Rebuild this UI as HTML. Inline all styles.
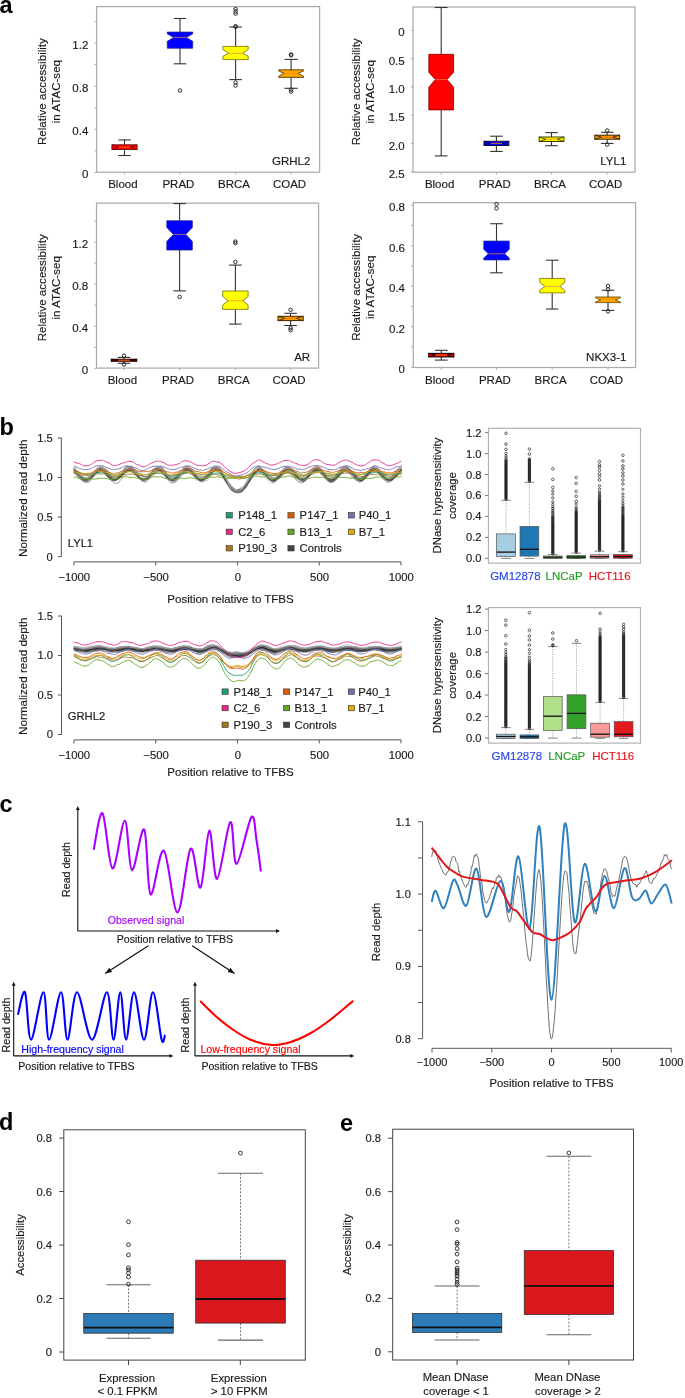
<!DOCTYPE html>
<html><head><meta charset="utf-8"><style>
html,body{margin:0;padding:0;background:#fff;}
svg{display:block;will-change:transform;}
text{font-family:"Liberation Sans", sans-serif;}
</style></head><body>
<svg width="685" height="1398" viewBox="0 0 685 1398">
<rect width="685" height="1398" fill="#fff"/>
<text x="-0.50" y="12.60" font-size="23.5" text-anchor="start" fill="#000" font-weight="bold">a</text>
<text x="-0.50" y="435.00" font-size="23.5" text-anchor="start" fill="#000" font-weight="bold">b</text>
<text x="-0.50" y="811.70" font-size="23.5" text-anchor="start" fill="#000" font-weight="bold">c</text>
<text x="-1.00" y="1130.00" font-size="23.5" text-anchor="start" fill="#000" font-weight="bold">d</text>
<text x="340.00" y="1130.60" font-size="23.5" text-anchor="start" fill="#000" font-weight="bold">e</text>
<rect x="96.60" y="6.60" width="223.00" height="165.60" fill="none" stroke="#ababab" stroke-width="1.25"/>
<line x1="94.40" y1="172.40" x2="96.60" y2="172.40" stroke="#ababab" stroke-width="1"/>
<line x1="94.40" y1="150.86" x2="96.60" y2="150.86" stroke="#ababab" stroke-width="1"/>
<line x1="94.40" y1="129.32" x2="96.60" y2="129.32" stroke="#ababab" stroke-width="1"/>
<line x1="94.40" y1="107.78" x2="96.60" y2="107.78" stroke="#ababab" stroke-width="1"/>
<line x1="94.40" y1="86.24" x2="96.60" y2="86.24" stroke="#ababab" stroke-width="1"/>
<line x1="94.40" y1="64.70" x2="96.60" y2="64.70" stroke="#ababab" stroke-width="1"/>
<line x1="94.40" y1="43.16" x2="96.60" y2="43.16" stroke="#ababab" stroke-width="1"/>
<line x1="94.40" y1="21.62" x2="96.60" y2="21.62" stroke="#ababab" stroke-width="1"/>
<text x="88.30" y="178.30" font-size="11.5" text-anchor="end" fill="#1a1a1a" font-weight="normal" stroke="#1a1a1a" stroke-width="0.15">0</text>
<text x="88.30" y="135.22" font-size="11.5" text-anchor="end" fill="#1a1a1a" font-weight="normal" stroke="#1a1a1a" stroke-width="0.15">0.4</text>
<text x="88.30" y="92.14" font-size="11.5" text-anchor="end" fill="#1a1a1a" font-weight="normal" stroke="#1a1a1a" stroke-width="0.15">0.8</text>
<text x="88.30" y="49.06" font-size="11.5" text-anchor="end" fill="#1a1a1a" font-weight="normal" stroke="#1a1a1a" stroke-width="0.15">1.2</text>
<line x1="124.50" y1="172.20" x2="124.50" y2="174.40" stroke="#ababab" stroke-width="1"/>
<line x1="180.00" y1="172.20" x2="180.00" y2="174.40" stroke="#ababab" stroke-width="1"/>
<line x1="235.60" y1="172.20" x2="235.60" y2="174.40" stroke="#ababab" stroke-width="1"/>
<line x1="291.10" y1="172.20" x2="291.10" y2="174.40" stroke="#ababab" stroke-width="1"/>
<text x="122.90" y="187.70" font-size="11.5" text-anchor="middle" fill="#1a1a1a" font-weight="normal" stroke="#1a1a1a" stroke-width="0.15">Blood</text>
<text x="178.40" y="187.70" font-size="11.5" text-anchor="middle" fill="#1a1a1a" font-weight="normal" stroke="#1a1a1a" stroke-width="0.15">PRAD</text>
<text x="234.00" y="187.70" font-size="11.5" text-anchor="middle" fill="#1a1a1a" font-weight="normal" stroke="#1a1a1a" stroke-width="0.15">BRCA</text>
<text x="289.50" y="187.70" font-size="11.5" text-anchor="middle" fill="#1a1a1a" font-weight="normal" stroke="#1a1a1a" stroke-width="0.15">COAD</text>
<text x="46.30" y="91.60" font-size="11.6" text-anchor="middle" fill="#1a1a1a" font-weight="normal" stroke="#1a1a1a" stroke-width="0.15" transform="rotate(-90 46.30 91.60)">Relative accessibility</text>
<text x="60.10" y="91.60" font-size="11.6" text-anchor="middle" fill="#1a1a1a" font-weight="normal" stroke="#1a1a1a" stroke-width="0.15" transform="rotate(-90 60.10 91.60)">in ATAC-seq</text>
<text x="310.40" y="164.70" font-size="11.5" text-anchor="end" fill="#1a1a1a" font-weight="normal" stroke="#1a1a1a" stroke-width="0.15">GRHL2</text>
<line x1="124.50" y1="139.90" x2="124.50" y2="144.80" stroke="#333" stroke-width="1.1"/>
<line x1="124.50" y1="149.60" x2="124.50" y2="155.50" stroke="#333" stroke-width="1.1"/>
<line x1="118.30" y1="139.90" x2="130.70" y2="139.90" stroke="#333" stroke-width="1.1"/>
<line x1="118.30" y1="155.50" x2="130.70" y2="155.50" stroke="#333" stroke-width="1.1"/>
<rect x="111.90" y="144.80" width="25.20" height="4.80" fill="#ff0000" stroke="#600000" stroke-width="0.8"/>
<path d="M111.9,144.8 L118.8,147.2 L111.9,149.6" stroke="#600000" stroke-width="0.7200000000000001" fill="none"/>
<path d="M137.1,144.8 L130.2,147.2 L137.1,149.6" stroke="#600000" stroke-width="0.7200000000000001" fill="none"/>
<line x1="118.83" y1="147.20" x2="130.17" y2="147.20" stroke="#ff7f00" stroke-width="0.8"/>
<line x1="180.00" y1="18.50" x2="180.00" y2="32.10" stroke="#333" stroke-width="1.1"/>
<line x1="180.00" y1="48.20" x2="180.00" y2="63.80" stroke="#333" stroke-width="1.1"/>
<line x1="173.70" y1="18.50" x2="186.30" y2="18.50" stroke="#333" stroke-width="1.1"/>
<line x1="173.70" y1="63.80" x2="186.30" y2="63.80" stroke="#333" stroke-width="1.1"/>
<path d="M167.3,32.1 L192.7,32.1 L192.7,33.9 L186.2,37.4 L192.7,41.3 L192.7,48.2 L167.3,48.2 L167.3,41.3 L173.8,37.4 L167.3,33.9Z" stroke="#2020a0" stroke-width="0.8" fill="#0000ff"/>
<line x1="173.80" y1="37.40" x2="186.20" y2="37.40" stroke="#ff8040" stroke-width="0.7"/>
<circle cx="180.00" cy="90.50" r="1.75" fill="none" stroke="#222" stroke-width="0.95"/>
<line x1="235.60" y1="27.00" x2="235.60" y2="46.40" stroke="#333" stroke-width="1.1"/>
<line x1="235.60" y1="59.60" x2="235.60" y2="79.60" stroke="#333" stroke-width="1.1"/>
<line x1="229.30" y1="27.00" x2="241.90" y2="27.00" stroke="#333" stroke-width="1.1"/>
<line x1="229.30" y1="79.60" x2="241.90" y2="79.60" stroke="#333" stroke-width="1.1"/>
<path d="M222.9,46.4 L248.2,46.4 L248.2,49.6 L242.6,53.4 L248.2,56.2 L248.2,59.6 L222.9,59.6 L222.9,56.2 L228.6,53.4 L222.9,49.6Z" stroke="#707000" stroke-width="0.8" fill="#ffff00"/>
<line x1="228.60" y1="53.40" x2="242.60" y2="53.40" stroke="#ff8040" stroke-width="0.7"/>
<circle cx="235.60" cy="26.30" r="1.75" fill="none" stroke="#222" stroke-width="0.95"/>
<circle cx="235.60" cy="26.60" r="1.75" fill="none" stroke="#222" stroke-width="0.95"/>
<circle cx="235.60" cy="9.00" r="1.75" fill="none" stroke="#222" stroke-width="0.95"/>
<circle cx="235.60" cy="11.50" r="1.75" fill="none" stroke="#222" stroke-width="0.95"/>
<circle cx="235.60" cy="13.60" r="1.75" fill="none" stroke="#222" stroke-width="0.95"/>
<circle cx="235.60" cy="82.50" r="1.75" fill="none" stroke="#222" stroke-width="0.95"/>
<circle cx="235.60" cy="85.50" r="1.75" fill="none" stroke="#222" stroke-width="0.95"/>
<line x1="291.10" y1="59.40" x2="291.10" y2="69.80" stroke="#333" stroke-width="1.1"/>
<line x1="291.10" y1="77.40" x2="291.10" y2="88.30" stroke="#333" stroke-width="1.1"/>
<line x1="284.50" y1="59.40" x2="297.70" y2="59.40" stroke="#333" stroke-width="1.1"/>
<line x1="284.50" y1="88.30" x2="297.70" y2="88.30" stroke="#333" stroke-width="1.1"/>
<path d="M278.7,69.8 L303.5,69.8 L303.5,70.9 L298.1,73.4 L303.5,76.2 L303.5,77.4 L278.7,77.4 L278.7,76.2 L284.1,73.4 L278.7,70.9Z" stroke="#3a2a00" stroke-width="0.8" fill="#ffa500"/>
<line x1="284.10" y1="73.40" x2="298.10" y2="73.40" stroke="#ff9000" stroke-width="0.7"/>
<circle cx="291.10" cy="54.50" r="1.75" fill="none" stroke="#222" stroke-width="0.95"/>
<circle cx="291.10" cy="55.30" r="1.75" fill="none" stroke="#222" stroke-width="0.95"/>
<circle cx="291.10" cy="89.60" r="1.75" fill="none" stroke="#222" stroke-width="0.95"/>
<circle cx="291.10" cy="91.60" r="1.75" fill="none" stroke="#222" stroke-width="0.95"/>
<rect x="413.00" y="7.00" width="222.00" height="165.20" fill="none" stroke="#ababab" stroke-width="1.25"/>
<line x1="410.80" y1="30.40" x2="413.00" y2="30.40" stroke="#ababab" stroke-width="1"/>
<line x1="410.80" y1="58.70" x2="413.00" y2="58.70" stroke="#ababab" stroke-width="1"/>
<line x1="410.80" y1="87.00" x2="413.00" y2="87.00" stroke="#ababab" stroke-width="1"/>
<line x1="410.80" y1="115.30" x2="413.00" y2="115.30" stroke="#ababab" stroke-width="1"/>
<line x1="410.80" y1="143.60" x2="413.00" y2="143.60" stroke="#ababab" stroke-width="1"/>
<line x1="410.80" y1="171.90" x2="413.00" y2="171.90" stroke="#ababab" stroke-width="1"/>
<text x="404.70" y="36.30" font-size="11.5" text-anchor="end" fill="#1a1a1a" font-weight="normal" stroke="#1a1a1a" stroke-width="0.15">0</text>
<text x="404.70" y="64.60" font-size="11.5" text-anchor="end" fill="#1a1a1a" font-weight="normal" stroke="#1a1a1a" stroke-width="0.15">0.5</text>
<text x="404.70" y="92.90" font-size="11.5" text-anchor="end" fill="#1a1a1a" font-weight="normal" stroke="#1a1a1a" stroke-width="0.15">1.0</text>
<text x="404.70" y="121.20" font-size="11.5" text-anchor="end" fill="#1a1a1a" font-weight="normal" stroke="#1a1a1a" stroke-width="0.15">1.5</text>
<text x="404.70" y="149.50" font-size="11.5" text-anchor="end" fill="#1a1a1a" font-weight="normal" stroke="#1a1a1a" stroke-width="0.15">2.0</text>
<text x="404.70" y="177.80" font-size="11.5" text-anchor="end" fill="#1a1a1a" font-weight="normal" stroke="#1a1a1a" stroke-width="0.15">2.5</text>
<line x1="441.20" y1="172.20" x2="441.20" y2="174.40" stroke="#ababab" stroke-width="1"/>
<line x1="496.40" y1="172.20" x2="496.40" y2="174.40" stroke="#ababab" stroke-width="1"/>
<line x1="551.50" y1="172.20" x2="551.50" y2="174.40" stroke="#ababab" stroke-width="1"/>
<line x1="607.20" y1="172.20" x2="607.20" y2="174.40" stroke="#ababab" stroke-width="1"/>
<text x="439.60" y="187.70" font-size="11.5" text-anchor="middle" fill="#1a1a1a" font-weight="normal" stroke="#1a1a1a" stroke-width="0.15">Blood</text>
<text x="494.80" y="187.70" font-size="11.5" text-anchor="middle" fill="#1a1a1a" font-weight="normal" stroke="#1a1a1a" stroke-width="0.15">PRAD</text>
<text x="549.90" y="187.70" font-size="11.5" text-anchor="middle" fill="#1a1a1a" font-weight="normal" stroke="#1a1a1a" stroke-width="0.15">BRCA</text>
<text x="605.60" y="187.70" font-size="11.5" text-anchor="middle" fill="#1a1a1a" font-weight="normal" stroke="#1a1a1a" stroke-width="0.15">COAD</text>
<text x="360.30" y="91.80" font-size="11.6" text-anchor="middle" fill="#1a1a1a" font-weight="normal" stroke="#1a1a1a" stroke-width="0.15" transform="rotate(-90 360.30 91.80)">Relative accessibility</text>
<text x="374.10" y="91.80" font-size="11.6" text-anchor="middle" fill="#1a1a1a" font-weight="normal" stroke="#1a1a1a" stroke-width="0.15" transform="rotate(-90 374.10 91.80)">in ATAC-seq</text>
<text x="626.30" y="164.70" font-size="11.5" text-anchor="end" fill="#1a1a1a" font-weight="normal" stroke="#1a1a1a" stroke-width="0.15">LYL1</text>
<line x1="441.20" y1="7.50" x2="441.20" y2="54.30" stroke="#333" stroke-width="1.1"/>
<line x1="441.20" y1="109.90" x2="441.20" y2="155.90" stroke="#333" stroke-width="1.1"/>
<line x1="434.85" y1="7.50" x2="447.55" y2="7.50" stroke="#333" stroke-width="1.1"/>
<line x1="434.85" y1="155.90" x2="447.55" y2="155.90" stroke="#333" stroke-width="1.1"/>
<path d="M428.8,54.3 L453.6,54.3 L453.6,72.3 L447.1,79.6 L453.6,87.3 L453.6,109.9 L428.8,109.9 L428.8,87.3 L435.3,79.6 L428.8,72.3Z" stroke="#800000" stroke-width="0.8" fill="#ff0000"/>
<line x1="435.35" y1="79.60" x2="447.05" y2="79.60" stroke="#ff8040" stroke-width="0.7"/>
<line x1="496.40" y1="136.20" x2="496.40" y2="141.30" stroke="#333" stroke-width="1.1"/>
<line x1="496.40" y1="145.50" x2="496.40" y2="151.40" stroke="#333" stroke-width="1.1"/>
<line x1="490.10" y1="136.20" x2="502.70" y2="136.20" stroke="#333" stroke-width="1.1"/>
<line x1="490.10" y1="151.40" x2="502.70" y2="151.40" stroke="#333" stroke-width="1.1"/>
<rect x="484.00" y="141.30" width="24.80" height="4.20" fill="#0000ff" stroke="#000040" stroke-width="1.0"/>
<path d="M484.0,141.3 L490.8,143.4 L484.0,145.5" stroke="#000040" stroke-width="0.9" fill="none"/>
<path d="M508.8,141.3 L502.0,143.4 L508.8,145.5" stroke="#000040" stroke-width="0.9" fill="none"/>
<line x1="490.82" y1="143.40" x2="501.98" y2="143.40" stroke="#ff7f00" stroke-width="0.8"/>
<line x1="551.50" y1="132.60" x2="551.50" y2="137.00" stroke="#333" stroke-width="1.1"/>
<line x1="551.50" y1="141.50" x2="551.50" y2="145.70" stroke="#333" stroke-width="1.1"/>
<line x1="545.20" y1="132.60" x2="557.80" y2="132.60" stroke="#333" stroke-width="1.1"/>
<line x1="545.20" y1="145.70" x2="557.80" y2="145.70" stroke="#333" stroke-width="1.1"/>
<rect x="539.10" y="137.00" width="24.80" height="4.50" fill="#ffff00" stroke="#404000" stroke-width="1.0"/>
<path d="M539.1,137.0 L545.9,139.2 L539.1,141.5" stroke="#404000" stroke-width="0.9" fill="none"/>
<path d="M563.9,137.0 L557.1,139.2 L563.9,141.5" stroke="#404000" stroke-width="0.9" fill="none"/>
<line x1="545.92" y1="139.20" x2="557.08" y2="139.20" stroke="#ff7f00" stroke-width="0.8"/>
<line x1="607.20" y1="132.30" x2="607.20" y2="135.20" stroke="#333" stroke-width="1.1"/>
<line x1="607.20" y1="139.20" x2="607.20" y2="143.40" stroke="#333" stroke-width="1.1"/>
<line x1="600.90" y1="132.30" x2="613.50" y2="132.30" stroke="#333" stroke-width="1.1"/>
<line x1="600.90" y1="143.40" x2="613.50" y2="143.40" stroke="#333" stroke-width="1.1"/>
<rect x="594.80" y="135.20" width="24.80" height="4.00" fill="#ffa500" stroke="#402000" stroke-width="1.0"/>
<path d="M594.8,135.2 L601.6,137.2 L594.8,139.2" stroke="#402000" stroke-width="0.9" fill="none"/>
<path d="M619.6,135.2 L612.8,137.2 L619.6,139.2" stroke="#402000" stroke-width="0.9" fill="none"/>
<line x1="601.62" y1="137.20" x2="612.78" y2="137.20" stroke="#ff6000" stroke-width="0.8"/>
<circle cx="607.20" cy="130.50" r="1.75" fill="none" stroke="#222" stroke-width="0.95"/>
<circle cx="607.20" cy="144.60" r="1.75" fill="none" stroke="#222" stroke-width="0.95"/>
<rect x="96.50" y="203.10" width="222.10" height="165.00" fill="none" stroke="#ababab" stroke-width="1.25"/>
<line x1="94.30" y1="368.40" x2="96.50" y2="368.40" stroke="#ababab" stroke-width="1"/>
<line x1="94.30" y1="347.34" x2="96.50" y2="347.34" stroke="#ababab" stroke-width="1"/>
<line x1="94.30" y1="326.28" x2="96.50" y2="326.28" stroke="#ababab" stroke-width="1"/>
<line x1="94.30" y1="305.22" x2="96.50" y2="305.22" stroke="#ababab" stroke-width="1"/>
<line x1="94.30" y1="284.16" x2="96.50" y2="284.16" stroke="#ababab" stroke-width="1"/>
<line x1="94.30" y1="263.10" x2="96.50" y2="263.10" stroke="#ababab" stroke-width="1"/>
<line x1="94.30" y1="242.04" x2="96.50" y2="242.04" stroke="#ababab" stroke-width="1"/>
<line x1="94.30" y1="220.98" x2="96.50" y2="220.98" stroke="#ababab" stroke-width="1"/>
<text x="88.20" y="374.30" font-size="11.5" text-anchor="end" fill="#1a1a1a" font-weight="normal" stroke="#1a1a1a" stroke-width="0.15">0</text>
<text x="88.20" y="332.18" font-size="11.5" text-anchor="end" fill="#1a1a1a" font-weight="normal" stroke="#1a1a1a" stroke-width="0.15">0.4</text>
<text x="88.20" y="290.06" font-size="11.5" text-anchor="end" fill="#1a1a1a" font-weight="normal" stroke="#1a1a1a" stroke-width="0.15">0.8</text>
<text x="88.20" y="247.94" font-size="11.5" text-anchor="end" fill="#1a1a1a" font-weight="normal" stroke="#1a1a1a" stroke-width="0.15">1.2</text>
<line x1="124.00" y1="368.10" x2="124.00" y2="370.30" stroke="#ababab" stroke-width="1"/>
<line x1="179.60" y1="368.10" x2="179.60" y2="370.30" stroke="#ababab" stroke-width="1"/>
<line x1="235.40" y1="368.10" x2="235.40" y2="370.30" stroke="#ababab" stroke-width="1"/>
<line x1="290.60" y1="368.10" x2="290.60" y2="370.30" stroke="#ababab" stroke-width="1"/>
<text x="122.40" y="383.60" font-size="11.5" text-anchor="middle" fill="#1a1a1a" font-weight="normal" stroke="#1a1a1a" stroke-width="0.15">Blood</text>
<text x="178.00" y="383.60" font-size="11.5" text-anchor="middle" fill="#1a1a1a" font-weight="normal" stroke="#1a1a1a" stroke-width="0.15">PRAD</text>
<text x="233.80" y="383.60" font-size="11.5" text-anchor="middle" fill="#1a1a1a" font-weight="normal" stroke="#1a1a1a" stroke-width="0.15">BRCA</text>
<text x="289.00" y="383.60" font-size="11.5" text-anchor="middle" fill="#1a1a1a" font-weight="normal" stroke="#1a1a1a" stroke-width="0.15">COAD</text>
<text x="46.30" y="287.80" font-size="11.6" text-anchor="middle" fill="#1a1a1a" font-weight="normal" stroke="#1a1a1a" stroke-width="0.15" transform="rotate(-90 46.30 287.80)">Relative accessibility</text>
<text x="60.10" y="287.80" font-size="11.6" text-anchor="middle" fill="#1a1a1a" font-weight="normal" stroke="#1a1a1a" stroke-width="0.15" transform="rotate(-90 60.10 287.80)">in ATAC-seq</text>
<text x="310.20" y="360.90" font-size="11.5" text-anchor="end" fill="#1a1a1a" font-weight="normal" stroke="#1a1a1a" stroke-width="0.15">AR</text>
<line x1="124.00" y1="357.40" x2="124.00" y2="359.30" stroke="#333" stroke-width="1.1"/>
<line x1="124.00" y1="361.20" x2="124.00" y2="363.30" stroke="#333" stroke-width="1.1"/>
<line x1="117.70" y1="357.40" x2="130.30" y2="357.40" stroke="#333" stroke-width="1.1"/>
<line x1="117.70" y1="363.30" x2="130.30" y2="363.30" stroke="#333" stroke-width="1.1"/>
<rect x="111.30" y="359.30" width="25.40" height="1.90" fill="#ff0000" stroke="#200000" stroke-width="1.1"/>
<path d="M111.3,359.3 L118.3,360.2 L111.3,361.2" stroke="#200000" stroke-width="0.9900000000000001" fill="none"/>
<path d="M136.7,359.3 L129.7,360.2 L136.7,361.2" stroke="#200000" stroke-width="0.9900000000000001" fill="none"/>
<line x1="118.28" y1="360.20" x2="129.72" y2="360.20" stroke="#ff7f00" stroke-width="0.8"/>
<circle cx="124.00" cy="355.70" r="1.75" fill="none" stroke="#222" stroke-width="0.95"/>
<circle cx="124.00" cy="364.40" r="1.75" fill="none" stroke="#222" stroke-width="0.95"/>
<line x1="179.60" y1="203.60" x2="179.60" y2="220.80" stroke="#333" stroke-width="1.1"/>
<line x1="179.60" y1="250.00" x2="179.60" y2="290.90" stroke="#333" stroke-width="1.1"/>
<line x1="173.40" y1="203.60" x2="185.80" y2="203.60" stroke="#333" stroke-width="1.1"/>
<line x1="173.40" y1="290.90" x2="185.80" y2="290.90" stroke="#333" stroke-width="1.1"/>
<path d="M166.8,220.8 L192.3,220.8 L192.3,227.4 L185.8,234.4 L192.3,241.4 L192.3,250.0 L166.8,250.0 L166.8,241.4 L173.4,234.4 L166.8,227.4Z" stroke="#2020a0" stroke-width="0.8" fill="#0000ff"/>
<line x1="173.40" y1="234.40" x2="185.80" y2="234.40" stroke="#ff8040" stroke-width="0.7"/>
<circle cx="179.60" cy="296.90" r="1.75" fill="none" stroke="#222" stroke-width="0.95"/>
<line x1="235.40" y1="265.10" x2="235.40" y2="291.00" stroke="#333" stroke-width="1.1"/>
<line x1="235.40" y1="309.40" x2="235.40" y2="324.10" stroke="#333" stroke-width="1.1"/>
<line x1="229.10" y1="265.10" x2="241.70" y2="265.10" stroke="#333" stroke-width="1.1"/>
<line x1="229.10" y1="324.10" x2="241.70" y2="324.10" stroke="#333" stroke-width="1.1"/>
<path d="M222.7,291.0 L248.1,291.0 L248.1,296.6 L242.8,300.7 L248.1,304.9 L248.1,309.4 L222.7,309.4 L222.7,304.9 L228.0,300.7 L222.7,296.6Z" stroke="#707000" stroke-width="0.8" fill="#ffff00"/>
<line x1="227.95" y1="300.70" x2="242.85" y2="300.70" stroke="#ff8040" stroke-width="0.7"/>
<circle cx="235.40" cy="261.90" r="1.75" fill="none" stroke="#222" stroke-width="0.95"/>
<circle cx="235.40" cy="241.60" r="1.75" fill="none" stroke="#222" stroke-width="0.95"/>
<circle cx="235.40" cy="243.20" r="1.75" fill="none" stroke="#222" stroke-width="0.95"/>
<line x1="290.60" y1="313.30" x2="290.60" y2="316.30" stroke="#333" stroke-width="1.1"/>
<line x1="290.60" y1="320.60" x2="290.60" y2="325.50" stroke="#333" stroke-width="1.1"/>
<line x1="284.30" y1="313.30" x2="296.90" y2="313.30" stroke="#333" stroke-width="1.1"/>
<line x1="284.30" y1="325.50" x2="296.90" y2="325.50" stroke="#333" stroke-width="1.1"/>
<rect x="278.00" y="316.30" width="25.20" height="4.30" fill="#ffa500" stroke="#402000" stroke-width="1.0"/>
<path d="M278.0,316.3 L284.9,318.4 L278.0,320.6" stroke="#402000" stroke-width="0.9" fill="none"/>
<path d="M303.2,316.3 L296.3,318.4 L303.2,320.6" stroke="#402000" stroke-width="0.9" fill="none"/>
<line x1="284.93" y1="318.40" x2="296.27" y2="318.40" stroke="#ff6000" stroke-width="0.8"/>
<circle cx="290.60" cy="309.80" r="1.75" fill="none" stroke="#222" stroke-width="0.95"/>
<circle cx="290.60" cy="328.20" r="1.75" fill="none" stroke="#222" stroke-width="0.95"/>
<circle cx="290.60" cy="330.20" r="1.75" fill="none" stroke="#222" stroke-width="0.95"/>
<rect x="413.30" y="202.70" width="222.30" height="164.80" fill="none" stroke="#ababab" stroke-width="1.25"/>
<line x1="411.10" y1="367.20" x2="413.30" y2="367.20" stroke="#ababab" stroke-width="1"/>
<line x1="411.10" y1="346.95" x2="413.30" y2="346.95" stroke="#ababab" stroke-width="1"/>
<line x1="411.10" y1="326.70" x2="413.30" y2="326.70" stroke="#ababab" stroke-width="1"/>
<line x1="411.10" y1="306.45" x2="413.30" y2="306.45" stroke="#ababab" stroke-width="1"/>
<line x1="411.10" y1="286.20" x2="413.30" y2="286.20" stroke="#ababab" stroke-width="1"/>
<line x1="411.10" y1="265.95" x2="413.30" y2="265.95" stroke="#ababab" stroke-width="1"/>
<line x1="411.10" y1="245.70" x2="413.30" y2="245.70" stroke="#ababab" stroke-width="1"/>
<line x1="411.10" y1="225.45" x2="413.30" y2="225.45" stroke="#ababab" stroke-width="1"/>
<line x1="411.10" y1="205.20" x2="413.30" y2="205.20" stroke="#ababab" stroke-width="1"/>
<text x="405.00" y="373.10" font-size="11.5" text-anchor="end" fill="#1a1a1a" font-weight="normal" stroke="#1a1a1a" stroke-width="0.15">0</text>
<text x="405.00" y="332.60" font-size="11.5" text-anchor="end" fill="#1a1a1a" font-weight="normal" stroke="#1a1a1a" stroke-width="0.15">0.2</text>
<text x="405.00" y="292.10" font-size="11.5" text-anchor="end" fill="#1a1a1a" font-weight="normal" stroke="#1a1a1a" stroke-width="0.15">0.4</text>
<text x="405.00" y="251.60" font-size="11.5" text-anchor="end" fill="#1a1a1a" font-weight="normal" stroke="#1a1a1a" stroke-width="0.15">0.6</text>
<text x="405.00" y="211.10" font-size="11.5" text-anchor="end" fill="#1a1a1a" font-weight="normal" stroke="#1a1a1a" stroke-width="0.15">0.8</text>
<line x1="441.30" y1="367.50" x2="441.30" y2="369.70" stroke="#ababab" stroke-width="1"/>
<line x1="496.50" y1="367.50" x2="496.50" y2="369.70" stroke="#ababab" stroke-width="1"/>
<line x1="552.20" y1="367.50" x2="552.20" y2="369.70" stroke="#ababab" stroke-width="1"/>
<line x1="608.00" y1="367.50" x2="608.00" y2="369.70" stroke="#ababab" stroke-width="1"/>
<text x="439.70" y="383.70" font-size="11.5" text-anchor="middle" fill="#1a1a1a" font-weight="normal" stroke="#1a1a1a" stroke-width="0.15">Blood</text>
<text x="494.90" y="383.70" font-size="11.5" text-anchor="middle" fill="#1a1a1a" font-weight="normal" stroke="#1a1a1a" stroke-width="0.15">PRAD</text>
<text x="550.60" y="383.70" font-size="11.5" text-anchor="middle" fill="#1a1a1a" font-weight="normal" stroke="#1a1a1a" stroke-width="0.15">BRCA</text>
<text x="606.40" y="383.70" font-size="11.5" text-anchor="middle" fill="#1a1a1a" font-weight="normal" stroke="#1a1a1a" stroke-width="0.15">COAD</text>
<text x="360.30" y="287.30" font-size="11.6" text-anchor="middle" fill="#1a1a1a" font-weight="normal" stroke="#1a1a1a" stroke-width="0.15" transform="rotate(-90 360.30 287.30)">Relative accessibility</text>
<text x="374.10" y="287.30" font-size="11.6" text-anchor="middle" fill="#1a1a1a" font-weight="normal" stroke="#1a1a1a" stroke-width="0.15" transform="rotate(-90 374.10 287.30)">in ATAC-seq</text>
<text x="626.40" y="360.90" font-size="11.5" text-anchor="end" fill="#1a1a1a" font-weight="normal" stroke="#1a1a1a" stroke-width="0.15">NKX3-1</text>
<line x1="441.30" y1="350.30" x2="441.30" y2="353.40" stroke="#333" stroke-width="1.1"/>
<line x1="441.30" y1="356.90" x2="441.30" y2="360.10" stroke="#333" stroke-width="1.1"/>
<line x1="435.00" y1="350.30" x2="447.60" y2="350.30" stroke="#333" stroke-width="1.1"/>
<line x1="435.00" y1="360.10" x2="447.60" y2="360.10" stroke="#333" stroke-width="1.1"/>
<rect x="428.75" y="353.40" width="25.10" height="3.50" fill="#ff0000" stroke="#200000" stroke-width="1.1"/>
<path d="M428.8,353.4 L435.7,355.1 L428.8,356.9" stroke="#200000" stroke-width="0.9900000000000001" fill="none"/>
<path d="M453.9,353.4 L446.9,355.1 L453.9,356.9" stroke="#200000" stroke-width="0.9900000000000001" fill="none"/>
<line x1="435.65" y1="355.10" x2="446.95" y2="355.10" stroke="#ff7f00" stroke-width="0.8"/>
<line x1="496.50" y1="223.70" x2="496.50" y2="241.10" stroke="#333" stroke-width="1.1"/>
<line x1="496.50" y1="259.90" x2="496.50" y2="272.80" stroke="#333" stroke-width="1.1"/>
<line x1="490.20" y1="223.70" x2="502.80" y2="223.70" stroke="#333" stroke-width="1.1"/>
<line x1="490.20" y1="272.80" x2="502.80" y2="272.80" stroke="#333" stroke-width="1.1"/>
<path d="M483.8,241.1 L509.2,241.1 L509.2,249.3 L504.7,253.8 L509.2,258.0 L509.2,259.9 L483.8,259.9 L483.8,258.0 L488.3,253.8 L483.8,249.3Z" stroke="#2020a0" stroke-width="0.8" fill="#0000ff"/>
<line x1="488.30" y1="253.80" x2="504.70" y2="253.80" stroke="#ff8040" stroke-width="0.7"/>
<circle cx="496.50" cy="208.40" r="1.75" fill="none" stroke="#222" stroke-width="0.95"/>
<circle cx="496.50" cy="204.20" r="1.75" fill="none" stroke="#222" stroke-width="0.95"/>
<line x1="552.20" y1="260.20" x2="552.20" y2="278.40" stroke="#333" stroke-width="1.1"/>
<line x1="552.20" y1="292.90" x2="552.20" y2="309.00" stroke="#333" stroke-width="1.1"/>
<line x1="545.95" y1="260.20" x2="558.45" y2="260.20" stroke="#333" stroke-width="1.1"/>
<line x1="545.95" y1="309.00" x2="558.45" y2="309.00" stroke="#333" stroke-width="1.1"/>
<path d="M539.7,278.4 L564.8,278.4 L564.8,282.4 L559.7,286.4 L564.8,290.3 L564.8,292.9 L539.7,292.9 L539.7,290.3 L544.8,286.4 L539.7,282.4Z" stroke="#707000" stroke-width="0.8" fill="#ffff00"/>
<line x1="544.75" y1="286.40" x2="559.65" y2="286.40" stroke="#ff8040" stroke-width="0.7"/>
<line x1="608.00" y1="290.30" x2="608.00" y2="297.00" stroke="#333" stroke-width="1.1"/>
<line x1="608.00" y1="302.60" x2="608.00" y2="310.40" stroke="#333" stroke-width="1.1"/>
<line x1="601.70" y1="290.30" x2="614.30" y2="290.30" stroke="#333" stroke-width="1.1"/>
<line x1="601.70" y1="310.40" x2="614.30" y2="310.40" stroke="#333" stroke-width="1.1"/>
<path d="M595.3,297.0 L620.7,297.0 L620.7,297.6 L615.3,299.9 L620.7,302.0 L620.7,302.6 L595.3,302.6 L595.3,302.0 L600.7,299.9 L595.3,297.6Z" stroke="#604000" stroke-width="0.8" fill="#ffa500"/>
<line x1="600.70" y1="299.90" x2="615.30" y2="299.90" stroke="#ff9000" stroke-width="0.7"/>
<circle cx="608.00" cy="285.90" r="1.75" fill="none" stroke="#222" stroke-width="0.95"/>
<circle cx="608.00" cy="289.40" r="1.75" fill="none" stroke="#222" stroke-width="0.95"/>
<circle cx="608.00" cy="311.30" r="1.75" fill="none" stroke="#222" stroke-width="0.95"/>
<path d="M73.8,471.4 L74.9,472.0 L76.0,472.5 L77.1,473.7 L78.2,475.1 L79.3,476.4 L80.4,477.6 L81.5,479.2 L82.6,480.3 L83.7,480.6 L84.8,481.8 L85.9,482.3 L87.0,481.9 L88.1,481.6 L89.2,481.5 L90.3,480.4 L91.4,479.4 L92.5,477.9 L93.6,476.6 L94.7,475.5 L95.8,474.2 L96.9,472.8 L98.0,472.0 L99.1,471.9 L100.2,471.3 L101.3,471.7 L102.4,472.3 L103.5,473.2 L104.6,473.6 L105.7,474.8 L106.8,475.5 L107.9,477.2 L109.0,478.7 L110.1,479.9 L111.2,480.4 L112.3,481.7 L113.4,482.2 L114.5,482.9 L115.6,483.3 L116.7,483.7 L117.8,483.4 L118.9,482.0 L120.0,480.4 L121.1,479.4 L122.2,477.9 L123.3,476.0 L124.4,474.7 L125.5,473.6 L126.6,472.6 L127.7,471.8 L128.8,471.9 L129.9,471.5 L131.0,471.1 L132.1,471.5 L133.2,472.8 L134.3,473.7 L135.4,474.6 L136.5,476.2 L137.6,477.3 L138.7,477.9 L139.8,479.0 L140.9,479.6 L142.0,479.2 L143.1,479.5 L144.2,479.9 L145.3,479.3 L146.4,479.1 L147.5,478.4 L148.6,477.5 L149.7,476.5 L150.8,475.5 L151.9,474.6 L153.0,474.0 L154.1,472.2 L155.2,470.6 L156.3,470.3 L157.4,470.1 L158.5,469.8 L159.6,470.2 L160.7,471.1 L161.8,471.3 L162.9,472.5 L164.0,473.3 L165.1,474.9 L166.2,476.3 L167.3,478.1 L168.4,478.9 L169.5,480.1 L170.6,480.9 L171.7,481.3 L172.8,481.4 L173.9,481.4 L175.0,481.4 L176.1,481.0 L177.2,480.3 L178.3,479.0 L179.4,477.9 L180.5,476.3 L181.6,474.8 L182.7,473.8 L183.8,473.1 L184.9,472.6 L186.0,471.9 L187.1,472.1 L188.2,472.3 L189.3,472.1 L190.4,472.3 L191.5,473.8 L192.6,475.4 L193.7,476.6 L194.8,478.1 L195.9,479.7 L197.0,480.3 L198.1,480.5 L199.2,481.5 L200.3,482.2 L201.4,482.0 L202.5,481.9 L203.6,482.0 L204.7,481.4 L205.8,480.8 L206.9,480.6 L208.0,480.0 L209.1,478.7 L210.2,477.5 L211.3,476.6 L212.4,475.2 L213.5,473.3 L214.6,472.3 L215.7,471.6 L216.8,471.8 L217.9,472.1 L219.0,473.0 L220.1,474.0 L221.2,475.6 L222.3,477.4 L223.4,478.8 L224.5,480.8 L225.6,482.4 L226.7,484.9 L227.8,485.8 L228.9,487.4 L230.0,488.8 L231.1,490.1 L232.2,490.4 L233.3,491.2 L234.4,492.0 L235.5,491.9 L236.6,492.0 L237.7,492.2 L238.8,491.6 L239.9,491.5 L241.0,491.2 L242.1,490.8 L243.2,490.0 L244.3,489.0 L245.4,487.3 L246.5,486.0 L247.6,484.4 L248.7,483.2 L249.8,481.4 L250.9,479.7 L252.0,478.5 L253.1,476.6 L254.2,474.8 L255.3,473.6 L256.4,472.3 L257.5,471.5 L258.6,471.3 L259.7,472.2 L260.8,472.7 L261.9,473.4 L263.0,473.8 L264.1,474.3 L265.2,474.7 L266.3,475.9 L267.4,477.7 L268.5,478.1 L269.6,479.4 L270.7,480.4 L271.8,480.9 L272.9,480.3 L274.0,480.6 L275.1,480.3 L276.2,479.0 L277.3,477.9 L278.4,476.7 L279.5,475.4 L280.6,474.0 L281.7,473.0 L282.8,472.3 L283.9,471.9 L285.0,470.7 L286.1,470.4 L287.2,470.9 L288.3,471.0 L289.4,471.9 L290.5,472.7 L291.6,473.5 L292.7,473.8 L293.8,475.1 L294.9,475.5 L296.0,477.0 L297.1,478.3 L298.2,479.0 L299.3,479.3 L300.4,479.8 L301.5,479.8 L302.6,480.1 L303.7,479.5 L304.8,479.7 L305.9,479.4 L307.0,479.0 L308.1,477.7 L309.2,476.9 L310.3,475.2 L311.4,473.8 L312.5,472.3 L313.6,472.1 L314.7,471.3 L315.8,470.4 L316.9,470.1 L318.0,470.3 L319.1,470.8 L320.2,472.1 L321.3,473.8 L322.4,475.0 L323.5,476.3 L324.6,478.2 L325.7,479.5 L326.8,480.4 L327.9,481.0 L329.0,482.0 L330.1,482.1 L331.2,481.9 L332.3,482.2 L333.4,482.2 L334.5,481.7 L335.6,480.4 L336.7,479.8 L337.8,478.5 L338.9,476.7 L340.0,475.6 L341.1,474.6 L342.2,474.2 L343.3,473.3 L344.4,473.4 L345.5,472.8 L346.6,473.0 L347.7,473.5 L348.8,473.9 L349.9,474.2 L351.0,476.0 L352.1,476.9 L353.2,477.9 L354.3,479.4 L355.4,480.1 L356.5,480.2 L357.6,480.4 L358.7,481.0 L359.8,480.7 L360.9,480.5 L362.0,479.9 L363.1,480.1 L364.2,479.0 L365.3,477.8 L366.4,477.0 L367.5,476.2 L368.6,474.0 L369.7,474.0 L370.8,473.1 L371.9,471.6 L373.0,471.7 L374.1,471.5 L375.2,470.7 L376.3,471.5 L377.4,472.7 L378.5,473.2 L379.6,474.8 L380.7,476.5 L381.8,477.6 L382.9,479.0 L384.0,479.9 L385.1,480.3 L386.2,481.3 L387.3,481.7 L388.4,481.8 L389.5,481.5 L390.6,481.1 L391.7,480.3 L392.8,478.8 L393.9,477.7 L395.0,476.4 L396.1,475.9 L397.2,473.9 L398.3,473.2 L399.4,472.4 L400.5,471.5 L401.6,470.4" stroke="rgb(185,185,185)" stroke-width="0.85" fill="none" stroke-linejoin="round" opacity="0.85"/>
<path d="M73.8,471.4 L74.9,472.4 L76.0,473.7 L77.1,474.6 L78.2,476.1 L79.3,477.5 L80.4,478.5 L81.5,479.5 L82.6,480.5 L83.7,480.7 L84.8,481.6 L85.9,482.6 L87.0,482.5 L88.1,482.0 L89.2,482.0 L90.3,481.1 L91.4,479.5 L92.5,478.4 L93.6,477.3 L94.7,475.9 L95.8,474.3 L96.9,473.1 L98.0,472.7 L99.1,471.7 L100.2,471.2 L101.3,470.9 L102.4,470.9 L103.5,471.2 L104.6,471.7 L105.7,472.6 L106.8,474.4 L107.9,476.0 L109.0,477.3 L110.1,478.9 L111.2,479.7 L112.3,481.1 L113.4,482.4 L114.5,483.1 L115.6,483.4 L116.7,482.9 L117.8,483.0 L118.9,482.0 L120.0,480.8 L121.1,479.3 L122.2,478.2 L123.3,476.2 L124.4,474.5 L125.5,473.4 L126.6,472.7 L127.7,472.1 L128.8,472.0 L129.9,471.4 L131.0,471.3 L132.1,472.4 L133.2,472.4 L134.3,473.3 L135.4,474.5 L136.5,475.4 L137.6,476.7 L138.7,477.4 L139.8,479.0 L140.9,480.1 L142.0,481.1 L143.1,481.0 L144.2,482.0 L145.3,482.3 L146.4,481.9 L147.5,480.7 L148.6,479.6 L149.7,477.7 L150.8,476.0 L151.9,474.4 L153.0,472.6 L154.1,471.5 L155.2,470.9 L156.3,470.4 L157.4,470.3 L158.5,471.2 L159.6,471.1 L160.7,471.9 L161.8,472.0 L162.9,472.6 L164.0,473.0 L165.1,474.7 L166.2,476.1 L167.3,477.8 L168.4,480.0 L169.5,481.1 L170.6,481.9 L171.7,482.4 L172.8,483.0 L173.9,482.9 L175.0,482.5 L176.1,481.6 L177.2,480.6 L178.3,479.4 L179.4,478.9 L180.5,477.6 L181.6,475.9 L182.7,475.2 L183.8,473.5 L184.9,472.3 L186.0,472.4 L187.1,471.6 L188.2,471.3 L189.3,471.5 L190.4,471.8 L191.5,472.0 L192.6,473.5 L193.7,474.6 L194.8,476.3 L195.9,477.9 L197.0,479.3 L198.1,479.8 L199.2,480.5 L200.3,481.2 L201.4,481.1 L202.5,481.6 L203.6,481.5 L204.7,480.8 L205.8,479.7 L206.9,478.8 L208.0,477.1 L209.1,475.1 L210.2,474.0 L211.3,473.1 L212.4,471.5 L213.5,470.7 L214.6,470.1 L215.7,469.5 L216.8,469.5 L217.9,470.1 L219.0,470.5 L220.1,471.6 L221.2,471.9 L222.3,473.8 L223.4,475.7 L224.5,477.3 L225.6,479.8 L226.7,481.9 L227.8,483.3 L228.9,485.0 L230.0,486.9 L231.1,488.3 L232.2,489.1 L233.3,490.6 L234.4,491.3 L235.5,491.8 L236.6,492.0 L237.7,492.0 L238.8,491.4 L239.9,491.0 L241.0,490.4 L242.1,489.2 L243.2,488.5 L244.3,487.0 L245.4,485.4 L246.5,483.9 L247.6,483.1 L248.7,480.6 L249.8,478.4 L250.9,477.3 L252.0,475.6 L253.1,473.8 L254.2,472.5 L255.3,471.9 L256.4,470.6 L257.5,470.4 L258.6,470.6 L259.7,470.9 L260.8,472.3 L261.9,473.6 L263.0,474.5 L264.1,476.0 L265.2,478.1 L266.3,479.3 L267.4,480.0 L268.5,481.1 L269.6,481.9 L270.7,482.5 L271.8,482.8 L272.9,483.3 L274.0,482.9 L275.1,482.0 L276.2,481.0 L277.3,479.7 L278.4,478.6 L279.5,477.0 L280.6,476.5 L281.7,474.8 L282.8,473.7 L283.9,472.6 L285.0,471.8 L286.1,471.0 L287.2,471.5 L288.3,471.9 L289.4,472.9 L290.5,473.8 L291.6,474.4 L292.7,476.4 L293.8,477.4 L294.9,478.5 L296.0,479.9 L297.1,480.9 L298.2,481.0 L299.3,481.7 L300.4,482.0 L301.5,482.4 L302.6,482.3 L303.7,482.4 L304.8,481.3 L305.9,480.0 L307.0,478.4 L308.1,476.9 L309.2,475.3 L310.3,474.2 L311.4,473.4 L312.5,472.0 L313.6,471.0 L314.7,469.8 L315.8,469.2 L316.9,469.0 L318.0,469.6 L319.1,470.6 L320.2,472.0 L321.3,473.0 L322.4,474.6 L323.5,475.8 L324.6,477.5 L325.7,479.0 L326.8,480.0 L327.9,481.2 L329.0,481.6 L330.1,481.7 L331.2,482.2 L332.3,481.8 L333.4,481.0 L334.5,480.2 L335.6,479.1 L336.7,477.3 L337.8,476.0 L338.9,474.7 L340.0,473.7 L341.1,472.0 L342.2,471.6 L343.3,470.5 L344.4,470.7 L345.5,470.1 L346.6,470.2 L347.7,471.5 L348.8,472.7 L349.9,473.4 L351.0,475.1 L352.1,476.9 L353.2,477.1 L354.3,477.9 L355.4,479.5 L356.5,480.4 L357.6,481.3 L358.7,482.2 L359.8,482.2 L360.9,481.5 L362.0,480.8 L363.1,479.6 L364.2,479.3 L365.3,478.3 L366.4,476.7 L367.5,475.5 L368.6,474.3 L369.7,472.6 L370.8,471.7 L371.9,470.8 L373.0,471.3 L374.1,471.1 L375.2,471.5 L376.3,471.9 L377.4,472.3 L378.5,473.7 L379.6,474.5 L380.7,476.2 L381.8,476.6 L382.9,478.5 L384.0,479.1 L385.1,480.1 L386.2,481.0 L387.3,482.0 L388.4,481.6 L389.5,481.3 L390.6,480.6 L391.7,479.8 L392.8,479.0 L393.9,478.4 L395.0,477.0 L396.1,475.6 L397.2,474.0 L398.3,473.1 L399.4,471.7 L400.5,470.4 L401.6,470.4" stroke="rgb(165,165,165)" stroke-width="0.85" fill="none" stroke-linejoin="round" opacity="0.85"/>
<path d="M73.8,471.4 L74.9,471.6 L76.0,472.7 L77.1,474.0 L78.2,475.5 L79.3,476.7 L80.4,478.3 L81.5,479.6 L82.6,481.2 L83.7,481.3 L84.8,481.6 L85.9,481.2 L87.0,480.7 L88.1,480.2 L89.2,479.5 L90.3,478.5 L91.4,477.9 L92.5,476.7 L93.6,474.7 L94.7,473.1 L95.8,472.2 L96.9,471.0 L98.0,469.6 L99.1,469.2 L100.2,469.4 L101.3,470.0 L102.4,470.2 L103.5,471.0 L104.6,472.5 L105.7,473.6 L106.8,474.7 L107.9,476.4 L109.0,477.8 L110.1,479.1 L111.2,480.1 L112.3,480.7 L113.4,480.7 L114.5,480.4 L115.6,480.4 L116.7,480.3 L117.8,479.2 L118.9,478.8 L120.0,477.8 L121.1,476.8 L122.2,475.5 L123.3,474.4 L124.4,472.6 L125.5,471.4 L126.6,469.9 L127.7,469.2 L128.8,469.4 L129.9,469.7 L131.0,470.1 L132.1,471.0 L133.2,472.4 L134.3,473.5 L135.4,474.7 L136.5,475.3 L137.6,476.7 L138.7,477.9 L139.8,478.8 L140.9,480.0 L142.0,481.1 L143.1,481.4 L144.2,482.0 L145.3,482.1 L146.4,481.1 L147.5,480.2 L148.6,479.1 L149.7,478.4 L150.8,476.9 L151.9,476.2 L153.0,474.4 L154.1,473.5 L155.2,472.0 L156.3,471.6 L157.4,471.1 L158.5,470.5 L159.6,470.4 L160.7,471.1 L161.8,472.7 L162.9,474.4 L164.0,475.8 L165.1,476.7 L166.2,478.0 L167.3,479.3 L168.4,480.8 L169.5,481.9 L170.6,482.8 L171.7,482.7 L172.8,482.4 L173.9,482.2 L175.0,481.9 L176.1,481.6 L177.2,480.6 L178.3,479.3 L179.4,477.5 L180.5,475.2 L181.6,473.9 L182.7,473.0 L183.8,471.4 L184.9,470.7 L186.0,471.1 L187.1,471.2 L188.2,472.0 L189.3,472.9 L190.4,473.7 L191.5,474.3 L192.6,475.5 L193.7,476.0 L194.8,477.6 L195.9,478.2 L197.0,479.2 L198.1,479.2 L199.2,479.9 L200.3,480.3 L201.4,480.9 L202.5,480.2 L203.6,480.3 L204.7,480.4 L205.8,479.8 L206.9,478.5 L208.0,477.4 L209.1,475.7 L210.2,474.4 L211.3,473.5 L212.4,472.2 L213.5,471.0 L214.6,470.2 L215.7,469.7 L216.8,470.0 L217.9,470.0 L219.0,471.3 L220.1,472.2 L221.2,472.6 L222.3,473.7 L223.4,475.9 L224.5,477.9 L225.6,480.1 L226.7,482.2 L227.8,484.3 L228.9,485.1 L230.0,486.5 L231.1,487.2 L232.2,488.2 L233.3,489.7 L234.4,491.0 L235.5,491.2 L236.6,492.0 L237.7,492.1 L238.8,491.6 L239.9,491.2 L241.0,491.3 L242.1,490.8 L243.2,490.0 L244.3,488.7 L245.4,487.1 L246.5,485.4 L247.6,483.1 L248.7,481.4 L249.8,480.2 L250.9,478.5 L252.0,476.9 L253.1,475.3 L254.2,474.1 L255.3,472.8 L256.4,472.4 L257.5,471.5 L258.6,471.1 L259.7,471.0 L260.8,471.0 L261.9,471.3 L263.0,472.0 L264.1,473.9 L265.2,474.8 L266.3,476.4 L267.4,477.9 L268.5,479.1 L269.6,479.1 L270.7,480.0 L271.8,480.7 L272.9,481.2 L274.0,480.9 L275.1,480.8 L276.2,480.2 L277.3,478.6 L278.4,477.7 L279.5,476.7 L280.6,475.3 L281.7,474.7 L282.8,473.7 L283.9,471.7 L285.0,471.2 L286.1,471.1 L287.2,471.1 L288.3,471.9 L289.4,473.1 L290.5,473.9 L291.6,474.5 L292.7,474.9 L293.8,476.0 L294.9,477.6 L296.0,479.2 L297.1,480.3 L298.2,482.0 L299.3,482.5 L300.4,483.0 L301.5,482.6 L302.6,482.7 L303.7,481.9 L304.8,481.6 L305.9,480.5 L307.0,479.8 L308.1,478.0 L309.2,476.8 L310.3,475.2 L311.4,473.5 L312.5,471.7 L313.6,471.1 L314.7,469.7 L315.8,469.2 L316.9,469.9 L318.0,470.4 L319.1,470.6 L320.2,471.3 L321.3,472.2 L322.4,473.3 L323.5,474.8 L324.6,476.0 L325.7,477.2 L326.8,478.9 L327.9,480.3 L329.0,481.3 L330.1,481.6 L331.2,482.1 L332.3,481.5 L333.4,480.3 L334.5,479.3 L335.6,479.2 L336.7,478.2 L337.8,477.3 L338.9,475.4 L340.0,474.0 L341.1,472.7 L342.2,471.5 L343.3,470.1 L344.4,469.7 L345.5,468.7 L346.6,469.2 L347.7,469.2 L348.8,469.8 L349.9,471.0 L351.0,472.5 L352.1,474.0 L353.2,475.5 L354.3,477.4 L355.4,478.8 L356.5,479.8 L357.6,480.7 L358.7,481.1 L359.8,481.5 L360.9,480.6 L362.0,480.1 L363.1,479.1 L364.2,478.5 L365.3,477.8 L366.4,476.6 L367.5,475.2 L368.6,474.0 L369.7,472.6 L370.8,470.9 L371.9,470.3 L373.0,469.9 L374.1,469.9 L375.2,469.0 L376.3,470.0 L377.4,471.4 L378.5,473.0 L379.6,474.0 L380.7,475.7 L381.8,476.9 L382.9,478.2 L384.0,479.3 L385.1,480.8 L386.2,481.5 L387.3,482.1 L388.4,482.5 L389.5,482.4 L390.6,481.6 L391.7,481.2 L392.8,480.3 L393.9,478.8 L395.0,477.4 L396.1,476.8 L397.2,475.5 L398.3,474.5 L399.4,473.3 L400.5,472.9 L401.6,472.1" stroke="rgb(145,145,145)" stroke-width="0.85" fill="none" stroke-linejoin="round" opacity="0.85"/>
<path d="M73.8,472.6 L74.9,473.0 L76.0,473.2 L77.1,474.8 L78.2,475.4 L79.3,476.7 L80.4,477.7 L81.5,478.2 L82.6,478.7 L83.7,479.6 L84.8,480.1 L85.9,480.2 L87.0,480.2 L88.1,479.7 L89.2,479.5 L90.3,477.9 L91.4,477.0 L92.5,475.9 L93.6,474.4 L94.7,473.5 L95.8,473.1 L96.9,472.7 L98.0,472.7 L99.1,472.5 L100.2,471.2 L101.3,470.9 L102.4,471.5 L103.5,472.0 L104.6,473.2 L105.7,474.6 L106.8,475.4 L107.9,477.2 L109.0,478.0 L110.1,478.8 L111.2,479.8 L112.3,480.3 L113.4,480.5 L114.5,480.6 L115.6,480.5 L116.7,480.1 L117.8,479.4 L118.9,478.7 L120.0,477.6 L121.1,476.6 L122.2,475.8 L123.3,474.7 L124.4,473.4 L125.5,472.9 L126.6,471.7 L127.7,471.5 L128.8,470.6 L129.9,470.6 L131.0,471.0 L132.1,472.0 L133.2,472.6 L134.3,473.4 L135.4,474.6 L136.5,475.2 L137.6,476.6 L138.7,477.8 L139.8,478.6 L140.9,479.2 L142.0,479.7 L143.1,479.7 L144.2,479.4 L145.3,480.2 L146.4,479.9 L147.5,479.3 L148.6,477.9 L149.7,477.4 L150.8,475.9 L151.9,474.3 L153.0,473.3 L154.1,472.7 L155.2,471.8 L156.3,470.8 L157.4,471.7 L158.5,471.3 L159.6,471.3 L160.7,472.4 L161.8,472.8 L162.9,473.6 L164.0,474.8 L165.1,475.8 L166.2,475.7 L167.3,477.5 L168.4,477.8 L169.5,478.9 L170.6,479.6 L171.7,481.1 L172.8,480.9 L173.9,480.8 L175.0,480.9 L176.1,480.0 L177.2,478.7 L178.3,477.4 L179.4,475.7 L180.5,474.4 L181.6,472.8 L182.7,472.1 L183.8,470.9 L184.9,471.3 L186.0,470.7 L187.1,470.9 L188.2,470.8 L189.3,471.6 L190.4,471.7 L191.5,472.9 L192.6,474.1 L193.7,475.4 L194.8,476.2 L195.9,477.1 L197.0,478.2 L198.1,478.4 L199.2,479.0 L200.3,479.5 L201.4,479.5 L202.5,478.7 L203.6,478.2 L204.7,477.7 L205.8,476.6 L206.9,475.9 L208.0,475.1 L209.1,474.1 L210.2,473.4 L211.3,472.8 L212.4,472.0 L213.5,471.4 L214.6,471.4 L215.7,470.7 L216.8,470.8 L217.9,471.0 L219.0,471.9 L220.1,472.3 L221.2,473.6 L222.3,475.2 L223.4,477.4 L224.5,479.5 L225.6,481.0 L226.7,482.2 L227.8,483.7 L228.9,485.0 L230.0,486.5 L231.1,487.8 L232.2,489.5 L233.3,489.7 L234.4,490.3 L235.5,490.3 L236.6,490.7 L237.7,490.7 L238.8,490.5 L239.9,489.9 L241.0,489.9 L242.1,489.2 L243.2,488.8 L244.3,488.0 L245.4,487.0 L246.5,485.0 L247.6,483.5 L248.7,481.0 L249.8,479.0 L250.9,476.9 L252.0,475.7 L253.1,474.2 L254.2,473.1 L255.3,471.9 L256.4,471.5 L257.5,471.1 L258.6,470.7 L259.7,470.9 L260.8,470.9 L261.9,470.8 L263.0,471.6 L264.1,472.3 L265.2,473.9 L266.3,475.0 L267.4,476.7 L268.5,478.3 L269.6,479.6 L270.7,480.4 L271.8,481.2 L272.9,482.0 L274.0,481.6 L275.1,481.6 L276.2,480.8 L277.3,480.2 L278.4,478.9 L279.5,477.7 L280.6,476.6 L281.7,475.6 L282.8,474.1 L283.9,473.3 L285.0,473.4 L286.1,472.8 L287.2,472.7 L288.3,472.4 L289.4,472.0 L290.5,472.3 L291.6,473.3 L292.7,474.2 L293.8,475.2 L294.9,476.4 L296.0,477.4 L297.1,478.4 L298.2,479.4 L299.3,479.8 L300.4,480.6 L301.5,480.4 L302.6,480.3 L303.7,480.6 L304.8,480.6 L305.9,479.6 L307.0,478.6 L308.1,477.6 L309.2,475.7 L310.3,474.3 L311.4,473.3 L312.5,472.4 L313.6,471.4 L314.7,471.2 L315.8,470.9 L316.9,470.8 L318.0,471.0 L319.1,471.6 L320.2,472.4 L321.3,473.3 L322.4,473.9 L323.5,475.0 L324.6,476.2 L325.7,477.1 L326.8,477.9 L327.9,479.2 L329.0,480.6 L330.1,481.3 L331.2,481.3 L332.3,481.6 L333.4,481.2 L334.5,480.1 L335.6,479.1 L336.7,477.2 L337.8,476.5 L338.9,474.3 L340.0,473.1 L341.1,472.1 L342.2,471.2 L343.3,470.0 L344.4,470.3 L345.5,469.9 L346.6,470.2 L347.7,471.2 L348.8,471.5 L349.9,472.0 L351.0,473.5 L352.1,474.3 L353.2,475.2 L354.3,476.7 L355.4,478.2 L356.5,478.9 L357.6,479.8 L358.7,480.0 L359.8,480.0 L360.9,479.6 L362.0,479.6 L363.1,479.0 L364.2,478.1 L365.3,477.8 L366.4,476.5 L367.5,475.9 L368.6,474.3 L369.7,473.6 L370.8,472.8 L371.9,472.1 L373.0,470.9 L374.1,470.6 L375.2,470.4 L376.3,470.7 L377.4,471.5 L378.5,472.5 L379.6,473.9 L380.7,474.4 L381.8,475.7 L382.9,476.8 L384.0,478.1 L385.1,478.4 L386.2,480.3 L387.3,479.9 L388.4,480.2 L389.5,480.2 L390.6,480.2 L391.7,479.5 L392.8,479.1 L393.9,478.7 L395.0,478.0 L396.1,477.0 L397.2,475.6 L398.3,474.6 L399.4,474.1 L400.5,473.3 L401.6,473.0" stroke="rgb(125,125,125)" stroke-width="0.85" fill="none" stroke-linejoin="round" opacity="0.85"/>
<path d="M73.8,472.7 L74.9,473.8 L76.0,474.6 L77.1,476.1 L78.2,477.3 L79.3,478.2 L80.4,478.9 L81.5,480.2 L82.6,480.7 L83.7,481.0 L84.8,482.0 L85.9,482.2 L87.0,481.9 L88.1,481.4 L89.2,481.2 L90.3,479.5 L91.4,478.4 L92.5,477.3 L93.6,476.0 L94.7,474.4 L95.8,473.7 L96.9,472.3 L98.0,470.7 L99.1,470.2 L100.2,469.6 L101.3,470.1 L102.4,470.4 L103.5,471.6 L104.6,472.3 L105.7,473.6 L106.8,474.5 L107.9,476.1 L109.0,477.2 L110.1,478.0 L111.2,478.7 L112.3,479.3 L113.4,479.9 L114.5,480.5 L115.6,480.7 L116.7,480.0 L117.8,479.2 L118.9,478.0 L120.0,477.0 L121.1,476.2 L122.2,475.1 L123.3,473.4 L124.4,472.6 L125.5,471.6 L126.6,470.8 L127.7,470.1 L128.8,470.5 L129.9,470.4 L131.0,470.5 L132.1,470.6 L133.2,471.1 L134.3,471.8 L135.4,472.2 L136.5,473.3 L137.6,474.9 L138.7,476.4 L139.8,477.1 L140.9,478.3 L142.0,479.1 L143.1,479.3 L144.2,479.4 L145.3,478.6 L146.4,477.6 L147.5,476.6 L148.6,476.3 L149.7,475.3 L150.8,474.5 L151.9,474.0 L153.0,473.5 L154.1,472.4 L155.2,471.7 L156.3,471.4 L157.4,471.3 L158.5,470.9 L159.6,470.9 L160.7,471.4 L161.8,471.3 L162.9,472.3 L164.0,473.2 L165.1,474.8 L166.2,475.7 L167.3,476.9 L168.4,478.5 L169.5,479.0 L170.6,479.6 L171.7,480.2 L172.8,479.6 L173.9,479.0 L175.0,478.2 L176.1,477.5 L177.2,476.2 L178.3,474.9 L179.4,473.8 L180.5,473.2 L181.6,472.0 L182.7,471.7 L183.8,470.5 L184.9,470.3 L186.0,469.5 L187.1,469.8 L188.2,469.8 L189.3,469.7 L190.4,470.0 L191.5,471.0 L192.6,472.2 L193.7,474.3 L194.8,475.9 L195.9,476.7 L197.0,478.2 L198.1,479.2 L199.2,479.5 L200.3,480.3 L201.4,480.5 L202.5,480.2 L203.6,479.4 L204.7,479.2 L205.8,477.7 L206.9,475.9 L208.0,474.7 L209.1,473.2 L210.2,471.8 L211.3,471.3 L212.4,470.6 L213.5,470.2 L214.6,469.2 L215.7,469.0 L216.8,468.9 L217.9,469.1 L219.0,469.4 L220.1,469.9 L221.2,471.2 L222.3,472.8 L223.4,474.7 L224.5,476.5 L225.6,478.3 L226.7,480.0 L227.8,482.3 L228.9,484.5 L230.0,486.1 L231.1,487.8 L232.2,488.6 L233.3,489.2 L234.4,490.0 L235.5,490.7 L236.6,491.1 L237.7,491.2 L238.8,491.5 L239.9,490.5 L241.0,490.5 L242.1,490.0 L243.2,489.1 L244.3,488.5 L245.4,487.3 L246.5,486.1 L247.6,484.1 L248.7,482.6 L249.8,480.5 L250.9,479.0 L252.0,477.1 L253.1,475.7 L254.2,474.4 L255.3,473.4 L256.4,472.2 L257.5,471.6 L258.6,472.0 L259.7,471.4 L260.8,472.0 L261.9,472.2 L263.0,472.9 L264.1,473.6 L265.2,474.4 L266.3,475.5 L267.4,477.4 L268.5,478.8 L269.6,479.6 L270.7,480.5 L271.8,480.8 L272.9,480.2 L274.0,480.2 L275.1,479.4 L276.2,479.1 L277.3,478.5 L278.4,478.2 L279.5,477.3 L280.6,476.3 L281.7,475.2 L282.8,475.2 L283.9,473.7 L285.0,472.7 L286.1,472.7 L287.2,472.6 L288.3,472.4 L289.4,472.6 L290.5,473.2 L291.6,473.4 L292.7,474.9 L293.8,475.3 L294.9,476.4 L296.0,477.6 L297.1,478.5 L298.2,478.6 L299.3,479.9 L300.4,480.5 L301.5,481.1 L302.6,481.7 L303.7,481.3 L304.8,480.4 L305.9,479.5 L307.0,478.6 L308.1,476.6 L309.2,475.8 L310.3,474.6 L311.4,473.2 L312.5,471.8 L313.6,471.7 L314.7,470.8 L315.8,470.2 L316.9,470.4 L318.0,470.8 L319.1,471.3 L320.2,471.9 L321.3,473.3 L322.4,474.3 L323.5,475.1 L324.6,476.4 L325.7,476.9 L326.8,477.6 L327.9,478.7 L329.0,479.4 L330.1,479.8 L331.2,479.9 L332.3,480.6 L333.4,479.2 L334.5,478.8 L335.6,478.9 L336.7,478.5 L337.8,477.6 L338.9,476.2 L340.0,475.6 L341.1,473.9 L342.2,472.6 L343.3,471.6 L344.4,471.4 L345.5,471.1 L346.6,471.4 L347.7,472.1 L348.8,472.7 L349.9,473.3 L351.0,474.0 L352.1,475.1 L353.2,476.0 L354.3,477.4 L355.4,479.1 L356.5,480.1 L357.6,480.4 L358.7,480.8 L359.8,481.2 L360.9,481.5 L362.0,481.1 L363.1,480.3 L364.2,479.0 L365.3,478.4 L366.4,476.9 L367.5,475.7 L368.6,474.3 L369.7,473.4 L370.8,471.8 L371.9,471.4 L373.0,471.1 L374.1,471.3 L375.2,471.7 L376.3,471.7 L377.4,472.2 L378.5,473.6 L379.6,474.5 L380.7,475.4 L381.8,476.5 L382.9,476.9 L384.0,477.5 L385.1,478.5 L386.2,479.0 L387.3,479.4 L388.4,479.8 L389.5,480.3 L390.6,480.1 L391.7,479.7 L392.8,478.9 L393.9,477.6 L395.0,476.4 L396.1,475.1 L397.2,474.4 L398.3,473.9 L399.4,472.7 L400.5,472.0 L401.6,471.6" stroke="rgb(105,105,105)" stroke-width="0.85" fill="none" stroke-linejoin="round" opacity="0.85"/>
<path d="M73.8,472.1 L74.9,472.3 L76.0,473.5 L77.1,474.9 L78.2,475.9 L79.3,476.5 L80.4,477.9 L81.5,478.9 L82.6,479.1 L83.7,480.2 L84.8,480.6 L85.9,480.4 L87.0,479.6 L88.1,479.5 L89.2,478.7 L90.3,477.9 L91.4,477.3 L92.5,477.1 L93.6,475.5 L94.7,474.5 L95.8,473.5 L96.9,472.5 L98.0,470.8 L99.1,470.7 L100.2,471.0 L101.3,470.6 L102.4,470.5 L103.5,471.1 L104.6,471.8 L105.7,472.2 L106.8,473.5 L107.9,474.7 L109.0,474.8 L110.1,475.7 L111.2,476.6 L112.3,477.1 L113.4,477.6 L114.5,479.0 L115.6,479.0 L116.7,479.2 L117.8,479.2 L118.9,478.4 L120.0,477.5 L121.1,476.4 L122.2,474.6 L123.3,473.2 L124.4,472.2 L125.5,471.8 L126.6,471.2 L127.7,470.7 L128.8,470.0 L129.9,470.4 L131.0,470.7 L132.1,471.0 L133.2,471.9 L134.3,472.7 L135.4,473.3 L136.5,473.9 L137.6,474.9 L138.7,476.2 L139.8,476.9 L140.9,477.5 L142.0,478.5 L143.1,479.0 L144.2,479.2 L145.3,479.6 L146.4,479.3 L147.5,478.1 L148.6,477.3 L149.7,476.2 L150.8,474.7 L151.9,474.2 L153.0,474.1 L154.1,472.8 L155.2,473.0 L156.3,472.7 L157.4,471.4 L158.5,470.2 L159.6,470.2 L160.7,470.4 L161.8,471.4 L162.9,472.6 L164.0,473.9 L165.1,474.9 L166.2,475.5 L167.3,477.0 L168.4,477.7 L169.5,479.0 L170.6,479.6 L171.7,480.3 L172.8,480.3 L173.9,480.1 L175.0,479.4 L176.1,478.7 L177.2,477.2 L178.3,476.8 L179.4,475.9 L180.5,475.0 L181.6,473.7 L182.7,473.2 L183.8,472.4 L184.9,471.8 L186.0,471.6 L187.1,470.5 L188.2,470.0 L189.3,470.0 L190.4,470.5 L191.5,471.4 L192.6,472.4 L193.7,473.3 L194.8,474.6 L195.9,476.1 L197.0,477.4 L198.1,479.1 L199.2,480.1 L200.3,480.7 L201.4,481.1 L202.5,480.9 L203.6,480.4 L204.7,479.7 L205.8,478.7 L206.9,478.6 L208.0,477.8 L209.1,476.8 L210.2,475.9 L211.3,474.6 L212.4,472.5 L213.5,471.3 L214.6,470.5 L215.7,469.5 L216.8,469.6 L217.9,470.1 L219.0,470.8 L220.1,471.9 L221.2,472.9 L222.3,474.1 L223.4,474.6 L224.5,476.8 L225.6,478.1 L226.7,479.9 L227.8,481.6 L228.9,483.6 L230.0,484.4 L231.1,486.7 L232.2,487.5 L233.3,488.8 L234.4,490.7 L235.5,491.1 L236.6,491.3 L237.7,491.7 L238.8,491.7 L239.9,491.0 L241.0,490.6 L242.1,489.1 L243.2,488.0 L244.3,487.3 L245.4,485.5 L246.5,484.1 L247.6,483.6 L248.7,482.4 L249.8,481.0 L250.9,479.1 L252.0,477.3 L253.1,475.4 L254.2,474.0 L255.3,472.5 L256.4,472.0 L257.5,471.2 L258.6,470.7 L259.7,470.0 L260.8,470.4 L261.9,470.9 L263.0,472.5 L264.1,473.8 L265.2,475.4 L266.3,476.8 L267.4,477.9 L268.5,479.2 L269.6,479.9 L270.7,480.1 L271.8,480.2 L272.9,479.8 L274.0,479.5 L275.1,478.7 L276.2,478.2 L277.3,477.8 L278.4,476.9 L279.5,476.3 L280.6,475.4 L281.7,473.6 L282.8,472.8 L283.9,471.4 L285.0,470.2 L286.1,470.5 L287.2,471.2 L288.3,471.0 L289.4,471.3 L290.5,471.8 L291.6,472.5 L292.7,473.6 L293.8,474.6 L294.9,475.6 L296.0,476.8 L297.1,477.3 L298.2,478.3 L299.3,479.4 L300.4,479.7 L301.5,479.7 L302.6,480.2 L303.7,479.7 L304.8,478.7 L305.9,477.4 L307.0,477.3 L308.1,475.7 L309.2,474.4 L310.3,473.4 L311.4,473.7 L312.5,472.5 L313.6,472.1 L314.7,472.2 L315.8,471.7 L316.9,470.7 L318.0,471.0 L319.1,471.1 L320.2,471.4 L321.3,472.8 L322.4,474.7 L323.5,475.7 L324.6,476.9 L325.7,478.5 L326.8,479.5 L327.9,480.2 L329.0,481.7 L330.1,482.0 L331.2,482.1 L332.3,481.5 L333.4,480.8 L334.5,479.0 L335.6,478.1 L336.7,477.0 L337.8,476.0 L338.9,474.9 L340.0,474.0 L341.1,473.2 L342.2,472.0 L343.3,471.5 L344.4,471.0 L345.5,470.9 L346.6,470.6 L347.7,471.3 L348.8,471.6 L349.9,472.2 L351.0,473.4 L352.1,474.3 L353.2,475.2 L354.3,476.2 L355.4,477.1 L356.5,477.6 L357.6,478.5 L358.7,478.5 L359.8,479.1 L360.9,478.0 L362.0,477.3 L363.1,476.6 L364.2,475.9 L365.3,474.4 L366.4,474.1 L367.5,474.2 L368.6,473.3 L369.7,472.6 L370.8,471.7 L371.9,471.0 L373.0,469.7 L374.1,470.1 L375.2,469.4 L376.3,469.7 L377.4,470.8 L378.5,472.0 L379.6,472.4 L380.7,473.7 L381.8,475.3 L382.9,476.5 L384.0,477.5 L385.1,479.5 L386.2,479.6 L387.3,480.3 L388.4,480.0 L389.5,480.4 L390.6,479.5 L391.7,479.4 L392.8,477.8 L393.9,477.3 L395.0,475.5 L396.1,474.8 L397.2,473.5 L398.3,472.7 L399.4,471.2 L400.5,470.7 L401.6,469.7" stroke="rgb(85,85,85)" stroke-width="0.85" fill="none" stroke-linejoin="round" opacity="0.85"/>
<path d="M73.8,468.7 L74.9,469.3 L76.0,470.4 L77.1,472.4 L78.2,473.4 L79.3,475.1 L80.4,475.4 L81.5,476.2 L82.6,476.9 L83.7,478.0 L84.8,478.6 L85.9,479.1 L87.0,478.8 L88.1,478.3 L89.2,476.8 L90.3,475.9 L91.4,475.0 L92.5,474.2 L93.6,473.8 L94.7,472.5 L95.8,471.2 L96.9,470.8 L98.0,470.1 L99.1,469.8 L100.2,469.8 L101.3,469.8 L102.4,470.9 L103.5,471.6 L104.6,472.3 L105.7,474.1 L106.8,475.9 L107.9,476.4 L109.0,477.6 L110.1,478.9 L111.2,479.8 L112.3,479.9 L113.4,480.3 L114.5,479.9 L115.6,479.2 L116.7,478.4 L117.8,477.8 L118.9,477.2 L120.0,476.0 L121.1,475.4 L122.2,474.3 L123.3,473.0 L124.4,471.1 L125.5,470.9 L126.6,470.0 L127.7,469.6 L128.8,469.3 L129.9,469.3 L131.0,469.1 L132.1,469.9 L133.2,470.9 L134.3,472.5 L135.4,474.3 L136.5,475.7 L137.6,476.7 L138.7,478.0 L139.8,478.4 L140.9,478.7 L142.0,479.6 L143.1,480.1 L144.2,480.3 L145.3,480.0 L146.4,479.3 L147.5,478.0 L148.6,476.5 L149.7,474.8 L150.8,473.3 L151.9,472.0 L153.0,471.2 L154.1,470.2 L155.2,469.5 L156.3,469.3 L157.4,469.5 L158.5,469.9 L159.6,470.4 L160.7,470.7 L161.8,471.8 L162.9,472.7 L164.0,474.1 L165.1,475.2 L166.2,476.8 L167.3,478.3 L168.4,478.9 L169.5,478.9 L170.6,479.7 L171.7,480.1 L172.8,479.2 L173.9,478.4 L175.0,478.1 L176.1,477.3 L177.2,475.5 L178.3,474.0 L179.4,473.5 L180.5,472.3 L181.6,471.0 L182.7,470.1 L183.8,470.3 L184.9,470.0 L186.0,469.7 L187.1,470.1 L188.2,469.6 L189.3,470.7 L190.4,471.2 L191.5,472.3 L192.6,473.6 L193.7,474.7 L194.8,475.9 L195.9,476.7 L197.0,477.5 L198.1,478.7 L199.2,479.1 L200.3,479.5 L201.4,479.5 L202.5,479.8 L203.6,479.3 L204.7,478.7 L205.8,477.2 L206.9,476.1 L208.0,474.1 L209.1,472.2 L210.2,470.3 L211.3,469.4 L212.4,467.8 L213.5,467.2 L214.6,467.0 L215.7,467.2 L216.8,467.3 L217.9,468.0 L219.0,469.3 L220.1,471.4 L221.2,472.6 L222.3,475.0 L223.4,477.0 L224.5,478.7 L225.6,480.5 L226.7,481.9 L227.8,483.8 L228.9,485.5 L230.0,486.9 L231.1,488.4 L232.2,489.3 L233.3,490.2 L234.4,490.5 L235.5,491.0 L236.6,491.4 L237.7,491.3 L238.8,491.6 L239.9,491.7 L241.0,491.0 L242.1,490.2 L243.2,488.9 L244.3,487.8 L245.4,486.4 L246.5,484.4 L247.6,482.9 L248.7,482.2 L249.8,480.1 L250.9,478.1 L252.0,476.5 L253.1,474.9 L254.2,472.9 L255.3,471.5 L256.4,471.0 L257.5,470.6 L258.6,470.6 L259.7,470.3 L260.8,470.9 L261.9,470.8 L263.0,471.3 L264.1,472.3 L265.2,473.5 L266.3,475.1 L267.4,477.0 L268.5,477.9 L269.6,479.0 L270.7,480.2 L271.8,480.9 L272.9,481.5 L274.0,481.4 L275.1,480.8 L276.2,479.9 L277.3,479.4 L278.4,478.2 L279.5,477.9 L280.6,477.2 L281.7,475.3 L282.8,473.8 L283.9,471.9 L285.0,471.4 L286.1,470.2 L287.2,469.9 L288.3,469.4 L289.4,470.2 L290.5,469.9 L291.6,470.4 L292.7,471.2 L293.8,471.9 L294.9,473.3 L296.0,474.4 L297.1,476.1 L298.2,477.0 L299.3,479.0 L300.4,479.7 L301.5,480.8 L302.6,481.2 L303.7,481.3 L304.8,479.9 L305.9,479.0 L307.0,477.3 L308.1,476.5 L309.2,476.0 L310.3,474.5 L311.4,473.1 L312.5,472.9 L313.6,471.4 L314.7,470.4 L315.8,469.6 L316.9,469.4 L318.0,469.0 L319.1,469.0 L320.2,469.5 L321.3,470.4 L322.4,471.5 L323.5,472.4 L324.6,474.5 L325.7,476.0 L326.8,477.7 L327.9,479.2 L329.0,480.8 L330.1,480.9 L331.2,481.5 L332.3,481.7 L333.4,481.7 L334.5,480.6 L335.6,480.2 L336.7,478.3 L337.8,476.1 L338.9,475.0 L340.0,474.1 L341.1,473.3 L342.2,472.9 L343.3,472.0 L344.4,471.5 L345.5,471.1 L346.6,470.0 L347.7,471.1 L348.8,472.0 L349.9,472.2 L351.0,472.3 L352.1,473.2 L353.2,473.7 L354.3,474.3 L355.4,475.4 L356.5,477.3 L357.6,478.3 L358.7,479.3 L359.8,480.3 L360.9,480.6 L362.0,480.2 L363.1,479.0 L364.2,477.9 L365.3,476.6 L366.4,475.4 L367.5,474.1 L368.6,472.5 L369.7,471.1 L370.8,469.6 L371.9,468.6 L373.0,468.1 L374.1,467.6 L375.2,467.7 L376.3,468.3 L377.4,469.0 L378.5,469.6 L379.6,470.9 L380.7,472.4 L381.8,474.2 L382.9,475.8 L384.0,477.1 L385.1,478.1 L386.2,478.8 L387.3,479.6 L388.4,479.8 L389.5,480.5 L390.6,480.0 L391.7,480.0 L392.8,479.5 L393.9,478.7 L395.0,477.5 L396.1,476.5 L397.2,474.4 L398.3,472.9 L399.4,471.5 L400.5,471.2 L401.6,470.7" stroke="rgb(65,65,65)" stroke-width="0.85" fill="none" stroke-linejoin="round" opacity="0.85"/>
<path d="M73.8,470.9 L74.9,471.1 L76.0,471.9 L77.1,472.5 L78.2,473.2 L79.3,475.0 L80.4,476.4 L81.5,477.0 L82.6,478.4 L83.7,479.0 L84.8,479.0 L85.9,479.2 L87.0,479.4 L88.1,478.2 L89.2,477.8 L90.3,478.2 L91.4,477.3 L92.5,476.6 L93.6,475.4 L94.7,474.1 L95.8,472.8 L96.9,471.8 L98.0,470.7 L99.1,470.1 L100.2,469.8 L101.3,470.2 L102.4,470.8 L103.5,472.3 L104.6,473.1 L105.7,474.5 L106.8,475.1 L107.9,475.9 L109.0,476.4 L110.1,477.4 L111.2,477.5 L112.3,478.2 L113.4,479.0 L114.5,479.5 L115.6,479.3 L116.7,479.5 L117.8,479.0 L118.9,477.9 L120.0,476.9 L121.1,476.3 L122.2,475.0 L123.3,473.6 L124.4,472.5 L125.5,472.2 L126.6,471.8 L127.7,471.0 L128.8,470.2 L129.9,469.7 L131.0,470.1 L132.1,471.0 L133.2,471.8 L134.3,473.3 L135.4,474.4 L136.5,475.0 L137.6,476.2 L138.7,477.8 L139.8,478.9 L140.9,479.1 L142.0,479.5 L143.1,480.0 L144.2,479.5 L145.3,479.4 L146.4,479.4 L147.5,479.0 L148.6,477.8 L149.7,476.8 L150.8,475.0 L151.9,473.2 L153.0,471.9 L154.1,470.7 L155.2,469.8 L156.3,470.3 L157.4,469.2 L158.5,469.0 L159.6,469.4 L160.7,470.1 L161.8,470.5 L162.9,471.7 L164.0,472.2 L165.1,473.1 L166.2,473.6 L167.3,475.1 L168.4,475.8 L169.5,477.5 L170.6,478.1 L171.7,478.8 L172.8,479.0 L173.9,478.3 L175.0,477.5 L176.1,477.1 L177.2,475.9 L178.3,474.7 L179.4,474.1 L180.5,472.8 L181.6,471.5 L182.7,470.4 L183.8,469.7 L184.9,469.4 L186.0,469.0 L187.1,468.2 L188.2,467.6 L189.3,468.7 L190.4,470.0 L191.5,470.9 L192.6,472.8 L193.7,474.5 L194.8,475.9 L195.9,476.2 L197.0,477.6 L198.1,478.9 L199.2,479.7 L200.3,479.2 L201.4,479.2 L202.5,478.6 L203.6,478.6 L204.7,478.0 L205.8,477.8 L206.9,476.8 L208.0,476.1 L209.1,475.0 L210.2,473.6 L211.3,472.9 L212.4,472.4 L213.5,471.4 L214.6,470.5 L215.7,470.4 L216.8,470.8 L217.9,470.8 L219.0,471.1 L220.1,471.5 L221.2,472.4 L222.3,473.4 L223.4,475.7 L224.5,477.9 L225.6,479.1 L226.7,481.3 L227.8,482.7 L228.9,484.3 L230.0,485.5 L231.1,487.1 L232.2,488.2 L233.3,489.2 L234.4,489.2 L235.5,490.0 L236.6,490.4 L237.7,489.6 L238.8,490.1 L239.9,489.7 L241.0,489.2 L242.1,488.5 L243.2,488.1 L244.3,485.7 L245.4,484.3 L246.5,483.7 L247.6,481.6 L248.7,480.6 L249.8,479.3 L250.9,477.8 L252.0,475.5 L253.1,474.1 L254.2,472.3 L255.3,471.3 L256.4,470.4 L257.5,470.0 L258.6,469.5 L259.7,470.0 L260.8,470.0 L261.9,471.3 L263.0,472.0 L264.1,472.8 L265.2,473.5 L266.3,475.1 L267.4,476.1 L268.5,477.7 L269.6,477.7 L270.7,478.6 L271.8,479.5 L272.9,479.5 L274.0,479.6 L275.1,479.0 L276.2,478.7 L277.3,478.2 L278.4,476.7 L279.5,475.3 L280.6,474.1 L281.7,472.7 L282.8,470.6 L283.9,470.0 L285.0,469.8 L286.1,469.3 L287.2,469.1 L288.3,468.8 L289.4,469.2 L290.5,469.9 L291.6,470.8 L292.7,471.9 L293.8,473.0 L294.9,474.6 L296.0,476.0 L297.1,476.4 L298.2,477.1 L299.3,478.5 L300.4,478.1 L301.5,478.7 L302.6,479.3 L303.7,478.9 L304.8,478.3 L305.9,478.0 L307.0,477.3 L308.1,476.3 L309.2,476.4 L310.3,474.9 L311.4,474.3 L312.5,472.9 L313.6,471.7 L314.7,471.0 L315.8,470.8 L316.9,470.2 L318.0,470.2 L319.1,470.2 L320.2,470.6 L321.3,471.1 L322.4,471.9 L323.5,473.3 L324.6,475.1 L325.7,476.5 L326.8,477.9 L327.9,479.2 L329.0,480.1 L330.1,480.0 L331.2,480.3 L332.3,480.3 L333.4,479.9 L334.5,478.2 L335.6,477.1 L336.7,476.0 L337.8,473.9 L338.9,473.6 L340.0,473.7 L341.1,472.5 L342.2,471.6 L343.3,472.2 L344.4,471.1 L345.5,470.2 L346.6,470.4 L347.7,470.1 L348.8,469.7 L349.9,470.5 L351.0,472.1 L352.1,473.2 L353.2,474.3 L354.3,475.0 L355.4,476.2 L356.5,476.8 L357.6,477.3 L358.7,478.2 L359.8,478.4 L360.9,478.7 L362.0,478.2 L363.1,477.9 L364.2,477.1 L365.3,476.2 L366.4,475.0 L367.5,473.7 L368.6,472.9 L369.7,471.7 L370.8,470.9 L371.9,470.5 L373.0,470.6 L374.1,469.8 L375.2,470.1 L376.3,470.6 L377.4,471.1 L378.5,472.1 L379.6,473.5 L380.7,474.3 L381.8,475.6 L382.9,475.9 L384.0,476.7 L385.1,477.2 L386.2,478.3 L387.3,478.8 L388.4,479.2 L389.5,479.0 L390.6,478.9 L391.7,478.1 L392.8,477.5 L393.9,476.3 L395.0,475.4 L396.1,474.2 L397.2,473.4 L398.3,472.6 L399.4,471.6 L400.5,470.4 L401.6,470.1" stroke="rgb(45,45,45)" stroke-width="0.85" fill="none" stroke-linejoin="round" opacity="0.85"/>
<path d="M73.8,469.5 L74.9,470.4 L76.0,471.5 L77.1,472.7 L78.2,473.1 L79.3,474.8 L80.4,475.8 L81.5,476.9 L82.6,477.3 L83.7,479.2 L84.8,479.4 L85.9,479.7 L87.0,479.4 L88.1,478.8 L89.2,477.7 L90.3,476.0 L91.4,474.8 L92.5,473.8 L93.6,472.4 L94.7,471.5 L95.8,470.5 L96.9,468.9 L98.0,468.2 L99.1,468.5 L100.2,468.4 L101.3,468.6 L102.4,469.9 L103.5,470.4 L104.6,471.2 L105.7,472.4 L106.8,473.4 L107.9,474.0 L109.0,475.4 L110.1,476.3 L111.2,478.2 L112.3,479.2 L113.4,480.0 L114.5,479.7 L115.6,479.0 L116.7,478.9 L117.8,478.0 L118.9,477.2 L120.0,475.2 L121.1,474.0 L122.2,472.2 L123.3,470.6 L124.4,468.8 L125.5,468.4 L126.6,467.1 L127.7,467.0 L128.8,467.0 L129.9,467.4 L131.0,468.4 L132.1,469.3 L133.2,470.4 L134.3,472.0 L135.4,473.8 L136.5,475.1 L137.6,476.6 L138.7,477.2 L139.8,477.5 L140.9,478.3 L142.0,478.5 L143.1,478.8 L144.2,479.2 L145.3,478.7 L146.4,477.9 L147.5,477.1 L148.6,476.0 L149.7,474.5 L150.8,472.8 L151.9,472.5 L153.0,470.8 L154.1,469.9 L155.2,469.1 L156.3,468.6 L157.4,468.1 L158.5,468.1 L159.6,468.2 L160.7,469.3 L161.8,470.1 L162.9,471.5 L164.0,472.6 L165.1,475.0 L166.2,476.0 L167.3,478.0 L168.4,479.3 L169.5,479.8 L170.6,480.3 L171.7,480.4 L172.8,479.7 L173.9,478.8 L175.0,478.7 L176.1,477.8 L177.2,476.4 L178.3,474.9 L179.4,474.0 L180.5,472.5 L181.6,470.9 L182.7,469.9 L183.8,468.9 L184.9,468.1 L186.0,468.0 L187.1,468.1 L188.2,468.5 L189.3,469.7 L190.4,470.6 L191.5,471.8 L192.6,472.9 L193.7,474.1 L194.8,475.4 L195.9,476.8 L197.0,477.8 L198.1,479.4 L199.2,480.1 L200.3,480.5 L201.4,480.8 L202.5,480.4 L203.6,479.3 L204.7,478.5 L205.8,477.2 L206.9,475.6 L208.0,474.1 L209.1,472.9 L210.2,470.8 L211.3,469.4 L212.4,468.7 L213.5,468.3 L214.6,468.7 L215.7,469.4 L216.8,469.7 L217.9,470.2 L219.0,471.1 L220.1,471.8 L221.2,473.0 L222.3,475.1 L223.4,477.4 L224.5,479.0 L225.6,480.8 L226.7,482.9 L227.8,484.3 L228.9,486.3 L230.0,487.9 L231.1,489.2 L232.2,490.0 L233.3,490.9 L234.4,491.1 L235.5,491.6 L236.6,492.1 L237.7,492.9 L238.8,492.8 L239.9,492.3 L241.0,492.1 L242.1,491.8 L243.2,490.5 L244.3,489.4 L245.4,488.2 L246.5,486.3 L247.6,484.4 L248.7,482.2 L249.8,480.1 L250.9,477.9 L252.0,476.3 L253.1,475.2 L254.2,473.8 L255.3,472.1 L256.4,470.9 L257.5,470.0 L258.6,468.9 L259.7,468.5 L260.8,469.4 L261.9,469.6 L263.0,470.0 L264.1,470.4 L265.2,471.3 L266.3,472.3 L267.4,473.9 L268.5,475.1 L269.6,476.6 L270.7,478.1 L271.8,479.1 L272.9,480.0 L274.0,480.3 L275.1,480.2 L276.2,479.3 L277.3,478.4 L278.4,477.3 L279.5,476.1 L280.6,474.6 L281.7,473.5 L282.8,472.3 L283.9,470.9 L285.0,470.7 L286.1,469.9 L287.2,469.2 L288.3,468.4 L289.4,467.9 L290.5,468.0 L291.6,468.4 L292.7,469.5 L293.8,471.2 L294.9,472.9 L296.0,474.5 L297.1,475.8 L298.2,477.8 L299.3,478.0 L300.4,478.7 L301.5,478.4 L302.6,478.9 L303.7,478.5 L304.8,478.5 L305.9,477.4 L307.0,477.1 L308.1,476.1 L309.2,474.7 L310.3,473.3 L311.4,472.1 L312.5,471.2 L313.6,470.1 L314.7,468.9 L315.8,468.5 L316.9,467.9 L318.0,468.4 L319.1,467.9 L320.2,468.6 L321.3,470.0 L322.4,470.5 L323.5,472.0 L324.6,473.7 L325.7,475.5 L326.8,476.5 L327.9,477.8 L329.0,478.3 L330.1,479.7 L331.2,479.9 L332.3,480.0 L333.4,479.5 L334.5,479.4 L335.6,478.7 L336.7,477.5 L337.8,476.6 L338.9,474.9 L340.0,473.7 L341.1,472.0 L342.2,471.0 L343.3,470.1 L344.4,469.1 L345.5,468.3 L346.6,468.6 L347.7,468.6 L348.8,468.9 L349.9,470.1 L351.0,470.8 L352.1,472.2 L353.2,473.6 L354.3,474.6 L355.4,475.8 L356.5,477.1 L357.6,478.2 L358.7,478.9 L359.8,480.2 L360.9,480.7 L362.0,480.7 L363.1,480.1 L364.2,479.6 L365.3,478.2 L366.4,476.9 L367.5,475.0 L368.6,474.0 L369.7,472.6 L370.8,471.1 L371.9,470.1 L373.0,469.3 L374.1,468.0 L375.2,468.2 L376.3,468.4 L377.4,469.0 L378.5,470.0 L379.6,471.4 L380.7,472.3 L381.8,473.2 L382.9,474.0 L384.0,474.8 L385.1,476.1 L386.2,477.7 L387.3,479.1 L388.4,479.8 L389.5,480.6 L390.6,480.5 L391.7,479.9 L392.8,478.6 L393.9,478.1 L395.0,477.2 L396.1,476.1 L397.2,475.1 L398.3,473.8 L399.4,472.0 L400.5,470.9 L401.6,469.4" stroke="rgb(45,45,45)" stroke-width="0.85" fill="none" stroke-linejoin="round" opacity="0.85"/>
<path d="M73.8,469.9 L74.9,470.2 L76.0,471.0 L77.1,472.1 L78.2,473.2 L79.3,474.0 L80.4,475.7 L81.5,476.9 L82.6,478.2 L83.7,479.0 L84.8,479.7 L85.9,479.6 L87.0,480.0 L88.1,478.8 L89.2,478.2 L90.3,477.2 L91.4,476.4 L92.5,474.9 L93.6,473.7 L94.7,472.1 L95.8,470.8 L96.9,470.2 L98.0,469.2 L99.1,468.6 L100.2,468.4 L101.3,468.2 L102.4,468.4 L103.5,469.1 L104.6,470.3 L105.7,471.7 L106.8,472.5 L107.9,472.9 L109.0,475.0 L110.1,476.2 L111.2,478.0 L112.3,479.2 L113.4,479.6 L114.5,480.4 L115.6,479.8 L116.7,479.1 L117.8,478.8 L118.9,478.0 L120.0,476.9 L121.1,476.2 L122.2,475.3 L123.3,474.1 L124.4,472.5 L125.5,470.8 L126.6,469.5 L127.7,468.9 L128.8,469.1 L129.9,468.9 L131.0,469.5 L132.1,470.0 L133.2,470.9 L134.3,471.9 L135.4,473.3 L136.5,474.9 L137.6,475.9 L138.7,476.1 L139.8,477.5 L140.9,478.8 L142.0,479.2 L143.1,479.2 L144.2,479.7 L145.3,479.7 L146.4,478.1 L147.5,477.1 L148.6,476.7 L149.7,474.9 L150.8,473.0 L151.9,471.9 L153.0,470.8 L154.1,469.8 L155.2,469.4 L156.3,468.7 L157.4,468.9 L158.5,468.8 L159.6,468.9 L160.7,468.7 L161.8,468.9 L162.9,469.2 L164.0,470.1 L165.1,471.7 L166.2,473.3 L167.3,475.4 L168.4,477.6 L169.5,478.6 L170.6,479.7 L171.7,480.3 L172.8,480.8 L173.9,480.5 L175.0,480.3 L176.1,479.2 L177.2,478.3 L178.3,476.9 L179.4,475.5 L180.5,474.4 L181.6,473.5 L182.7,472.6 L183.8,472.2 L184.9,471.4 L186.0,470.5 L187.1,470.0 L188.2,469.2 L189.3,469.0 L190.4,469.8 L191.5,470.9 L192.6,472.3 L193.7,473.3 L194.8,474.8 L195.9,475.6 L197.0,477.1 L198.1,478.0 L199.2,478.5 L200.3,479.3 L201.4,479.5 L202.5,478.7 L203.6,478.0 L204.7,477.5 L205.8,477.3 L206.9,476.0 L208.0,475.2 L209.1,474.1 L210.2,472.6 L211.3,470.7 L212.4,469.4 L213.5,468.8 L214.6,468.8 L215.7,468.0 L216.8,467.9 L217.9,468.4 L219.0,468.6 L220.1,469.3 L221.2,470.6 L222.3,472.7 L223.4,474.7 L224.5,476.7 L225.6,478.6 L226.7,480.3 L227.8,482.5 L228.9,484.3 L230.0,485.8 L231.1,487.6 L232.2,488.7 L233.3,489.5 L234.4,490.0 L235.5,490.5 L236.6,490.5 L237.7,490.6 L238.8,490.5 L239.9,490.3 L241.0,490.5 L242.1,490.3 L243.2,489.3 L244.3,487.9 L245.4,486.6 L246.5,484.8 L247.6,482.9 L248.7,481.3 L249.8,479.4 L250.9,477.2 L252.0,475.5 L253.1,474.2 L254.2,472.8 L255.3,471.4 L256.4,470.6 L257.5,469.3 L258.6,468.5 L259.7,468.0 L260.8,468.6 L261.9,469.0 L263.0,470.1 L264.1,471.0 L265.2,472.9 L266.3,474.0 L267.4,475.8 L268.5,476.7 L269.6,477.7 L270.7,478.4 L271.8,478.5 L272.9,478.4 L274.0,477.9 L275.1,477.6 L276.2,476.7 L277.3,476.0 L278.4,475.2 L279.5,474.6 L280.6,472.9 L281.7,471.3 L282.8,470.2 L283.9,468.9 L285.0,467.6 L286.1,467.4 L287.2,467.2 L288.3,467.1 L289.4,467.3 L290.5,468.4 L291.6,469.9 L292.7,470.8 L293.8,471.7 L294.9,472.7 L296.0,474.0 L297.1,475.0 L298.2,476.6 L299.3,478.0 L300.4,478.9 L301.5,479.6 L302.6,479.7 L303.7,479.4 L304.8,478.9 L305.9,478.3 L307.0,477.1 L308.1,476.1 L309.2,474.9 L310.3,473.8 L311.4,473.0 L312.5,471.5 L313.6,470.1 L314.7,469.1 L315.8,467.9 L316.9,467.3 L318.0,466.9 L319.1,467.6 L320.2,469.0 L321.3,470.9 L322.4,472.0 L323.5,474.1 L324.6,474.8 L325.7,476.2 L326.8,477.0 L327.9,478.4 L329.0,478.7 L330.1,479.6 L331.2,479.6 L332.3,479.3 L333.4,478.6 L334.5,478.3 L335.6,476.9 L336.7,476.0 L337.8,475.1 L338.9,473.8 L340.0,472.1 L341.1,471.4 L342.2,469.8 L343.3,468.8 L344.4,468.4 L345.5,467.7 L346.6,467.9 L347.7,467.7 L348.8,468.6 L349.9,469.4 L351.0,471.2 L352.1,472.2 L353.2,474.3 L354.3,475.5 L355.4,477.4 L356.5,477.8 L357.6,478.5 L358.7,479.0 L359.8,479.0 L360.9,478.6 L362.0,477.7 L363.1,477.7 L364.2,477.0 L365.3,475.5 L366.4,473.8 L367.5,472.3 L368.6,471.4 L369.7,470.1 L370.8,469.3 L371.9,468.6 L373.0,468.0 L374.1,467.7 L375.2,467.3 L376.3,467.5 L377.4,468.3 L378.5,468.9 L379.6,469.4 L380.7,471.2 L381.8,472.4 L382.9,474.8 L384.0,476.8 L385.1,478.3 L386.2,479.1 L387.3,479.9 L388.4,479.8 L389.5,478.8 L390.6,478.0 L391.7,477.3 L392.8,477.0 L393.9,476.2 L395.0,475.1 L396.1,474.1 L397.2,472.7 L398.3,471.6 L399.4,470.3 L400.5,469.4 L401.6,468.5" stroke="rgb(65,65,65)" stroke-width="0.85" fill="none" stroke-linejoin="round" opacity="0.85"/>
<path d="M73.8,468.4 L74.9,469.5 L76.0,470.3 L77.1,471.5 L78.2,473.4 L79.3,474.8 L80.4,476.0 L81.5,477.2 L82.6,478.6 L83.7,479.8 L84.8,480.7 L85.9,480.8 L87.0,480.7 L88.1,480.4 L89.2,479.0 L90.3,477.3 L91.4,476.7 L92.5,475.6 L93.6,473.3 L94.7,472.1 L95.8,470.2 L96.9,468.5 L98.0,467.5 L99.1,467.1 L100.2,466.9 L101.3,467.1 L102.4,467.9 L103.5,468.4 L104.6,468.9 L105.7,470.2 L106.8,471.3 L107.9,472.8 L109.0,474.6 L110.1,476.4 L111.2,477.8 L112.3,478.6 L113.4,479.4 L114.5,480.3 L115.6,479.7 L116.7,479.3 L117.8,479.0 L118.9,477.6 L120.0,476.1 L121.1,475.2 L122.2,473.6 L123.3,470.7 L124.4,469.0 L125.5,467.8 L126.6,466.6 L127.7,466.5 L128.8,466.7 L129.9,466.8 L131.0,466.7 L132.1,467.3 L133.2,468.2 L134.3,468.9 L135.4,470.1 L136.5,471.4 L137.6,474.0 L138.7,475.9 L139.8,477.6 L140.9,478.6 L142.0,479.5 L143.1,479.7 L144.2,479.7 L145.3,479.5 L146.4,479.2 L147.5,478.5 L148.6,477.3 L149.7,476.3 L150.8,474.6 L151.9,472.8 L153.0,471.7 L154.1,470.3 L155.2,469.0 L156.3,468.4 L157.4,468.0 L158.5,467.5 L159.6,467.1 L160.7,467.4 L161.8,468.4 L162.9,469.3 L164.0,470.0 L165.1,472.2 L166.2,474.0 L167.3,475.2 L168.4,477.0 L169.5,478.6 L170.6,479.3 L171.7,479.7 L172.8,480.1 L173.9,480.0 L175.0,479.5 L176.1,478.3 L177.2,476.8 L178.3,475.3 L179.4,473.8 L180.5,472.9 L181.6,471.5 L182.7,469.8 L183.8,468.6 L184.9,467.8 L186.0,466.4 L187.1,466.4 L188.2,466.4 L189.3,467.1 L190.4,467.8 L191.5,468.6 L192.6,469.7 L193.7,471.0 L194.8,472.7 L195.9,474.8 L197.0,476.7 L198.1,478.5 L199.2,478.9 L200.3,479.7 L201.4,479.3 L202.5,479.3 L203.6,478.9 L204.7,478.5 L205.8,477.6 L206.9,476.6 L208.0,474.9 L209.1,473.6 L210.2,472.0 L211.3,469.9 L212.4,468.3 L213.5,468.0 L214.6,467.5 L215.7,467.1 L216.8,466.8 L217.9,467.3 L219.0,467.4 L220.1,468.3 L221.2,470.3 L222.3,472.2 L223.4,474.4 L224.5,476.5 L225.6,478.8 L226.7,481.1 L227.8,483.4 L228.9,484.8 L230.0,486.8 L231.1,488.7 L232.2,490.2 L233.3,491.2 L234.4,491.9 L235.5,491.8 L236.6,491.9 L237.7,492.0 L238.8,491.3 L239.9,491.6 L241.0,491.1 L242.1,489.8 L243.2,488.5 L244.3,487.0 L245.4,484.9 L246.5,483.4 L247.6,481.9 L248.7,479.7 L249.8,477.6 L250.9,475.3 L252.0,474.2 L253.1,471.7 L254.2,470.0 L255.3,468.6 L256.4,468.0 L257.5,466.4 L258.6,466.3 L259.7,466.5 L260.8,467.7 L261.9,468.9 L263.0,470.0 L264.1,471.9 L265.2,473.6 L266.3,475.2 L267.4,476.5 L268.5,477.8 L269.6,478.9 L270.7,479.8 L271.8,479.9 L272.9,479.8 L274.0,480.1 L275.1,479.0 L276.2,478.0 L277.3,476.8 L278.4,475.6 L279.5,474.2 L280.6,473.9 L281.7,472.1 L282.8,471.0 L283.9,469.4 L285.0,468.0 L286.1,467.3 L287.2,467.0 L288.3,467.5 L289.4,468.0 L290.5,468.7 L291.6,469.3 L292.7,471.1 L293.8,472.4 L294.9,473.7 L296.0,475.6 L297.1,477.1 L298.2,477.4 L299.3,478.0 L300.4,479.1 L301.5,478.7 L302.6,479.5 L303.7,479.3 L304.8,479.0 L305.9,477.4 L307.0,476.2 L308.1,474.4 L309.2,472.5 L310.3,470.9 L311.4,470.0 L312.5,469.2 L313.6,467.7 L314.7,468.0 L315.8,467.5 L316.9,467.2 L318.0,467.6 L319.1,469.1 L320.2,470.2 L321.3,471.6 L322.4,472.9 L323.5,474.3 L324.6,475.8 L325.7,477.3 L326.8,478.3 L327.9,479.6 L329.0,479.7 L330.1,479.9 L331.2,479.4 L332.3,479.0 L333.4,478.2 L334.5,477.2 L335.6,475.9 L336.7,474.8 L337.8,473.2 L338.9,472.0 L340.0,470.9 L341.1,469.7 L342.2,469.2 L343.3,468.1 L344.4,467.1 L345.5,467.3 L346.6,466.9 L347.7,467.0 L348.8,467.7 L349.9,469.2 L351.0,470.3 L352.1,472.9 L353.2,474.4 L354.3,476.0 L355.4,478.2 L356.5,479.1 L357.6,479.5 L358.7,480.2 L359.8,480.4 L360.9,479.8 L362.0,478.6 L363.1,478.0 L364.2,477.3 L365.3,475.9 L366.4,474.3 L367.5,472.9 L368.6,471.7 L369.7,470.6 L370.8,469.9 L371.9,468.9 L373.0,468.6 L374.1,468.0 L375.2,467.7 L376.3,467.6 L377.4,468.5 L378.5,469.5 L379.6,470.8 L380.7,472.5 L381.8,474.0 L382.9,475.8 L384.0,477.2 L385.1,478.4 L386.2,479.4 L387.3,480.5 L388.4,480.7 L389.5,480.3 L390.6,479.5 L391.7,478.4 L392.8,477.0 L393.9,475.6 L395.0,474.0 L396.1,472.3 L397.2,471.3 L398.3,470.3 L399.4,468.8 L400.5,468.1 L401.6,467.3" stroke="rgb(85,85,85)" stroke-width="0.85" fill="none" stroke-linejoin="round" opacity="0.85"/>
<path d="M73.8,469.1 L74.9,469.9 L76.0,471.2 L77.1,471.7 L78.2,473.4 L79.3,474.6 L80.4,476.6 L81.5,477.8 L82.6,480.0 L83.7,480.8 L84.8,480.8 L85.9,480.7 L87.0,480.8 L88.1,479.8 L89.2,478.6 L90.3,478.3 L91.4,477.2 L92.5,475.1 L93.6,473.6 L94.7,472.5 L95.8,470.4 L96.9,468.9 L98.0,468.3 L99.1,467.9 L100.2,467.0 L101.3,467.2 L102.4,467.5 L103.5,468.2 L104.6,469.4 L105.7,470.7 L106.8,471.7 L107.9,473.2 L109.0,475.3 L110.1,476.5 L111.2,477.5 L112.3,478.6 L113.4,479.5 L114.5,478.8 L115.6,478.0 L116.7,478.1 L117.8,477.6 L118.9,476.0 L120.0,474.8 L121.1,474.0 L122.2,472.5 L123.3,470.9 L124.4,468.8 L125.5,467.8 L126.6,467.0 L127.7,466.6 L128.8,466.2 L129.9,466.7 L131.0,466.9 L132.1,468.1 L133.2,469.3 L134.3,470.6 L135.4,472.3 L136.5,474.2 L137.6,475.9 L138.7,477.0 L139.8,478.5 L140.9,480.0 L142.0,480.3 L143.1,480.5 L144.2,480.6 L145.3,480.3 L146.4,479.0 L147.5,478.0 L148.6,476.6 L149.7,475.4 L150.8,473.2 L151.9,472.4 L153.0,470.6 L154.1,469.4 L155.2,468.1 L156.3,467.5 L157.4,466.5 L158.5,466.3 L159.6,466.2 L160.7,466.3 L161.8,466.9 L162.9,468.1 L164.0,470.2 L165.1,471.6 L166.2,472.7 L167.3,474.0 L168.4,475.7 L169.5,476.0 L170.6,477.0 L171.7,477.8 L172.8,478.1 L173.9,477.2 L175.0,477.6 L176.1,476.9 L177.2,475.6 L178.3,474.8 L179.4,474.1 L180.5,473.2 L181.6,471.8 L182.7,470.8 L183.8,470.4 L184.9,468.3 L186.0,467.7 L187.1,467.5 L188.2,467.9 L189.3,467.4 L190.4,468.6 L191.5,469.3 L192.6,470.5 L193.7,471.9 L194.8,473.5 L195.9,475.3 L197.0,476.4 L198.1,477.9 L199.2,478.4 L200.3,477.9 L201.4,477.4 L202.5,477.7 L203.6,477.0 L204.7,476.5 L205.8,476.4 L206.9,475.2 L208.0,474.1 L209.1,472.2 L210.2,470.8 L211.3,469.6 L212.4,468.8 L213.5,468.3 L214.6,468.2 L215.7,468.3 L216.8,468.3 L217.9,468.6 L219.0,468.6 L220.1,469.8 L221.2,471.3 L222.3,473.0 L223.4,474.3 L224.5,476.7 L225.6,479.1 L226.7,480.8 L227.8,483.6 L228.9,486.3 L230.0,488.2 L231.1,490.0 L232.2,490.9 L233.3,491.4 L234.4,492.3 L235.5,492.7 L236.6,492.2 L237.7,491.8 L238.8,490.9 L239.9,490.2 L241.0,489.6 L242.1,489.0 L243.2,488.3 L244.3,487.6 L245.4,486.0 L246.5,483.4 L247.6,482.0 L248.7,480.3 L249.8,477.9 L250.9,475.9 L252.0,474.4 L253.1,472.1 L254.2,470.4 L255.3,468.6 L256.4,467.6 L257.5,467.7 L258.6,467.4 L259.7,467.6 L260.8,468.2 L261.9,469.6 L263.0,470.2 L264.1,471.5 L265.2,473.0 L266.3,474.5 L267.4,476.6 L268.5,477.4 L269.6,478.6 L270.7,479.0 L271.8,479.8 L272.9,479.4 L274.0,479.4 L275.1,478.5 L276.2,477.7 L277.3,476.5 L278.4,475.1 L279.5,473.6 L280.6,472.3 L281.7,471.1 L282.8,469.7 L283.9,468.9 L285.0,468.0 L286.1,467.6 L287.2,467.0 L288.3,466.6 L289.4,467.7 L290.5,468.4 L291.6,469.0 L292.7,470.1 L293.8,471.7 L294.9,473.1 L296.0,474.8 L297.1,476.2 L298.2,477.5 L299.3,478.8 L300.4,479.3 L301.5,480.1 L302.6,480.6 L303.7,480.4 L304.8,479.3 L305.9,477.7 L307.0,477.0 L308.1,475.9 L309.2,473.7 L310.3,472.3 L311.4,471.2 L312.5,469.6 L313.6,468.8 L314.7,468.9 L315.8,468.2 L316.9,467.5 L318.0,467.7 L319.1,467.9 L320.2,468.0 L321.3,469.7 L322.4,471.5 L323.5,473.5 L324.6,474.9 L325.7,476.5 L326.8,477.4 L327.9,478.4 L329.0,478.4 L330.1,478.9 L331.2,479.3 L332.3,479.4 L333.4,478.2 L334.5,477.2 L335.6,475.9 L336.7,474.4 L337.8,472.4 L338.9,471.0 L340.0,469.2 L341.1,467.9 L342.2,466.6 L343.3,466.1 L344.4,466.0 L345.5,466.4 L346.6,466.3 L347.7,466.9 L348.8,467.9 L349.9,469.6 L351.0,470.8 L352.1,472.0 L353.2,473.5 L354.3,474.6 L355.4,475.8 L356.5,476.6 L357.6,478.1 L358.7,478.6 L359.8,478.8 L360.9,478.5 L362.0,478.7 L363.1,477.9 L364.2,476.7 L365.3,475.4 L366.4,474.5 L367.5,473.1 L368.6,472.0 L369.7,470.4 L370.8,468.7 L371.9,467.9 L373.0,467.7 L374.1,466.8 L375.2,467.3 L376.3,468.0 L377.4,468.2 L378.5,469.5 L379.6,470.6 L380.7,472.4 L381.8,473.6 L382.9,474.7 L384.0,475.9 L385.1,477.1 L386.2,477.9 L387.3,478.3 L388.4,478.7 L389.5,478.7 L390.6,477.5 L391.7,476.4 L392.8,475.2 L393.9,474.3 L395.0,473.1 L396.1,471.8 L397.2,470.1 L398.3,469.5 L399.4,468.1 L400.5,467.6 L401.6,467.3" stroke="rgb(105,105,105)" stroke-width="0.85" fill="none" stroke-linejoin="round" opacity="0.85"/>
<path d="M73.8,468.7 L74.9,468.8 L76.0,469.9 L77.1,470.8 L78.2,471.7 L79.3,472.4 L80.4,473.7 L81.5,474.3 L82.6,475.7 L83.7,476.4 L84.8,477.4 L85.9,477.8 L87.0,478.2 L88.1,478.2 L89.2,477.6 L90.3,477.1 L91.4,475.7 L92.5,474.9 L93.6,473.2 L94.7,472.0 L95.8,470.4 L96.9,469.4 L98.0,468.8 L99.1,468.5 L100.2,468.9 L101.3,468.7 L102.4,468.5 L103.5,468.5 L104.6,469.2 L105.7,469.5 L106.8,470.6 L107.9,472.2 L109.0,473.4 L110.1,474.4 L111.2,475.3 L112.3,476.4 L113.4,476.8 L114.5,478.1 L115.6,477.8 L116.7,477.7 L117.8,476.9 L118.9,475.4 L120.0,474.3 L121.1,473.7 L122.2,472.3 L123.3,471.5 L124.4,470.2 L125.5,469.0 L126.6,467.7 L127.7,466.9 L128.8,466.7 L129.9,467.1 L131.0,466.9 L132.1,467.8 L133.2,468.4 L134.3,469.3 L135.4,469.8 L136.5,470.6 L137.6,471.1 L138.7,472.3 L139.8,473.0 L140.9,474.0 L142.0,475.6 L143.1,476.5 L144.2,477.4 L145.3,478.1 L146.4,477.8 L147.5,477.4 L148.6,476.5 L149.7,475.3 L150.8,473.7 L151.9,472.9 L153.0,471.2 L154.1,470.3 L155.2,469.4 L156.3,469.1 L157.4,469.0 L158.5,469.0 L159.6,469.4 L160.7,470.0 L161.8,470.9 L162.9,471.5 L164.0,473.2 L165.1,473.8 L166.2,475.4 L167.3,476.3 L168.4,477.3 L169.5,478.2 L170.6,479.3 L171.7,479.2 L172.8,479.4 L173.9,479.1 L175.0,478.2 L176.1,477.1 L177.2,476.2 L178.3,474.5 L179.4,473.2 L180.5,472.6 L181.6,471.7 L182.7,470.7 L183.8,469.9 L184.9,469.1 L186.0,468.7 L187.1,468.2 L188.2,468.0 L189.3,468.6 L190.4,469.5 L191.5,469.9 L192.6,470.6 L193.7,472.1 L194.8,473.1 L195.9,474.3 L197.0,475.3 L198.1,476.7 L199.2,476.4 L200.3,477.0 L201.4,477.4 L202.5,477.8 L203.6,478.1 L204.7,477.7 L205.8,476.9 L206.9,475.3 L208.0,474.4 L209.1,473.3 L210.2,472.6 L211.3,471.4 L212.4,470.2 L213.5,469.1 L214.6,468.0 L215.7,467.3 L216.8,467.7 L217.9,468.5 L219.0,469.6 L220.1,471.1 L221.2,472.7 L222.3,473.3 L223.4,474.4 L224.5,475.5 L225.6,477.4 L226.7,479.1 L227.8,480.8 L228.9,482.4 L230.0,484.0 L231.1,485.4 L232.2,487.0 L233.3,488.7 L234.4,489.3 L235.5,489.9 L236.6,490.2 L237.7,490.1 L238.8,490.0 L239.9,490.4 L241.0,489.5 L242.1,489.0 L243.2,487.6 L244.3,486.2 L245.4,483.6 L246.5,481.8 L247.6,479.5 L248.7,478.0 L249.8,476.1 L250.9,474.7 L252.0,472.5 L253.1,470.8 L254.2,469.0 L255.3,468.6 L256.4,468.2 L257.5,468.4 L258.6,468.1 L259.7,468.4 L260.8,468.6 L261.9,469.4 L263.0,469.4 L264.1,470.4 L265.2,471.3 L266.3,472.7 L267.4,473.5 L268.5,474.8 L269.6,475.8 L270.7,476.4 L271.8,476.7 L272.9,477.3 L274.0,477.7 L275.1,477.7 L276.2,476.9 L277.3,475.8 L278.4,474.7 L279.5,473.6 L280.6,472.9 L281.7,471.6 L282.8,470.3 L283.9,469.7 L285.0,468.7 L286.1,468.0 L287.2,468.2 L288.3,468.6 L289.4,468.7 L290.5,469.6 L291.6,470.9 L292.7,471.4 L293.8,471.9 L294.9,472.7 L296.0,473.5 L297.1,474.7 L298.2,475.5 L299.3,476.1 L300.4,476.3 L301.5,477.1 L302.6,477.2 L303.7,476.4 L304.8,476.2 L305.9,475.5 L307.0,474.4 L308.1,472.8 L309.2,472.1 L310.3,471.0 L311.4,470.1 L312.5,468.5 L313.6,467.8 L314.7,466.6 L315.8,466.5 L316.9,466.5 L318.0,467.8 L319.1,468.6 L320.2,470.2 L321.3,471.3 L322.4,472.6 L323.5,473.6 L324.6,475.1 L325.7,476.3 L326.8,477.4 L327.9,477.9 L329.0,478.4 L330.1,478.2 L331.2,478.4 L332.3,477.1 L333.4,476.7 L334.5,476.1 L335.6,475.3 L336.7,474.2 L337.8,473.5 L338.9,472.1 L340.0,470.7 L341.1,469.6 L342.2,467.6 L343.3,466.8 L344.4,466.3 L345.5,467.0 L346.6,466.9 L347.7,467.8 L348.8,468.8 L349.9,469.6 L351.0,470.9 L352.1,472.7 L353.2,474.8 L354.3,476.2 L355.4,477.9 L356.5,479.0 L357.6,479.3 L358.7,480.0 L359.8,479.8 L360.9,479.1 L362.0,478.4 L363.1,477.7 L364.2,475.5 L365.3,474.5 L366.4,473.9 L367.5,472.6 L368.6,471.4 L369.7,470.9 L370.8,469.8 L371.9,468.5 L373.0,468.5 L374.1,468.3 L375.2,468.2 L376.3,468.1 L377.4,469.1 L378.5,469.9 L379.6,470.4 L380.7,471.8 L381.8,473.3 L382.9,474.3 L384.0,475.4 L385.1,476.7 L386.2,477.2 L387.3,477.6 L388.4,478.2 L389.5,477.8 L390.6,477.3 L391.7,476.9 L392.8,476.1 L393.9,473.6 L395.0,471.6 L396.1,470.7 L397.2,469.1 L398.3,468.2 L399.4,467.4 L400.5,467.4 L401.6,467.2" stroke="rgb(125,125,125)" stroke-width="0.85" fill="none" stroke-linejoin="round" opacity="0.85"/>
<path d="M73.8,467.7 L74.9,468.7 L76.0,469.7 L77.1,471.1 L78.2,472.8 L79.3,474.2 L80.4,475.8 L81.5,476.7 L82.6,477.0 L83.7,477.8 L84.8,477.9 L85.9,478.1 L87.0,477.5 L88.1,477.4 L89.2,476.6 L90.3,475.6 L91.4,474.6 L92.5,473.2 L93.6,471.3 L94.7,470.5 L95.8,469.2 L96.9,468.4 L98.0,467.7 L99.1,467.3 L100.2,467.1 L101.3,467.1 L102.4,467.6 L103.5,468.7 L104.6,469.8 L105.7,470.1 L106.8,471.1 L107.9,471.8 L109.0,473.1 L110.1,474.8 L111.2,476.4 L112.3,476.7 L113.4,476.7 L114.5,476.9 L115.6,476.1 L116.7,475.3 L117.8,475.1 L118.9,475.1 L120.0,474.2 L121.1,473.1 L122.2,471.7 L123.3,470.4 L124.4,468.9 L125.5,467.5 L126.6,467.3 L127.7,466.7 L128.8,467.6 L129.9,467.7 L131.0,468.1 L132.1,468.6 L133.2,469.3 L134.3,469.9 L135.4,471.6 L136.5,472.8 L137.6,473.4 L138.7,474.8 L139.8,475.5 L140.9,475.8 L142.0,476.4 L143.1,476.7 L144.2,476.6 L145.3,476.5 L146.4,476.2 L147.5,475.1 L148.6,474.0 L149.7,472.8 L150.8,471.5 L151.9,470.6 L153.0,469.6 L154.1,469.1 L155.2,468.5 L156.3,468.2 L157.4,468.0 L158.5,468.2 L159.6,468.2 L160.7,468.6 L161.8,469.7 L162.9,470.9 L164.0,472.2 L165.1,473.6 L166.2,475.1 L167.3,475.9 L168.4,476.4 L169.5,477.1 L170.6,477.9 L171.7,477.7 L172.8,477.9 L173.9,477.8 L175.0,477.1 L176.1,475.5 L177.2,474.2 L178.3,472.8 L179.4,471.2 L180.5,470.7 L181.6,469.9 L182.7,468.4 L183.8,467.1 L184.9,467.3 L186.0,467.0 L187.1,467.1 L188.2,468.0 L189.3,469.6 L190.4,470.6 L191.5,471.5 L192.6,472.2 L193.7,473.3 L194.8,473.8 L195.9,474.5 L197.0,475.8 L198.1,477.3 L199.2,477.9 L200.3,478.9 L201.4,478.8 L202.5,478.7 L203.6,478.4 L204.7,477.6 L205.8,475.8 L206.9,474.9 L208.0,474.1 L209.1,473.0 L210.2,471.4 L211.3,471.0 L212.4,469.3 L213.5,468.6 L214.6,468.2 L215.7,469.1 L216.8,469.0 L217.9,469.6 L219.0,470.4 L220.1,471.2 L221.2,472.0 L222.3,473.1 L223.4,474.9 L224.5,476.6 L225.6,478.4 L226.7,480.6 L227.8,483.7 L228.9,485.8 L230.0,486.8 L231.1,488.1 L232.2,488.9 L233.3,489.8 L234.4,490.4 L235.5,491.0 L236.6,491.0 L237.7,490.4 L238.8,489.5 L239.9,489.0 L241.0,488.7 L242.1,489.0 L243.2,488.3 L244.3,486.8 L245.4,485.7 L246.5,484.4 L247.6,481.8 L248.7,479.6 L249.8,478.1 L250.9,475.9 L252.0,473.9 L253.1,472.5 L254.2,470.3 L255.3,468.4 L256.4,467.3 L257.5,466.4 L258.6,466.5 L259.7,467.3 L260.8,467.9 L261.9,468.7 L263.0,469.9 L264.1,470.7 L265.2,471.5 L266.3,472.9 L267.4,474.0 L268.5,475.2 L269.6,476.6 L270.7,477.9 L271.8,478.3 L272.9,478.0 L274.0,478.1 L275.1,477.9 L276.2,477.4 L277.3,476.5 L278.4,475.7 L279.5,474.3 L280.6,472.9 L281.7,471.4 L282.8,470.2 L283.9,469.4 L285.0,468.5 L286.1,468.4 L287.2,468.3 L288.3,467.9 L289.4,467.7 L290.5,468.1 L291.6,468.8 L292.7,469.1 L293.8,470.5 L294.9,471.4 L296.0,473.0 L297.1,473.7 L298.2,475.3 L299.3,476.1 L300.4,477.0 L301.5,477.6 L302.6,477.7 L303.7,476.6 L304.8,476.7 L305.9,477.0 L307.0,475.5 L308.1,474.7 L309.2,474.8 L310.3,473.9 L311.4,472.0 L312.5,471.2 L313.6,469.9 L314.7,468.5 L315.8,467.6 L316.9,466.9 L318.0,466.5 L319.1,466.9 L320.2,467.8 L321.3,468.8 L322.4,470.1 L323.5,471.0 L324.6,472.6 L325.7,473.6 L326.8,474.2 L327.9,474.9 L329.0,475.7 L330.1,476.0 L331.2,476.7 L332.3,476.8 L333.4,476.7 L334.5,477.0 L335.6,476.1 L336.7,474.6 L337.8,473.7 L338.9,473.1 L340.0,471.5 L341.1,470.5 L342.2,469.3 L343.3,468.2 L344.4,468.1 L345.5,467.5 L346.6,467.4 L347.7,467.4 L348.8,468.4 L349.9,469.1 L351.0,469.5 L352.1,470.5 L353.2,471.8 L354.3,473.0 L355.4,474.0 L356.5,475.7 L357.6,477.2 L358.7,478.0 L359.8,478.3 L360.9,478.3 L362.0,477.3 L363.1,476.7 L364.2,475.9 L365.3,474.4 L366.4,473.2 L367.5,472.4 L368.6,470.7 L369.7,469.1 L370.8,468.1 L371.9,467.1 L373.0,466.3 L374.1,466.8 L375.2,467.2 L376.3,467.5 L377.4,468.1 L378.5,468.6 L379.6,469.7 L380.7,471.1 L381.8,472.1 L382.9,473.1 L384.0,473.7 L385.1,475.1 L386.2,475.9 L387.3,477.2 L388.4,477.9 L389.5,478.7 L390.6,478.7 L391.7,477.6 L392.8,476.6 L393.9,475.7 L395.0,474.4 L396.1,472.9 L397.2,472.2 L398.3,471.0 L399.4,470.5 L400.5,468.8 L401.6,468.0" stroke="rgb(145,145,145)" stroke-width="0.85" fill="none" stroke-linejoin="round" opacity="0.85"/>
<path d="M73.8,468.5 L74.9,468.8 L76.0,470.6 L77.1,471.5 L78.2,472.1 L79.3,473.5 L80.4,475.2 L81.5,475.9 L82.6,477.1 L83.7,477.0 L84.8,478.1 L85.9,477.7 L87.0,477.5 L88.1,477.2 L89.2,477.2 L90.3,476.4 L91.4,475.4 L92.5,474.1 L93.6,472.6 L94.7,471.2 L95.8,470.4 L96.9,469.6 L98.0,468.0 L99.1,467.5 L100.2,467.7 L101.3,467.2 L102.4,467.1 L103.5,467.9 L104.6,468.9 L105.7,469.2 L106.8,470.3 L107.9,472.2 L109.0,473.6 L110.1,474.4 L111.2,474.9 L112.3,475.7 L113.4,476.6 L114.5,476.4 L115.6,476.9 L116.7,476.4 L117.8,475.4 L118.9,474.7 L120.0,474.4 L121.1,472.9 L122.2,471.9 L123.3,470.9 L124.4,469.8 L125.5,468.9 L126.6,468.9 L127.7,468.8 L128.8,469.1 L129.9,469.5 L131.0,469.3 L132.1,469.9 L133.2,471.0 L134.3,471.9 L135.4,473.0 L136.5,474.1 L137.6,474.8 L138.7,475.9 L139.8,476.8 L140.9,478.1 L142.0,477.7 L143.1,478.6 L144.2,478.6 L145.3,478.0 L146.4,477.3 L147.5,476.7 L148.6,475.9 L149.7,474.7 L150.8,473.6 L151.9,472.8 L153.0,472.4 L154.1,470.8 L155.2,469.6 L156.3,469.1 L157.4,468.6 L158.5,468.5 L159.6,468.7 L160.7,468.8 L161.8,469.2 L162.9,470.3 L164.0,471.4 L165.1,472.6 L166.2,474.0 L167.3,475.4 L168.4,476.4 L169.5,477.8 L170.6,477.9 L171.7,477.3 L172.8,476.2 L173.9,475.4 L175.0,474.4 L176.1,474.6 L177.2,473.5 L178.3,473.2 L179.4,472.0 L180.5,471.8 L181.6,470.8 L182.7,470.1 L183.8,469.0 L184.9,468.6 L186.0,467.5 L187.1,467.1 L188.2,467.6 L189.3,467.5 L190.4,467.8 L191.5,469.4 L192.6,470.6 L193.7,472.2 L194.8,474.1 L195.9,475.4 L197.0,476.3 L198.1,477.5 L199.2,477.7 L200.3,478.0 L201.4,478.2 L202.5,477.7 L203.6,477.6 L204.7,476.9 L205.8,475.8 L206.9,475.2 L208.0,474.8 L209.1,472.9 L210.2,472.0 L211.3,471.0 L212.4,469.8 L213.5,469.0 L214.6,468.8 L215.7,468.1 L216.8,467.9 L217.9,468.1 L219.0,468.3 L220.1,469.4 L221.2,471.5 L222.3,472.8 L223.4,474.1 L224.5,475.5 L225.6,477.8 L226.7,479.7 L227.8,482.0 L228.9,483.9 L230.0,485.5 L231.1,486.5 L232.2,486.7 L233.3,487.2 L234.4,488.6 L235.5,489.3 L236.6,489.4 L237.7,489.6 L238.8,488.8 L239.9,488.2 L241.0,487.6 L242.1,487.1 L243.2,486.2 L244.3,485.7 L245.4,484.7 L246.5,483.1 L247.6,481.7 L248.7,480.0 L249.8,478.3 L250.9,476.6 L252.0,474.6 L253.1,472.5 L254.2,471.0 L255.3,469.2 L256.4,467.6 L257.5,468.1 L258.6,468.2 L259.7,468.5 L260.8,470.0 L261.9,470.8 L263.0,470.4 L264.1,471.4 L265.2,472.6 L266.3,473.7 L267.4,475.0 L268.5,475.8 L269.6,476.8 L270.7,477.3 L271.8,477.6 L272.9,478.1 L274.0,478.6 L275.1,478.1 L276.2,477.6 L277.3,476.9 L278.4,475.6 L279.5,474.3 L280.6,473.4 L281.7,471.2 L282.8,469.5 L283.9,467.8 L285.0,467.7 L286.1,466.8 L287.2,466.7 L288.3,467.2 L289.4,468.3 L290.5,468.6 L291.6,468.6 L292.7,469.1 L293.8,470.4 L294.9,471.2 L296.0,472.1 L297.1,473.8 L298.2,475.2 L299.3,475.1 L300.4,475.4 L301.5,476.1 L302.6,476.3 L303.7,475.8 L304.8,476.3 L305.9,475.9 L307.0,475.2 L308.1,474.4 L309.2,473.2 L310.3,471.5 L311.4,470.3 L312.5,469.4 L313.6,468.0 L314.7,467.7 L315.8,467.3 L316.9,467.1 L318.0,467.3 L319.1,467.9 L320.2,468.4 L321.3,469.9 L322.4,470.8 L323.5,472.1 L324.6,473.1 L325.7,474.0 L326.8,475.0 L327.9,476.3 L329.0,476.9 L330.1,477.4 L331.2,477.7 L332.3,477.6 L333.4,477.1 L334.5,476.4 L335.6,476.0 L336.7,475.0 L337.8,473.8 L338.9,472.2 L340.0,471.5 L341.1,470.0 L342.2,469.4 L343.3,468.7 L344.4,468.2 L345.5,468.7 L346.6,469.1 L347.7,469.4 L348.8,469.9 L349.9,470.2 L351.0,470.2 L352.1,471.1 L353.2,472.3 L354.3,473.1 L355.4,473.6 L356.5,475.0 L357.6,476.1 L358.7,476.2 L359.8,476.9 L360.9,477.4 L362.0,476.4 L363.1,476.1 L364.2,475.5 L365.3,474.4 L366.4,473.2 L367.5,472.4 L368.6,470.5 L369.7,469.3 L370.8,468.4 L371.9,467.9 L373.0,467.1 L374.1,467.3 L375.2,467.3 L376.3,467.2 L377.4,467.7 L378.5,469.2 L379.6,469.6 L380.7,470.8 L381.8,472.4 L382.9,473.0 L384.0,472.9 L385.1,473.8 L386.2,474.7 L387.3,474.0 L388.4,475.2 L389.5,475.7 L390.6,475.5 L391.7,474.9 L392.8,474.9 L393.9,474.0 L395.0,472.9 L396.1,471.7 L397.2,471.6 L398.3,470.5 L399.4,469.3 L400.5,469.1 L401.6,468.1" stroke="rgb(165,165,165)" stroke-width="0.85" fill="none" stroke-linejoin="round" opacity="0.85"/>
<path d="M73.8,467.5 L74.9,467.4 L76.0,468.5 L77.1,469.5 L78.2,471.2 L79.3,472.6 L80.4,474.1 L81.5,474.7 L82.6,476.2 L83.7,477.5 L84.8,478.3 L85.9,477.9 L87.0,478.2 L88.1,477.6 L89.2,477.0 L90.3,476.6 L91.4,475.5 L92.5,473.8 L93.6,473.0 L94.7,471.5 L95.8,470.0 L96.9,469.5 L98.0,468.5 L99.1,467.6 L100.2,466.7 L101.3,466.6 L102.4,466.5 L103.5,466.8 L104.6,466.8 L105.7,467.6 L106.8,469.7 L107.9,470.8 L109.0,472.2 L110.1,474.4 L111.2,475.5 L112.3,475.5 L113.4,477.0 L114.5,477.4 L115.6,476.9 L116.7,476.9 L117.8,475.8 L118.9,474.5 L120.0,473.5 L121.1,473.0 L122.2,471.6 L123.3,471.2 L124.4,470.1 L125.5,469.5 L126.6,467.6 L127.7,466.7 L128.8,466.2 L129.9,466.0 L131.0,465.7 L132.1,466.3 L133.2,468.1 L134.3,468.7 L135.4,469.8 L136.5,471.0 L137.6,473.2 L138.7,474.4 L139.8,476.5 L140.9,477.1 L142.0,477.8 L143.1,477.8 L144.2,477.2 L145.3,477.2 L146.4,476.6 L147.5,476.3 L148.6,474.6 L149.7,473.4 L150.8,472.2 L151.9,470.8 L153.0,469.4 L154.1,468.6 L155.2,467.8 L156.3,466.7 L157.4,466.3 L158.5,466.5 L159.6,466.9 L160.7,467.0 L161.8,467.3 L162.9,468.7 L164.0,469.7 L165.1,470.9 L166.2,472.2 L167.3,474.4 L168.4,475.1 L169.5,475.6 L170.6,476.5 L171.7,476.4 L172.8,476.9 L173.9,477.2 L175.0,476.1 L176.1,475.8 L177.2,475.9 L178.3,475.2 L179.4,473.6 L180.5,473.2 L181.6,471.2 L182.7,470.2 L183.8,468.3 L184.9,467.6 L186.0,467.5 L187.1,467.1 L188.2,466.9 L189.3,467.6 L190.4,468.4 L191.5,468.8 L192.6,470.6 L193.7,471.8 L194.8,473.2 L195.9,474.2 L197.0,475.4 L198.1,476.2 L199.2,477.4 L200.3,478.3 L201.4,478.3 L202.5,477.6 L203.6,477.3 L204.7,476.9 L205.8,475.4 L206.9,474.0 L208.0,472.9 L209.1,471.2 L210.2,469.5 L211.3,468.4 L212.4,467.6 L213.5,466.8 L214.6,466.2 L215.7,466.0 L216.8,466.5 L217.9,467.1 L219.0,467.5 L220.1,467.8 L221.2,469.2 L222.3,470.9 L223.4,472.8 L224.5,475.2 L225.6,477.3 L226.7,479.3 L227.8,481.4 L228.9,483.6 L230.0,485.6 L231.1,487.4 L232.2,489.0 L233.3,489.8 L234.4,490.4 L235.5,490.8 L236.6,490.5 L237.7,491.2 L238.8,491.2 L239.9,490.8 L241.0,490.0 L242.1,489.1 L243.2,486.8 L244.3,484.9 L245.4,483.2 L246.5,481.6 L247.6,479.6 L248.7,477.7 L249.8,476.5 L250.9,474.7 L252.0,472.5 L253.1,471.0 L254.2,469.6 L255.3,468.0 L256.4,467.3 L257.5,467.3 L258.6,467.0 L259.7,467.0 L260.8,467.5 L261.9,468.1 L263.0,468.9 L264.1,470.0 L265.2,471.8 L266.3,473.1 L267.4,474.3 L268.5,475.6 L269.6,477.6 L270.7,478.6 L271.8,478.9 L272.9,479.0 L274.0,478.8 L275.1,477.4 L276.2,476.6 L277.3,475.9 L278.4,474.7 L279.5,472.9 L280.6,472.0 L281.7,471.1 L282.8,469.9 L283.9,470.0 L285.0,469.2 L286.1,468.0 L287.2,467.2 L288.3,467.4 L289.4,467.0 L290.5,467.6 L291.6,468.5 L292.7,469.6 L293.8,470.2 L294.9,471.6 L296.0,472.9 L297.1,474.8 L298.2,476.1 L299.3,477.3 L300.4,477.6 L301.5,478.1 L302.6,478.0 L303.7,477.3 L304.8,476.6 L305.9,476.1 L307.0,474.5 L308.1,473.3 L309.2,471.7 L310.3,469.7 L311.4,468.8 L312.5,467.9 L313.6,467.3 L314.7,467.3 L315.8,467.1 L316.9,466.9 L318.0,466.9 L319.1,467.7 L320.2,468.2 L321.3,469.2 L322.4,470.1 L323.5,470.9 L324.6,472.7 L325.7,473.8 L326.8,474.8 L327.9,476.3 L329.0,477.0 L330.1,477.0 L331.2,478.2 L332.3,477.7 L333.4,476.6 L334.5,476.5 L335.6,475.4 L336.7,473.2 L337.8,472.6 L338.9,471.3 L340.0,469.4 L341.1,468.1 L342.2,467.1 L343.3,466.5 L344.4,466.0 L345.5,465.9 L346.6,465.9 L347.7,466.8 L348.8,467.6 L349.9,468.4 L351.0,470.3 L352.1,471.4 L353.2,472.5 L354.3,473.8 L355.4,474.3 L356.5,475.6 L357.6,476.7 L358.7,476.8 L359.8,477.5 L360.9,477.4 L362.0,476.7 L363.1,476.3 L364.2,475.4 L365.3,473.8 L366.4,472.5 L367.5,471.5 L368.6,470.2 L369.7,469.0 L370.8,468.7 L371.9,467.7 L373.0,467.3 L374.1,466.7 L375.2,467.0 L376.3,467.0 L377.4,467.7 L378.5,468.9 L379.6,470.4 L380.7,471.6 L381.8,473.2 L382.9,474.4 L384.0,475.6 L385.1,476.9 L386.2,477.9 L387.3,478.4 L388.4,478.4 L389.5,478.5 L390.6,477.8 L391.7,477.2 L392.8,476.7 L393.9,475.9 L395.0,474.8 L396.1,473.4 L397.2,471.8 L398.3,470.3 L399.4,468.6 L400.5,467.1 L401.6,466.4" stroke="rgb(185,185,185)" stroke-width="0.85" fill="none" stroke-linejoin="round" opacity="0.85"/>
<path d="M73.8,473.4 L74.9,473.1 L76.0,472.7 L77.1,472.7 L78.2,473.4 L79.3,473.7 L80.4,474.1 L81.5,474.8 L82.6,475.2 L83.7,475.1 L84.8,475.0 L85.9,475.4 L87.0,475.4 L88.1,475.8 L89.2,475.9 L90.3,475.9 L91.4,475.6 L92.5,475.4 L93.6,474.6 L94.7,474.4 L95.8,473.5 L96.9,473.8 L98.0,473.9 L99.1,473.6 L100.2,473.6 L101.3,474.1 L102.4,473.9 L103.5,473.8 L104.6,473.8 L105.7,474.5 L106.8,474.8 L107.9,475.4 L109.0,475.9 L110.1,476.4 L111.2,476.4 L112.3,476.4 L113.4,476.7 L114.5,476.6 L115.6,476.4 L116.7,476.5 L117.8,476.3 L118.9,476.1 L120.0,475.7 L121.1,475.3 L122.2,475.1 L123.3,474.7 L124.4,474.5 L125.5,474.8 L126.6,474.8 L127.7,474.6 L128.8,474.3 L129.9,474.2 L131.0,474.0 L132.1,474.0 L133.2,474.3 L134.3,474.7 L135.4,474.9 L136.5,475.1 L137.6,475.0 L138.7,475.4 L139.8,475.4 L140.9,475.5 L142.0,475.5 L143.1,476.1 L144.2,476.2 L145.3,476.6 L146.4,476.6 L147.5,476.4 L148.6,475.6 L149.7,475.3 L150.8,475.1 L151.9,474.6 L153.0,474.1 L154.1,474.3 L155.2,474.0 L156.3,473.4 L157.4,473.6 L158.5,473.7 L159.6,473.4 L160.7,473.3 L161.8,473.4 L162.9,473.7 L164.0,474.0 L165.1,474.1 L166.2,474.8 L167.3,475.2 L168.4,475.4 L169.5,475.3 L170.6,475.3 L171.7,475.5 L172.8,475.7 L173.9,475.1 L175.0,475.3 L176.1,475.1 L177.2,474.5 L178.3,474.1 L179.4,474.0 L180.5,474.1 L181.6,473.9 L182.7,474.1 L183.8,473.8 L184.9,473.8 L186.0,473.3 L187.1,473.0 L188.2,472.8 L189.3,473.0 L190.4,473.2 L191.5,473.8 L192.6,474.4 L193.7,474.8 L194.8,475.0 L195.9,475.0 L197.0,474.9 L198.1,475.1 L199.2,475.0 L200.3,475.5 L201.4,476.0 L202.5,476.1 L203.6,476.3 L204.7,476.2 L205.8,476.1 L206.9,475.9 L208.0,476.0 L209.1,475.9 L210.2,475.6 L211.3,474.8 L212.4,474.8 L213.5,474.5 L214.6,474.4 L215.7,474.5 L216.8,474.6 L217.9,474.7 L219.0,474.9 L220.1,475.4 L221.2,475.0 L222.3,475.3 L223.4,475.8 L224.5,476.2 L225.6,476.7 L226.7,477.4 L227.8,477.3 L228.9,477.2 L230.0,477.0 L231.1,477.3 L232.2,477.6 L233.3,478.2 L234.4,478.2 L235.5,478.4 L236.6,478.6 L237.7,479.1 L238.8,478.8 L239.9,478.9 L241.0,478.6 L242.1,478.3 L243.2,478.3 L244.3,478.2 L245.4,478.1 L246.5,477.6 L247.6,477.2 L248.7,476.5 L249.8,475.9 L250.9,475.6 L252.0,475.4 L253.1,474.8 L254.2,474.7 L255.3,474.4 L256.4,474.1 L257.5,474.2 L258.6,474.2 L259.7,473.9 L260.8,474.0 L261.9,474.5 L263.0,474.5 L264.1,474.3 L265.2,474.5 L266.3,474.5 L267.4,474.4 L268.5,474.5 L269.6,475.0 L270.7,475.4 L271.8,475.7 L272.9,475.4 L274.0,475.6 L275.1,475.3 L276.2,475.4 L277.3,475.4 L278.4,475.5 L279.5,475.4 L280.6,475.4 L281.7,475.0 L282.8,474.2 L283.9,473.6 L285.0,473.3 L286.1,473.2 L287.2,472.7 L288.3,473.1 L289.4,473.5 L290.5,473.8 L291.6,474.0 L292.7,474.2 L293.8,474.5 L294.9,474.9 L296.0,475.6 L297.1,475.6 L298.2,475.7 L299.3,475.9 L300.4,475.9 L301.5,475.2 L302.6,475.4 L303.7,475.7 L304.8,475.3 L305.9,474.7 L307.0,474.4 L308.1,473.7 L309.2,473.6 L310.3,473.8 L311.4,473.8 L312.5,474.0 L313.6,474.1 L314.7,473.2 L315.8,472.9 L316.9,472.4 L318.0,472.4 L319.1,472.6 L320.2,473.8 L321.3,474.4 L322.4,474.9 L323.5,474.9 L324.6,475.1 L325.7,475.2 L326.8,475.4 L327.9,475.5 L329.0,475.6 L330.1,475.7 L331.2,475.6 L332.3,475.8 L333.4,475.8 L334.5,475.2 L335.6,475.0 L336.7,474.5 L337.8,474.1 L338.9,473.6 L340.0,473.9 L341.1,473.7 L342.2,473.5 L343.3,473.2 L344.4,473.3 L345.5,472.9 L346.6,472.8 L347.7,473.0 L348.8,472.8 L349.9,473.0 L351.0,473.3 L352.1,473.9 L353.2,474.1 L354.3,474.6 L355.4,475.0 L356.5,475.3 L357.6,475.6 L358.7,475.9 L359.8,476.0 L360.9,476.2 L362.0,476.6 L363.1,476.6 L364.2,476.7 L365.3,476.8 L366.4,476.7 L367.5,475.8 L368.6,475.1 L369.7,475.1 L370.8,474.4 L371.9,474.3 L373.0,474.4 L374.1,474.3 L375.2,474.2 L376.3,474.7 L377.4,474.2 L378.5,474.3 L379.6,474.7 L380.7,475.1 L381.8,475.1 L382.9,474.9 L384.0,475.1 L385.1,474.7 L386.2,475.2 L387.3,475.7 L388.4,476.2 L389.5,476.2 L390.6,476.4 L391.7,476.2 L392.8,475.4 L393.9,475.3 L395.0,475.1 L396.1,474.5 L397.2,474.7 L398.3,474.8 L399.4,474.2 L400.5,474.1 L401.6,474.4" stroke="#a6761d" stroke-width="0.9" fill="none" stroke-linejoin="round" opacity="1"/>
<path d="M73.8,471.9 L74.9,472.1 L76.0,471.8 L77.1,472.2 L78.2,472.5 L79.3,472.6 L80.4,473.0 L81.5,473.4 L82.6,473.3 L83.7,473.4 L84.8,473.8 L85.9,474.3 L87.0,474.7 L88.1,474.8 L89.2,474.7 L90.3,474.5 L91.4,474.2 L92.5,474.3 L93.6,474.0 L94.7,473.7 L95.8,473.5 L96.9,472.9 L98.0,472.7 L99.1,472.3 L100.2,472.3 L101.3,472.3 L102.4,472.1 L103.5,472.1 L104.6,472.4 L105.7,472.8 L106.8,473.6 L107.9,474.0 L109.0,474.2 L110.1,475.0 L111.2,475.0 L112.3,474.9 L113.4,475.0 L114.5,475.1 L115.6,475.0 L116.7,474.8 L117.8,474.4 L118.9,473.9 L120.0,474.2 L121.1,473.6 L122.2,473.2 L123.3,472.9 L124.4,472.5 L125.5,472.0 L126.6,472.0 L127.7,471.4 L128.8,471.3 L129.9,471.5 L131.0,471.5 L132.1,471.8 L133.2,472.0 L134.3,472.2 L135.4,472.6 L136.5,472.6 L137.6,473.1 L138.7,473.5 L139.8,474.0 L140.9,474.7 L142.0,475.1 L143.1,475.0 L144.2,475.2 L145.3,474.9 L146.4,474.5 L147.5,474.5 L148.6,474.2 L149.7,474.1 L150.8,474.1 L151.9,473.7 L153.0,473.0 L154.1,473.3 L155.2,473.2 L156.3,472.7 L157.4,472.9 L158.5,472.9 L159.6,472.9 L160.7,473.0 L161.8,473.5 L162.9,473.6 L164.0,473.9 L165.1,473.9 L166.2,474.3 L167.3,474.5 L168.4,475.1 L169.5,475.4 L170.6,476.2 L171.7,476.2 L172.8,476.1 L173.9,475.7 L175.0,475.9 L176.1,475.3 L177.2,475.4 L178.3,475.0 L179.4,474.5 L180.5,474.0 L181.6,473.4 L182.7,473.3 L183.8,473.3 L184.9,472.7 L186.0,472.8 L187.1,472.7 L188.2,472.5 L189.3,472.7 L190.4,472.6 L191.5,472.7 L192.6,472.9 L193.7,473.1 L194.8,473.2 L195.9,473.5 L197.0,473.7 L198.1,473.7 L199.2,473.8 L200.3,474.2 L201.4,474.3 L202.5,474.4 L203.6,474.5 L204.7,474.5 L205.8,475.0 L206.9,474.8 L208.0,474.8 L209.1,474.8 L210.2,474.3 L211.3,474.0 L212.4,473.9 L213.5,473.6 L214.6,473.4 L215.7,473.1 L216.8,473.1 L217.9,472.8 L219.0,473.2 L220.1,473.5 L221.2,474.2 L222.3,474.6 L223.4,475.1 L224.5,475.5 L225.6,475.4 L226.7,475.6 L227.8,475.8 L228.9,476.2 L230.0,476.2 L231.1,477.2 L232.2,476.6 L233.3,476.9 L234.4,477.0 L235.5,477.2 L236.6,476.9 L237.7,477.2 L238.8,477.0 L239.9,477.4 L241.0,477.4 L242.1,477.2 L243.2,476.8 L244.3,476.8 L245.4,476.0 L246.5,475.3 L247.6,475.4 L248.7,475.4 L249.8,475.1 L250.9,475.0 L252.0,474.6 L253.1,474.4 L254.2,474.2 L255.3,473.8 L256.4,473.1 L257.5,472.8 L258.6,473.0 L259.7,473.0 L260.8,472.7 L261.9,472.6 L263.0,472.7 L264.1,473.2 L265.2,473.9 L266.3,474.1 L267.4,474.8 L268.5,475.2 L269.6,475.1 L270.7,474.8 L271.8,475.1 L272.9,475.2 L274.0,474.9 L275.1,474.6 L276.2,474.4 L277.3,474.3 L278.4,473.6 L279.5,473.1 L280.6,472.8 L281.7,472.7 L282.8,472.6 L283.9,472.2 L285.0,472.1 L286.1,471.3 L287.2,470.9 L288.3,470.6 L289.4,470.6 L290.5,470.6 L291.6,471.2 L292.7,471.5 L293.8,472.0 L294.9,472.4 L296.0,472.8 L297.1,473.0 L298.2,473.6 L299.3,474.3 L300.4,474.4 L301.5,474.7 L302.6,475.1 L303.7,475.1 L304.8,474.7 L305.9,474.4 L307.0,474.1 L308.1,473.6 L309.2,473.2 L310.3,472.9 L311.4,472.9 L312.5,472.7 L313.6,472.3 L314.7,472.3 L315.8,471.9 L316.9,471.6 L318.0,471.4 L319.1,471.4 L320.2,471.7 L321.3,472.0 L322.4,472.7 L323.5,472.9 L324.6,473.1 L325.7,473.4 L326.8,473.5 L327.9,473.1 L329.0,473.6 L330.1,473.9 L331.2,474.1 L332.3,474.3 L333.4,474.9 L334.5,474.5 L335.6,474.2 L336.7,474.4 L337.8,474.1 L338.9,473.6 L340.0,473.3 L341.1,472.8 L342.2,472.0 L343.3,471.6 L344.4,471.1 L345.5,470.5 L346.6,470.6 L347.7,470.7 L348.8,470.8 L349.9,471.3 L351.0,471.6 L352.1,472.3 L353.2,473.1 L354.3,473.9 L355.4,474.1 L356.5,474.4 L357.6,474.3 L358.7,473.8 L359.8,474.2 L360.9,474.2 L362.0,474.3 L363.1,473.8 L364.2,473.7 L365.3,473.5 L366.4,473.8 L367.5,473.3 L368.6,473.3 L369.7,473.4 L370.8,472.9 L371.9,473.0 L373.0,472.6 L374.1,472.5 L375.2,472.1 L376.3,472.4 L377.4,472.1 L378.5,472.4 L379.6,472.2 L380.7,473.1 L381.8,473.5 L382.9,473.5 L384.0,474.0 L385.1,474.4 L386.2,474.4 L387.3,474.5 L388.4,474.9 L389.5,474.5 L390.6,474.3 L391.7,474.4 L392.8,474.1 L393.9,474.2 L395.0,474.1 L396.1,473.8 L397.2,473.5 L398.3,473.2 L399.4,472.8 L400.5,472.5 L401.6,473.0" stroke="#1b9e77" stroke-width="0.9" fill="none" stroke-linejoin="round" opacity="1"/>
<path d="M73.8,471.4 L74.9,471.7 L76.0,472.1 L77.1,472.7 L78.2,473.3 L79.3,473.7 L80.4,473.7 L81.5,474.2 L82.6,474.1 L83.7,474.0 L84.8,474.1 L85.9,474.1 L87.0,473.5 L88.1,473.4 L89.2,473.2 L90.3,472.9 L91.4,472.4 L92.5,472.2 L93.6,471.5 L94.7,471.6 L95.8,471.6 L96.9,470.9 L98.0,470.7 L99.1,470.8 L100.2,470.5 L101.3,470.7 L102.4,471.1 L103.5,471.4 L104.6,471.9 L105.7,472.3 L106.8,472.6 L107.9,473.2 L109.0,473.3 L110.1,473.7 L111.2,473.9 L112.3,474.5 L113.4,474.7 L114.5,475.3 L115.6,475.3 L116.7,475.2 L117.8,475.0 L118.9,474.1 L120.0,473.7 L121.1,473.5 L122.2,472.9 L123.3,472.7 L124.4,472.5 L125.5,472.0 L126.6,471.8 L127.7,471.8 L128.8,471.7 L129.9,471.5 L131.0,471.8 L132.1,471.7 L133.2,472.1 L134.3,472.8 L135.4,473.4 L136.5,473.8 L137.6,473.6 L138.7,473.8 L139.8,474.1 L140.9,474.1 L142.0,474.2 L143.1,474.7 L144.2,474.2 L145.3,474.4 L146.4,474.5 L147.5,474.3 L148.6,474.1 L149.7,474.1 L150.8,473.4 L151.9,472.9 L153.0,472.7 L154.1,472.5 L155.2,471.8 L156.3,471.7 L157.4,471.5 L158.5,471.7 L159.6,471.8 L160.7,472.1 L161.8,472.3 L162.9,472.8 L164.0,473.2 L165.1,473.3 L166.2,473.2 L167.3,474.1 L168.4,474.3 L169.5,474.2 L170.6,474.5 L171.7,475.3 L172.8,474.5 L173.9,473.9 L175.0,474.0 L176.1,473.8 L177.2,473.3 L178.3,473.2 L179.4,473.2 L180.5,473.2 L181.6,472.9 L182.7,472.3 L183.8,471.8 L184.9,471.6 L186.0,471.3 L187.1,471.6 L188.2,472.1 L189.3,472.5 L190.4,472.4 L191.5,472.8 L192.6,473.0 L193.7,473.1 L194.8,473.1 L195.9,473.4 L197.0,473.2 L198.1,473.3 L199.2,473.8 L200.3,473.9 L201.4,474.1 L202.5,474.3 L203.6,474.1 L204.7,473.7 L205.8,473.9 L206.9,473.3 L208.0,472.7 L209.1,472.5 L210.2,471.8 L211.3,471.5 L212.4,471.2 L213.5,470.9 L214.6,470.9 L215.7,471.2 L216.8,470.9 L217.9,471.1 L219.0,471.5 L220.1,471.6 L221.2,472.2 L222.3,472.6 L223.4,473.1 L224.5,473.8 L225.6,474.3 L226.7,474.6 L227.8,475.3 L228.9,475.6 L230.0,476.1 L231.1,476.5 L232.2,476.7 L233.3,476.6 L234.4,477.0 L235.5,477.0 L236.6,477.0 L237.7,477.4 L238.8,477.7 L239.9,477.5 L241.0,477.1 L242.1,476.8 L243.2,476.5 L244.3,476.3 L245.4,476.4 L246.5,475.8 L247.6,475.3 L248.7,474.5 L249.8,473.9 L250.9,472.7 L252.0,472.2 L253.1,471.4 L254.2,471.5 L255.3,471.0 L256.4,471.0 L257.5,470.9 L258.6,470.8 L259.7,470.7 L260.8,470.9 L261.9,471.2 L263.0,471.4 L264.1,472.0 L265.2,472.1 L266.3,471.9 L267.4,472.4 L268.5,473.1 L269.6,473.5 L270.7,473.8 L271.8,474.1 L272.9,474.3 L274.0,474.0 L275.1,473.7 L276.2,473.8 L277.3,473.7 L278.4,473.5 L279.5,473.6 L280.6,473.3 L281.7,472.9 L282.8,472.6 L283.9,472.7 L285.0,472.2 L286.1,471.7 L287.2,471.7 L288.3,471.7 L289.4,471.8 L290.5,472.2 L291.6,472.2 L292.7,472.5 L293.8,472.9 L294.9,473.0 L296.0,473.7 L297.1,474.3 L298.2,474.9 L299.3,475.3 L300.4,475.5 L301.5,475.6 L302.6,475.8 L303.7,475.4 L304.8,475.2 L305.9,475.0 L307.0,474.4 L308.1,474.3 L309.2,474.1 L310.3,473.5 L311.4,472.7 L312.5,472.3 L313.6,472.4 L314.7,472.2 L315.8,471.9 L316.9,472.4 L318.0,471.8 L319.1,471.3 L320.2,471.5 L321.3,471.6 L322.4,471.7 L323.5,471.9 L324.6,472.5 L325.7,472.6 L326.8,473.3 L327.9,473.6 L329.0,474.0 L330.1,474.0 L331.2,474.4 L332.3,474.3 L333.4,474.2 L334.5,474.0 L335.6,473.3 L336.7,473.2 L337.8,472.7 L338.9,472.7 L340.0,472.2 L341.1,472.1 L342.2,471.6 L343.3,471.7 L344.4,471.2 L345.5,471.2 L346.6,471.3 L347.7,471.6 L348.8,471.6 L349.9,471.6 L351.0,472.0 L352.1,472.2 L353.2,472.1 L354.3,472.7 L355.4,473.2 L356.5,473.8 L357.6,474.0 L358.7,474.8 L359.8,474.7 L360.9,474.6 L362.0,474.5 L363.1,474.2 L364.2,473.3 L365.3,472.9 L366.4,472.6 L367.5,472.0 L368.6,471.6 L369.7,471.2 L370.8,471.2 L371.9,471.1 L373.0,471.1 L374.1,470.9 L375.2,470.8 L376.3,470.7 L377.4,470.9 L378.5,471.1 L379.6,471.0 L380.7,471.7 L381.8,472.2 L382.9,472.6 L384.0,473.1 L385.1,473.5 L386.2,473.6 L387.3,473.9 L388.4,474.2 L389.5,474.0 L390.6,473.9 L391.7,473.8 L392.8,473.5 L393.9,473.3 L395.0,473.5 L396.1,473.1 L397.2,473.2 L398.3,472.5 L399.4,472.2 L400.5,472.0 L401.6,471.9" stroke="#e6ab02" stroke-width="0.9" fill="none" stroke-linejoin="round" opacity="1"/>
<path d="M73.8,470.9 L74.9,471.3 L76.0,471.8 L77.1,471.6 L78.2,471.8 L79.3,472.1 L80.4,472.6 L81.5,473.2 L82.6,473.6 L83.7,474.1 L84.8,474.4 L85.9,474.1 L87.0,473.6 L88.1,473.7 L89.2,473.6 L90.3,473.8 L91.4,473.2 L92.5,472.7 L93.6,472.0 L94.7,471.4 L95.8,470.8 L96.9,470.5 L98.0,470.2 L99.1,470.5 L100.2,470.0 L101.3,470.0 L102.4,470.4 L103.5,470.2 L104.6,470.1 L105.7,470.5 L106.8,470.9 L107.9,471.5 L109.0,472.2 L110.1,472.8 L111.2,473.1 L112.3,473.3 L113.4,473.8 L114.5,473.9 L115.6,473.1 L116.7,472.8 L117.8,473.0 L118.9,472.6 L120.0,472.0 L121.1,471.7 L122.2,471.6 L123.3,470.7 L124.4,470.3 L125.5,469.7 L126.6,469.6 L127.7,469.0 L128.8,468.6 L129.9,468.3 L131.0,468.8 L132.1,469.1 L133.2,469.7 L134.3,470.0 L135.4,470.4 L136.5,470.7 L137.6,471.2 L138.7,471.3 L139.8,471.4 L140.9,471.7 L142.0,471.8 L143.1,471.9 L144.2,471.7 L145.3,471.5 L146.4,471.6 L147.5,471.5 L148.6,471.3 L149.7,471.2 L150.8,470.9 L151.9,470.4 L153.0,469.4 L154.1,469.1 L155.2,469.0 L156.3,468.6 L157.4,468.9 L158.5,469.2 L159.6,469.1 L160.7,469.4 L161.8,469.6 L162.9,470.3 L164.0,470.9 L165.1,471.1 L166.2,471.5 L167.3,471.9 L168.4,472.1 L169.5,472.1 L170.6,472.8 L171.7,473.0 L172.8,473.0 L173.9,473.0 L175.0,472.7 L176.1,472.0 L177.2,472.3 L178.3,471.7 L179.4,471.0 L180.5,470.5 L181.6,470.4 L182.7,469.4 L183.8,468.9 L184.9,468.4 L186.0,468.7 L187.1,468.4 L188.2,468.8 L189.3,468.8 L190.4,469.0 L191.5,469.4 L192.6,469.5 L193.7,470.1 L194.8,470.8 L195.9,471.6 L197.0,471.6 L198.1,471.5 L199.2,472.0 L200.3,472.3 L201.4,472.5 L202.5,472.9 L203.6,472.8 L204.7,472.4 L205.8,472.6 L206.9,472.1 L208.0,471.5 L209.1,471.1 L210.2,470.9 L211.3,470.1 L212.4,470.0 L213.5,469.4 L214.6,469.4 L215.7,468.9 L216.8,469.0 L217.9,469.3 L219.0,470.0 L220.1,470.6 L221.2,470.7 L222.3,471.1 L223.4,471.7 L224.5,472.5 L225.6,473.0 L226.7,473.6 L227.8,474.5 L228.9,474.7 L230.0,474.9 L231.1,475.2 L232.2,475.9 L233.3,476.3 L234.4,476.6 L235.5,476.7 L236.6,477.0 L237.7,477.1 L238.8,476.3 L239.9,476.4 L241.0,476.9 L242.1,476.8 L243.2,477.0 L244.3,477.2 L245.4,476.6 L246.5,475.9 L247.6,475.3 L248.7,474.7 L249.8,474.2 L250.9,473.5 L252.0,473.5 L253.1,472.6 L254.2,472.0 L255.3,471.8 L256.4,471.1 L257.5,470.3 L258.6,470.3 L259.7,470.3 L260.8,470.3 L261.9,470.3 L263.0,470.6 L264.1,470.9 L265.2,471.1 L266.3,471.4 L267.4,472.2 L268.5,472.2 L269.6,472.5 L270.7,472.8 L271.8,473.5 L272.9,473.2 L274.0,473.9 L275.1,473.9 L276.2,473.8 L277.3,473.2 L278.4,473.2 L279.5,472.2 L280.6,471.7 L281.7,471.4 L282.8,471.3 L283.9,470.5 L285.0,470.1 L286.1,469.9 L287.2,469.2 L288.3,469.0 L289.4,469.0 L290.5,469.8 L291.6,469.8 L292.7,469.9 L293.8,469.8 L294.9,470.8 L296.0,470.7 L297.1,471.4 L298.2,471.8 L299.3,472.5 L300.4,472.8 L301.5,473.0 L302.6,472.5 L303.7,472.7 L304.8,472.5 L305.9,472.4 L307.0,471.9 L308.1,471.6 L309.2,471.1 L310.3,470.1 L311.4,469.5 L312.5,469.2 L313.6,469.3 L314.7,469.3 L315.8,468.8 L316.9,468.5 L318.0,468.1 L319.1,468.4 L320.2,468.8 L321.3,469.4 L322.4,469.7 L323.5,470.7 L324.6,470.6 L325.7,471.1 L326.8,471.3 L327.9,471.6 L329.0,471.7 L330.1,472.3 L331.2,472.2 L332.3,472.2 L333.4,472.5 L334.5,472.0 L335.6,471.3 L336.7,471.4 L337.8,471.0 L338.9,470.7 L340.0,470.3 L341.1,470.1 L342.2,469.5 L343.3,469.4 L344.4,469.4 L345.5,469.7 L346.6,470.0 L347.7,470.2 L348.8,470.8 L349.9,471.0 L351.0,471.4 L352.1,471.3 L353.2,471.8 L354.3,471.9 L355.4,472.3 L356.5,472.5 L357.6,472.5 L358.7,472.7 L359.8,472.3 L360.9,472.4 L362.0,472.6 L363.1,473.0 L364.2,472.6 L365.3,472.6 L366.4,471.7 L367.5,471.6 L368.6,471.3 L369.7,470.7 L370.8,469.9 L371.9,469.5 L373.0,469.4 L374.1,469.5 L375.2,469.3 L376.3,469.7 L377.4,470.3 L378.5,470.2 L379.6,470.6 L380.7,471.4 L381.8,471.6 L382.9,471.8 L384.0,472.1 L385.1,472.1 L386.2,472.3 L387.3,473.0 L388.4,472.9 L389.5,472.8 L390.6,472.6 L391.7,472.8 L392.8,472.5 L393.9,471.8 L395.0,471.3 L396.1,471.6 L397.2,470.6 L398.3,470.1 L399.4,469.8 L400.5,469.6 L401.6,469.4" stroke="#d95f02" stroke-width="0.9" fill="none" stroke-linejoin="round" opacity="1"/>
<path d="M73.8,477.2 L74.9,477.2 L76.0,477.3 L77.1,477.8 L78.2,478.6 L79.3,478.6 L80.4,478.7 L81.5,478.9 L82.6,478.8 L83.7,479.3 L84.8,479.1 L85.9,479.0 L87.0,479.3 L88.1,479.3 L89.2,479.2 L90.3,479.1 L91.4,479.0 L92.5,479.0 L93.6,479.1 L94.7,479.2 L95.8,479.0 L96.9,478.9 L98.0,478.5 L99.1,478.4 L100.2,478.0 L101.3,478.4 L102.4,478.2 L103.5,478.3 L104.6,478.2 L105.7,478.6 L106.8,478.5 L107.9,478.9 L109.0,479.2 L110.1,479.2 L111.2,479.2 L112.3,479.3 L113.4,479.3 L114.5,479.0 L115.6,478.7 L116.7,479.1 L117.8,478.9 L118.9,478.5 L120.0,478.1 L121.1,477.6 L122.2,477.0 L123.3,477.2 L124.4,476.7 L125.5,476.9 L126.6,476.6 L127.7,477.0 L128.8,477.1 L129.9,477.6 L131.0,477.2 L132.1,477.4 L133.2,477.3 L134.3,477.5 L135.4,477.8 L136.5,478.4 L137.6,478.3 L138.7,478.5 L139.8,478.7 L140.9,478.9 L142.0,479.1 L143.1,479.3 L144.2,479.3 L145.3,479.5 L146.4,479.4 L147.5,479.4 L148.6,479.1 L149.7,478.1 L150.8,477.6 L151.9,477.3 L153.0,476.7 L154.1,476.7 L155.2,476.8 L156.3,476.8 L157.4,476.8 L158.5,476.8 L159.6,477.1 L160.7,476.9 L161.8,477.4 L162.9,477.4 L164.0,477.9 L165.1,478.5 L166.2,478.6 L167.3,478.3 L168.4,478.6 L169.5,479.1 L170.6,479.2 L171.7,479.5 L172.8,480.1 L173.9,479.6 L175.0,479.6 L176.1,479.4 L177.2,478.9 L178.3,478.3 L179.4,478.2 L180.5,478.1 L181.6,478.0 L182.7,478.3 L183.8,478.6 L184.9,478.6 L186.0,478.3 L187.1,478.2 L188.2,477.9 L189.3,477.7 L190.4,477.6 L191.5,477.8 L192.6,478.3 L193.7,478.3 L194.8,478.5 L195.9,478.9 L197.0,478.9 L198.1,478.9 L199.2,478.9 L200.3,478.9 L201.4,478.5 L202.5,478.7 L203.6,478.2 L204.7,478.3 L205.8,477.8 L206.9,477.6 L208.0,477.3 L209.1,477.4 L210.2,477.0 L211.3,477.2 L212.4,477.3 L213.5,477.1 L214.6,477.3 L215.7,477.4 L216.8,476.8 L217.9,476.6 L219.0,477.0 L220.1,477.0 L221.2,477.3 L222.3,477.7 L223.4,478.0 L224.5,478.3 L225.6,478.4 L226.7,478.5 L227.8,478.9 L228.9,478.1 L230.0,478.3 L231.1,478.2 L232.2,478.1 L233.3,478.0 L234.4,478.2 L235.5,477.9 L236.6,477.7 L237.7,477.6 L238.8,477.7 L239.9,478.3 L241.0,478.1 L242.1,478.1 L243.2,478.4 L244.3,478.0 L245.4,477.4 L246.5,477.7 L247.6,477.8 L248.7,477.7 L249.8,477.7 L250.9,477.5 L252.0,477.3 L253.1,477.0 L254.2,476.4 L255.3,476.1 L256.4,476.0 L257.5,476.2 L258.6,476.5 L259.7,476.6 L260.8,476.8 L261.9,477.1 L263.0,477.0 L264.1,476.4 L265.2,476.6 L266.3,476.6 L267.4,477.0 L268.5,477.9 L269.6,478.7 L270.7,478.8 L271.8,479.1 L272.9,479.1 L274.0,478.7 L275.1,478.8 L276.2,479.0 L277.3,478.5 L278.4,478.4 L279.5,478.0 L280.6,477.5 L281.7,477.3 L282.8,477.1 L283.9,476.7 L285.0,476.7 L286.1,476.9 L287.2,476.1 L288.3,475.9 L289.4,476.2 L290.5,476.2 L291.6,476.2 L292.7,477.0 L293.8,477.2 L294.9,477.3 L296.0,477.9 L297.1,478.1 L298.2,478.3 L299.3,478.8 L300.4,479.1 L301.5,478.3 L302.6,478.3 L303.7,478.4 L304.8,478.1 L305.9,477.7 L307.0,478.2 L308.1,478.4 L309.2,478.2 L310.3,477.9 L311.4,477.9 L312.5,477.5 L313.6,477.1 L314.7,477.0 L315.8,477.1 L316.9,477.2 L318.0,477.3 L319.1,477.4 L320.2,477.6 L321.3,477.2 L322.4,477.4 L323.5,477.4 L324.6,478.0 L325.7,478.3 L326.8,478.8 L327.9,478.8 L329.0,478.6 L330.1,478.2 L331.2,478.4 L332.3,478.1 L333.4,478.3 L334.5,478.3 L335.6,478.1 L336.7,477.8 L337.8,477.5 L338.9,477.5 L340.0,477.2 L341.1,477.2 L342.2,477.4 L343.3,477.5 L344.4,477.5 L345.5,477.6 L346.6,477.7 L347.7,478.0 L348.8,477.9 L349.9,478.2 L351.0,478.2 L352.1,478.1 L353.2,478.3 L354.3,478.4 L355.4,478.3 L356.5,478.2 L357.6,478.4 L358.7,478.8 L359.8,478.8 L360.9,479.1 L362.0,479.2 L363.1,479.2 L364.2,479.3 L365.3,478.6 L366.4,478.6 L367.5,478.3 L368.6,478.6 L369.7,478.3 L370.8,478.6 L371.9,478.3 L373.0,478.0 L374.1,477.7 L375.2,477.2 L376.3,476.8 L377.4,477.0 L378.5,477.2 L379.6,476.8 L380.7,477.2 L381.8,477.7 L382.9,478.1 L384.0,478.1 L385.1,478.2 L386.2,478.3 L387.3,478.6 L388.4,478.3 L389.5,478.5 L390.6,478.4 L391.7,478.3 L392.8,478.0 L393.9,478.0 L395.0,477.6 L396.1,477.3 L397.2,476.9 L398.3,476.8 L399.4,476.8 L400.5,476.7 L401.6,476.4" stroke="#66a61e" stroke-width="0.9" fill="none" stroke-linejoin="round" opacity="1"/>
<path d="M73.8,465.9 L74.9,466.3 L76.0,466.9 L77.1,467.1 L78.2,467.9 L79.3,468.6 L80.4,468.8 L81.5,469.0 L82.6,469.5 L83.7,469.6 L84.8,469.5 L85.9,469.5 L87.0,469.6 L88.1,469.6 L89.2,469.0 L90.3,469.0 L91.4,468.3 L92.5,467.7 L93.6,467.1 L94.7,466.5 L95.8,466.0 L96.9,465.8 L98.0,465.8 L99.1,465.8 L100.2,465.5 L101.3,465.7 L102.4,465.9 L103.5,466.1 L104.6,466.7 L105.7,467.3 L106.8,467.7 L107.9,468.0 L109.0,468.4 L110.1,469.0 L111.2,469.2 L112.3,469.5 L113.4,469.3 L114.5,469.3 L115.6,469.2 L116.7,469.2 L117.8,469.0 L118.9,469.0 L120.0,468.4 L121.1,467.9 L122.2,467.5 L123.3,466.9 L124.4,466.1 L125.5,466.2 L126.6,465.7 L127.7,465.9 L128.8,466.3 L129.9,466.6 L131.0,466.6 L132.1,467.1 L133.2,467.3 L134.3,467.6 L135.4,467.9 L136.5,468.6 L137.6,468.7 L138.7,469.3 L139.8,469.8 L140.9,470.5 L142.0,470.4 L143.1,470.7 L144.2,470.4 L145.3,470.0 L146.4,469.8 L147.5,469.2 L148.6,468.1 L149.7,467.6 L150.8,467.4 L151.9,466.6 L153.0,466.6 L154.1,466.2 L155.2,466.0 L156.3,466.3 L157.4,466.4 L158.5,466.4 L159.6,466.5 L160.7,466.7 L161.8,466.2 L162.9,466.8 L164.0,467.2 L165.1,467.7 L166.2,467.9 L167.3,468.4 L168.4,468.8 L169.5,469.1 L170.6,469.5 L171.7,469.6 L172.8,469.5 L173.9,469.2 L175.0,469.6 L176.1,469.1 L177.2,468.4 L178.3,468.3 L179.4,468.1 L180.5,467.2 L181.6,467.1 L182.7,467.1 L183.8,466.7 L184.9,466.2 L186.0,466.0 L187.1,465.9 L188.2,465.9 L189.3,465.7 L190.4,466.3 L191.5,466.7 L192.6,467.3 L193.7,467.8 L194.8,468.5 L195.9,468.8 L197.0,469.3 L198.1,469.4 L199.2,470.0 L200.3,470.0 L201.4,470.1 L202.5,470.3 L203.6,470.5 L204.7,469.8 L205.8,469.5 L206.9,469.0 L208.0,468.6 L209.1,468.1 L210.2,467.8 L211.3,467.6 L212.4,467.1 L213.5,466.5 L214.6,466.1 L215.7,466.0 L216.8,466.0 L217.9,466.3 L219.0,466.7 L220.1,466.9 L221.2,467.6 L222.3,468.6 L223.4,469.4 L224.5,470.4 L225.6,471.3 L226.7,471.9 L227.8,472.1 L228.9,472.8 L230.0,473.5 L231.1,474.4 L232.2,475.0 L233.3,475.4 L234.4,475.8 L235.5,475.8 L236.6,475.7 L237.7,475.4 L238.8,475.5 L239.9,475.3 L241.0,475.0 L242.1,474.9 L243.2,474.5 L244.3,473.9 L245.4,473.4 L246.5,473.1 L247.6,472.4 L248.7,471.5 L249.8,470.3 L250.9,469.4 L252.0,468.5 L253.1,467.5 L254.2,466.9 L255.3,466.7 L256.4,466.3 L257.5,465.9 L258.6,466.0 L259.7,465.9 L260.8,466.3 L261.9,466.7 L263.0,467.0 L264.1,467.1 L265.2,467.9 L266.3,467.8 L267.4,467.9 L268.5,468.2 L269.6,468.8 L270.7,469.0 L271.8,469.3 L272.9,469.3 L274.0,469.5 L275.1,469.5 L276.2,469.2 L277.3,468.8 L278.4,468.3 L279.5,468.0 L280.6,467.3 L281.7,467.0 L282.8,466.7 L283.9,466.7 L285.0,466.4 L286.1,466.4 L287.2,466.1 L288.3,466.4 L289.4,466.6 L290.5,466.6 L291.6,466.3 L292.7,467.1 L293.8,467.4 L294.9,467.8 L296.0,468.6 L297.1,469.1 L298.2,469.1 L299.3,469.2 L300.4,469.3 L301.5,469.1 L302.6,469.5 L303.7,469.7 L304.8,469.4 L305.9,468.6 L307.0,468.3 L308.1,467.5 L309.2,467.0 L310.3,466.7 L311.4,466.5 L312.5,466.0 L313.6,465.7 L314.7,465.5 L315.8,465.3 L316.9,465.6 L318.0,465.7 L319.1,466.1 L320.2,466.2 L321.3,466.6 L322.4,466.7 L323.5,467.2 L324.6,467.6 L325.7,468.2 L326.8,468.8 L327.9,469.1 L329.0,469.6 L330.1,469.7 L331.2,469.7 L332.3,469.5 L333.4,469.8 L334.5,469.6 L335.6,469.4 L336.7,468.9 L337.8,468.4 L338.9,467.7 L340.0,467.4 L341.1,467.1 L342.2,467.2 L343.3,467.0 L344.4,466.4 L345.5,466.1 L346.6,465.7 L347.7,465.9 L348.8,466.0 L349.9,466.7 L351.0,467.2 L352.1,468.0 L353.2,468.9 L354.3,469.2 L355.4,469.5 L356.5,469.7 L357.6,470.0 L358.7,469.9 L359.8,470.4 L360.9,470.7 L362.0,470.2 L363.1,469.6 L364.2,469.6 L365.3,469.3 L366.4,468.8 L367.5,468.7 L368.6,468.6 L369.7,467.9 L370.8,467.5 L371.9,467.1 L373.0,466.1 L374.1,465.7 L375.2,465.7 L376.3,466.1 L377.4,466.4 L378.5,467.0 L379.6,467.4 L380.7,468.0 L381.8,468.0 L382.9,468.5 L384.0,468.9 L385.1,469.4 L386.2,469.2 L387.3,469.6 L388.4,469.8 L389.5,469.9 L390.6,469.4 L391.7,469.0 L392.8,468.6 L393.9,468.1 L395.0,467.4 L396.1,466.9 L397.2,466.7 L398.3,466.4 L399.4,466.3 L400.5,465.7 L401.6,466.0" stroke="#7570b3" stroke-width="0.9" fill="none" stroke-linejoin="round" opacity="1"/>
<path d="M73.8,461.8 L74.9,462.4 L76.0,462.8 L77.1,463.3 L78.2,463.2 L79.3,463.6 L80.4,464.1 L81.5,464.5 L82.6,465.5 L83.7,465.8 L84.8,465.9 L85.9,465.9 L87.0,465.9 L88.1,465.7 L89.2,465.5 L90.3,464.7 L91.4,464.3 L92.5,463.4 L93.6,462.4 L94.7,461.7 L95.8,461.3 L96.9,460.8 L98.0,460.8 L99.1,460.5 L100.2,460.4 L101.3,460.3 L102.4,460.1 L103.5,460.4 L104.6,461.0 L105.7,461.5 L106.8,462.0 L107.9,462.6 L109.0,462.9 L110.1,463.7 L111.2,464.3 L112.3,465.1 L113.4,465.4 L114.5,465.5 L115.6,465.5 L116.7,465.4 L117.8,465.0 L118.9,464.6 L120.0,464.2 L121.1,463.6 L122.2,463.2 L123.3,463.1 L124.4,462.5 L125.5,462.1 L126.6,461.8 L127.7,461.4 L128.8,461.2 L129.9,461.4 L131.0,461.5 L132.1,461.7 L133.2,462.1 L134.3,462.9 L135.4,463.6 L136.5,464.3 L137.6,464.6 L138.7,464.8 L139.8,465.3 L140.9,466.3 L142.0,466.6 L143.1,466.8 L144.2,466.7 L145.3,466.4 L146.4,465.8 L147.5,465.4 L148.6,464.6 L149.7,464.1 L150.8,463.3 L151.9,462.9 L153.0,462.4 L154.1,462.1 L155.2,461.4 L156.3,461.4 L157.4,461.0 L158.5,461.2 L159.6,461.5 L160.7,461.5 L161.8,461.9 L162.9,462.1 L164.0,462.9 L165.1,463.5 L166.2,464.2 L167.3,464.8 L168.4,465.0 L169.5,465.3 L170.6,465.2 L171.7,465.4 L172.8,465.2 L173.9,464.9 L175.0,464.7 L176.1,465.0 L177.2,464.3 L178.3,463.9 L179.4,463.5 L180.5,462.6 L181.6,461.7 L182.7,461.3 L183.8,461.0 L184.9,460.8 L186.0,460.9 L187.1,460.9 L188.2,461.1 L189.3,461.6 L190.4,462.0 L191.5,462.3 L192.6,463.1 L193.7,463.8 L194.8,464.1 L195.9,464.6 L197.0,465.4 L198.1,465.4 L199.2,465.3 L200.3,465.7 L201.4,465.6 L202.5,465.9 L203.6,465.7 L204.7,465.6 L205.8,465.4 L206.9,464.9 L208.0,463.9 L209.1,463.3 L210.2,462.8 L211.3,461.9 L212.4,461.5 L213.5,461.3 L214.6,461.4 L215.7,461.4 L216.8,461.9 L217.9,462.1 L219.0,462.2 L220.1,462.5 L221.2,463.5 L222.3,464.3 L223.4,465.3 L224.5,466.8 L225.6,468.0 L226.7,468.7 L227.8,469.7 L228.9,470.5 L230.0,471.1 L231.1,471.8 L232.2,472.5 L233.3,473.1 L234.4,473.1 L235.5,473.4 L236.6,473.1 L237.7,473.0 L238.8,472.5 L239.9,472.6 L241.0,472.2 L242.1,471.7 L243.2,471.3 L244.3,470.8 L245.4,470.0 L246.5,469.2 L247.6,468.3 L248.7,467.3 L249.8,466.3 L250.9,465.0 L252.0,464.0 L253.1,463.2 L254.2,462.4 L255.3,461.9 L256.4,461.1 L257.5,460.6 L258.6,460.2 L259.7,460.0 L260.8,460.2 L261.9,461.0 L263.0,461.7 L264.1,462.5 L265.2,462.9 L266.3,463.4 L267.4,463.9 L268.5,464.2 L269.6,464.9 L270.7,464.9 L271.8,465.1 L272.9,465.0 L274.0,464.7 L275.1,464.3 L276.2,464.1 L277.3,463.8 L278.4,463.2 L279.5,462.8 L280.6,462.0 L281.7,461.8 L282.8,461.3 L283.9,460.7 L285.0,460.5 L286.1,460.5 L287.2,460.5 L288.3,460.5 L289.4,460.9 L290.5,461.1 L291.6,461.7 L292.7,461.9 L293.8,462.4 L294.9,463.1 L296.0,463.4 L297.1,463.8 L298.2,464.6 L299.3,464.7 L300.4,465.2 L301.5,465.3 L302.6,465.4 L303.7,465.6 L304.8,465.5 L305.9,465.1 L307.0,465.1 L308.1,464.2 L309.2,463.4 L310.3,462.7 L311.4,461.7 L312.5,460.8 L313.6,460.2 L314.7,460.0 L315.8,459.6 L316.9,459.9 L318.0,459.8 L319.1,460.1 L320.2,460.7 L321.3,461.3 L322.4,462.2 L323.5,463.0 L324.6,463.5 L325.7,463.9 L326.8,464.6 L327.9,464.5 L329.0,464.7 L330.1,464.9 L331.2,465.0 L332.3,465.4 L333.4,465.1 L334.5,465.1 L335.6,464.7 L336.7,464.1 L337.8,463.0 L338.9,462.8 L340.0,462.0 L341.1,461.2 L342.2,460.7 L343.3,460.8 L344.4,460.3 L345.5,460.0 L346.6,460.2 L347.7,460.2 L348.8,460.5 L349.9,461.3 L351.0,462.0 L352.1,462.3 L353.2,463.0 L354.3,463.8 L355.4,464.2 L356.5,464.7 L357.6,465.4 L358.7,465.7 L359.8,465.7 L360.9,465.8 L362.0,465.9 L363.1,465.7 L364.2,465.3 L365.3,464.8 L366.4,464.0 L367.5,463.3 L368.6,462.5 L369.7,461.8 L370.8,460.7 L371.9,460.5 L373.0,460.1 L374.1,459.9 L375.2,459.8 L376.3,459.9 L377.4,460.1 L378.5,460.2 L379.6,460.8 L380.7,461.5 L381.8,462.5 L382.9,462.9 L384.0,463.5 L385.1,464.2 L386.2,465.0 L387.3,465.3 L388.4,465.7 L389.5,465.8 L390.6,465.5 L391.7,465.5 L392.8,465.0 L393.9,464.6 L395.0,464.0 L396.1,463.9 L397.2,463.5 L398.3,462.8 L399.4,461.9 L400.5,461.5 L401.6,460.9" stroke="#e7298a" stroke-width="0.9" fill="none" stroke-linejoin="round" opacity="1"/>
<line x1="61.30" y1="437.95" x2="61.30" y2="556.60" stroke="#555" stroke-width="1"/>
<line x1="57.80" y1="556.60" x2="61.30" y2="556.60" stroke="#555" stroke-width="1"/>
<text x="52.80" y="560.50" font-size="11.2" text-anchor="end" fill="#1a1a1a" font-weight="normal" stroke="#1a1a1a" stroke-width="0.15">0</text>
<line x1="57.80" y1="517.05" x2="61.30" y2="517.05" stroke="#555" stroke-width="1"/>
<text x="52.80" y="520.95" font-size="11.2" text-anchor="end" fill="#1a1a1a" font-weight="normal" stroke="#1a1a1a" stroke-width="0.15">0.5</text>
<line x1="57.80" y1="477.50" x2="61.30" y2="477.50" stroke="#555" stroke-width="1"/>
<text x="52.80" y="481.40" font-size="11.2" text-anchor="end" fill="#1a1a1a" font-weight="normal" stroke="#1a1a1a" stroke-width="0.15">1.0</text>
<line x1="57.80" y1="437.95" x2="61.30" y2="437.95" stroke="#555" stroke-width="1"/>
<text x="52.80" y="441.85" font-size="11.2" text-anchor="end" fill="#1a1a1a" font-weight="normal" stroke="#1a1a1a" stroke-width="0.15">1.5</text>
<line x1="74.00" y1="561.90" x2="401.00" y2="561.90" stroke="#555" stroke-width="1"/>
<line x1="74.00" y1="561.90" x2="74.00" y2="565.40" stroke="#555" stroke-width="1"/>
<text x="74.30" y="580.70" font-size="11.3" text-anchor="middle" fill="#1a1a1a" font-weight="normal" stroke="#1a1a1a" stroke-width="0.15">−1000</text>
<line x1="155.75" y1="561.90" x2="155.75" y2="565.40" stroke="#555" stroke-width="1"/>
<text x="156.05" y="580.70" font-size="11.3" text-anchor="middle" fill="#1a1a1a" font-weight="normal" stroke="#1a1a1a" stroke-width="0.15">−500</text>
<line x1="237.50" y1="561.90" x2="237.50" y2="565.40" stroke="#555" stroke-width="1"/>
<text x="237.80" y="580.70" font-size="11.3" text-anchor="middle" fill="#1a1a1a" font-weight="normal" stroke="#1a1a1a" stroke-width="0.15">0</text>
<line x1="319.25" y1="561.90" x2="319.25" y2="565.40" stroke="#555" stroke-width="1"/>
<text x="319.55" y="580.70" font-size="11.3" text-anchor="middle" fill="#1a1a1a" font-weight="normal" stroke="#1a1a1a" stroke-width="0.15">500</text>
<line x1="401.00" y1="561.90" x2="401.00" y2="565.40" stroke="#555" stroke-width="1"/>
<text x="401.30" y="580.70" font-size="11.3" text-anchor="middle" fill="#1a1a1a" font-weight="normal" stroke="#1a1a1a" stroke-width="0.15">1000</text>
<text x="230.50" y="602.80" font-size="11.5" text-anchor="middle" fill="#1a1a1a" font-weight="normal" stroke="#1a1a1a" stroke-width="0.15">Position relative to TFBS</text>
<text x="26.60" y="498.28" font-size="11.6" text-anchor="middle" fill="#1a1a1a" font-weight="normal" stroke="#1a1a1a" stroke-width="0.15" transform="rotate(-90 26.60 498.28)">Normalized read depth</text>
<text x="67.80" y="547.00" font-size="11.2" text-anchor="start" fill="#1a1a1a" font-weight="normal" stroke="#1a1a1a" stroke-width="0.15">LYL1</text>
<rect x="226.10" y="512.60" width="6.20" height="5.40" fill="#1b9e77" stroke="#333" stroke-width="0.6"/>
<text x="238.20" y="519.20" font-size="11.3" text-anchor="start" fill="#1a1a1a" font-weight="normal" stroke="#1a1a1a" stroke-width="0.15">P148_1</text>
<rect x="287.90" y="512.60" width="6.20" height="5.40" fill="#d95f02" stroke="#333" stroke-width="0.6"/>
<text x="299.60" y="519.20" font-size="11.3" text-anchor="start" fill="#1a1a1a" font-weight="normal" stroke="#1a1a1a" stroke-width="0.15">P147_1</text>
<rect x="348.30" y="512.60" width="6.20" height="5.40" fill="#7570b3" stroke="#333" stroke-width="0.6"/>
<text x="358.70" y="519.20" font-size="11.3" text-anchor="start" fill="#1a1a1a" font-weight="normal" stroke="#1a1a1a" stroke-width="0.15">P40_1</text>
<rect x="226.10" y="529.10" width="6.20" height="5.40" fill="#e7298a" stroke="#333" stroke-width="0.6"/>
<text x="238.20" y="535.70" font-size="11.3" text-anchor="start" fill="#1a1a1a" font-weight="normal" stroke="#1a1a1a" stroke-width="0.15">C2_6</text>
<rect x="287.90" y="529.10" width="6.20" height="5.40" fill="#66a61e" stroke="#333" stroke-width="0.6"/>
<text x="299.60" y="535.70" font-size="11.3" text-anchor="start" fill="#1a1a1a" font-weight="normal" stroke="#1a1a1a" stroke-width="0.15">B13_1</text>
<rect x="348.30" y="529.10" width="6.20" height="5.40" fill="#e6ab02" stroke="#333" stroke-width="0.6"/>
<text x="358.70" y="535.70" font-size="11.3" text-anchor="start" fill="#1a1a1a" font-weight="normal" stroke="#1a1a1a" stroke-width="0.15">B7_1</text>
<rect x="226.10" y="545.60" width="6.20" height="5.40" fill="#a6761d" stroke="#333" stroke-width="0.6"/>
<text x="238.20" y="552.20" font-size="11.3" text-anchor="start" fill="#1a1a1a" font-weight="normal" stroke="#1a1a1a" stroke-width="0.15">P190_3</text>
<rect x="287.90" y="545.60" width="6.20" height="5.40" fill="#444444" stroke="#333" stroke-width="0.6"/>
<text x="299.60" y="552.20" font-size="11.3" text-anchor="start" fill="#1a1a1a" font-weight="normal" stroke="#1a1a1a" stroke-width="0.15">Controls</text>
<path d="M73.8,661.3 L74.9,662.4 L76.0,662.6 L77.1,663.1 L78.2,663.7 L79.3,664.1 L80.4,664.7 L81.5,665.4 L82.6,665.7 L83.7,666.2 L84.8,666.2 L85.9,666.0 L87.0,665.7 L88.1,665.6 L89.2,664.6 L90.3,663.5 L91.4,662.9 L92.5,661.8 L93.6,661.0 L94.7,660.2 L95.8,659.6 L96.9,659.7 L98.0,659.9 L99.1,660.0 L100.2,660.2 L101.3,660.7 L102.4,660.9 L103.5,661.0 L104.6,661.7 L105.7,662.7 L106.8,663.5 L107.9,664.1 L109.0,664.9 L110.1,665.8 L111.2,666.4 L112.3,666.6 L113.4,666.3 L114.5,666.2 L115.6,665.9 L116.7,665.0 L117.8,664.5 L118.9,664.3 L120.0,664.0 L121.1,663.1 L122.2,662.5 L123.3,662.0 L124.4,661.4 L125.5,660.7 L126.6,660.5 L127.7,660.3 L128.8,660.3 L129.9,660.8 L131.0,661.2 L132.1,661.9 L133.2,662.8 L134.3,663.8 L135.4,664.3 L136.5,664.9 L137.6,665.7 L138.7,666.4 L139.8,666.9 L140.9,667.2 L142.0,667.7 L143.1,667.2 L144.2,666.7 L145.3,666.0 L146.4,665.3 L147.5,664.5 L148.6,663.8 L149.7,662.9 L150.8,662.2 L151.9,661.2 L153.0,659.7 L154.1,659.0 L155.2,658.6 L156.3,658.9 L157.4,659.1 L158.5,659.8 L159.6,660.0 L160.7,660.9 L161.8,661.1 L162.9,662.0 L164.0,663.5 L165.1,664.5 L166.2,665.5 L167.3,666.3 L168.4,666.8 L169.5,666.9 L170.6,667.1 L171.7,666.9 L172.8,666.5 L173.9,666.1 L175.0,665.4 L176.1,664.5 L177.2,663.5 L178.3,662.5 L179.4,661.0 L180.5,660.3 L181.6,659.4 L182.7,658.7 L183.8,658.4 L184.9,658.6 L186.0,658.8 L187.1,659.4 L188.2,660.2 L189.3,661.0 L190.4,662.0 L191.5,663.0 L192.6,664.0 L193.7,665.2 L194.8,666.4 L195.9,667.1 L197.0,667.9 L198.1,668.2 L199.2,668.1 L200.3,668.0 L201.4,667.4 L202.5,666.5 L203.6,665.7 L204.7,664.5 L205.8,663.4 L206.9,662.0 L208.0,660.9 L209.1,659.5 L210.2,658.3 L211.3,657.7 L212.4,657.1 L213.5,657.1 L214.6,657.8 L215.7,658.6 L216.8,659.2 L217.9,660.7 L219.0,662.1 L220.1,663.7 L221.2,665.8 L222.3,668.0 L223.4,670.4 L224.5,672.8 L225.6,674.6 L226.7,676.2 L227.8,677.8 L228.9,679.0 L230.0,679.7 L231.1,680.7 L232.2,681.2 L233.3,681.4 L234.4,681.5 L235.5,681.6 L236.6,680.8 L237.7,680.5 L238.8,680.6 L239.9,680.2 L241.0,680.7 L242.1,680.8 L243.2,681.0 L244.3,680.5 L245.4,680.0 L246.5,678.6 L247.6,677.5 L248.7,676.0 L249.8,674.3 L250.9,672.2 L252.0,670.0 L253.1,667.7 L254.2,665.5 L255.3,663.5 L256.4,661.9 L257.5,660.3 L258.6,659.2 L259.7,658.5 L260.8,658.2 L261.9,658.0 L263.0,658.4 L264.1,658.8 L265.2,659.3 L266.3,660.3 L267.4,661.3 L268.5,662.7 L269.6,664.2 L270.7,665.3 L271.8,666.5 L272.9,667.6 L274.0,668.0 L275.1,668.6 L276.2,669.2 L277.3,668.8 L278.4,668.5 L279.5,668.0 L280.6,666.6 L281.7,665.3 L282.8,663.9 L283.9,662.5 L285.0,661.4 L286.1,660.0 L287.2,659.1 L288.3,658.8 L289.4,658.3 L290.5,657.9 L291.6,658.5 L292.7,659.1 L293.8,659.4 L294.9,660.4 L296.0,662.0 L297.1,662.8 L298.2,663.8 L299.3,665.3 L300.4,665.8 L301.5,666.3 L302.6,666.8 L303.7,667.2 L304.8,667.1 L305.9,666.7 L307.0,666.6 L308.1,666.0 L309.2,665.3 L310.3,664.4 L311.4,663.5 L312.5,662.4 L313.6,661.5 L314.7,660.6 L315.8,659.8 L316.9,659.2 L318.0,658.8 L319.1,659.3 L320.2,659.5 L321.3,660.0 L322.4,660.5 L323.5,661.1 L324.6,662.1 L325.7,662.7 L326.8,663.6 L327.9,664.4 L329.0,665.2 L330.1,665.7 L331.2,666.3 L332.3,666.7 L333.4,666.3 L334.5,665.9 L335.6,665.5 L336.7,665.2 L337.8,665.0 L338.9,664.2 L340.0,663.3 L341.1,662.6 L342.2,661.7 L343.3,660.7 L344.4,660.5 L345.5,659.9 L346.6,659.4 L347.7,659.5 L348.8,659.9 L349.9,660.0 L351.0,660.8 L352.1,661.6 L353.2,662.0 L354.3,662.7 L355.4,663.3 L356.5,664.2 L357.6,664.8 L358.7,665.3 L359.8,666.1 L360.9,666.1 L362.0,666.0 L363.1,666.2 L364.2,666.0 L365.3,665.5 L366.4,664.9 L367.5,664.1 L368.6,663.1 L369.7,662.4 L370.8,661.9 L371.9,661.5 L373.0,661.2 L374.1,660.8 L375.2,660.5 L376.3,660.5 L377.4,660.1 L378.5,660.2 L379.6,660.7 L380.7,661.1 L381.8,661.5 L382.9,662.1 L384.0,662.7 L385.1,663.5 L386.2,664.2 L387.3,664.7 L388.4,665.3 L389.5,665.8 L390.6,665.5 L391.7,665.6 L392.8,665.6 L393.9,665.1 L395.0,664.1 L396.1,663.7 L397.2,663.0 L398.3,662.0 L399.4,661.2 L400.5,661.0 L401.6,660.4" stroke="#66a61e" stroke-width="0.9" fill="none" stroke-linejoin="round" opacity="1"/>
<path d="M73.8,655.4 L74.9,655.8 L76.0,656.3 L77.1,657.0 L78.2,658.0 L79.3,659.0 L80.4,659.8 L81.5,660.0 L82.6,660.5 L83.7,660.7 L84.8,660.8 L85.9,660.6 L87.0,660.3 L88.1,659.8 L89.2,659.1 L90.3,658.8 L91.4,658.2 L92.5,657.7 L93.6,657.1 L94.7,656.9 L95.8,656.3 L96.9,655.8 L98.0,655.7 L99.1,655.5 L100.2,655.3 L101.3,655.5 L102.4,656.2 L103.5,656.7 L104.6,657.0 L105.7,657.8 L106.8,658.8 L107.9,659.1 L109.0,660.0 L110.1,661.0 L111.2,661.3 L112.3,661.4 L113.4,661.5 L114.5,661.0 L115.6,660.4 L116.7,659.8 L117.8,659.4 L118.9,658.7 L120.0,657.9 L121.1,657.0 L122.2,656.7 L123.3,655.9 L124.4,655.5 L125.5,655.1 L126.6,655.0 L127.7,654.7 L128.8,654.7 L129.9,654.8 L131.0,655.4 L132.1,656.0 L133.2,656.7 L134.3,658.0 L135.4,659.0 L136.5,659.6 L137.6,660.4 L138.7,661.3 L139.8,661.3 L140.9,661.2 L142.0,661.4 L143.1,661.0 L144.2,660.9 L145.3,660.2 L146.4,659.9 L147.5,659.2 L148.6,658.3 L149.7,657.0 L150.8,656.1 L151.9,655.3 L153.0,654.2 L154.1,653.7 L155.2,653.4 L156.3,653.7 L157.4,654.0 L158.5,654.4 L159.6,654.9 L160.7,655.2 L161.8,656.5 L162.9,657.3 L164.0,658.8 L165.1,659.4 L166.2,660.8 L167.3,661.4 L168.4,662.1 L169.5,662.4 L170.6,662.6 L171.7,662.5 L172.8,662.0 L173.9,661.4 L175.0,660.3 L176.1,659.9 L177.2,658.6 L178.3,657.7 L179.4,656.8 L180.5,655.8 L181.6,654.9 L182.7,654.0 L183.8,653.3 L184.9,653.1 L186.0,653.4 L187.1,653.8 L188.2,654.5 L189.3,655.5 L190.4,656.2 L191.5,657.5 L192.6,658.7 L193.7,659.7 L194.8,660.5 L195.9,661.7 L197.0,662.2 L198.1,662.5 L199.2,662.9 L200.3,662.6 L201.4,662.0 L202.5,661.7 L203.6,660.9 L204.7,659.5 L205.8,658.4 L206.9,657.1 L208.0,656.0 L209.1,654.8 L210.2,654.3 L211.3,653.6 L212.4,653.3 L213.5,652.8 L214.6,653.4 L215.7,654.3 L216.8,655.2 L217.9,656.5 L219.0,658.1 L220.1,659.3 L221.2,661.1 L222.3,663.0 L223.4,665.2 L224.5,667.1 L225.6,669.0 L226.7,670.6 L227.8,672.0 L228.9,672.8 L230.0,673.5 L231.1,674.1 L232.2,674.6 L233.3,675.1 L234.4,675.5 L235.5,675.3 L236.6,675.3 L237.7,675.4 L238.8,675.0 L239.9,675.3 L241.0,675.4 L242.1,675.1 L243.2,674.8 L244.3,674.3 L245.4,673.6 L246.5,672.7 L247.6,671.6 L248.7,670.1 L249.8,668.4 L250.9,666.6 L252.0,664.4 L253.1,662.2 L254.2,660.4 L255.3,657.7 L256.4,655.9 L257.5,654.4 L258.6,653.3 L259.7,652.6 L260.8,652.4 L261.9,652.7 L263.0,652.8 L264.1,653.2 L265.2,654.0 L266.3,655.1 L267.4,656.0 L268.5,657.8 L269.6,659.2 L270.7,660.7 L271.8,661.7 L272.9,662.4 L274.0,662.8 L275.1,663.4 L276.2,663.7 L277.3,663.3 L278.4,662.9 L279.5,662.6 L280.6,661.4 L281.7,659.9 L282.8,658.8 L283.9,657.5 L285.0,656.5 L286.1,655.2 L287.2,654.5 L288.3,653.5 L289.4,653.2 L290.5,652.8 L291.6,653.1 L292.7,653.7 L293.8,654.9 L294.9,655.7 L296.0,656.5 L297.1,657.7 L298.2,658.6 L299.3,659.5 L300.4,660.0 L301.5,661.0 L302.6,661.4 L303.7,661.5 L304.8,661.7 L305.9,661.9 L307.0,661.3 L308.1,660.9 L309.2,660.0 L310.3,659.1 L311.4,657.8 L312.5,656.7 L313.6,655.3 L314.7,654.9 L315.8,654.0 L316.9,654.1 L318.0,654.3 L319.1,654.6 L320.2,655.2 L321.3,655.5 L322.4,655.9 L323.5,656.6 L324.6,657.6 L325.7,657.8 L326.8,658.7 L327.9,659.4 L329.0,660.0 L330.1,660.5 L331.2,661.3 L332.3,661.4 L333.4,661.6 L334.5,661.2 L335.6,661.2 L336.7,660.5 L337.8,660.0 L338.9,659.2 L340.0,658.5 L341.1,657.5 L342.2,656.7 L343.3,656.2 L344.4,655.5 L345.5,654.8 L346.6,654.3 L347.7,654.5 L348.8,654.6 L349.9,655.2 L351.0,655.8 L352.1,656.6 L353.2,656.7 L354.3,657.0 L355.4,657.7 L356.5,658.6 L357.6,658.8 L358.7,659.3 L359.8,659.9 L360.9,660.3 L362.0,660.1 L363.1,660.2 L364.2,659.9 L365.3,659.8 L366.4,659.1 L367.5,658.4 L368.6,657.7 L369.7,657.2 L370.8,656.8 L371.9,656.2 L373.0,655.7 L374.1,655.7 L375.2,655.1 L376.3,654.4 L377.4,654.8 L378.5,655.5 L379.6,655.8 L380.7,656.4 L381.8,657.2 L382.9,657.6 L384.0,658.2 L385.1,659.0 L386.2,659.6 L387.3,660.0 L388.4,660.4 L389.5,660.8 L390.6,660.9 L391.7,660.8 L392.8,660.6 L393.9,660.1 L395.0,659.2 L396.1,658.7 L397.2,658.4 L398.3,657.7 L399.4,657.0 L400.5,656.6 L401.6,656.1" stroke="#1b9e77" stroke-width="0.9" fill="none" stroke-linejoin="round" opacity="1"/>
<path d="M73.8,656.9 L74.9,656.7 L76.0,657.7 L77.1,658.1 L78.2,658.4 L79.3,659.0 L80.4,659.8 L81.5,659.8 L82.6,660.0 L83.7,660.5 L84.8,660.1 L85.9,660.2 L87.0,660.3 L88.1,659.8 L89.2,659.5 L90.3,659.6 L91.4,658.8 L92.5,658.1 L93.6,657.9 L94.7,657.8 L95.8,657.1 L96.9,656.8 L98.0,657.1 L99.1,657.0 L100.2,657.3 L101.3,657.2 L102.4,657.9 L103.5,657.8 L104.6,658.0 L105.7,658.3 L106.8,658.9 L107.9,658.6 L109.0,659.1 L110.1,659.6 L111.2,659.8 L112.3,660.0 L113.4,660.4 L114.5,660.1 L115.6,660.0 L116.7,660.1 L117.8,659.8 L118.9,659.2 L120.0,658.8 L121.1,658.0 L122.2,657.3 L123.3,657.1 L124.4,657.1 L125.5,657.1 L126.6,657.1 L127.7,657.5 L128.8,657.7 L129.9,657.5 L131.0,657.6 L132.1,657.7 L133.2,658.0 L134.3,658.5 L135.4,659.2 L136.5,659.5 L137.6,660.1 L138.7,660.3 L139.8,660.9 L140.9,661.1 L142.0,661.4 L143.1,661.7 L144.2,661.2 L145.3,660.5 L146.4,659.6 L147.5,659.5 L148.6,658.7 L149.7,658.3 L150.8,657.8 L151.9,657.3 L153.0,656.6 L154.1,656.4 L155.2,655.8 L156.3,655.4 L157.4,655.6 L158.5,655.7 L159.6,656.1 L160.7,657.0 L161.8,657.9 L162.9,658.4 L164.0,658.8 L165.1,659.5 L166.2,660.2 L167.3,660.5 L168.4,660.8 L169.5,661.1 L170.6,661.1 L171.7,660.9 L172.8,661.2 L173.9,660.5 L175.0,659.9 L176.1,659.4 L177.2,658.7 L178.3,657.6 L179.4,657.3 L180.5,656.9 L181.6,655.8 L182.7,655.6 L183.8,655.7 L184.9,655.5 L186.0,655.5 L187.1,656.1 L188.2,656.8 L189.3,657.2 L190.4,658.2 L191.5,659.1 L192.6,660.0 L193.7,660.7 L194.8,661.2 L195.9,662.1 L197.0,662.7 L198.1,663.1 L199.2,663.3 L200.3,662.9 L201.4,662.8 L202.5,662.0 L203.6,661.4 L204.7,660.0 L205.8,658.9 L206.9,657.6 L208.0,657.2 L209.1,656.0 L210.2,655.6 L211.3,655.0 L212.4,654.7 L213.5,654.5 L214.6,654.9 L215.7,655.2 L216.8,656.3 L217.9,656.9 L219.0,657.8 L220.1,658.9 L221.2,660.4 L222.3,661.3 L223.4,662.1 L224.5,663.1 L225.6,664.3 L226.7,665.0 L227.8,665.7 L228.9,666.7 L230.0,667.3 L231.1,667.6 L232.2,667.6 L233.3,667.4 L234.4,667.1 L235.5,666.7 L236.6,666.6 L237.7,666.5 L238.8,666.9 L239.9,666.9 L241.0,667.0 L242.1,667.1 L243.2,667.0 L244.3,667.1 L245.4,666.9 L246.5,666.5 L247.6,666.1 L248.7,665.8 L249.8,664.7 L250.9,663.5 L252.0,661.9 L253.1,660.6 L254.2,659.3 L255.3,658.3 L256.4,656.9 L257.5,655.9 L258.6,655.6 L259.7,654.9 L260.8,654.7 L261.9,654.8 L263.0,655.1 L264.1,655.4 L265.2,656.1 L266.3,656.9 L267.4,657.7 L268.5,658.7 L269.6,659.6 L270.7,660.8 L271.8,661.9 L272.9,662.7 L274.0,663.0 L275.1,663.3 L276.2,662.9 L277.3,662.8 L278.4,662.3 L279.5,661.5 L280.6,660.5 L281.7,659.7 L282.8,658.8 L283.9,658.2 L285.0,657.6 L286.1,657.2 L287.2,656.4 L288.3,655.8 L289.4,655.2 L290.5,654.9 L291.6,654.7 L292.7,655.1 L293.8,655.8 L294.9,656.7 L296.0,657.4 L297.1,658.5 L298.2,659.2 L299.3,659.5 L300.4,660.2 L301.5,660.4 L302.6,660.6 L303.7,660.8 L304.8,660.9 L305.9,660.5 L307.0,660.7 L308.1,660.3 L309.2,659.6 L310.3,658.9 L311.4,658.3 L312.5,657.5 L313.6,656.6 L314.7,656.3 L315.8,655.8 L316.9,656.0 L318.0,656.0 L319.1,656.1 L320.2,656.5 L321.3,656.8 L322.4,657.4 L323.5,657.2 L324.6,657.7 L325.7,658.1 L326.8,658.9 L327.9,659.6 L329.0,660.7 L330.1,661.0 L331.2,661.8 L332.3,661.8 L333.4,661.7 L334.5,661.4 L335.6,661.1 L336.7,660.6 L337.8,659.9 L338.9,659.3 L340.0,659.2 L341.1,658.3 L342.2,657.8 L343.3,656.9 L344.4,657.0 L345.5,656.2 L346.6,656.2 L347.7,656.4 L348.8,656.4 L349.9,656.4 L351.0,656.7 L352.1,657.1 L353.2,657.8 L354.3,658.4 L355.4,659.3 L356.5,659.9 L357.6,660.5 L358.7,660.8 L359.8,661.2 L360.9,660.9 L362.0,660.9 L363.1,660.7 L364.2,660.1 L365.3,659.6 L366.4,659.8 L367.5,659.3 L368.6,658.6 L369.7,658.6 L370.8,658.0 L371.9,656.9 L373.0,656.5 L374.1,656.2 L375.2,655.8 L376.3,656.0 L377.4,656.3 L378.5,656.6 L379.6,656.7 L380.7,657.3 L381.8,657.8 L382.9,658.1 L384.0,658.3 L385.1,658.7 L386.2,659.0 L387.3,659.5 L388.4,659.9 L389.5,660.2 L390.6,660.1 L391.7,660.2 L392.8,659.8 L393.9,659.5 L395.0,659.2 L396.1,658.9 L397.2,658.1 L398.3,658.0 L399.4,657.6 L400.5,657.6 L401.6,657.5" stroke="#a6761d" stroke-width="0.9" fill="none" stroke-linejoin="round" opacity="1"/>
<path d="M73.8,654.6 L74.9,655.1 L76.0,655.9 L77.1,656.3 L78.2,656.8 L79.3,657.3 L80.4,657.6 L81.5,658.1 L82.6,658.6 L83.7,658.8 L84.8,659.1 L85.9,659.3 L87.0,658.7 L88.1,658.4 L89.2,658.2 L90.3,657.5 L91.4,656.9 L92.5,656.2 L93.6,656.0 L94.7,655.6 L95.8,655.5 L96.9,655.2 L98.0,655.5 L99.1,655.1 L100.2,655.1 L101.3,655.2 L102.4,655.5 L103.5,655.5 L104.6,655.9 L105.7,656.5 L106.8,656.9 L107.9,657.4 L109.0,657.6 L110.1,658.0 L111.2,658.6 L112.3,658.5 L113.4,658.5 L114.5,658.7 L115.6,658.3 L116.7,657.7 L117.8,657.4 L118.9,657.0 L120.0,656.4 L121.1,655.9 L122.2,655.5 L123.3,655.2 L124.4,654.5 L125.5,654.5 L126.6,654.4 L127.7,654.4 L128.8,654.4 L129.9,654.9 L131.0,655.2 L132.1,655.0 L133.2,655.5 L134.3,656.3 L135.4,656.6 L136.5,657.1 L137.6,658.1 L138.7,658.4 L139.8,658.8 L140.9,658.7 L142.0,658.9 L143.1,658.8 L144.2,658.6 L145.3,658.0 L146.4,657.5 L147.5,657.2 L148.6,656.5 L149.7,656.1 L150.8,655.7 L151.9,655.1 L153.0,654.6 L154.1,654.2 L155.2,653.6 L156.3,653.6 L157.4,654.0 L158.5,653.8 L159.6,654.4 L160.7,655.1 L161.8,655.6 L162.9,656.1 L164.0,656.5 L165.1,657.2 L166.2,658.1 L167.3,658.8 L168.4,659.3 L169.5,659.5 L170.6,659.1 L171.7,658.8 L172.8,658.4 L173.9,657.7 L175.0,657.3 L176.1,656.8 L177.2,656.5 L178.3,655.8 L179.4,655.1 L180.5,654.3 L181.6,654.0 L182.7,653.4 L183.8,653.1 L184.9,653.3 L186.0,653.3 L187.1,653.7 L188.2,654.0 L189.3,654.3 L190.4,655.3 L191.5,656.3 L192.6,657.2 L193.7,657.8 L194.8,659.0 L195.9,659.4 L197.0,659.9 L198.1,660.2 L199.2,660.6 L200.3,660.1 L201.4,659.7 L202.5,659.0 L203.6,658.0 L204.7,657.2 L205.8,656.2 L206.9,655.4 L208.0,654.6 L209.1,653.8 L210.2,653.3 L211.3,653.2 L212.4,652.8 L213.5,652.5 L214.6,652.8 L215.7,653.0 L216.8,653.8 L217.9,654.7 L219.0,655.8 L220.1,657.0 L221.2,658.7 L222.3,660.1 L223.4,661.3 L224.5,662.7 L225.6,663.3 L226.7,664.3 L227.8,665.2 L228.9,666.0 L230.0,666.0 L231.1,666.4 L232.2,666.1 L233.3,666.3 L234.4,665.9 L235.5,665.7 L236.6,665.5 L237.7,665.4 L238.8,665.3 L239.9,665.7 L241.0,666.2 L242.1,666.0 L243.2,666.0 L244.3,665.8 L245.4,665.2 L246.5,665.2 L247.6,664.8 L248.7,664.0 L249.8,663.3 L250.9,662.5 L252.0,660.6 L253.1,659.0 L254.2,657.4 L255.3,656.2 L256.4,655.1 L257.5,654.6 L258.6,654.2 L259.7,654.0 L260.8,653.8 L261.9,653.7 L263.0,653.6 L264.1,653.9 L265.2,654.4 L266.3,655.2 L267.4,655.8 L268.5,656.7 L269.6,657.5 L270.7,658.4 L271.8,658.7 L272.9,659.6 L274.0,660.1 L275.1,660.5 L276.2,660.5 L277.3,660.4 L278.4,659.8 L279.5,659.2 L280.6,658.6 L281.7,657.8 L282.8,657.2 L283.9,656.5 L285.0,655.2 L286.1,654.2 L287.2,653.7 L288.3,653.3 L289.4,653.1 L290.5,653.4 L291.6,653.5 L292.7,653.7 L293.8,653.9 L294.9,654.4 L296.0,655.3 L297.1,656.1 L298.2,657.1 L299.3,658.2 L300.4,659.4 L301.5,659.9 L302.6,660.5 L303.7,660.5 L304.8,660.6 L305.9,660.5 L307.0,660.1 L308.1,660.1 L309.2,659.6 L310.3,658.7 L311.4,657.5 L312.5,657.0 L313.6,655.8 L314.7,655.1 L315.8,654.8 L316.9,654.4 L318.0,654.2 L319.1,654.4 L320.2,654.4 L321.3,654.6 L322.4,654.8 L323.5,655.1 L324.6,655.2 L325.7,656.1 L326.8,656.4 L327.9,656.6 L329.0,656.8 L330.1,657.6 L331.2,657.9 L332.3,658.3 L333.4,658.7 L334.5,658.9 L335.6,659.1 L336.7,658.8 L337.8,658.8 L338.9,658.1 L340.0,657.4 L341.1,656.6 L342.2,655.9 L343.3,655.1 L344.4,654.8 L345.5,654.5 L346.6,654.3 L347.7,654.2 L348.8,654.4 L349.9,654.6 L351.0,654.4 L352.1,655.1 L353.2,655.9 L354.3,656.3 L355.4,656.5 L356.5,657.3 L357.6,657.6 L358.7,657.8 L359.8,658.3 L360.9,658.4 L362.0,658.5 L363.1,658.3 L364.2,658.0 L365.3,657.2 L366.4,656.8 L367.5,656.3 L368.6,655.9 L369.7,655.1 L370.8,655.0 L371.9,654.8 L373.0,654.2 L374.1,654.0 L375.2,654.0 L376.3,654.3 L377.4,654.1 L378.5,654.5 L379.6,654.6 L380.7,655.4 L381.8,656.1 L382.9,656.4 L384.0,657.1 L385.1,657.6 L386.2,657.9 L387.3,658.5 L388.4,658.7 L389.5,659.1 L390.6,659.1 L391.7,659.1 L392.8,658.6 L393.9,658.1 L395.0,657.7 L396.1,657.3 L397.2,657.0 L398.3,656.7 L399.4,656.3 L400.5,655.6 L401.6,655.5" stroke="#e6ab02" stroke-width="0.9" fill="none" stroke-linejoin="round" opacity="1"/>
<path d="M73.8,654.1 L74.9,654.2 L76.0,654.6 L77.1,655.1 L78.2,655.6 L79.3,656.1 L80.4,656.6 L81.5,656.9 L82.6,657.1 L83.7,657.5 L84.8,657.8 L85.9,657.4 L87.0,657.3 L88.1,657.4 L89.2,657.0 L90.3,656.3 L91.4,655.4 L92.5,654.9 L93.6,654.2 L94.7,653.8 L95.8,653.6 L96.9,653.3 L98.0,653.1 L99.1,653.0 L100.2,653.0 L101.3,653.5 L102.4,654.0 L103.5,654.3 L104.6,654.5 L105.7,655.3 L106.8,656.3 L107.9,656.7 L109.0,657.1 L110.1,657.5 L111.2,658.4 L112.3,658.3 L113.4,658.4 L114.5,657.9 L115.6,657.7 L116.7,656.6 L117.8,655.8 L118.9,655.6 L120.0,655.0 L121.1,654.4 L122.2,654.0 L123.3,653.8 L124.4,653.4 L125.5,652.9 L126.6,652.6 L127.7,651.9 L128.8,652.2 L129.9,652.2 L131.0,652.9 L132.1,653.0 L133.2,653.6 L134.3,654.1 L135.4,655.2 L136.5,655.5 L137.6,656.2 L138.7,656.8 L139.8,657.0 L140.9,657.1 L142.0,657.7 L143.1,657.8 L144.2,657.8 L145.3,657.4 L146.4,656.6 L147.5,656.1 L148.6,655.7 L149.7,655.2 L150.8,655.0 L151.9,654.6 L153.0,653.8 L154.1,653.2 L155.2,653.2 L156.3,652.8 L157.4,652.7 L158.5,652.7 L159.6,652.9 L160.7,653.4 L161.8,654.3 L162.9,654.9 L164.0,655.9 L165.1,656.5 L166.2,656.9 L167.3,657.7 L168.4,658.5 L169.5,658.9 L170.6,659.0 L171.7,659.1 L172.8,658.9 L173.9,658.0 L175.0,656.9 L176.1,655.9 L177.2,654.7 L178.3,653.7 L179.4,653.2 L180.5,652.9 L181.6,652.4 L182.7,652.1 L183.8,652.0 L184.9,651.8 L186.0,651.8 L187.1,652.1 L188.2,652.5 L189.3,653.4 L190.4,654.4 L191.5,655.3 L192.6,656.0 L193.7,657.3 L194.8,658.2 L195.9,659.0 L197.0,659.4 L198.1,660.2 L199.2,660.3 L200.3,660.0 L201.4,659.3 L202.5,659.3 L203.6,658.2 L204.7,656.7 L205.8,655.9 L206.9,654.8 L208.0,653.6 L209.1,653.0 L210.2,652.4 L211.3,651.8 L212.4,651.8 L213.5,652.0 L214.6,652.0 L215.7,652.4 L216.8,653.0 L217.9,654.0 L219.0,655.3 L220.1,656.3 L221.2,658.0 L222.3,660.0 L223.4,661.6 L224.5,662.7 L225.6,664.2 L226.7,665.1 L227.8,666.2 L228.9,667.2 L230.0,667.9 L231.1,668.2 L232.2,668.4 L233.3,668.8 L234.4,668.6 L235.5,668.5 L236.6,668.4 L237.7,668.3 L238.8,668.5 L239.9,668.7 L241.0,668.9 L242.1,669.1 L243.2,669.4 L244.3,668.6 L245.4,668.1 L246.5,667.4 L247.6,666.4 L248.7,664.5 L249.8,663.2 L250.9,661.7 L252.0,660.4 L253.1,658.8 L254.2,657.0 L255.3,655.3 L256.4,653.8 L257.5,652.7 L258.6,652.0 L259.7,651.3 L260.8,650.9 L261.9,650.4 L263.0,650.3 L264.1,650.4 L265.2,651.5 L266.3,652.6 L267.4,653.7 L268.5,654.9 L269.6,656.1 L270.7,656.9 L271.8,657.6 L272.9,658.3 L274.0,658.8 L275.1,659.4 L276.2,659.5 L277.3,659.1 L278.4,658.6 L279.5,657.9 L280.6,656.9 L281.7,655.8 L282.8,655.1 L283.9,654.0 L285.0,653.2 L286.1,652.7 L287.2,652.3 L288.3,651.6 L289.4,651.5 L290.5,651.1 L291.6,650.8 L292.7,651.2 L293.8,652.2 L294.9,652.9 L296.0,653.9 L297.1,654.7 L298.2,655.3 L299.3,656.3 L300.4,657.1 L301.5,657.9 L302.6,658.4 L303.7,658.9 L304.8,658.8 L305.9,658.8 L307.0,658.3 L308.1,658.1 L309.2,657.7 L310.3,656.8 L311.4,656.0 L312.5,655.3 L313.6,654.1 L314.7,653.3 L315.8,653.1 L316.9,652.9 L318.0,652.9 L319.1,653.0 L320.2,652.9 L321.3,652.8 L322.4,653.1 L323.5,653.4 L324.6,654.3 L325.7,655.2 L326.8,656.0 L327.9,656.7 L329.0,657.2 L330.1,657.2 L331.2,658.0 L332.3,658.3 L333.4,658.3 L334.5,658.4 L335.6,658.6 L336.7,658.3 L337.8,657.5 L338.9,657.2 L340.0,656.5 L341.1,656.0 L342.2,655.5 L343.3,655.0 L344.4,654.6 L345.5,654.0 L346.6,653.5 L347.7,653.4 L348.8,653.4 L349.9,653.8 L351.0,654.3 L352.1,654.8 L353.2,655.3 L354.3,656.1 L355.4,656.3 L356.5,657.0 L357.6,657.1 L358.7,657.6 L359.8,657.8 L360.9,657.8 L362.0,657.6 L363.1,657.3 L364.2,656.9 L365.3,656.3 L366.4,656.5 L367.5,656.4 L368.6,656.1 L369.7,655.8 L370.8,655.2 L371.9,655.1 L373.0,654.8 L374.1,654.9 L375.2,654.1 L376.3,654.4 L377.4,654.1 L378.5,654.2 L379.6,654.5 L380.7,655.1 L381.8,655.2 L382.9,655.7 L384.0,656.4 L385.1,656.8 L386.2,657.5 L387.3,657.8 L388.4,658.2 L389.5,658.2 L390.6,658.2 L391.7,657.9 L392.8,657.7 L393.9,657.3 L395.0,657.1 L396.1,656.2 L397.2,655.7 L398.3,655.3 L399.4,655.1 L400.5,654.2 L401.6,654.4" stroke="#d95f02" stroke-width="0.9" fill="none" stroke-linejoin="round" opacity="1"/>
<path d="M73.8,649.7 L74.9,649.9 L76.0,650.2 L77.1,650.5 L78.2,650.5 L79.3,650.5 L80.4,650.7 L81.5,651.1 L82.6,651.5 L83.7,651.8 L84.8,652.1 L85.9,652.4 L87.0,652.2 L88.1,652.0 L89.2,651.9 L90.3,651.8 L91.4,651.3 L92.5,651.4 L93.6,651.4 L94.7,651.2 L95.8,650.7 L96.9,650.6 L98.0,650.3 L99.1,650.1 L100.2,650.3 L101.3,650.5 L102.4,650.4 L103.5,650.5 L104.6,650.9 L105.7,651.1 L106.8,651.4 L107.9,651.9 L109.0,651.9 L110.1,652.2 L111.2,652.3 L112.3,652.6 L113.4,652.4 L114.5,652.5 L115.6,652.6 L116.7,652.3 L117.8,651.9 L118.9,651.7 L120.0,651.4 L121.1,651.2 L122.2,651.1 L123.3,650.9 L124.4,650.9 L125.5,650.9 L126.6,650.6 L127.7,650.5 L128.8,650.8 L129.9,651.1 L131.0,651.1 L132.1,651.3 L133.2,651.3 L134.3,651.3 L135.4,651.2 L136.5,651.2 L137.6,651.7 L138.7,652.0 L139.8,651.9 L140.9,652.4 L142.0,652.3 L143.1,652.6 L144.2,652.4 L145.3,652.3 L146.4,652.2 L147.5,651.9 L148.6,651.7 L149.7,651.4 L150.8,651.2 L151.9,650.9 L153.0,650.7 L154.1,650.4 L155.2,650.5 L156.3,650.8 L157.4,650.7 L158.5,650.7 L159.6,650.7 L160.7,651.0 L161.8,650.9 L162.9,651.2 L164.0,651.4 L165.1,652.1 L166.2,652.4 L167.3,652.8 L168.4,652.9 L169.5,653.1 L170.6,652.9 L171.7,652.7 L172.8,652.5 L173.9,652.4 L175.0,652.2 L176.1,651.9 L177.2,651.5 L178.3,651.2 L179.4,651.1 L180.5,650.5 L181.6,650.6 L182.7,650.4 L183.8,650.3 L184.9,650.3 L186.0,650.6 L187.1,650.4 L188.2,650.5 L189.3,651.1 L190.4,651.1 L191.5,651.7 L192.6,652.4 L193.7,652.8 L194.8,652.8 L195.9,653.3 L197.0,653.5 L198.1,653.6 L199.2,653.4 L200.3,653.3 L201.4,653.2 L202.5,652.8 L203.6,652.5 L204.7,652.4 L205.8,651.9 L206.9,651.2 L208.0,650.9 L209.1,650.4 L210.2,650.3 L211.3,650.1 L212.4,650.0 L213.5,650.1 L214.6,650.2 L215.7,650.4 L216.8,650.5 L217.9,651.0 L219.0,651.4 L220.1,651.8 L221.2,652.5 L222.3,653.0 L223.4,653.6 L224.5,654.1 L225.6,654.8 L226.7,655.2 L227.8,655.9 L228.9,656.4 L230.0,656.8 L231.1,657.0 L232.2,657.4 L233.3,657.6 L234.4,657.6 L235.5,657.8 L236.6,657.4 L237.7,657.3 L238.8,657.0 L239.9,657.1 L241.0,657.1 L242.1,657.4 L243.2,657.0 L244.3,656.9 L245.4,656.9 L246.5,656.5 L247.6,656.0 L248.7,655.4 L249.8,654.7 L250.9,653.4 L252.0,652.5 L253.1,651.8 L254.2,651.1 L255.3,650.4 L256.4,650.0 L257.5,649.5 L258.6,649.4 L259.7,649.3 L260.8,649.5 L261.9,649.6 L263.0,649.9 L264.1,650.0 L265.2,650.5 L266.3,651.0 L267.4,651.5 L268.5,652.1 L269.6,652.5 L270.7,652.8 L271.8,653.1 L272.9,653.2 L274.0,653.5 L275.1,653.5 L276.2,653.4 L277.3,653.5 L278.4,653.0 L279.5,652.3 L280.6,651.7 L281.7,651.2 L282.8,650.5 L283.9,650.2 L285.0,649.9 L286.1,649.7 L287.2,649.6 L288.3,649.2 L289.4,649.2 L290.5,649.4 L291.6,649.5 L292.7,649.6 L293.8,650.2 L294.9,651.0 L296.0,651.1 L297.1,651.2 L298.2,651.4 L299.3,651.5 L300.4,651.7 L301.5,652.0 L302.6,652.5 L303.7,652.5 L304.8,652.6 L305.9,652.7 L307.0,652.3 L308.1,652.2 L309.2,652.0 L310.3,651.7 L311.4,650.9 L312.5,650.6 L313.6,650.5 L314.7,650.5 L315.8,650.3 L316.9,650.6 L318.0,650.8 L319.1,650.8 L320.2,650.9 L321.3,650.8 L322.4,651.0 L323.5,651.3 L324.6,651.4 L325.7,651.4 L326.8,652.0 L327.9,652.3 L329.0,652.3 L330.1,652.4 L331.2,652.6 L332.3,652.4 L333.4,652.4 L334.5,652.3 L335.6,652.2 L336.7,651.7 L337.8,651.8 L338.9,651.8 L340.0,651.8 L341.1,651.4 L342.2,651.4 L343.3,650.7 L344.4,650.4 L345.5,650.1 L346.6,650.3 L347.7,650.2 L348.8,650.5 L349.9,650.5 L351.0,650.5 L352.1,650.9 L353.2,651.2 L354.3,651.2 L355.4,651.4 L356.5,651.5 L357.6,651.8 L358.7,651.8 L359.8,652.3 L360.9,652.1 L362.0,652.1 L363.1,651.4 L364.2,651.1 L365.3,650.8 L366.4,650.9 L367.5,650.6 L368.6,650.8 L369.7,650.8 L370.8,650.8 L371.9,650.4 L373.0,650.4 L374.1,650.1 L375.2,650.2 L376.3,650.5 L377.4,650.6 L378.5,650.7 L379.6,651.1 L380.7,651.2 L381.8,651.5 L382.9,651.7 L384.0,651.6 L385.1,652.0 L386.2,652.1 L387.3,652.4 L388.4,653.1 L389.5,653.0 L390.6,652.9 L391.7,652.5 L392.8,652.5 L393.9,651.9 L395.0,651.9 L396.1,651.1 L397.2,651.0 L398.3,650.9 L399.4,650.8 L400.5,650.8 L401.6,651.1" stroke="rgb(160,160,160)" stroke-width="0.85" fill="none" stroke-linejoin="round" opacity="0.85"/>
<path d="M73.8,649.7 L74.9,649.6 L76.0,649.7 L77.1,649.9 L78.2,650.2 L79.3,650.6 L80.4,650.8 L81.5,651.2 L82.6,651.7 L83.7,652.0 L84.8,652.2 L85.9,652.2 L87.0,652.5 L88.1,652.1 L89.2,652.1 L90.3,651.8 L91.4,651.6 L92.5,651.4 L93.6,651.4 L94.7,651.5 L95.8,651.3 L96.9,651.2 L98.0,650.9 L99.1,650.8 L100.2,650.7 L101.3,651.1 L102.4,650.9 L103.5,651.1 L104.6,650.9 L105.7,650.8 L106.8,650.9 L107.9,651.3 L109.0,651.8 L110.1,652.0 L111.2,652.1 L112.3,652.3 L113.4,652.1 L114.5,652.1 L115.6,651.9 L116.7,652.2 L117.8,652.3 L118.9,652.2 L120.0,652.0 L121.1,651.9 L122.2,651.5 L123.3,650.9 L124.4,650.6 L125.5,650.6 L126.6,650.5 L127.7,650.4 L128.8,650.3 L129.9,650.0 L131.0,650.0 L132.1,650.1 L133.2,649.9 L134.3,650.1 L135.4,650.4 L136.5,650.7 L137.6,650.8 L138.7,651.5 L139.8,651.7 L140.9,651.6 L142.0,651.4 L143.1,651.4 L144.2,651.2 L145.3,651.1 L146.4,651.3 L147.5,651.4 L148.6,651.3 L149.7,650.8 L150.8,650.8 L151.9,650.8 L153.0,650.5 L154.1,650.3 L155.2,650.4 L156.3,650.1 L157.4,650.0 L158.5,650.3 L159.6,650.1 L160.7,650.2 L161.8,650.5 L162.9,650.6 L164.0,650.7 L165.1,651.0 L166.2,651.4 L167.3,652.2 L168.4,652.3 L169.5,652.5 L170.6,652.6 L171.7,652.6 L172.8,652.2 L173.9,652.0 L175.0,651.9 L176.1,651.5 L177.2,651.2 L178.3,650.6 L179.4,650.3 L180.5,650.0 L181.6,649.8 L182.7,649.4 L183.8,649.3 L184.9,649.4 L186.0,649.2 L187.1,649.6 L188.2,649.6 L189.3,649.8 L190.4,649.9 L191.5,649.9 L192.6,650.0 L193.7,650.4 L194.8,650.8 L195.9,651.2 L197.0,651.8 L198.1,652.2 L199.2,652.3 L200.3,652.7 L201.4,653.0 L202.5,652.7 L203.6,652.8 L204.7,652.5 L205.8,652.1 L206.9,651.7 L208.0,651.2 L209.1,650.6 L210.2,650.4 L211.3,650.0 L212.4,649.6 L213.5,649.5 L214.6,649.5 L215.7,649.2 L216.8,649.5 L217.9,649.9 L219.0,650.2 L220.1,650.8 L221.2,651.6 L222.3,652.1 L223.4,653.1 L224.5,653.7 L225.6,654.6 L226.7,655.2 L227.8,655.8 L228.9,656.5 L230.0,657.0 L231.1,657.5 L232.2,657.4 L233.3,657.5 L234.4,657.1 L235.5,657.0 L236.6,656.8 L237.7,656.9 L238.8,657.0 L239.9,657.1 L241.0,657.1 L242.1,656.9 L243.2,657.1 L244.3,656.8 L245.4,656.5 L246.5,655.7 L247.6,655.0 L248.7,654.0 L249.8,653.0 L250.9,652.2 L252.0,651.7 L253.1,651.5 L254.2,650.3 L255.3,649.8 L256.4,649.3 L257.5,648.6 L258.6,648.2 L259.7,648.7 L260.8,648.5 L261.9,648.4 L263.0,648.8 L264.1,649.3 L265.2,649.6 L266.3,650.4 L267.4,651.3 L268.5,651.4 L269.6,651.8 L270.7,652.2 L271.8,652.6 L272.9,652.7 L274.0,653.4 L275.1,653.5 L276.2,653.1 L277.3,652.8 L278.4,652.3 L279.5,651.7 L280.6,651.5 L281.7,651.1 L282.8,650.6 L283.9,650.4 L285.0,650.3 L286.1,650.0 L287.2,649.9 L288.3,650.5 L289.4,650.6 L290.5,650.7 L291.6,650.7 L292.7,650.5 L293.8,650.7 L294.9,651.0 L296.0,651.1 L297.1,651.4 L298.2,651.6 L299.3,651.7 L300.4,651.7 L301.5,651.6 L302.6,652.0 L303.7,652.1 L304.8,652.0 L305.9,651.8 L307.0,651.5 L308.1,651.3 L309.2,651.0 L310.3,650.7 L311.4,650.4 L312.5,650.5 L313.6,650.4 L314.7,650.5 L315.8,650.4 L316.9,650.3 L318.0,650.3 L319.1,650.5 L320.2,650.4 L321.3,650.6 L322.4,650.9 L323.5,651.1 L324.6,651.1 L325.7,651.2 L326.8,651.2 L327.9,651.6 L329.0,651.4 L330.1,651.7 L331.2,652.1 L332.3,652.1 L333.4,651.9 L334.5,652.1 L335.6,652.0 L336.7,651.6 L337.8,651.1 L338.9,650.8 L340.0,650.2 L341.1,650.0 L342.2,650.2 L343.3,650.1 L344.4,649.9 L345.5,649.8 L346.6,649.8 L347.7,649.7 L348.8,649.6 L349.9,650.1 L351.0,650.1 L352.1,650.4 L353.2,650.9 L354.3,650.9 L355.4,651.0 L356.5,651.4 L357.6,651.5 L358.7,651.4 L359.8,651.7 L360.9,651.4 L362.0,651.5 L363.1,651.4 L364.2,651.6 L365.3,651.2 L366.4,651.3 L367.5,651.0 L368.6,650.9 L369.7,650.5 L370.8,650.4 L371.9,649.9 L373.0,649.5 L374.1,649.4 L375.2,649.4 L376.3,649.5 L377.4,649.7 L378.5,649.9 L379.6,650.3 L380.7,650.7 L381.8,651.1 L382.9,651.4 L384.0,651.8 L385.1,652.0 L386.2,652.1 L387.3,652.0 L388.4,651.6 L389.5,651.7 L390.6,651.5 L391.7,651.2 L392.8,651.3 L393.9,651.3 L395.0,650.8 L396.1,650.4 L397.2,650.2 L398.3,650.3 L399.4,650.1 L400.5,649.9 L401.6,650.0" stroke="rgb(144,144,144)" stroke-width="0.85" fill="none" stroke-linejoin="round" opacity="0.85"/>
<path d="M73.8,650.5 L74.9,650.8 L76.0,651.2 L77.1,651.2 L78.2,651.5 L79.3,651.8 L80.4,651.7 L81.5,652.0 L82.6,652.0 L83.7,651.8 L84.8,651.8 L85.9,651.8 L87.0,651.8 L88.1,651.9 L89.2,651.8 L90.3,651.7 L91.4,651.2 L92.5,650.8 L93.6,650.6 L94.7,650.5 L95.8,650.6 L96.9,650.7 L98.0,650.8 L99.1,650.5 L100.2,650.4 L101.3,650.1 L102.4,649.7 L103.5,649.6 L104.6,649.8 L105.7,650.0 L106.8,650.1 L107.9,650.6 L109.0,651.1 L110.1,651.5 L111.2,651.3 L112.3,651.4 L113.4,651.1 L114.5,650.7 L115.6,650.5 L116.7,650.5 L117.8,650.3 L118.9,650.3 L120.0,650.3 L121.1,650.4 L122.2,650.2 L123.3,650.3 L124.4,650.0 L125.5,649.6 L126.6,649.4 L127.7,649.6 L128.8,649.7 L129.9,649.6 L131.0,649.8 L132.1,650.0 L133.2,650.1 L134.3,650.7 L135.4,650.7 L136.5,650.7 L137.6,651.0 L138.7,650.9 L139.8,651.0 L140.9,651.1 L142.0,651.5 L143.1,651.6 L144.2,651.5 L145.3,651.1 L146.4,651.1 L147.5,650.7 L148.6,650.6 L149.7,650.6 L150.8,650.8 L151.9,650.8 L153.0,650.5 L154.1,650.3 L155.2,650.0 L156.3,649.7 L157.4,649.7 L158.5,649.6 L159.6,649.6 L160.7,649.7 L161.8,650.2 L162.9,650.5 L164.0,651.1 L165.1,651.7 L166.2,652.3 L167.3,652.3 L168.4,652.6 L169.5,651.9 L170.6,651.7 L171.7,651.4 L172.8,651.0 L173.9,650.9 L175.0,651.1 L176.1,650.9 L177.2,650.4 L178.3,650.0 L179.4,649.9 L180.5,649.6 L181.6,649.3 L182.7,649.4 L183.8,648.9 L184.9,648.8 L186.0,649.1 L187.1,649.2 L188.2,649.7 L189.3,650.2 L190.4,650.4 L191.5,650.2 L192.6,650.4 L193.7,650.5 L194.8,651.1 L195.9,651.5 L197.0,652.0 L198.1,652.3 L199.2,652.4 L200.3,652.3 L201.4,652.5 L202.5,652.5 L203.6,652.1 L204.7,651.9 L205.8,651.8 L206.9,651.1 L208.0,650.5 L209.1,649.8 L210.2,649.3 L211.3,648.9 L212.4,649.0 L213.5,649.1 L214.6,649.4 L215.7,649.5 L216.8,649.8 L217.9,650.0 L219.0,650.2 L220.1,650.8 L221.2,651.2 L222.3,651.9 L223.4,652.7 L224.5,653.7 L225.6,654.6 L226.7,655.4 L227.8,656.0 L228.9,656.0 L230.0,656.4 L231.1,656.6 L232.2,656.6 L233.3,656.3 L234.4,656.1 L235.5,655.8 L236.6,655.6 L237.7,655.2 L238.8,655.4 L239.9,655.5 L241.0,655.5 L242.1,655.4 L243.2,655.5 L244.3,655.6 L245.4,655.6 L246.5,655.3 L247.6,654.9 L248.7,654.4 L249.8,653.8 L250.9,653.4 L252.0,652.8 L253.1,652.0 L254.2,651.7 L255.3,651.0 L256.4,650.2 L257.5,649.8 L258.6,649.6 L259.7,649.2 L260.8,649.1 L261.9,648.9 L263.0,648.7 L264.1,649.0 L265.2,649.0 L266.3,649.6 L267.4,649.8 L268.5,650.6 L269.6,651.1 L270.7,651.6 L271.8,651.6 L272.9,652.4 L274.0,652.4 L275.1,652.5 L276.2,652.7 L277.3,652.8 L278.4,652.4 L279.5,652.6 L280.6,652.1 L281.7,651.8 L282.8,651.5 L283.9,651.1 L285.0,650.6 L286.1,650.3 L287.2,649.8 L288.3,649.4 L289.4,649.7 L290.5,649.4 L291.6,649.6 L292.7,649.8 L293.8,649.7 L294.9,649.5 L296.0,649.5 L297.1,649.8 L298.2,650.2 L299.3,650.7 L300.4,651.1 L301.5,651.4 L302.6,651.7 L303.7,651.7 L304.8,651.5 L305.9,651.6 L307.0,651.6 L308.1,651.4 L309.2,651.6 L310.3,651.2 L311.4,651.0 L312.5,650.6 L313.6,650.3 L314.7,649.8 L315.8,649.6 L316.9,649.5 L318.0,649.2 L319.1,649.2 L320.2,649.3 L321.3,649.8 L322.4,650.0 L323.5,650.1 L324.6,650.3 L325.7,650.8 L326.8,651.1 L327.9,651.3 L329.0,651.8 L330.1,651.9 L331.2,651.9 L332.3,651.9 L333.4,652.1 L334.5,652.1 L335.6,652.2 L336.7,652.3 L337.8,652.0 L338.9,651.8 L340.0,651.7 L341.1,651.3 L342.2,651.0 L343.3,650.6 L344.4,650.6 L345.5,650.3 L346.6,650.2 L347.7,649.9 L348.8,650.0 L349.9,650.0 L351.0,650.2 L352.1,650.3 L353.2,650.4 L354.3,650.8 L355.4,650.8 L356.5,650.9 L357.6,651.0 L358.7,651.5 L359.8,651.5 L360.9,651.4 L362.0,651.4 L363.1,651.5 L364.2,651.4 L365.3,651.1 L366.4,651.0 L367.5,650.6 L368.6,650.3 L369.7,649.8 L370.8,649.8 L371.9,649.5 L373.0,649.7 L374.1,649.8 L375.2,649.6 L376.3,649.8 L377.4,649.8 L378.5,649.9 L379.6,649.8 L380.7,650.0 L381.8,649.8 L382.9,650.4 L384.0,650.6 L385.1,651.0 L386.2,651.4 L387.3,651.9 L388.4,652.0 L389.5,652.0 L390.6,651.9 L391.7,652.1 L392.8,651.8 L393.9,651.8 L395.0,651.4 L396.1,651.5 L397.2,651.0 L398.3,650.8 L399.4,650.5 L400.5,650.2 L401.6,649.7" stroke="rgb(129,129,129)" stroke-width="0.85" fill="none" stroke-linejoin="round" opacity="0.85"/>
<path d="M73.8,650.5 L74.9,650.4 L76.0,650.6 L77.1,650.8 L78.2,650.8 L79.3,651.0 L80.4,651.3 L81.5,651.4 L82.6,651.5 L83.7,651.9 L84.8,651.7 L85.9,651.8 L87.0,651.6 L88.1,651.3 L89.2,651.1 L90.3,651.1 L91.4,650.9 L92.5,650.9 L93.6,650.9 L94.7,650.4 L95.8,650.2 L96.9,649.9 L98.0,649.4 L99.1,648.9 L100.2,649.1 L101.3,649.1 L102.4,649.3 L103.5,649.7 L104.6,649.9 L105.7,650.1 L106.8,650.6 L107.9,650.8 L109.0,651.2 L110.1,651.2 L111.2,651.6 L112.3,651.7 L113.4,651.8 L114.5,651.5 L115.6,651.7 L116.7,651.6 L117.8,651.4 L118.9,651.4 L120.0,651.1 L121.1,650.5 L122.2,650.2 L123.3,650.3 L124.4,649.4 L125.5,649.4 L126.6,649.4 L127.7,649.3 L128.8,649.2 L129.9,649.7 L131.0,649.8 L132.1,649.9 L133.2,650.0 L134.3,650.3 L135.4,650.8 L136.5,651.0 L137.6,651.4 L138.7,651.9 L139.8,651.8 L140.9,651.6 L142.0,651.9 L143.1,651.9 L144.2,651.2 L145.3,651.2 L146.4,651.3 L147.5,650.9 L148.6,650.2 L149.7,650.4 L150.8,650.0 L151.9,649.8 L153.0,649.7 L154.1,649.8 L155.2,649.9 L156.3,649.7 L157.4,650.0 L158.5,650.0 L159.6,650.5 L160.7,650.6 L161.8,650.9 L162.9,651.0 L164.0,651.2 L165.1,651.1 L166.2,651.2 L167.3,651.7 L168.4,651.6 L169.5,652.0 L170.6,651.9 L171.7,651.7 L172.8,651.5 L173.9,651.4 L175.0,651.4 L176.1,651.1 L177.2,651.1 L178.3,650.7 L179.4,650.1 L180.5,649.7 L181.6,649.6 L182.7,649.4 L183.8,649.2 L184.9,649.1 L186.0,649.2 L187.1,649.3 L188.2,649.5 L189.3,649.8 L190.4,649.8 L191.5,650.0 L192.6,650.5 L193.7,650.9 L194.8,651.2 L195.9,651.8 L197.0,652.4 L198.1,652.7 L199.2,653.1 L200.3,653.3 L201.4,653.0 L202.5,652.4 L203.6,652.0 L204.7,651.4 L205.8,651.0 L206.9,650.7 L208.0,650.3 L209.1,649.8 L210.2,649.4 L211.3,649.0 L212.4,648.8 L213.5,648.5 L214.6,648.4 L215.7,648.4 L216.8,648.7 L217.9,649.0 L219.0,649.5 L220.1,650.4 L221.2,651.0 L222.3,651.7 L223.4,652.3 L224.5,652.9 L225.6,653.6 L226.7,654.0 L227.8,654.6 L228.9,655.2 L230.0,655.9 L231.1,656.1 L232.2,656.4 L233.3,656.5 L234.4,656.3 L235.5,656.0 L236.6,656.2 L237.7,656.3 L238.8,656.3 L239.9,656.2 L241.0,656.1 L242.1,656.0 L243.2,656.0 L244.3,655.8 L245.4,655.8 L246.5,655.4 L247.6,655.0 L248.7,654.3 L249.8,653.6 L250.9,653.1 L252.0,652.2 L253.1,651.6 L254.2,650.8 L255.3,649.9 L256.4,649.0 L257.5,648.3 L258.6,647.9 L259.7,647.7 L260.8,648.2 L261.9,648.4 L263.0,648.7 L264.1,649.0 L265.2,649.3 L266.3,649.2 L267.4,649.6 L268.5,650.2 L269.6,650.4 L270.7,650.7 L271.8,651.2 L272.9,651.5 L274.0,651.4 L275.1,651.6 L276.2,651.6 L277.3,651.8 L278.4,651.9 L279.5,651.7 L280.6,651.2 L281.7,651.1 L282.8,650.2 L283.9,649.5 L285.0,648.8 L286.1,648.5 L287.2,648.3 L288.3,648.3 L289.4,648.5 L290.5,648.9 L291.6,649.3 L292.7,649.3 L293.8,649.7 L294.9,649.9 L296.0,650.3 L297.1,650.5 L298.2,650.8 L299.3,651.0 L300.4,651.3 L301.5,651.6 L302.6,651.5 L303.7,651.8 L304.8,651.5 L305.9,651.8 L307.0,651.2 L308.1,651.0 L309.2,650.7 L310.3,650.4 L311.4,649.8 L312.5,649.7 L313.6,649.6 L314.7,649.3 L315.8,649.3 L316.9,649.2 L318.0,649.3 L319.1,649.3 L320.2,649.2 L321.3,648.9 L322.4,649.3 L323.5,649.5 L324.6,650.0 L325.7,650.4 L326.8,650.7 L327.9,651.0 L329.0,651.1 L330.1,651.4 L331.2,651.4 L332.3,651.4 L333.4,651.0 L334.5,651.3 L335.6,651.1 L336.7,650.6 L337.8,650.3 L338.9,650.3 L340.0,650.4 L341.1,650.1 L342.2,650.6 L343.3,650.1 L344.4,650.0 L345.5,649.4 L346.6,649.3 L347.7,649.4 L348.8,649.9 L349.9,650.0 L351.0,649.9 L352.1,650.3 L353.2,650.4 L354.3,650.4 L355.4,650.7 L356.5,651.1 L357.6,651.1 L358.7,651.4 L359.8,651.5 L360.9,651.6 L362.0,651.3 L363.1,651.2 L364.2,651.2 L365.3,650.8 L366.4,650.5 L367.5,650.5 L368.6,650.3 L369.7,650.1 L370.8,649.5 L371.9,649.5 L373.0,649.4 L374.1,649.6 L375.2,649.6 L376.3,649.9 L377.4,650.3 L378.5,650.5 L379.6,650.7 L380.7,650.7 L381.8,650.8 L382.9,651.1 L384.0,651.3 L385.1,651.2 L386.2,651.8 L387.3,651.9 L388.4,652.0 L389.5,651.7 L390.6,651.9 L391.7,651.9 L392.8,651.3 L393.9,651.2 L395.0,651.1 L396.1,650.5 L397.2,650.3 L398.3,650.1 L399.4,649.5 L400.5,649.1 L401.6,649.1" stroke="rgb(114,114,114)" stroke-width="0.85" fill="none" stroke-linejoin="round" opacity="0.85"/>
<path d="M73.8,650.0 L74.9,650.1 L76.0,650.3 L77.1,650.5 L78.2,650.6 L79.3,650.3 L80.4,650.2 L81.5,650.3 L82.6,650.4 L83.7,650.8 L84.8,650.5 L85.9,650.9 L87.0,651.0 L88.1,650.8 L89.2,650.7 L90.3,650.9 L91.4,650.7 L92.5,650.6 L93.6,650.5 L94.7,650.3 L95.8,649.9 L96.9,650.0 L98.0,649.6 L99.1,649.2 L100.2,649.3 L101.3,649.3 L102.4,649.4 L103.5,649.4 L104.6,649.8 L105.7,649.7 L106.8,649.8 L107.9,650.0 L109.0,650.5 L110.1,650.5 L111.2,650.9 L112.3,650.7 L113.4,650.7 L114.5,650.5 L115.6,650.5 L116.7,650.2 L117.8,650.3 L118.9,650.2 L120.0,650.1 L121.1,650.0 L122.2,649.7 L123.3,649.7 L124.4,649.9 L125.5,649.5 L126.6,649.5 L127.7,649.8 L128.8,649.7 L129.9,649.6 L131.0,649.7 L132.1,649.6 L133.2,649.7 L134.3,650.0 L135.4,650.0 L136.5,650.7 L137.6,651.2 L138.7,651.2 L139.8,651.3 L140.9,651.4 L142.0,651.4 L143.1,651.4 L144.2,651.2 L145.3,650.8 L146.4,650.7 L147.5,650.5 L148.6,650.1 L149.7,649.9 L150.8,650.0 L151.9,649.7 L153.0,649.3 L154.1,649.4 L155.2,649.1 L156.3,649.0 L157.4,649.0 L158.5,649.2 L159.6,649.3 L160.7,649.5 L161.8,649.5 L162.9,649.7 L164.0,650.1 L165.1,650.5 L166.2,650.8 L167.3,651.3 L168.4,651.4 L169.5,651.5 L170.6,651.8 L171.7,652.0 L172.8,651.9 L173.9,651.9 L175.0,651.7 L176.1,651.2 L177.2,650.7 L178.3,650.2 L179.4,649.9 L180.5,649.3 L181.6,649.0 L182.7,649.1 L183.8,649.1 L184.9,649.1 L186.0,649.1 L187.1,649.1 L188.2,649.0 L189.3,649.2 L190.4,649.0 L191.5,649.2 L192.6,649.3 L193.7,649.8 L194.8,650.0 L195.9,650.6 L197.0,651.2 L198.1,651.5 L199.2,651.7 L200.3,651.7 L201.4,651.8 L202.5,651.5 L203.6,651.4 L204.7,651.0 L205.8,650.9 L206.9,650.4 L208.0,649.6 L209.1,648.9 L210.2,648.7 L211.3,648.1 L212.4,648.1 L213.5,648.0 L214.6,648.2 L215.7,648.6 L216.8,648.9 L217.9,649.1 L219.0,649.8 L220.1,650.1 L221.2,650.5 L222.3,651.3 L223.4,652.1 L224.5,652.7 L225.6,653.5 L226.7,654.0 L227.8,654.5 L228.9,655.4 L230.0,655.8 L231.1,655.9 L232.2,656.1 L233.3,656.3 L234.4,656.2 L235.5,656.3 L236.6,656.5 L237.7,656.8 L238.8,656.9 L239.9,656.8 L241.0,656.9 L242.1,656.3 L243.2,656.0 L244.3,655.7 L245.4,655.6 L246.5,654.9 L247.6,654.6 L248.7,654.2 L249.8,653.6 L250.9,652.9 L252.0,652.3 L253.1,651.5 L254.2,650.7 L255.3,649.9 L256.4,649.3 L257.5,648.9 L258.6,648.2 L259.7,648.1 L260.8,648.1 L261.9,648.3 L263.0,648.8 L264.1,649.5 L265.2,650.0 L266.3,650.5 L267.4,650.6 L268.5,651.1 L269.6,651.6 L270.7,652.1 L271.8,652.2 L272.9,652.7 L274.0,653.0 L275.1,652.8 L276.2,652.5 L277.3,652.0 L278.4,651.4 L279.5,651.1 L280.6,650.6 L281.7,650.0 L282.8,649.8 L283.9,649.6 L285.0,649.2 L286.1,649.0 L287.2,648.9 L288.3,649.2 L289.4,649.2 L290.5,649.4 L291.6,649.4 L292.7,649.7 L293.8,649.6 L294.9,650.0 L296.0,650.4 L297.1,650.6 L298.2,651.0 L299.3,651.6 L300.4,651.4 L301.5,651.1 L302.6,651.6 L303.7,651.6 L304.8,651.1 L305.9,651.6 L307.0,651.4 L308.1,651.2 L309.2,651.1 L310.3,650.8 L311.4,650.4 L312.5,650.2 L313.6,649.8 L314.7,649.7 L315.8,649.4 L316.9,649.1 L318.0,649.2 L319.1,649.3 L320.2,649.5 L321.3,649.7 L322.4,649.8 L323.5,649.6 L324.6,649.7 L325.7,649.8 L326.8,650.1 L327.9,650.6 L329.0,650.8 L330.1,650.9 L331.2,651.0 L332.3,651.0 L333.4,651.0 L334.5,650.7 L335.6,650.4 L336.7,650.5 L337.8,650.4 L338.9,650.2 L340.0,650.0 L341.1,649.8 L342.2,649.3 L343.3,649.0 L344.4,648.7 L345.5,648.9 L346.6,649.2 L347.7,649.5 L348.8,649.8 L349.9,650.0 L351.0,650.1 L352.1,650.3 L353.2,650.6 L354.3,650.6 L355.4,650.9 L356.5,651.2 L357.6,651.0 L358.7,651.0 L359.8,651.1 L360.9,651.2 L362.0,651.0 L363.1,651.0 L364.2,650.8 L365.3,650.6 L366.4,650.3 L367.5,650.5 L368.6,650.2 L369.7,650.2 L370.8,649.9 L371.9,649.8 L373.0,649.5 L374.1,649.3 L375.2,649.2 L376.3,649.3 L377.4,649.5 L378.5,649.5 L379.6,649.9 L380.7,649.8 L381.8,650.2 L382.9,650.5 L384.0,650.7 L385.1,651.2 L386.2,651.5 L387.3,651.8 L388.4,651.7 L389.5,651.6 L390.6,651.0 L391.7,651.0 L392.8,650.8 L393.9,650.4 L395.0,650.1 L396.1,650.2 L397.2,649.8 L398.3,649.5 L399.4,649.6 L400.5,649.4 L401.6,649.3" stroke="rgb(98,98,98)" stroke-width="0.85" fill="none" stroke-linejoin="round" opacity="0.85"/>
<path d="M73.8,648.9 L74.9,649.4 L76.0,649.5 L77.1,649.9 L78.2,650.5 L79.3,650.7 L80.4,650.7 L81.5,651.0 L82.6,651.3 L83.7,650.9 L84.8,650.8 L85.9,650.4 L87.0,650.4 L88.1,650.0 L89.2,650.0 L90.3,649.8 L91.4,649.9 L92.5,649.6 L93.6,649.4 L94.7,649.3 L95.8,649.3 L96.9,649.0 L98.0,648.9 L99.1,648.7 L100.2,648.5 L101.3,648.4 L102.4,648.5 L103.5,648.8 L104.6,649.1 L105.7,649.3 L106.8,649.8 L107.9,650.0 L109.0,650.0 L110.1,650.4 L111.2,650.6 L112.3,650.9 L113.4,651.0 L114.5,651.0 L115.6,650.7 L116.7,650.7 L117.8,650.7 L118.9,650.3 L120.0,650.5 L121.1,650.5 L122.2,650.2 L123.3,649.6 L124.4,649.5 L125.5,649.3 L126.6,649.1 L127.7,649.1 L128.8,649.5 L129.9,649.6 L131.0,649.7 L132.1,650.0 L133.2,650.3 L134.3,650.8 L135.4,650.7 L136.5,650.8 L137.6,650.9 L138.7,651.0 L139.8,651.0 L140.9,650.9 L142.0,650.9 L143.1,650.9 L144.2,650.8 L145.3,650.7 L146.4,650.8 L147.5,650.8 L148.6,650.2 L149.7,649.9 L150.8,649.5 L151.9,648.9 L153.0,648.8 L154.1,648.6 L155.2,648.5 L156.3,648.8 L157.4,649.2 L158.5,649.3 L159.6,649.6 L160.7,649.8 L161.8,650.2 L162.9,650.3 L164.0,650.4 L165.1,650.4 L166.2,650.6 L167.3,650.6 L168.4,650.5 L169.5,650.8 L170.6,651.0 L171.7,650.7 L172.8,650.9 L173.9,650.9 L175.0,650.6 L176.1,650.7 L177.2,650.3 L178.3,650.0 L179.4,649.3 L180.5,648.9 L181.6,648.6 L182.7,648.8 L183.8,648.9 L184.9,648.6 L186.0,648.8 L187.1,648.8 L188.2,648.7 L189.3,648.9 L190.4,649.7 L191.5,649.9 L192.6,650.4 L193.7,651.0 L194.8,651.2 L195.9,651.5 L197.0,651.9 L198.1,652.0 L199.2,651.8 L200.3,652.1 L201.4,652.1 L202.5,651.8 L203.6,651.5 L204.7,651.0 L205.8,650.4 L206.9,650.0 L208.0,649.5 L209.1,649.1 L210.2,648.7 L211.3,648.3 L212.4,648.1 L213.5,647.5 L214.6,647.3 L215.7,647.7 L216.8,648.1 L217.9,648.4 L219.0,648.9 L220.1,649.5 L221.2,650.2 L222.3,650.8 L223.4,651.5 L224.5,652.8 L225.6,653.7 L226.7,654.4 L227.8,655.0 L228.9,655.3 L230.0,655.6 L231.1,655.8 L232.2,655.8 L233.3,655.7 L234.4,655.8 L235.5,656.0 L236.6,656.2 L237.7,656.2 L238.8,656.3 L239.9,656.2 L241.0,655.9 L242.1,655.6 L243.2,655.4 L244.3,655.6 L245.4,655.2 L246.5,654.9 L247.6,654.7 L248.7,653.9 L249.8,652.9 L250.9,651.8 L252.0,651.1 L253.1,650.2 L254.2,649.7 L255.3,649.3 L256.4,648.8 L257.5,648.2 L258.6,648.2 L259.7,648.1 L260.8,647.9 L261.9,647.8 L263.0,648.3 L264.1,648.5 L265.2,648.9 L266.3,649.3 L267.4,649.3 L268.5,649.6 L269.6,650.1 L270.7,650.4 L271.8,651.0 L272.9,651.6 L274.0,651.6 L275.1,651.2 L276.2,651.0 L277.3,651.0 L278.4,650.5 L279.5,650.3 L280.6,649.8 L281.7,649.7 L282.8,649.4 L283.9,648.9 L285.0,648.4 L286.1,648.3 L287.2,648.0 L288.3,647.8 L289.4,647.9 L290.5,648.0 L291.6,648.0 L292.7,648.0 L293.8,648.5 L294.9,648.9 L296.0,649.2 L297.1,649.8 L298.2,650.1 L299.3,650.3 L300.4,650.5 L301.5,650.8 L302.6,650.8 L303.7,650.8 L304.8,650.8 L305.9,650.7 L307.0,650.2 L308.1,650.2 L309.2,649.9 L310.3,649.7 L311.4,649.4 L312.5,649.6 L313.6,649.1 L314.7,648.9 L315.8,648.9 L316.9,648.9 L318.0,648.6 L319.1,648.8 L320.2,649.0 L321.3,649.2 L322.4,649.1 L323.5,649.3 L324.6,649.6 L325.7,649.2 L326.8,649.4 L327.9,650.1 L329.0,650.3 L330.1,650.4 L331.2,650.6 L332.3,650.6 L333.4,650.4 L334.5,650.2 L335.6,650.3 L336.7,650.2 L337.8,650.1 L338.9,649.6 L340.0,649.4 L341.1,649.0 L342.2,648.7 L343.3,648.4 L344.4,648.1 L345.5,648.6 L346.6,648.9 L347.7,649.2 L348.8,649.5 L349.9,649.8 L351.0,649.7 L352.1,649.7 L353.2,650.3 L354.3,650.4 L355.4,650.9 L356.5,650.7 L357.6,650.9 L358.7,650.8 L359.8,650.9 L360.9,651.0 L362.0,651.1 L363.1,651.1 L364.2,650.9 L365.3,650.7 L366.4,650.5 L367.5,650.4 L368.6,649.8 L369.7,649.4 L370.8,649.4 L371.9,648.8 L373.0,648.7 L374.1,648.5 L375.2,648.7 L376.3,648.9 L377.4,649.2 L378.5,649.1 L379.6,649.3 L380.7,649.5 L381.8,649.4 L382.9,649.5 L384.0,649.9 L385.1,650.5 L386.2,650.4 L387.3,650.6 L388.4,650.6 L389.5,651.0 L390.6,651.0 L391.7,651.3 L392.8,651.3 L393.9,651.3 L395.0,650.8 L396.1,650.3 L397.2,650.0 L398.3,649.9 L399.4,649.4 L400.5,649.3 L401.6,649.6" stroke="rgb(83,83,83)" stroke-width="0.85" fill="none" stroke-linejoin="round" opacity="0.85"/>
<path d="M73.8,648.4 L74.9,648.8 L76.0,649.0 L77.1,649.6 L78.2,649.8 L79.3,650.0 L80.4,650.2 L81.5,650.6 L82.6,650.9 L83.7,651.2 L84.8,651.6 L85.9,651.6 L87.0,651.4 L88.1,651.1 L89.2,650.8 L90.3,650.2 L91.4,649.8 L92.5,649.7 L93.6,649.4 L94.7,649.2 L95.8,649.3 L96.9,649.0 L98.0,648.8 L99.1,648.7 L100.2,648.6 L101.3,648.4 L102.4,648.2 L103.5,648.6 L104.6,649.0 L105.7,649.4 L106.8,650.1 L107.9,650.9 L109.0,651.1 L110.1,651.1 L111.2,651.2 L112.3,651.2 L113.4,650.8 L114.5,650.6 L115.6,650.9 L116.7,650.9 L117.8,650.8 L118.9,650.6 L120.0,650.7 L121.1,650.2 L122.2,650.4 L123.3,650.4 L124.4,650.3 L125.5,650.1 L126.6,649.9 L127.7,649.2 L128.8,649.3 L129.9,649.3 L131.0,649.3 L132.1,649.2 L133.2,649.7 L134.3,649.7 L135.4,649.8 L136.5,650.1 L137.6,650.1 L138.7,650.2 L139.8,650.5 L140.9,650.7 L142.0,650.9 L143.1,650.6 L144.2,650.4 L145.3,650.2 L146.4,650.2 L147.5,650.3 L148.6,650.1 L149.7,649.5 L150.8,649.3 L151.9,648.4 L153.0,648.1 L154.1,648.5 L155.2,648.5 L156.3,648.6 L157.4,649.0 L158.5,649.2 L159.6,648.9 L160.7,649.2 L161.8,649.3 L162.9,649.2 L164.0,649.0 L165.1,649.5 L166.2,649.4 L167.3,649.8 L168.4,650.0 L169.5,650.2 L170.6,650.3 L171.7,650.7 L172.8,650.6 L173.9,650.9 L175.0,650.7 L176.1,650.6 L177.2,650.2 L178.3,649.8 L179.4,649.2 L180.5,649.2 L181.6,649.1 L182.7,648.7 L183.8,648.7 L184.9,648.9 L186.0,649.0 L187.1,648.9 L188.2,649.3 L189.3,649.2 L190.4,649.4 L191.5,649.8 L192.6,650.3 L193.7,650.8 L194.8,651.2 L195.9,651.4 L197.0,651.6 L198.1,651.7 L199.2,651.7 L200.3,651.7 L201.4,651.4 L202.5,651.1 L203.6,650.6 L204.7,650.3 L205.8,650.0 L206.9,649.4 L208.0,649.0 L209.1,648.6 L210.2,648.6 L211.3,648.6 L212.4,648.4 L213.5,648.2 L214.6,647.9 L215.7,647.7 L216.8,648.0 L217.9,648.5 L219.0,649.3 L220.1,649.8 L221.2,650.2 L222.3,651.0 L223.4,651.5 L224.5,652.2 L225.6,653.1 L226.7,653.9 L227.8,654.4 L228.9,654.7 L230.0,655.0 L231.1,655.0 L232.2,655.3 L233.3,655.4 L234.4,655.6 L235.5,655.8 L236.6,656.2 L237.7,656.2 L238.8,656.2 L239.9,656.2 L241.0,656.5 L242.1,656.4 L243.2,656.1 L244.3,655.9 L245.4,655.5 L246.5,654.8 L247.6,653.9 L248.7,653.6 L249.8,653.0 L250.9,651.8 L252.0,650.9 L253.1,650.4 L254.2,649.8 L255.3,649.3 L256.4,648.9 L257.5,648.8 L258.6,648.4 L259.7,648.0 L260.8,647.8 L261.9,647.9 L263.0,647.9 L264.1,648.4 L265.2,648.9 L266.3,649.4 L267.4,650.1 L268.5,650.3 L269.6,650.8 L270.7,650.9 L271.8,651.5 L272.9,651.9 L274.0,652.3 L275.1,651.8 L276.2,651.9 L277.3,651.7 L278.4,651.0 L279.5,650.7 L280.6,650.7 L281.7,650.4 L282.8,650.2 L283.9,650.0 L285.0,649.4 L286.1,649.0 L287.2,648.8 L288.3,648.3 L289.4,648.2 L290.5,648.5 L291.6,648.8 L292.7,648.9 L293.8,649.4 L294.9,649.9 L296.0,650.1 L297.1,650.3 L298.2,650.4 L299.3,650.5 L300.4,650.6 L301.5,650.7 L302.6,650.9 L303.7,650.8 L304.8,651.1 L305.9,651.3 L307.0,651.2 L308.1,650.8 L309.2,650.6 L310.3,650.2 L311.4,649.5 L312.5,649.6 L313.6,649.1 L314.7,648.8 L315.8,648.8 L316.9,648.7 L318.0,648.5 L319.1,648.7 L320.2,648.7 L321.3,648.9 L322.4,649.3 L323.5,649.6 L324.6,650.2 L325.7,650.6 L326.8,650.9 L327.9,651.3 L329.0,651.4 L330.1,651.7 L331.2,652.0 L332.3,652.0 L333.4,651.8 L334.5,651.8 L335.6,651.4 L336.7,651.1 L337.8,651.0 L338.9,650.7 L340.0,650.5 L341.1,650.2 L342.2,650.1 L343.3,650.2 L344.4,650.5 L345.5,650.2 L346.6,650.3 L347.7,650.3 L348.8,650.4 L349.9,650.1 L351.0,650.2 L352.1,650.4 L353.2,650.3 L354.3,650.3 L355.4,650.4 L356.5,650.4 L357.6,650.8 L358.7,650.9 L359.8,650.8 L360.9,651.0 L362.0,651.0 L363.1,650.8 L364.2,650.5 L365.3,650.3 L366.4,650.2 L367.5,649.8 L368.6,649.6 L369.7,649.3 L370.8,649.1 L371.9,648.9 L373.0,648.6 L374.1,648.7 L375.2,648.9 L376.3,649.1 L377.4,649.0 L378.5,648.9 L379.6,648.9 L380.7,648.7 L381.8,648.9 L382.9,649.1 L384.0,649.2 L385.1,649.7 L386.2,650.1 L387.3,650.1 L388.4,650.0 L389.5,650.4 L390.6,650.1 L391.7,650.1 L392.8,650.4 L393.9,650.6 L395.0,650.1 L396.1,649.9 L397.2,649.4 L398.3,649.3 L399.4,649.2 L400.5,649.3 L401.6,649.4" stroke="rgb(68,68,68)" stroke-width="0.85" fill="none" stroke-linejoin="round" opacity="0.85"/>
<path d="M73.8,648.6 L74.9,648.6 L76.0,648.7 L77.1,649.0 L78.2,648.8 L79.3,648.9 L80.4,649.2 L81.5,649.5 L82.6,649.6 L83.7,650.1 L84.8,650.6 L85.9,650.8 L87.0,650.8 L88.1,650.6 L89.2,650.4 L90.3,650.2 L91.4,649.8 L92.5,649.8 L93.6,649.6 L94.7,649.1 L95.8,649.1 L96.9,648.9 L98.0,648.5 L99.1,648.6 L100.2,648.8 L101.3,648.6 L102.4,648.4 L103.5,648.5 L104.6,648.6 L105.7,648.3 L106.8,648.8 L107.9,649.3 L109.0,649.6 L110.1,650.0 L111.2,650.3 L112.3,650.5 L113.4,650.0 L114.5,649.7 L115.6,649.3 L116.7,649.3 L117.8,649.4 L118.9,649.6 L120.0,649.9 L121.1,649.9 L122.2,649.6 L123.3,649.3 L124.4,649.0 L125.5,648.7 L126.6,648.7 L127.7,648.5 L128.8,648.5 L129.9,648.6 L131.0,648.6 L132.1,648.8 L133.2,648.8 L134.3,649.1 L135.4,649.3 L136.5,649.6 L137.6,649.7 L138.7,650.1 L139.8,650.4 L140.9,650.6 L142.0,650.6 L143.1,650.8 L144.2,650.6 L145.3,650.2 L146.4,649.8 L147.5,649.5 L148.6,649.0 L149.7,649.4 L150.8,649.1 L151.9,648.6 L153.0,648.5 L154.1,648.5 L155.2,647.8 L156.3,648.0 L157.4,647.9 L158.5,647.6 L159.6,647.8 L160.7,648.2 L161.8,648.2 L162.9,648.8 L164.0,649.1 L165.1,649.4 L166.2,649.8 L167.3,650.4 L168.4,650.9 L169.5,651.2 L170.6,651.4 L171.7,651.6 L172.8,651.8 L173.9,651.4 L175.0,651.4 L176.1,650.7 L177.2,650.4 L178.3,650.1 L179.4,650.2 L180.5,649.7 L181.6,649.8 L182.7,649.4 L183.8,649.2 L184.9,649.2 L186.0,648.9 L187.1,648.7 L188.2,648.8 L189.3,648.9 L190.4,648.7 L191.5,648.9 L192.6,649.1 L193.7,649.3 L194.8,649.7 L195.9,649.9 L197.0,650.5 L198.1,651.3 L199.2,651.4 L200.3,651.4 L201.4,651.5 L202.5,651.1 L203.6,650.7 L204.7,650.4 L205.8,649.9 L206.9,649.4 L208.0,649.0 L209.1,648.7 L210.2,648.5 L211.3,648.2 L212.4,648.3 L213.5,648.0 L214.6,647.8 L215.7,647.8 L216.8,648.2 L217.9,647.9 L219.0,648.4 L220.1,648.8 L221.2,649.4 L222.3,650.1 L223.4,651.3 L224.5,652.0 L225.6,652.8 L226.7,653.4 L227.8,654.3 L228.9,654.8 L230.0,655.2 L231.1,655.6 L232.2,655.9 L233.3,655.8 L234.4,655.8 L235.5,656.0 L236.6,655.9 L237.7,655.8 L238.8,656.1 L239.9,656.2 L241.0,656.4 L242.1,656.3 L243.2,656.0 L244.3,655.7 L245.4,655.2 L246.5,654.4 L247.6,653.8 L248.7,653.0 L249.8,652.3 L250.9,651.8 L252.0,651.4 L253.1,650.5 L254.2,649.8 L255.3,649.5 L256.4,649.0 L257.5,648.5 L258.6,648.3 L259.7,648.2 L260.8,647.7 L261.9,647.8 L263.0,648.0 L264.1,648.3 L265.2,648.6 L266.3,649.3 L267.4,649.5 L268.5,650.0 L269.6,650.6 L270.7,650.8 L271.8,650.8 L272.9,650.9 L274.0,651.0 L275.1,650.5 L276.2,650.5 L277.3,650.7 L278.4,650.5 L279.5,650.0 L280.6,650.0 L281.7,649.6 L282.8,649.1 L283.9,648.8 L285.0,648.7 L286.1,648.4 L287.2,648.4 L288.3,648.4 L289.4,648.4 L290.5,648.3 L291.6,648.5 L292.7,648.8 L293.8,649.0 L294.9,649.2 L296.0,649.6 L297.1,650.1 L298.2,649.9 L299.3,650.1 L300.4,650.5 L301.5,650.6 L302.6,650.8 L303.7,650.9 L304.8,650.9 L305.9,650.8 L307.0,650.7 L308.1,650.4 L309.2,650.1 L310.3,649.9 L311.4,649.6 L312.5,649.4 L313.6,648.9 L314.7,648.5 L315.8,648.5 L316.9,648.5 L318.0,648.4 L319.1,648.6 L320.2,648.7 L321.3,648.3 L322.4,648.6 L323.5,648.9 L324.6,649.2 L325.7,649.7 L326.8,650.1 L327.9,650.5 L329.0,650.4 L330.1,650.4 L331.2,650.4 L332.3,650.1 L333.4,649.8 L334.5,649.5 L335.6,649.7 L336.7,649.8 L337.8,649.6 L338.9,649.5 L340.0,649.5 L341.1,649.3 L342.2,648.8 L343.3,648.8 L344.4,649.0 L345.5,648.8 L346.6,648.7 L347.7,649.0 L348.8,649.0 L349.9,648.8 L351.0,649.1 L352.1,649.1 L353.2,649.0 L354.3,649.4 L355.4,649.7 L356.5,650.0 L357.6,650.2 L358.7,650.8 L359.8,650.7 L360.9,650.8 L362.0,650.5 L363.1,651.1 L364.2,650.8 L365.3,650.7 L366.4,650.7 L367.5,650.7 L368.6,649.7 L369.7,649.4 L370.8,649.1 L371.9,648.9 L373.0,648.6 L374.1,648.7 L375.2,648.6 L376.3,648.4 L377.4,648.5 L378.5,649.1 L379.6,649.6 L380.7,650.2 L381.8,650.4 L382.9,650.6 L384.0,650.1 L385.1,649.8 L386.2,649.8 L387.3,649.9 L388.4,649.9 L389.5,649.8 L390.6,649.7 L391.7,649.6 L392.8,649.9 L393.9,650.0 L395.0,649.9 L396.1,649.8 L397.2,649.6 L398.3,649.4 L399.4,648.8 L400.5,648.1 L401.6,648.4" stroke="rgb(52,52,52)" stroke-width="0.85" fill="none" stroke-linejoin="round" opacity="0.85"/>
<path d="M73.8,648.1 L74.9,648.5 L76.0,648.9 L77.1,649.3 L78.2,649.5 L79.3,649.4 L80.4,649.8 L81.5,650.0 L82.6,650.2 L83.7,650.0 L84.8,650.3 L85.9,650.1 L87.0,649.9 L88.1,649.8 L89.2,649.8 L90.3,649.5 L91.4,649.2 L92.5,649.2 L93.6,649.1 L94.7,649.1 L95.8,649.1 L96.9,649.1 L98.0,648.9 L99.1,649.1 L100.2,648.9 L101.3,648.9 L102.4,649.1 L103.5,649.3 L104.6,649.3 L105.7,649.3 L106.8,649.3 L107.9,649.5 L109.0,649.6 L110.1,649.7 L111.2,650.0 L112.3,649.9 L113.4,650.1 L114.5,650.0 L115.6,650.1 L116.7,650.2 L117.8,650.3 L118.9,649.8 L120.0,649.4 L121.1,649.1 L122.2,648.9 L123.3,648.6 L124.4,648.5 L125.5,648.5 L126.6,648.8 L127.7,648.6 L128.8,648.7 L129.9,648.7 L131.0,648.9 L132.1,649.1 L133.2,649.7 L134.3,650.0 L135.4,650.7 L136.5,650.9 L137.6,651.0 L138.7,650.9 L139.8,651.2 L140.9,650.8 L142.0,651.1 L143.1,650.8 L144.2,650.7 L145.3,650.4 L146.4,650.5 L147.5,649.9 L148.6,650.0 L149.7,649.7 L150.8,649.6 L151.9,649.3 L153.0,649.1 L154.1,648.8 L155.2,648.5 L156.3,648.6 L157.4,648.9 L158.5,648.9 L159.6,649.0 L160.7,649.0 L161.8,649.5 L162.9,649.5 L164.0,649.9 L165.1,650.0 L166.2,650.3 L167.3,650.3 L168.4,650.2 L169.5,650.3 L170.6,650.3 L171.7,650.5 L172.8,650.3 L173.9,650.2 L175.0,649.7 L176.1,649.5 L177.2,649.3 L178.3,648.7 L179.4,648.7 L180.5,648.4 L181.6,648.3 L182.7,648.1 L183.8,648.0 L184.9,648.1 L186.0,648.3 L187.1,648.5 L188.2,648.5 L189.3,648.8 L190.4,648.9 L191.5,649.2 L192.6,649.3 L193.7,649.9 L194.8,650.2 L195.9,650.8 L197.0,651.0 L198.1,651.2 L199.2,651.4 L200.3,651.2 L201.4,650.9 L202.5,650.8 L203.6,650.3 L204.7,650.1 L205.8,649.6 L206.9,649.0 L208.0,648.0 L209.1,647.7 L210.2,647.6 L211.3,647.4 L212.4,647.2 L213.5,647.0 L214.6,647.0 L215.7,647.4 L216.8,647.7 L217.9,648.0 L219.0,649.0 L220.1,649.8 L221.2,650.2 L222.3,651.0 L223.4,651.8 L224.5,651.9 L225.6,652.1 L226.7,653.2 L227.8,653.5 L228.9,653.9 L230.0,654.4 L231.1,654.7 L232.2,654.5 L233.3,654.7 L234.4,654.8 L235.5,654.6 L236.6,654.2 L237.7,654.3 L238.8,654.2 L239.9,654.2 L241.0,654.1 L242.1,654.2 L243.2,653.7 L244.3,653.7 L245.4,653.7 L246.5,653.7 L247.6,653.7 L248.7,653.0 L249.8,652.6 L250.9,651.9 L252.0,651.2 L253.1,650.5 L254.2,650.0 L255.3,649.5 L256.4,649.1 L257.5,648.6 L258.6,648.2 L259.7,647.7 L260.8,647.7 L261.9,647.5 L263.0,647.6 L264.1,647.8 L265.2,648.0 L266.3,648.5 L267.4,648.8 L268.5,649.2 L269.6,649.8 L270.7,650.2 L271.8,650.4 L272.9,650.7 L274.0,650.9 L275.1,650.9 L276.2,650.9 L277.3,650.9 L278.4,650.5 L279.5,650.4 L280.6,650.0 L281.7,649.6 L282.8,649.2 L283.9,649.0 L285.0,648.7 L286.1,648.6 L287.2,648.3 L288.3,648.1 L289.4,647.7 L290.5,647.8 L291.6,647.7 L292.7,647.9 L293.8,647.8 L294.9,648.2 L296.0,648.5 L297.1,648.8 L298.2,649.0 L299.3,649.4 L300.4,649.8 L301.5,649.9 L302.6,650.0 L303.7,649.8 L304.8,649.8 L305.9,649.8 L307.0,649.8 L308.1,649.8 L309.2,649.9 L310.3,649.8 L311.4,649.5 L312.5,649.3 L313.6,649.2 L314.7,648.8 L315.8,648.3 L316.9,648.1 L318.0,647.8 L319.1,647.6 L320.2,647.7 L321.3,648.0 L322.4,648.1 L323.5,648.0 L324.6,648.2 L325.7,648.3 L326.8,648.5 L327.9,649.1 L329.0,649.4 L330.1,649.8 L331.2,649.8 L332.3,650.0 L333.4,650.2 L334.5,650.1 L335.6,650.4 L336.7,650.5 L337.8,650.2 L338.9,650.0 L340.0,650.0 L341.1,649.6 L342.2,649.7 L343.3,649.2 L344.4,649.0 L345.5,648.7 L346.6,648.7 L347.7,648.2 L348.8,648.6 L349.9,648.6 L351.0,648.7 L352.1,648.7 L353.2,649.2 L354.3,649.0 L355.4,649.0 L356.5,649.1 L357.6,649.5 L358.7,649.7 L359.8,650.2 L360.9,650.3 L362.0,650.4 L363.1,649.9 L364.2,649.8 L365.3,649.4 L366.4,649.2 L367.5,649.2 L368.6,649.0 L369.7,648.9 L370.8,648.9 L371.9,648.8 L373.0,648.6 L374.1,648.6 L375.2,648.4 L376.3,648.0 L377.4,647.9 L378.5,647.9 L379.6,648.0 L380.7,648.5 L381.8,649.0 L382.9,649.3 L384.0,649.8 L385.1,650.3 L386.2,650.3 L387.3,650.6 L388.4,650.6 L389.5,650.6 L390.6,650.3 L391.7,650.2 L392.8,649.7 L393.9,649.6 L395.0,649.0 L396.1,649.1 L397.2,649.1 L398.3,649.1 L399.4,648.7 L400.5,648.6 L401.6,648.3" stroke="rgb(37,37,37)" stroke-width="0.85" fill="none" stroke-linejoin="round" opacity="0.85"/>
<path d="M73.8,648.6 L74.9,648.9 L76.0,649.2 L77.1,649.0 L78.2,649.2 L79.3,649.5 L80.4,649.4 L81.5,649.5 L82.6,649.8 L83.7,649.7 L84.8,650.1 L85.9,650.0 L87.0,650.1 L88.1,650.1 L89.2,650.2 L90.3,649.7 L91.4,649.7 L92.5,649.4 L93.6,649.0 L94.7,648.6 L95.8,648.3 L96.9,648.2 L98.0,648.2 L99.1,648.1 L100.2,648.3 L101.3,648.4 L102.4,648.4 L103.5,648.3 L104.6,648.4 L105.7,648.4 L106.8,648.8 L107.9,649.3 L109.0,649.5 L110.1,649.5 L111.2,649.6 L112.3,649.6 L113.4,649.5 L114.5,649.6 L115.6,649.7 L116.7,649.7 L117.8,649.7 L118.9,649.7 L120.0,649.4 L121.1,649.4 L122.2,649.3 L123.3,648.9 L124.4,648.4 L125.5,648.3 L126.6,648.0 L127.7,647.6 L128.8,647.5 L129.9,647.7 L131.0,647.7 L132.1,647.9 L133.2,648.2 L134.3,648.4 L135.4,648.8 L136.5,649.1 L137.6,649.3 L138.7,649.7 L139.8,649.5 L140.9,649.5 L142.0,649.7 L143.1,649.7 L144.2,649.6 L145.3,650.2 L146.4,650.2 L147.5,650.2 L148.6,649.8 L149.7,649.8 L150.8,649.5 L151.9,649.3 L153.0,649.0 L154.1,648.9 L155.2,648.6 L156.3,648.6 L157.4,648.3 L158.5,648.1 L159.6,648.5 L160.7,648.6 L161.8,648.7 L162.9,649.3 L164.0,649.3 L165.1,649.5 L166.2,649.8 L167.3,649.9 L168.4,650.0 L169.5,650.6 L170.6,650.7 L171.7,650.7 L172.8,650.4 L173.9,650.4 L175.0,650.2 L176.1,649.9 L177.2,649.7 L178.3,649.3 L179.4,649.2 L180.5,648.8 L181.6,648.5 L182.7,648.1 L183.8,647.7 L184.9,647.5 L186.0,647.3 L187.1,647.1 L188.2,647.2 L189.3,647.8 L190.4,647.9 L191.5,647.8 L192.6,648.5 L193.7,648.8 L194.8,648.9 L195.9,649.1 L197.0,649.6 L198.1,649.8 L199.2,650.1 L200.3,650.3 L201.4,650.5 L202.5,650.6 L203.6,650.4 L204.7,650.2 L205.8,649.9 L206.9,649.6 L208.0,649.2 L209.1,648.6 L210.2,648.1 L211.3,647.4 L212.4,647.0 L213.5,646.8 L214.6,646.5 L215.7,646.3 L216.8,646.6 L217.9,647.2 L219.0,647.7 L220.1,648.6 L221.2,649.4 L222.3,650.3 L223.4,650.9 L224.5,651.9 L225.6,652.5 L226.7,653.1 L227.8,653.4 L228.9,653.9 L230.0,654.4 L231.1,654.9 L232.2,655.3 L233.3,655.4 L234.4,655.2 L235.5,655.3 L236.6,655.6 L237.7,655.7 L238.8,655.7 L239.9,655.6 L241.0,655.3 L242.1,655.2 L243.2,655.1 L244.3,654.7 L245.4,654.2 L246.5,653.7 L247.6,653.1 L248.7,652.4 L249.8,651.9 L250.9,651.0 L252.0,650.3 L253.1,649.3 L254.2,648.7 L255.3,648.2 L256.4,647.9 L257.5,647.1 L258.6,647.0 L259.7,646.9 L260.8,646.9 L261.9,647.4 L263.0,647.4 L264.1,648.0 L265.2,648.2 L266.3,649.1 L267.4,649.3 L268.5,649.9 L269.6,650.0 L270.7,650.6 L271.8,650.7 L272.9,651.1 L274.0,651.6 L275.1,651.9 L276.2,651.6 L277.3,651.5 L278.4,651.1 L279.5,650.7 L280.6,650.4 L281.7,649.9 L282.8,649.1 L283.9,648.6 L285.0,648.1 L286.1,647.7 L287.2,647.7 L288.3,647.5 L289.4,647.4 L290.5,647.4 L291.6,647.7 L292.7,647.7 L293.8,648.1 L294.9,648.6 L296.0,648.7 L297.1,649.0 L298.2,649.1 L299.3,649.7 L300.4,649.9 L301.5,649.9 L302.6,649.7 L303.7,649.8 L304.8,649.9 L305.9,650.0 L307.0,650.0 L308.1,649.6 L309.2,649.2 L310.3,648.9 L311.4,648.7 L312.5,648.3 L313.6,648.3 L314.7,647.8 L315.8,648.0 L316.9,647.9 L318.0,647.7 L319.1,648.1 L320.2,648.3 L321.3,648.4 L322.4,648.5 L323.5,648.8 L324.6,648.9 L325.7,648.9 L326.8,649.1 L327.9,649.3 L329.0,649.3 L330.1,649.7 L331.2,649.7 L332.3,649.7 L333.4,649.8 L334.5,649.8 L335.6,649.7 L336.7,649.6 L337.8,649.0 L338.9,649.1 L340.0,648.6 L341.1,648.5 L342.2,648.1 L343.3,648.2 L344.4,648.2 L345.5,648.2 L346.6,648.1 L347.7,648.2 L348.8,648.7 L349.9,648.5 L351.0,648.7 L352.1,648.9 L353.2,649.4 L354.3,649.1 L355.4,649.6 L356.5,650.1 L357.6,650.1 L358.7,650.0 L359.8,650.3 L360.9,650.1 L362.0,650.1 L363.1,650.1 L364.2,650.3 L365.3,650.2 L366.4,649.8 L367.5,649.4 L368.6,649.2 L369.7,648.9 L370.8,648.6 L371.9,648.3 L373.0,648.6 L374.1,648.6 L375.2,648.4 L376.3,648.6 L377.4,648.8 L378.5,648.6 L379.6,648.8 L380.7,649.1 L381.8,649.4 L382.9,649.6 L384.0,650.2 L385.1,650.1 L386.2,649.8 L387.3,650.0 L388.4,649.9 L389.5,649.9 L390.6,650.1 L391.7,650.3 L392.8,649.7 L393.9,649.6 L395.0,649.3 L396.1,649.2 L397.2,649.0 L398.3,648.9 L399.4,648.4 L400.5,648.1 L401.6,648.0" stroke="rgb(37,37,37)" stroke-width="0.85" fill="none" stroke-linejoin="round" opacity="0.85"/>
<path d="M73.8,648.2 L74.9,648.3 L76.0,648.5 L77.1,648.6 L78.2,648.6 L79.3,648.8 L80.4,648.9 L81.5,649.1 L82.6,649.5 L83.7,649.2 L84.8,649.1 L85.9,648.8 L87.0,649.0 L88.1,648.9 L89.2,649.3 L90.3,649.3 L91.4,649.3 L92.5,649.0 L93.6,648.9 L94.7,648.7 L95.8,648.5 L96.9,648.1 L98.0,647.9 L99.1,647.8 L100.2,647.7 L101.3,648.0 L102.4,647.8 L103.5,647.9 L104.6,648.2 L105.7,648.2 L106.8,648.2 L107.9,648.5 L109.0,648.4 L110.1,648.7 L111.2,649.2 L112.3,649.7 L113.4,649.8 L114.5,650.1 L115.6,649.6 L116.7,649.3 L117.8,649.4 L118.9,649.2 L120.0,648.8 L121.1,648.6 L122.2,648.8 L123.3,648.8 L124.4,648.5 L125.5,648.4 L126.6,647.8 L127.7,647.6 L128.8,647.7 L129.9,647.8 L131.0,647.9 L132.1,648.5 L133.2,648.9 L134.3,649.1 L135.4,649.4 L136.5,649.4 L137.6,649.5 L138.7,649.3 L139.8,649.9 L140.9,650.1 L142.0,650.5 L143.1,650.7 L144.2,650.5 L145.3,650.1 L146.4,650.0 L147.5,649.9 L148.6,649.5 L149.7,649.2 L150.8,649.1 L151.9,649.2 L153.0,648.8 L154.1,648.5 L155.2,648.5 L156.3,648.2 L157.4,648.1 L158.5,648.0 L159.6,648.1 L160.7,647.9 L161.8,648.1 L162.9,648.4 L164.0,649.0 L165.1,649.4 L166.2,650.0 L167.3,650.4 L168.4,650.8 L169.5,650.9 L170.6,650.9 L171.7,650.5 L172.8,650.4 L173.9,650.2 L175.0,650.2 L176.1,649.8 L177.2,649.6 L178.3,649.1 L179.4,648.5 L180.5,647.9 L181.6,647.4 L182.7,647.1 L183.8,647.0 L184.9,646.9 L186.0,646.9 L187.1,647.2 L188.2,647.3 L189.3,647.6 L190.4,648.1 L191.5,648.5 L192.6,649.0 L193.7,649.1 L194.8,649.6 L195.9,649.7 L197.0,650.2 L198.1,650.4 L199.2,650.9 L200.3,651.2 L201.4,651.1 L202.5,650.6 L203.6,650.3 L204.7,649.6 L205.8,649.1 L206.9,648.7 L208.0,648.4 L209.1,647.7 L210.2,647.5 L211.3,647.2 L212.4,647.0 L213.5,646.6 L214.6,646.5 L215.7,646.4 L216.8,646.5 L217.9,646.8 L219.0,647.3 L220.1,647.7 L221.2,648.5 L222.3,649.4 L223.4,650.6 L224.5,651.5 L225.6,652.2 L226.7,652.6 L227.8,652.9 L228.9,653.2 L230.0,653.9 L231.1,654.0 L232.2,654.5 L233.3,654.8 L234.4,654.7 L235.5,654.6 L236.6,654.7 L237.7,654.6 L238.8,654.7 L239.9,655.1 L241.0,655.1 L242.1,655.3 L243.2,654.8 L244.3,654.5 L245.4,654.1 L246.5,653.7 L247.6,653.1 L248.7,652.6 L249.8,652.1 L250.9,651.3 L252.0,650.5 L253.1,649.6 L254.2,648.9 L255.3,648.4 L256.4,647.9 L257.5,647.3 L258.6,647.2 L259.7,646.9 L260.8,646.7 L261.9,646.5 L263.0,646.9 L264.1,647.3 L265.2,647.5 L266.3,647.9 L267.4,648.4 L268.5,648.7 L269.6,649.2 L270.7,649.4 L271.8,649.6 L272.9,650.5 L274.0,650.5 L275.1,650.4 L276.2,650.5 L277.3,650.3 L278.4,650.1 L279.5,649.8 L280.6,649.4 L281.7,648.9 L282.8,648.3 L283.9,647.8 L285.0,647.8 L286.1,647.6 L287.2,647.3 L288.3,647.0 L289.4,647.1 L290.5,646.8 L291.6,647.1 L292.7,647.6 L293.8,647.8 L294.9,647.9 L296.0,648.7 L297.1,648.8 L298.2,649.1 L299.3,649.3 L300.4,649.6 L301.5,649.6 L302.6,649.7 L303.7,650.0 L304.8,649.9 L305.9,649.7 L307.0,649.3 L308.1,649.1 L309.2,648.9 L310.3,648.7 L311.4,648.3 L312.5,647.8 L313.6,647.4 L314.7,647.1 L315.8,646.7 L316.9,647.1 L318.0,647.1 L319.1,647.3 L320.2,647.7 L321.3,648.1 L322.4,648.2 L323.5,648.4 L324.6,648.3 L325.7,648.6 L326.8,648.8 L327.9,649.1 L329.0,649.3 L330.1,649.6 L331.2,649.3 L332.3,649.4 L333.4,649.6 L334.5,649.4 L335.6,649.5 L336.7,649.6 L337.8,649.4 L338.9,649.0 L340.0,648.9 L341.1,648.4 L342.2,648.2 L343.3,647.9 L344.4,648.0 L345.5,647.9 L346.6,647.7 L347.7,647.4 L348.8,647.7 L349.9,647.7 L351.0,648.1 L352.1,648.4 L353.2,648.7 L354.3,648.5 L355.4,648.7 L356.5,648.7 L357.6,648.8 L358.7,649.0 L359.8,649.0 L360.9,649.3 L362.0,649.1 L363.1,649.4 L364.2,649.1 L365.3,648.8 L366.4,648.3 L367.5,648.2 L368.6,647.6 L369.7,647.6 L370.8,647.7 L371.9,647.3 L373.0,647.2 L374.1,647.2 L375.2,647.7 L376.3,647.7 L377.4,648.0 L378.5,648.1 L379.6,648.5 L380.7,648.4 L381.8,648.7 L382.9,649.0 L384.0,649.1 L385.1,649.3 L386.2,649.6 L387.3,649.8 L388.4,650.2 L389.5,650.3 L390.6,650.2 L391.7,650.0 L392.8,649.9 L393.9,649.7 L395.0,649.7 L396.1,649.4 L397.2,649.1 L398.3,648.7 L399.4,648.4 L400.5,648.3 L401.6,648.3" stroke="rgb(52,52,52)" stroke-width="0.85" fill="none" stroke-linejoin="round" opacity="0.85"/>
<path d="M73.8,648.0 L74.9,648.5 L76.0,648.8 L77.1,648.6 L78.2,649.0 L79.3,649.3 L80.4,649.6 L81.5,649.6 L82.6,649.7 L83.7,649.8 L84.8,649.8 L85.9,649.3 L87.0,649.2 L88.1,649.4 L89.2,649.3 L90.3,649.2 L91.4,649.1 L92.5,648.9 L93.6,648.5 L94.7,648.1 L95.8,647.7 L96.9,647.6 L98.0,647.4 L99.1,647.2 L100.2,647.4 L101.3,647.7 L102.4,647.9 L103.5,648.1 L104.6,648.4 L105.7,648.7 L106.8,648.6 L107.9,648.9 L109.0,648.9 L110.1,649.4 L111.2,649.6 L112.3,649.7 L113.4,649.3 L114.5,649.3 L115.6,648.9 L116.7,648.8 L117.8,648.9 L118.9,649.1 L120.0,648.8 L121.1,649.1 L122.2,648.8 L123.3,648.4 L124.4,648.0 L125.5,648.1 L126.6,647.7 L127.7,647.8 L128.8,647.7 L129.9,647.5 L131.0,647.5 L132.1,648.0 L133.2,648.4 L134.3,649.0 L135.4,649.4 L136.5,649.6 L137.6,650.1 L138.7,650.4 L139.8,650.6 L140.9,651.0 L142.0,651.0 L143.1,650.8 L144.2,650.3 L145.3,650.0 L146.4,649.3 L147.5,649.1 L148.6,649.0 L149.7,649.2 L150.8,649.1 L151.9,648.8 L153.0,648.8 L154.1,648.3 L155.2,647.9 L156.3,647.9 L157.4,648.3 L158.5,648.1 L159.6,648.0 L160.7,648.3 L161.8,648.6 L162.9,648.7 L164.0,648.9 L165.1,649.4 L166.2,649.9 L167.3,649.9 L168.4,650.1 L169.5,650.2 L170.6,650.2 L171.7,650.1 L172.8,650.0 L173.9,649.8 L175.0,649.6 L176.1,649.3 L177.2,648.7 L178.3,648.4 L179.4,648.0 L180.5,647.9 L181.6,647.7 L182.7,647.3 L183.8,647.2 L184.9,647.0 L186.0,646.9 L187.1,646.5 L188.2,646.9 L189.3,647.2 L190.4,647.4 L191.5,648.0 L192.6,648.4 L193.7,648.8 L194.8,649.2 L195.9,649.4 L197.0,649.6 L198.1,650.1 L199.2,650.3 L200.3,650.2 L201.4,650.2 L202.5,650.0 L203.6,649.7 L204.7,649.1 L205.8,649.3 L206.9,648.9 L208.0,648.6 L209.1,647.9 L210.2,647.5 L211.3,646.9 L212.4,646.7 L213.5,646.8 L214.6,646.9 L215.7,647.0 L216.8,646.8 L217.9,647.1 L219.0,647.4 L220.1,648.0 L221.2,648.5 L222.3,649.2 L223.4,649.8 L224.5,650.5 L225.6,651.2 L226.7,652.0 L227.8,652.8 L228.9,653.3 L230.0,653.9 L231.1,654.1 L232.2,654.4 L233.3,654.1 L234.4,653.6 L235.5,653.5 L236.6,653.7 L237.7,653.9 L238.8,654.1 L239.9,654.2 L241.0,654.3 L242.1,654.3 L243.2,654.5 L244.3,654.5 L245.4,654.4 L246.5,653.7 L247.6,652.8 L248.7,652.0 L249.8,651.4 L250.9,650.5 L252.0,649.8 L253.1,649.2 L254.2,648.6 L255.3,648.0 L256.4,647.4 L257.5,647.3 L258.6,647.0 L259.7,646.7 L260.8,646.7 L261.9,646.6 L263.0,646.3 L264.1,646.7 L265.2,647.3 L266.3,647.6 L267.4,648.4 L268.5,649.1 L269.6,649.3 L270.7,649.4 L271.8,649.5 L272.9,649.7 L274.0,649.6 L275.1,649.9 L276.2,650.1 L277.3,649.9 L278.4,649.6 L279.5,649.1 L280.6,648.5 L281.7,648.1 L282.8,648.0 L283.9,647.9 L285.0,647.1 L286.1,647.3 L287.2,647.3 L288.3,647.1 L289.4,646.8 L290.5,647.3 L291.6,647.4 L292.7,647.6 L293.8,648.0 L294.9,648.3 L296.0,648.6 L297.1,648.9 L298.2,649.2 L299.3,649.4 L300.4,649.5 L301.5,649.7 L302.6,649.8 L303.7,649.7 L304.8,649.5 L305.9,649.9 L307.0,649.2 L308.1,649.1 L309.2,648.8 L310.3,648.8 L311.4,648.5 L312.5,648.5 L313.6,648.2 L314.7,648.4 L315.8,648.1 L316.9,647.7 L318.0,647.8 L319.1,648.0 L320.2,648.1 L321.3,648.3 L322.4,648.7 L323.5,648.9 L324.6,649.1 L325.7,649.2 L326.8,649.3 L327.9,649.6 L329.0,649.4 L330.1,649.6 L331.2,649.9 L332.3,649.9 L333.4,649.8 L334.5,649.6 L335.6,649.4 L336.7,649.0 L337.8,649.0 L338.9,648.9 L340.0,648.9 L341.1,648.5 L342.2,648.2 L343.3,647.6 L344.4,647.0 L345.5,646.8 L346.6,646.8 L347.7,647.1 L348.8,647.3 L349.9,648.3 L351.0,648.6 L352.1,648.5 L353.2,648.5 L354.3,648.4 L355.4,648.3 L356.5,648.6 L357.6,649.2 L358.7,649.4 L359.8,649.7 L360.9,649.7 L362.0,649.8 L363.1,650.1 L364.2,650.0 L365.3,649.9 L366.4,649.9 L367.5,649.4 L368.6,648.7 L369.7,648.5 L370.8,648.4 L371.9,648.0 L373.0,647.9 L374.1,647.9 L375.2,648.0 L376.3,647.9 L377.4,647.7 L378.5,647.6 L379.6,647.6 L380.7,647.7 L381.8,648.1 L382.9,648.3 L384.0,648.5 L385.1,649.4 L386.2,649.2 L387.3,649.4 L388.4,649.9 L389.5,650.0 L390.6,649.7 L391.7,649.5 L392.8,649.3 L393.9,649.0 L395.0,648.9 L396.1,648.6 L397.2,648.2 L398.3,648.2 L399.4,648.2 L400.5,647.9 L401.6,647.9" stroke="rgb(68,68,68)" stroke-width="0.85" fill="none" stroke-linejoin="round" opacity="0.85"/>
<path d="M73.8,648.0 L74.9,648.2 L76.0,648.4 L77.1,648.7 L78.2,649.2 L79.3,649.3 L80.4,649.7 L81.5,649.7 L82.6,649.9 L83.7,649.8 L84.8,649.7 L85.9,649.5 L87.0,649.2 L88.1,649.0 L89.2,649.2 L90.3,649.0 L91.4,648.3 L92.5,647.9 L93.6,648.0 L94.7,647.8 L95.8,647.6 L96.9,647.6 L98.0,647.8 L99.1,648.0 L100.2,648.3 L101.3,648.6 L102.4,648.5 L103.5,648.6 L104.6,648.6 L105.7,648.7 L106.8,649.3 L107.9,649.8 L109.0,649.8 L110.1,649.6 L111.2,649.5 L112.3,649.5 L113.4,649.6 L114.5,649.4 L115.6,649.3 L116.7,649.0 L117.8,648.8 L118.9,648.2 L120.0,647.7 L121.1,647.7 L122.2,647.3 L123.3,647.3 L124.4,647.3 L125.5,647.5 L126.6,647.3 L127.7,647.2 L128.8,647.6 L129.9,647.7 L131.0,647.9 L132.1,647.8 L133.2,648.2 L134.3,648.2 L135.4,648.6 L136.5,648.7 L137.6,649.1 L138.7,649.1 L139.8,649.1 L140.9,648.9 L142.0,648.6 L143.1,648.6 L144.2,648.5 L145.3,648.4 L146.4,648.3 L147.5,648.4 L148.6,648.2 L149.7,647.6 L150.8,647.5 L151.9,647.2 L153.0,647.2 L154.1,647.0 L155.2,647.3 L156.3,647.5 L157.4,647.7 L158.5,647.9 L159.6,648.0 L160.7,648.2 L161.8,648.3 L162.9,649.0 L164.0,649.1 L165.1,649.2 L166.2,649.3 L167.3,649.2 L168.4,649.1 L169.5,649.1 L170.6,648.9 L171.7,648.7 L172.8,648.6 L173.9,648.3 L175.0,647.7 L176.1,647.7 L177.2,647.2 L178.3,646.9 L179.4,646.8 L180.5,646.9 L181.6,646.8 L182.7,646.8 L183.8,646.9 L184.9,647.5 L186.0,647.4 L187.1,647.6 L188.2,647.8 L189.3,648.0 L190.4,648.1 L191.5,648.3 L192.6,648.8 L193.7,649.2 L194.8,649.3 L195.9,649.4 L197.0,649.4 L198.1,649.7 L199.2,649.6 L200.3,649.4 L201.4,649.4 L202.5,648.9 L203.6,648.5 L204.7,648.4 L205.8,647.8 L206.9,647.3 L208.0,647.2 L209.1,646.7 L210.2,646.2 L211.3,646.2 L212.4,646.5 L213.5,646.8 L214.6,646.9 L215.7,647.4 L216.8,647.8 L217.9,648.5 L219.0,649.1 L220.1,649.8 L221.2,650.5 L222.3,651.0 L223.4,651.4 L224.5,651.8 L225.6,652.2 L226.7,652.4 L227.8,652.7 L228.9,652.9 L230.0,653.1 L231.1,653.3 L232.2,653.5 L233.3,653.3 L234.4,653.5 L235.5,653.3 L236.6,653.1 L237.7,653.1 L238.8,653.3 L239.9,653.2 L241.0,653.3 L242.1,653.3 L243.2,653.4 L244.3,653.4 L245.4,653.4 L246.5,653.1 L247.6,653.2 L248.7,652.8 L249.8,652.3 L250.9,651.6 L252.0,651.0 L253.1,650.1 L254.2,649.5 L255.3,648.8 L256.4,648.5 L257.5,648.1 L258.6,647.3 L259.7,647.1 L260.8,646.5 L261.9,646.2 L263.0,646.1 L264.1,646.2 L265.2,646.0 L266.3,646.7 L267.4,647.4 L268.5,647.7 L269.6,648.2 L270.7,648.8 L271.8,649.2 L272.9,649.7 L274.0,650.2 L275.1,650.3 L276.2,650.8 L277.3,650.7 L278.4,650.2 L279.5,650.0 L280.6,649.8 L281.7,649.3 L282.8,649.1 L283.9,648.9 L285.0,648.6 L286.1,648.4 L287.2,647.9 L288.3,647.4 L289.4,647.2 L290.5,647.3 L291.6,646.9 L292.7,646.7 L293.8,647.1 L294.9,647.2 L296.0,647.3 L297.1,647.6 L298.2,648.1 L299.3,648.4 L300.4,648.6 L301.5,648.7 L302.6,649.1 L303.7,649.2 L304.8,649.5 L305.9,649.9 L307.0,650.0 L308.1,649.9 L309.2,649.7 L310.3,649.6 L311.4,649.1 L312.5,649.0 L313.6,649.1 L314.7,648.7 L315.8,648.0 L316.9,647.7 L318.0,647.6 L319.1,647.4 L320.2,647.4 L321.3,647.6 L322.4,647.5 L323.5,647.3 L324.6,647.6 L325.7,648.2 L326.8,648.6 L327.9,648.7 L329.0,648.7 L330.1,648.8 L331.2,648.9 L332.3,649.1 L333.4,649.2 L334.5,649.3 L335.6,649.5 L336.7,649.6 L337.8,649.4 L338.9,649.1 L340.0,648.5 L341.1,648.6 L342.2,648.1 L343.3,647.9 L344.4,647.7 L345.5,647.5 L346.6,647.3 L347.7,647.3 L348.8,647.2 L349.9,647.2 L351.0,646.9 L352.1,646.9 L353.2,647.0 L354.3,647.0 L355.4,647.0 L356.5,647.4 L357.6,647.8 L358.7,648.2 L359.8,648.5 L360.9,648.9 L362.0,649.2 L363.1,649.0 L364.2,648.9 L365.3,648.8 L366.4,648.9 L367.5,648.6 L368.6,648.5 L369.7,648.4 L370.8,648.5 L371.9,648.4 L373.0,647.9 L374.1,647.9 L375.2,647.9 L376.3,648.1 L377.4,648.0 L378.5,648.0 L379.6,648.2 L380.7,648.3 L381.8,648.1 L382.9,648.4 L384.0,648.1 L385.1,648.3 L386.2,648.8 L387.3,649.0 L388.4,649.4 L389.5,649.9 L390.6,649.9 L391.7,649.8 L392.8,649.1 L393.9,648.9 L395.0,648.9 L396.1,648.8 L397.2,648.5 L398.3,648.7 L399.4,648.6 L400.5,648.4 L401.6,647.9" stroke="rgb(83,83,83)" stroke-width="0.85" fill="none" stroke-linejoin="round" opacity="0.85"/>
<path d="M73.8,647.2 L74.9,647.6 L76.0,648.0 L77.1,648.2 L78.2,648.7 L79.3,649.0 L80.4,649.3 L81.5,649.4 L82.6,649.5 L83.7,649.3 L84.8,649.1 L85.9,648.8 L87.0,648.7 L88.1,648.6 L89.2,648.4 L90.3,648.2 L91.4,648.0 L92.5,647.9 L93.6,647.7 L94.7,647.5 L95.8,647.4 L96.9,647.6 L98.0,647.4 L99.1,647.5 L100.2,647.5 L101.3,647.4 L102.4,647.3 L103.5,647.7 L104.6,647.9 L105.7,648.3 L106.8,648.8 L107.9,648.7 L109.0,648.8 L110.1,648.9 L111.2,649.0 L112.3,648.9 L113.4,648.9 L114.5,648.7 L115.6,648.6 L116.7,648.3 L117.8,647.8 L118.9,647.4 L120.0,647.2 L121.1,646.8 L122.2,646.9 L123.3,646.9 L124.4,647.1 L125.5,646.8 L126.6,646.8 L127.7,646.8 L128.8,646.7 L129.9,646.7 L131.0,647.1 L132.1,647.3 L133.2,647.5 L134.3,648.1 L135.4,648.6 L136.5,649.1 L137.6,649.5 L138.7,649.3 L139.8,649.3 L140.9,649.3 L142.0,649.4 L143.1,648.8 L144.2,649.2 L145.3,648.7 L146.4,648.4 L147.5,647.9 L148.6,647.9 L149.7,647.7 L150.8,647.7 L151.9,647.6 L153.0,647.6 L154.1,647.7 L155.2,648.1 L156.3,648.3 L157.4,648.3 L158.5,648.2 L159.6,648.1 L160.7,648.1 L161.8,648.6 L162.9,648.9 L164.0,649.0 L165.1,649.4 L166.2,649.6 L167.3,649.5 L168.4,649.6 L169.5,649.7 L170.6,649.7 L171.7,649.8 L172.8,649.4 L173.9,649.2 L175.0,648.7 L176.1,648.4 L177.2,647.8 L178.3,647.4 L179.4,647.2 L180.5,647.1 L181.6,646.4 L182.7,646.4 L183.8,646.3 L184.9,646.7 L186.0,646.8 L187.1,647.1 L188.2,647.5 L189.3,647.7 L190.4,647.8 L191.5,648.0 L192.6,648.3 L193.7,648.4 L194.8,648.9 L195.9,648.9 L197.0,649.2 L198.1,649.7 L199.2,649.9 L200.3,649.9 L201.4,649.7 L202.5,649.4 L203.6,648.8 L204.7,648.1 L205.8,647.3 L206.9,647.1 L208.0,646.5 L209.1,646.2 L210.2,646.1 L211.3,646.0 L212.4,646.0 L213.5,646.0 L214.6,646.2 L215.7,646.4 L216.8,646.7 L217.9,647.1 L219.0,648.0 L220.1,648.3 L221.2,648.8 L222.3,649.3 L223.4,649.6 L224.5,649.8 L225.6,650.6 L226.7,651.4 L227.8,652.0 L228.9,652.3 L230.0,652.6 L231.1,653.0 L232.2,653.1 L233.3,653.0 L234.4,653.0 L235.5,652.9 L236.6,653.0 L237.7,653.1 L238.8,653.3 L239.9,653.6 L241.0,653.9 L242.1,653.6 L243.2,653.3 L244.3,653.1 L245.4,653.0 L246.5,652.6 L247.6,652.3 L248.7,652.0 L249.8,651.4 L250.9,650.4 L252.0,649.7 L253.1,649.2 L254.2,648.6 L255.3,648.2 L256.4,647.9 L257.5,647.4 L258.6,646.9 L259.7,646.1 L260.8,645.7 L261.9,645.6 L263.0,645.6 L264.1,645.7 L265.2,646.3 L266.3,646.7 L267.4,647.0 L268.5,647.6 L269.6,648.1 L270.7,648.4 L271.8,648.9 L272.9,649.3 L274.0,649.4 L275.1,649.3 L276.2,649.4 L277.3,649.3 L278.4,649.4 L279.5,649.2 L280.6,649.1 L281.7,648.7 L282.8,648.4 L283.9,648.3 L285.0,647.6 L286.1,647.2 L287.2,646.7 L288.3,646.4 L289.4,645.9 L290.5,646.0 L291.6,646.6 L292.7,646.7 L293.8,647.2 L294.9,647.7 L296.0,648.2 L297.1,648.6 L298.2,649.0 L299.3,649.1 L300.4,649.3 L301.5,649.4 L302.6,649.3 L303.7,649.1 L304.8,649.1 L305.9,649.3 L307.0,649.3 L308.1,649.4 L309.2,649.5 L310.3,649.2 L311.4,649.1 L312.5,648.8 L313.6,648.2 L314.7,647.4 L315.8,647.1 L316.9,646.9 L318.0,646.8 L319.1,646.8 L320.2,647.2 L321.3,647.0 L322.4,646.9 L323.5,646.8 L324.6,647.2 L325.7,647.4 L326.8,647.9 L327.9,648.4 L329.0,648.7 L330.1,649.1 L331.2,649.2 L332.3,649.2 L333.4,649.2 L334.5,649.2 L335.6,648.9 L336.7,648.8 L337.8,648.6 L338.9,648.2 L340.0,648.0 L341.1,648.3 L342.2,647.9 L343.3,647.5 L344.4,647.7 L345.5,647.2 L346.6,647.0 L347.7,647.0 L348.8,647.5 L349.9,647.3 L351.0,647.4 L352.1,647.5 L353.2,647.8 L354.3,647.9 L355.4,648.1 L356.5,648.5 L357.6,649.0 L358.7,649.0 L359.8,649.0 L360.9,649.0 L362.0,648.6 L363.1,648.6 L364.2,648.4 L365.3,648.7 L366.4,648.8 L367.5,648.9 L368.6,648.8 L369.7,648.7 L370.8,648.2 L371.9,647.8 L373.0,647.3 L374.1,647.2 L375.2,646.9 L376.3,647.0 L377.4,647.3 L378.5,647.4 L379.6,647.3 L380.7,647.3 L381.8,647.4 L382.9,647.8 L384.0,647.7 L385.1,648.4 L386.2,648.8 L387.3,648.8 L388.4,648.6 L389.5,648.8 L390.6,648.7 L391.7,648.7 L392.8,648.6 L393.9,648.4 L395.0,648.3 L396.1,647.9 L397.2,647.7 L398.3,647.5 L399.4,647.8 L400.5,647.5 L401.6,647.3" stroke="rgb(98,98,98)" stroke-width="0.85" fill="none" stroke-linejoin="round" opacity="0.85"/>
<path d="M73.8,647.2 L74.9,647.7 L76.0,648.1 L77.1,648.3 L78.2,648.7 L79.3,648.8 L80.4,649.0 L81.5,649.3 L82.6,649.6 L83.7,649.7 L84.8,649.6 L85.9,649.4 L87.0,649.3 L88.1,648.9 L89.2,648.4 L90.3,648.1 L91.4,648.1 L92.5,647.7 L93.6,647.5 L94.7,647.6 L95.8,647.5 L96.9,647.3 L98.0,647.2 L99.1,647.1 L100.2,647.1 L101.3,646.7 L102.4,646.6 L103.5,646.5 L104.6,646.6 L105.7,647.2 L106.8,647.7 L107.9,648.2 L109.0,648.6 L110.1,648.8 L111.2,648.5 L112.3,648.9 L113.4,648.9 L114.5,649.0 L115.6,649.1 L116.7,649.4 L117.8,648.8 L118.9,648.5 L120.0,648.3 L121.1,648.2 L122.2,647.8 L123.3,647.4 L124.4,647.2 L125.5,646.9 L126.6,646.5 L127.7,646.4 L128.8,646.4 L129.9,646.6 L131.0,646.6 L132.1,647.1 L133.2,647.4 L134.3,647.5 L135.4,647.5 L136.5,647.7 L137.6,647.8 L138.7,648.1 L139.8,648.4 L140.9,648.9 L142.0,649.1 L143.1,648.8 L144.2,649.0 L145.3,649.0 L146.4,648.8 L147.5,648.7 L148.6,648.5 L149.7,648.2 L150.8,647.5 L151.9,647.2 L153.0,647.0 L154.1,646.8 L155.2,646.4 L156.3,646.6 L157.4,646.7 L158.5,646.5 L159.6,646.5 L160.7,646.8 L161.8,646.9 L162.9,647.1 L164.0,647.4 L165.1,647.7 L166.2,648.3 L167.3,648.2 L168.4,648.3 L169.5,648.6 L170.6,648.8 L171.7,648.8 L172.8,648.6 L173.9,648.5 L175.0,648.2 L176.1,648.0 L177.2,647.9 L178.3,647.6 L179.4,647.6 L180.5,647.4 L181.6,647.4 L182.7,647.0 L183.8,646.6 L184.9,646.8 L186.0,646.7 L187.1,646.3 L188.2,646.6 L189.3,647.0 L190.4,647.0 L191.5,647.5 L192.6,648.1 L193.7,648.5 L194.8,648.6 L195.9,649.1 L197.0,649.3 L198.1,649.6 L199.2,649.5 L200.3,649.5 L201.4,649.6 L202.5,649.4 L203.6,649.2 L204.7,648.8 L205.8,648.3 L206.9,647.6 L208.0,647.4 L209.1,646.8 L210.2,646.8 L211.3,646.2 L212.4,646.4 L213.5,646.1 L214.6,646.0 L215.7,646.1 L216.8,646.6 L217.9,646.9 L219.0,647.5 L220.1,648.2 L221.2,648.6 L222.3,649.4 L223.4,650.1 L224.5,650.9 L225.6,651.7 L226.7,652.4 L227.8,652.9 L228.9,653.4 L230.0,653.9 L231.1,654.2 L232.2,654.1 L233.3,654.1 L234.4,654.1 L235.5,653.9 L236.6,653.7 L237.7,654.0 L238.8,654.0 L239.9,654.0 L241.0,653.9 L242.1,653.5 L243.2,653.3 L244.3,652.9 L245.4,652.7 L246.5,652.3 L247.6,652.2 L248.7,651.8 L249.8,651.2 L250.9,650.6 L252.0,650.2 L253.1,649.4 L254.2,648.5 L255.3,647.7 L256.4,647.1 L257.5,646.5 L258.6,646.0 L259.7,645.7 L260.8,645.7 L261.9,645.8 L263.0,645.9 L264.1,646.1 L265.2,646.4 L266.3,647.4 L267.4,647.9 L268.5,648.2 L269.6,648.5 L270.7,648.6 L271.8,648.5 L272.9,648.8 L274.0,649.1 L275.1,649.2 L276.2,649.4 L277.3,649.1 L278.4,648.8 L279.5,648.2 L280.6,647.9 L281.7,647.8 L282.8,647.3 L283.9,646.9 L285.0,646.9 L286.1,647.0 L287.2,646.5 L288.3,646.2 L289.4,646.2 L290.5,646.1 L291.6,646.1 L292.7,646.5 L293.8,646.9 L294.9,647.1 L296.0,647.7 L297.1,647.7 L298.2,648.0 L299.3,648.6 L300.4,649.2 L301.5,649.2 L302.6,649.4 L303.7,649.3 L304.8,648.9 L305.9,648.4 L307.0,648.3 L308.1,648.0 L309.2,647.8 L310.3,647.7 L311.4,647.6 L312.5,647.2 L313.6,646.9 L314.7,646.7 L315.8,646.5 L316.9,646.2 L318.0,646.4 L319.1,646.8 L320.2,646.7 L321.3,647.0 L322.4,647.1 L323.5,647.2 L324.6,647.4 L325.7,647.9 L326.8,648.1 L327.9,648.5 L329.0,648.4 L330.1,648.4 L331.2,648.5 L332.3,648.6 L333.4,648.7 L334.5,648.6 L335.6,648.6 L336.7,648.1 L337.8,648.0 L338.9,647.9 L340.0,647.6 L341.1,647.5 L342.2,647.4 L343.3,647.4 L344.4,647.2 L345.5,647.1 L346.6,646.7 L347.7,646.8 L348.8,646.7 L349.9,646.8 L351.0,647.2 L352.1,647.4 L353.2,647.7 L354.3,648.3 L355.4,648.9 L356.5,648.8 L357.6,648.8 L358.7,649.1 L359.8,649.0 L360.9,648.9 L362.0,648.8 L363.1,648.9 L364.2,648.5 L365.3,648.2 L366.4,648.1 L367.5,647.8 L368.6,647.3 L369.7,647.0 L370.8,647.1 L371.9,646.8 L373.0,647.0 L374.1,647.1 L375.2,647.1 L376.3,647.0 L377.4,646.5 L378.5,646.6 L379.6,646.6 L380.7,646.8 L381.8,647.1 L382.9,647.8 L384.0,648.2 L385.1,648.5 L386.2,648.8 L387.3,648.8 L388.4,648.9 L389.5,648.5 L390.6,648.4 L391.7,648.1 L392.8,647.9 L393.9,647.6 L395.0,647.7 L396.1,647.4 L397.2,647.6 L398.3,647.3 L399.4,647.3 L400.5,647.2 L401.6,646.9" stroke="rgb(114,114,114)" stroke-width="0.85" fill="none" stroke-linejoin="round" opacity="0.85"/>
<path d="M73.8,647.3 L74.9,647.4 L76.0,647.8 L77.1,647.8 L78.2,647.8 L79.3,648.3 L80.4,648.4 L81.5,648.4 L82.6,648.8 L83.7,648.6 L84.8,648.5 L85.9,648.4 L87.0,648.1 L88.1,647.9 L89.2,647.7 L90.3,647.2 L91.4,646.8 L92.5,646.6 L93.6,646.3 L94.7,646.0 L95.8,646.4 L96.9,646.6 L98.0,646.3 L99.1,646.5 L100.2,646.7 L101.3,647.0 L102.4,647.1 L103.5,647.1 L104.6,647.4 L105.7,647.8 L106.8,648.1 L107.9,648.4 L109.0,648.6 L110.1,648.9 L111.2,648.8 L112.3,648.7 L113.4,648.8 L114.5,648.7 L115.6,648.2 L116.7,648.0 L117.8,647.4 L118.9,647.2 L120.0,647.0 L121.1,646.9 L122.2,646.7 L123.3,646.9 L124.4,646.8 L125.5,646.9 L126.6,646.9 L127.7,646.9 L128.8,647.0 L129.9,647.1 L131.0,647.1 L132.1,647.4 L133.2,647.7 L134.3,648.0 L135.4,648.0 L136.5,648.5 L137.6,648.3 L138.7,648.5 L139.8,648.5 L140.9,648.6 L142.0,648.6 L143.1,648.7 L144.2,648.6 L145.3,648.1 L146.4,647.7 L147.5,647.0 L148.6,646.6 L149.7,646.6 L150.8,647.0 L151.9,647.1 L153.0,647.2 L154.1,647.0 L155.2,647.0 L156.3,647.2 L157.4,647.4 L158.5,647.3 L159.6,647.5 L160.7,647.6 L161.8,647.5 L162.9,647.8 L164.0,648.0 L165.1,648.2 L166.2,648.3 L167.3,648.4 L168.4,648.3 L169.5,648.3 L170.6,648.6 L171.7,648.7 L172.8,648.5 L173.9,648.5 L175.0,648.5 L176.1,648.2 L177.2,647.6 L178.3,647.0 L179.4,646.8 L180.5,646.4 L181.6,646.1 L182.7,646.0 L183.8,645.7 L184.9,645.8 L186.0,646.2 L187.1,646.9 L188.2,647.3 L189.3,648.1 L190.4,648.3 L191.5,648.5 L192.6,648.4 L193.7,648.8 L194.8,648.8 L195.9,648.7 L197.0,649.1 L198.1,649.5 L199.2,649.3 L200.3,649.3 L201.4,649.4 L202.5,648.8 L203.6,648.0 L204.7,647.4 L205.8,646.8 L206.9,645.9 L208.0,645.6 L209.1,645.4 L210.2,645.2 L211.3,644.9 L212.4,644.8 L213.5,645.1 L214.6,645.5 L215.7,646.2 L216.8,646.5 L217.9,647.2 L219.0,647.9 L220.1,648.4 L221.2,648.6 L222.3,649.4 L223.4,650.2 L224.5,650.9 L225.6,651.0 L226.7,651.9 L227.8,652.0 L228.9,652.2 L230.0,652.4 L231.1,652.6 L232.2,652.5 L233.3,652.7 L234.4,652.6 L235.5,652.6 L236.6,652.7 L237.7,652.9 L238.8,652.9 L239.9,653.2 L241.0,653.0 L242.1,652.9 L243.2,653.0 L244.3,652.8 L245.4,652.4 L246.5,652.4 L247.6,652.1 L248.7,651.6 L249.8,650.9 L250.9,650.5 L252.0,649.7 L253.1,649.0 L254.2,648.2 L255.3,647.5 L256.4,647.1 L257.5,646.8 L258.6,646.5 L259.7,646.2 L260.8,645.8 L261.9,646.0 L263.0,645.7 L264.1,645.6 L265.2,645.8 L266.3,646.0 L267.4,646.5 L268.5,647.0 L269.6,647.5 L270.7,648.2 L271.8,648.7 L272.9,649.1 L274.0,649.1 L275.1,649.4 L276.2,649.6 L277.3,650.0 L278.4,649.9 L279.5,649.8 L280.6,649.8 L281.7,649.6 L282.8,648.9 L283.9,648.6 L285.0,648.4 L286.1,647.9 L287.2,647.6 L288.3,647.2 L289.4,646.9 L290.5,646.5 L291.6,646.2 L292.7,646.0 L293.8,646.1 L294.9,646.3 L296.0,646.4 L297.1,646.7 L298.2,646.9 L299.3,647.3 L300.4,647.5 L301.5,647.9 L302.6,648.3 L303.7,648.1 L304.8,648.3 L305.9,648.3 L307.0,648.6 L308.1,648.5 L309.2,648.7 L310.3,648.4 L311.4,648.2 L312.5,647.7 L313.6,647.2 L314.7,646.8 L315.8,646.7 L316.9,646.7 L318.0,646.4 L319.1,646.1 L320.2,646.2 L321.3,646.3 L322.4,646.5 L323.5,646.8 L324.6,647.3 L325.7,647.5 L326.8,647.8 L327.9,648.1 L329.0,648.2 L330.1,648.3 L331.2,648.4 L332.3,648.5 L333.4,648.5 L334.5,648.7 L335.6,649.0 L336.7,649.0 L337.8,648.9 L338.9,648.4 L340.0,648.0 L341.1,647.3 L342.2,647.0 L343.3,647.0 L344.4,647.0 L345.5,647.0 L346.6,647.1 L347.7,647.0 L348.8,646.7 L349.9,646.7 L351.0,646.8 L352.1,647.1 L353.2,647.2 L354.3,647.4 L355.4,648.0 L356.5,648.0 L357.6,648.1 L358.7,648.2 L359.8,648.7 L360.9,648.6 L362.0,648.9 L363.1,648.8 L364.2,648.7 L365.3,648.8 L366.4,648.8 L367.5,648.7 L368.6,648.6 L369.7,648.0 L370.8,647.6 L371.9,647.4 L373.0,647.3 L374.1,647.1 L375.2,647.2 L376.3,646.9 L377.4,646.8 L378.5,646.9 L379.6,646.7 L380.7,646.7 L381.8,647.2 L382.9,647.2 L384.0,647.3 L385.1,647.5 L386.2,647.8 L387.3,648.0 L388.4,648.1 L389.5,648.5 L390.6,648.7 L391.7,648.8 L392.8,648.3 L393.9,648.5 L395.0,648.7 L396.1,648.2 L397.2,648.1 L398.3,648.3 L399.4,647.7 L400.5,647.2 L401.6,647.0" stroke="rgb(129,129,129)" stroke-width="0.85" fill="none" stroke-linejoin="round" opacity="0.85"/>
<path d="M73.8,646.9 L74.9,647.0 L76.0,647.2 L77.1,647.2 L78.2,647.0 L79.3,647.0 L80.4,647.2 L81.5,647.2 L82.6,647.3 L83.7,647.6 L84.8,647.6 L85.9,647.5 L87.0,647.2 L88.1,646.8 L89.2,646.6 L90.3,646.3 L91.4,646.1 L92.5,646.2 L93.6,646.3 L94.7,646.0 L95.8,646.1 L96.9,645.7 L98.0,645.3 L99.1,645.2 L100.2,645.5 L101.3,645.7 L102.4,646.5 L103.5,647.1 L104.6,647.4 L105.7,647.7 L106.8,647.9 L107.9,648.0 L109.0,648.4 L110.1,648.3 L111.2,648.1 L112.3,648.1 L113.4,648.3 L114.5,648.2 L115.6,648.1 L116.7,647.8 L117.8,647.6 L118.9,647.3 L120.0,646.9 L121.1,646.9 L122.2,646.9 L123.3,646.5 L124.4,646.4 L125.5,646.3 L126.6,646.2 L127.7,646.1 L128.8,646.7 L129.9,646.8 L131.0,647.1 L132.1,647.6 L133.2,647.6 L134.3,647.5 L135.4,647.7 L136.5,648.0 L137.6,648.1 L138.7,648.4 L139.8,648.4 L140.9,648.8 L142.0,648.8 L143.1,648.6 L144.2,648.3 L145.3,648.1 L146.4,647.6 L147.5,647.2 L148.6,647.1 L149.7,646.9 L150.8,646.3 L151.9,646.3 L153.0,646.3 L154.1,646.2 L155.2,646.4 L156.3,646.4 L157.4,646.8 L158.5,647.0 L159.6,647.2 L160.7,647.4 L161.8,647.6 L162.9,647.7 L164.0,648.0 L165.1,648.3 L166.2,648.5 L167.3,648.8 L168.4,648.8 L169.5,648.7 L170.6,648.4 L171.7,648.5 L172.8,648.0 L173.9,647.9 L175.0,647.8 L176.1,647.5 L177.2,647.5 L178.3,647.3 L179.4,646.9 L180.5,646.5 L181.6,646.3 L182.7,646.2 L183.8,646.1 L184.9,646.2 L186.0,646.5 L187.1,646.8 L188.2,647.3 L189.3,647.7 L190.4,647.8 L191.5,648.3 L192.6,648.6 L193.7,648.3 L194.8,648.2 L195.9,648.5 L197.0,648.2 L198.1,648.5 L199.2,648.6 L200.3,648.7 L201.4,648.7 L202.5,648.7 L203.6,648.0 L204.7,647.5 L205.8,647.0 L206.9,646.5 L208.0,646.0 L209.1,645.6 L210.2,645.1 L211.3,644.9 L212.4,644.5 L213.5,644.6 L214.6,645.0 L215.7,645.6 L216.8,646.1 L217.9,647.0 L219.0,647.5 L220.1,648.0 L221.2,648.4 L222.3,649.3 L223.4,649.3 L224.5,650.0 L225.6,650.5 L226.7,651.0 L227.8,651.4 L228.9,652.0 L230.0,652.1 L231.1,652.2 L232.2,652.3 L233.3,652.3 L234.4,651.6 L235.5,651.6 L236.6,651.7 L237.7,651.5 L238.8,651.8 L239.9,652.3 L241.0,652.5 L242.1,652.6 L243.2,652.7 L244.3,652.8 L245.4,652.6 L246.5,652.3 L247.6,652.1 L248.7,651.9 L249.8,651.3 L250.9,650.9 L252.0,650.4 L253.1,649.9 L254.2,649.1 L255.3,648.5 L256.4,648.0 L257.5,647.4 L258.6,646.7 L259.7,646.3 L260.8,645.8 L261.9,645.6 L263.0,645.5 L264.1,645.6 L265.2,645.7 L266.3,645.7 L267.4,645.7 L268.5,646.2 L269.6,647.0 L270.7,647.4 L271.8,648.1 L272.9,648.6 L274.0,648.7 L275.1,648.9 L276.2,648.8 L277.3,648.9 L278.4,648.7 L279.5,648.8 L280.6,648.3 L281.7,648.2 L282.8,647.7 L283.9,647.3 L285.0,646.8 L286.1,646.9 L287.2,646.6 L288.3,646.4 L289.4,646.5 L290.5,646.3 L291.6,646.1 L292.7,645.9 L293.8,646.0 L294.9,645.7 L296.0,645.7 L297.1,646.2 L298.2,646.6 L299.3,647.0 L300.4,647.3 L301.5,647.6 L302.6,647.9 L303.7,648.0 L304.8,648.0 L305.9,648.0 L307.0,647.9 L308.1,647.6 L309.2,647.2 L310.3,646.9 L311.4,646.7 L312.5,646.5 L313.6,646.3 L314.7,646.2 L315.8,646.0 L316.9,646.1 L318.0,645.9 L319.1,645.8 L320.2,645.8 L321.3,645.8 L322.4,645.8 L323.5,646.0 L324.6,646.2 L325.7,646.4 L326.8,647.0 L327.9,647.4 L329.0,647.5 L330.1,647.8 L331.2,648.0 L332.3,648.1 L333.4,648.0 L334.5,648.1 L335.6,648.1 L336.7,648.0 L337.8,648.0 L338.9,648.2 L340.0,648.3 L341.1,648.0 L342.2,647.7 L343.3,647.6 L344.4,647.6 L345.5,647.6 L346.6,647.7 L347.7,647.3 L348.8,646.9 L349.9,647.0 L351.0,646.3 L352.1,646.3 L353.2,646.5 L354.3,646.6 L355.4,646.8 L356.5,647.0 L357.6,647.3 L358.7,647.7 L359.8,647.8 L360.9,647.8 L362.0,648.1 L363.1,648.2 L364.2,648.4 L365.3,648.4 L366.4,648.3 L367.5,648.2 L368.6,648.1 L369.7,647.8 L370.8,647.8 L371.9,647.9 L373.0,647.9 L374.1,647.9 L375.2,647.8 L376.3,647.3 L377.4,647.0 L378.5,647.2 L379.6,647.0 L380.7,646.9 L381.8,647.2 L382.9,647.4 L384.0,647.6 L385.1,647.8 L386.2,648.0 L387.3,648.1 L388.4,648.0 L389.5,647.9 L390.6,648.0 L391.7,647.9 L392.8,647.9 L393.9,647.8 L395.0,647.4 L396.1,647.9 L397.2,648.0 L398.3,647.9 L399.4,647.4 L400.5,647.3 L401.6,647.4" stroke="rgb(144,144,144)" stroke-width="0.85" fill="none" stroke-linejoin="round" opacity="0.85"/>
<path d="M73.8,646.0 L74.9,646.0 L76.0,646.3 L77.1,646.7 L78.2,646.8 L79.3,647.4 L80.4,647.9 L81.5,648.0 L82.6,648.2 L83.7,648.2 L84.8,648.1 L85.9,648.1 L87.0,648.0 L88.1,648.1 L89.2,648.0 L90.3,647.5 L91.4,647.1 L92.5,646.7 L93.6,646.5 L94.7,646.3 L95.8,646.3 L96.9,646.3 L98.0,646.0 L99.1,645.6 L100.2,645.7 L101.3,645.7 L102.4,645.9 L103.5,646.6 L104.6,646.9 L105.7,646.9 L106.8,646.8 L107.9,646.8 L109.0,647.0 L110.1,647.4 L111.2,647.6 L112.3,648.0 L113.4,648.2 L114.5,647.9 L115.6,647.8 L116.7,647.9 L117.8,647.7 L118.9,647.6 L120.0,647.5 L121.1,647.1 L122.2,646.9 L123.3,646.9 L124.4,646.6 L125.5,646.6 L126.6,646.9 L127.7,646.8 L128.8,646.8 L129.9,647.0 L131.0,647.3 L132.1,647.3 L133.2,647.0 L134.3,647.2 L135.4,647.1 L136.5,647.6 L137.6,648.1 L138.7,648.3 L139.8,648.3 L140.9,648.5 L142.0,648.5 L143.1,648.5 L144.2,648.3 L145.3,648.4 L146.4,648.3 L147.5,647.9 L148.6,647.6 L149.7,647.4 L150.8,647.0 L151.9,646.1 L153.0,645.8 L154.1,645.6 L155.2,645.6 L156.3,645.6 L157.4,645.8 L158.5,645.7 L159.6,645.8 L160.7,646.1 L161.8,646.3 L162.9,646.7 L164.0,647.1 L165.1,647.4 L166.2,647.7 L167.3,648.0 L168.4,648.3 L169.5,648.5 L170.6,648.6 L171.7,648.9 L172.8,649.2 L173.9,648.6 L175.0,648.3 L176.1,648.3 L177.2,647.7 L178.3,647.3 L179.4,647.4 L180.5,647.0 L181.6,646.5 L182.7,646.5 L183.8,646.5 L184.9,646.3 L186.0,646.1 L187.1,646.0 L188.2,646.0 L189.3,646.1 L190.4,646.3 L191.5,646.5 L192.6,647.3 L193.7,647.9 L194.8,648.5 L195.9,649.0 L197.0,649.1 L198.1,649.2 L199.2,648.9 L200.3,648.8 L201.4,649.0 L202.5,649.2 L203.6,648.9 L204.7,648.7 L205.8,648.6 L206.9,648.1 L208.0,647.4 L209.1,647.0 L210.2,646.7 L211.3,646.5 L212.4,646.3 L213.5,645.9 L214.6,645.7 L215.7,645.3 L216.8,645.3 L217.9,645.7 L219.0,646.4 L220.1,647.2 L221.2,648.2 L222.3,648.7 L223.4,649.6 L224.5,650.0 L225.6,650.6 L226.7,651.2 L227.8,651.6 L228.9,651.9 L230.0,652.2 L231.1,652.7 L232.2,652.7 L233.3,653.0 L234.4,653.2 L235.5,653.3 L236.6,653.3 L237.7,653.3 L238.8,652.9 L239.9,653.0 L241.0,652.8 L242.1,652.6 L243.2,652.6 L244.3,652.5 L245.4,651.9 L246.5,651.5 L247.6,650.8 L248.7,650.2 L249.8,649.3 L250.9,649.0 L252.0,648.4 L253.1,647.8 L254.2,647.3 L255.3,646.7 L256.4,645.9 L257.5,645.4 L258.6,645.3 L259.7,645.0 L260.8,644.8 L261.9,645.0 L263.0,645.1 L264.1,645.1 L265.2,645.5 L266.3,646.0 L267.4,646.4 L268.5,646.8 L269.6,647.0 L270.7,647.4 L271.8,648.2 L272.9,648.3 L274.0,648.4 L275.1,648.8 L276.2,648.5 L277.3,647.9 L278.4,647.8 L279.5,647.7 L280.6,647.3 L281.7,647.2 L282.8,647.2 L283.9,646.6 L285.0,646.0 L286.1,645.7 L287.2,645.7 L288.3,645.4 L289.4,645.4 L290.5,645.9 L291.6,646.0 L292.7,646.1 L293.8,646.6 L294.9,647.2 L296.0,647.3 L297.1,647.8 L298.2,647.8 L299.3,647.8 L300.4,647.7 L301.5,647.6 L302.6,647.9 L303.7,648.1 L304.8,648.3 L305.9,648.4 L307.0,648.2 L308.1,648.0 L309.2,647.9 L310.3,647.6 L311.4,647.5 L312.5,647.6 L313.6,647.1 L314.7,647.0 L315.8,646.8 L316.9,646.6 L318.0,646.6 L319.1,646.8 L320.2,646.6 L321.3,646.5 L322.4,646.8 L323.5,647.1 L324.6,647.3 L325.7,647.3 L326.8,647.7 L327.9,647.7 L329.0,648.0 L330.1,648.1 L331.2,648.3 L332.3,648.3 L333.4,648.5 L334.5,648.1 L335.6,648.1 L336.7,648.0 L337.8,647.5 L338.9,646.8 L340.0,646.5 L341.1,646.5 L342.2,646.1 L343.3,645.7 L344.4,645.3 L345.5,645.1 L346.6,644.6 L347.7,644.7 L348.8,645.0 L349.9,645.9 L351.0,646.0 L352.1,646.4 L353.2,646.6 L354.3,646.4 L355.4,646.4 L356.5,646.6 L357.6,646.8 L358.7,647.1 L359.8,647.5 L360.9,647.6 L362.0,647.6 L363.1,647.5 L364.2,647.4 L365.3,647.2 L366.4,647.1 L367.5,647.0 L368.6,647.0 L369.7,646.8 L370.8,646.6 L371.9,646.7 L373.0,646.5 L374.1,646.5 L375.2,646.4 L376.3,646.4 L377.4,646.2 L378.5,646.6 L379.6,646.4 L380.7,646.6 L381.8,647.0 L382.9,647.3 L384.0,647.3 L385.1,647.5 L386.2,647.7 L387.3,647.6 L388.4,647.9 L389.5,648.1 L390.6,647.9 L391.7,647.9 L392.8,647.8 L393.9,647.8 L395.0,647.5 L396.1,647.3 L397.2,646.9 L398.3,646.5 L399.4,646.1 L400.5,646.2 L401.6,646.3" stroke="rgb(160,160,160)" stroke-width="0.85" fill="none" stroke-linejoin="round" opacity="0.85"/>
<path d="M73.8,649.9 L74.9,650.4 L76.0,650.9 L77.1,651.7 L78.2,652.0 L79.3,652.4 L80.4,652.9 L81.5,653.2 L82.6,653.5 L83.7,653.9 L84.8,654.0 L85.9,654.1 L87.0,654.0 L88.1,653.7 L89.2,653.3 L90.3,653.0 L91.4,652.8 L92.5,651.8 L93.6,651.6 L94.7,651.0 L95.8,650.7 L96.9,650.2 L98.0,650.2 L99.1,650.1 L100.2,650.0 L101.3,650.3 L102.4,650.8 L103.5,651.3 L104.6,651.7 L105.7,652.3 L106.8,653.0 L107.9,653.2 L109.0,653.4 L110.1,653.6 L111.2,654.1 L112.3,654.1 L113.4,654.6 L114.5,654.6 L115.6,654.4 L116.7,653.6 L117.8,653.2 L118.9,652.5 L120.0,652.0 L121.1,651.7 L122.2,651.4 L123.3,650.9 L124.4,650.5 L125.5,649.9 L126.6,649.5 L127.7,649.6 L128.8,649.5 L129.9,649.8 L131.0,650.5 L132.1,650.7 L133.2,651.2 L134.3,651.5 L135.4,652.2 L136.5,652.6 L137.6,653.5 L138.7,653.7 L139.8,654.1 L140.9,653.9 L142.0,654.2 L143.1,654.2 L144.2,653.8 L145.3,653.4 L146.4,653.0 L147.5,652.0 L148.6,651.4 L149.7,650.8 L150.8,650.3 L151.9,650.0 L153.0,649.9 L154.1,649.6 L155.2,649.6 L156.3,649.5 L157.4,649.7 L158.5,650.0 L159.6,650.4 L160.7,650.9 L161.8,651.5 L162.9,652.0 L164.0,652.2 L165.1,653.2 L166.2,653.4 L167.3,653.8 L168.4,654.1 L169.5,654.6 L170.6,654.3 L171.7,654.0 L172.8,654.0 L173.9,653.3 L175.0,652.6 L176.1,651.9 L177.2,651.5 L178.3,650.5 L179.4,649.7 L180.5,649.1 L181.6,648.7 L182.7,648.3 L183.8,648.3 L184.9,648.5 L186.0,648.6 L187.1,649.0 L188.2,649.3 L189.3,649.8 L190.4,650.4 L191.5,651.0 L192.6,651.9 L193.7,652.1 L194.8,653.0 L195.9,653.8 L197.0,653.9 L198.1,654.1 L199.2,654.7 L200.3,654.5 L201.4,654.0 L202.5,653.5 L203.6,652.8 L204.7,651.9 L205.8,651.5 L206.9,650.8 L208.0,650.0 L209.1,649.5 L210.2,649.0 L211.3,648.6 L212.4,648.4 L213.5,648.3 L214.6,648.7 L215.7,648.8 L216.8,649.1 L217.9,650.0 L219.0,650.9 L220.1,652.0 L221.2,653.1 L222.3,653.8 L223.4,654.7 L224.5,655.7 L225.6,656.5 L226.7,657.1 L227.8,657.6 L228.9,658.2 L230.0,658.2 L231.1,658.0 L232.2,658.0 L233.3,657.8 L234.4,657.5 L235.5,657.2 L236.6,657.3 L237.7,657.3 L238.8,657.5 L239.9,657.5 L241.0,657.7 L242.1,658.1 L243.2,658.4 L244.3,658.1 L245.4,658.1 L246.5,658.0 L247.6,657.6 L248.7,657.2 L249.8,656.5 L250.9,655.9 L252.0,654.9 L253.1,653.8 L254.2,653.2 L255.3,652.2 L256.4,651.5 L257.5,650.7 L258.6,650.1 L259.7,649.6 L260.8,649.4 L261.9,649.2 L263.0,649.1 L264.1,649.5 L265.2,650.3 L266.3,651.0 L267.4,651.4 L268.5,652.0 L269.6,652.5 L270.7,653.2 L271.8,653.7 L272.9,654.0 L274.0,654.8 L275.1,654.8 L276.2,654.9 L277.3,654.4 L278.4,654.5 L279.5,653.6 L280.6,653.2 L281.7,652.5 L282.8,651.9 L283.9,651.1 L285.0,650.2 L286.1,649.1 L287.2,648.6 L288.3,648.3 L289.4,648.3 L290.5,648.6 L291.6,648.4 L292.7,648.9 L293.8,649.2 L294.9,649.9 L296.0,650.8 L297.1,651.5 L298.2,652.4 L299.3,652.9 L300.4,653.6 L301.5,654.2 L302.6,654.6 L303.7,654.9 L304.8,655.2 L305.9,655.1 L307.0,654.9 L308.1,654.6 L309.2,654.0 L310.3,653.3 L311.4,652.5 L312.5,652.0 L313.6,651.2 L314.7,650.8 L315.8,650.4 L316.9,650.2 L318.0,650.1 L319.1,649.9 L320.2,649.5 L321.3,649.6 L322.4,649.8 L323.5,650.2 L324.6,650.8 L325.7,651.9 L326.8,652.9 L327.9,653.3 L329.0,653.6 L330.1,654.1 L331.2,654.3 L332.3,654.5 L333.4,654.7 L334.5,655.0 L335.6,654.9 L336.7,654.5 L337.8,654.1 L338.9,653.2 L340.0,652.8 L341.1,652.2 L342.2,651.4 L343.3,650.9 L344.4,650.7 L345.5,650.2 L346.6,649.9 L347.7,649.7 L348.8,649.7 L349.9,650.0 L351.0,650.2 L352.1,650.7 L353.2,650.9 L354.3,651.2 L355.4,651.5 L356.5,652.3 L357.6,652.8 L358.7,653.4 L359.8,653.9 L360.9,653.9 L362.0,653.7 L363.1,653.9 L364.2,653.4 L365.3,653.3 L366.4,652.7 L367.5,651.9 L368.6,651.2 L369.7,650.8 L370.8,650.2 L371.9,649.8 L373.0,649.7 L374.1,649.4 L375.2,649.1 L376.3,649.0 L377.4,649.0 L378.5,648.9 L379.6,649.5 L380.7,650.0 L381.8,650.4 L382.9,651.1 L384.0,651.8 L385.1,652.4 L386.2,653.0 L387.3,653.4 L388.4,653.8 L389.5,654.1 L390.6,653.8 L391.7,653.7 L392.8,653.4 L393.9,653.1 L395.0,652.1 L396.1,652.1 L397.2,651.4 L398.3,650.9 L399.4,650.7 L400.5,650.3 L401.6,649.9" stroke="#7570b3" stroke-width="0.9" fill="none" stroke-linejoin="round" opacity="1"/>
<path d="M73.8,642.0 L74.9,642.3 L76.0,642.7 L77.1,642.9 L78.2,643.3 L79.3,643.6 L80.4,644.2 L81.5,644.5 L82.6,644.9 L83.7,644.9 L84.8,645.1 L85.9,645.1 L87.0,644.7 L88.1,644.5 L89.2,644.1 L90.3,643.8 L91.4,643.3 L92.5,643.0 L93.6,642.6 L94.7,642.3 L95.8,641.8 L96.9,641.8 L98.0,641.6 L99.1,641.7 L100.2,641.8 L101.3,641.8 L102.4,641.9 L103.5,642.2 L104.6,642.5 L105.7,642.7 L106.8,643.3 L107.9,643.7 L109.0,644.1 L110.1,644.5 L111.2,644.6 L112.3,644.9 L113.4,645.1 L114.5,645.0 L115.6,644.9 L116.7,644.7 L117.8,644.1 L118.9,643.5 L120.0,642.6 L121.1,641.8 L122.2,641.6 L123.3,641.8 L124.4,641.4 L125.5,641.4 L126.6,641.5 L127.7,641.8 L128.8,641.9 L129.9,642.6 L131.0,642.5 L132.1,642.7 L133.2,642.9 L134.3,643.5 L135.4,643.9 L136.5,644.5 L137.6,644.9 L138.7,645.1 L139.8,645.2 L140.9,645.4 L142.0,645.1 L143.1,644.8 L144.2,644.5 L145.3,644.2 L146.4,643.9 L147.5,643.7 L148.6,643.4 L149.7,642.7 L150.8,642.2 L151.9,641.7 L153.0,641.2 L154.1,641.0 L155.2,640.9 L156.3,641.0 L157.4,641.1 L158.5,641.5 L159.6,641.7 L160.7,642.1 L161.8,642.6 L162.9,643.2 L164.0,643.7 L165.1,644.2 L166.2,644.5 L167.3,644.8 L168.4,645.2 L169.5,645.5 L170.6,645.4 L171.7,645.3 L172.8,645.2 L173.9,644.9 L175.0,644.3 L176.1,643.7 L177.2,643.3 L178.3,642.8 L179.4,642.3 L180.5,642.1 L181.6,642.1 L182.7,641.7 L183.8,641.3 L184.9,641.4 L186.0,641.3 L187.1,641.2 L188.2,641.5 L189.3,642.3 L190.4,642.8 L191.5,643.3 L192.6,643.8 L193.7,644.2 L194.8,644.7 L195.9,644.8 L197.0,645.2 L198.1,645.6 L199.2,645.9 L200.3,645.8 L201.4,645.6 L202.5,645.3 L203.6,644.7 L204.7,644.0 L205.8,643.4 L206.9,642.8 L208.0,642.2 L209.1,641.6 L210.2,640.8 L211.3,640.9 L212.4,640.9 L213.5,640.9 L214.6,641.2 L215.7,641.7 L216.8,642.0 L217.9,643.0 L219.0,644.0 L220.1,645.2 L221.2,646.5 L222.3,647.7 L223.4,648.9 L224.5,650.0 L225.6,651.3 L226.7,652.4 L227.8,653.2 L228.9,654.0 L230.0,655.1 L231.1,655.7 L232.2,656.1 L233.3,656.6 L234.4,657.0 L235.5,657.1 L236.6,657.4 L237.7,657.5 L238.8,657.6 L239.9,657.5 L241.0,657.2 L242.1,657.0 L243.2,656.4 L244.3,655.8 L245.4,655.0 L246.5,654.2 L247.6,653.2 L248.7,652.2 L249.8,651.4 L250.9,650.1 L252.0,648.9 L253.1,647.7 L254.2,646.4 L255.3,645.3 L256.4,644.2 L257.5,643.3 L258.6,642.6 L259.7,641.9 L260.8,641.3 L261.9,641.1 L263.0,641.2 L264.1,641.4 L265.2,641.7 L266.3,642.2 L267.4,642.5 L268.5,643.0 L269.6,643.4 L270.7,643.8 L271.8,644.2 L272.9,645.0 L274.0,645.1 L275.1,645.6 L276.2,645.6 L277.3,645.2 L278.4,644.8 L279.5,644.6 L280.6,644.0 L281.7,643.6 L282.8,643.2 L283.9,642.9 L285.0,642.7 L286.1,642.0 L287.2,641.4 L288.3,641.2 L289.4,640.9 L290.5,640.9 L291.6,641.1 L292.7,641.5 L293.8,641.6 L294.9,641.8 L296.0,642.3 L297.1,643.0 L298.2,643.4 L299.3,644.0 L300.4,644.7 L301.5,644.8 L302.6,644.9 L303.7,645.2 L304.8,645.1 L305.9,644.9 L307.0,645.0 L308.1,644.7 L309.2,644.3 L310.3,643.9 L311.4,643.4 L312.5,643.1 L313.6,642.7 L314.7,642.2 L315.8,641.9 L316.9,641.6 L318.0,641.4 L319.1,641.3 L320.2,641.2 L321.3,641.1 L322.4,641.4 L323.5,642.0 L324.6,642.3 L325.7,642.6 L326.8,643.3 L327.9,643.4 L329.0,643.7 L330.1,644.4 L331.2,644.9 L332.3,645.0 L333.4,645.0 L334.5,645.0 L335.6,644.8 L336.7,644.6 L337.8,644.5 L338.9,644.3 L340.0,643.8 L341.1,643.5 L342.2,642.8 L343.3,642.5 L344.4,641.9 L345.5,642.0 L346.6,641.9 L347.7,641.9 L348.8,641.9 L349.9,642.4 L351.0,642.5 L352.1,642.8 L353.2,643.3 L354.3,643.7 L355.4,643.8 L356.5,644.4 L357.6,644.6 L358.7,644.8 L359.8,645.0 L360.9,645.4 L362.0,645.3 L363.1,645.3 L364.2,645.0 L365.3,644.7 L366.4,644.3 L367.5,644.0 L368.6,643.7 L369.7,643.3 L370.8,643.0 L371.9,642.6 L373.0,642.3 L374.1,642.0 L375.2,642.1 L376.3,642.1 L377.4,642.1 L378.5,642.1 L379.6,642.4 L380.7,642.7 L381.8,643.2 L382.9,643.7 L384.0,644.1 L385.1,644.5 L386.2,644.9 L387.3,644.9 L388.4,645.1 L389.5,645.3 L390.6,645.5 L391.7,645.4 L392.8,645.2 L393.9,645.2 L395.0,644.6 L396.1,644.1 L397.2,643.5 L398.3,642.9 L399.4,642.5 L400.5,642.3 L401.6,641.8" stroke="#e7298a" stroke-width="0.9" fill="none" stroke-linejoin="round" opacity="1"/>
<line x1="61.50" y1="616.00" x2="61.50" y2="734.50" stroke="#555" stroke-width="1"/>
<line x1="58.00" y1="734.50" x2="61.50" y2="734.50" stroke="#555" stroke-width="1"/>
<text x="53.00" y="738.40" font-size="11.2" text-anchor="end" fill="#1a1a1a" font-weight="normal" stroke="#1a1a1a" stroke-width="0.15">0</text>
<line x1="58.00" y1="695.00" x2="61.50" y2="695.00" stroke="#555" stroke-width="1"/>
<text x="53.00" y="698.90" font-size="11.2" text-anchor="end" fill="#1a1a1a" font-weight="normal" stroke="#1a1a1a" stroke-width="0.15">0.5</text>
<line x1="58.00" y1="655.50" x2="61.50" y2="655.50" stroke="#555" stroke-width="1"/>
<text x="53.00" y="659.40" font-size="11.2" text-anchor="end" fill="#1a1a1a" font-weight="normal" stroke="#1a1a1a" stroke-width="0.15">1.0</text>
<line x1="58.00" y1="616.00" x2="61.50" y2="616.00" stroke="#555" stroke-width="1"/>
<text x="53.00" y="619.90" font-size="11.2" text-anchor="end" fill="#1a1a1a" font-weight="normal" stroke="#1a1a1a" stroke-width="0.15">1.5</text>
<line x1="74.00" y1="739.90" x2="401.00" y2="739.90" stroke="#555" stroke-width="1"/>
<line x1="74.00" y1="739.90" x2="74.00" y2="743.40" stroke="#555" stroke-width="1"/>
<text x="74.30" y="758.50" font-size="11.3" text-anchor="middle" fill="#1a1a1a" font-weight="normal" stroke="#1a1a1a" stroke-width="0.15">−1000</text>
<line x1="155.75" y1="739.90" x2="155.75" y2="743.40" stroke="#555" stroke-width="1"/>
<text x="156.05" y="758.50" font-size="11.3" text-anchor="middle" fill="#1a1a1a" font-weight="normal" stroke="#1a1a1a" stroke-width="0.15">−500</text>
<line x1="237.50" y1="739.90" x2="237.50" y2="743.40" stroke="#555" stroke-width="1"/>
<text x="237.80" y="758.50" font-size="11.3" text-anchor="middle" fill="#1a1a1a" font-weight="normal" stroke="#1a1a1a" stroke-width="0.15">0</text>
<line x1="319.25" y1="739.90" x2="319.25" y2="743.40" stroke="#555" stroke-width="1"/>
<text x="319.55" y="758.50" font-size="11.3" text-anchor="middle" fill="#1a1a1a" font-weight="normal" stroke="#1a1a1a" stroke-width="0.15">500</text>
<line x1="401.00" y1="739.90" x2="401.00" y2="743.40" stroke="#555" stroke-width="1"/>
<text x="401.30" y="758.50" font-size="11.3" text-anchor="middle" fill="#1a1a1a" font-weight="normal" stroke="#1a1a1a" stroke-width="0.15">1000</text>
<text x="230.50" y="776.20" font-size="11.5" text-anchor="middle" fill="#1a1a1a" font-weight="normal" stroke="#1a1a1a" stroke-width="0.15">Position relative to TFBS</text>
<text x="26.60" y="676.25" font-size="11.6" text-anchor="middle" fill="#1a1a1a" font-weight="normal" stroke="#1a1a1a" stroke-width="0.15" transform="rotate(-90 26.60 676.25)">Normalized read depth</text>
<text x="67.80" y="720.00" font-size="11.2" text-anchor="start" fill="#1a1a1a" font-weight="normal" stroke="#1a1a1a" stroke-width="0.15">GRHL2</text>
<rect x="222.00" y="688.90" width="6.20" height="5.40" fill="#1b9e77" stroke="#333" stroke-width="0.6"/>
<text x="233.40" y="695.50" font-size="11.3" text-anchor="start" fill="#1a1a1a" font-weight="normal" stroke="#1a1a1a" stroke-width="0.15">P148_1</text>
<rect x="283.50" y="688.90" width="6.20" height="5.40" fill="#d95f02" stroke="#333" stroke-width="0.6"/>
<text x="294.60" y="695.50" font-size="11.3" text-anchor="start" fill="#1a1a1a" font-weight="normal" stroke="#1a1a1a" stroke-width="0.15">P147_1</text>
<rect x="348.30" y="688.90" width="6.20" height="5.40" fill="#7570b3" stroke="#333" stroke-width="0.6"/>
<text x="358.20" y="695.50" font-size="11.3" text-anchor="start" fill="#1a1a1a" font-weight="normal" stroke="#1a1a1a" stroke-width="0.15">P40_1</text>
<rect x="222.00" y="705.40" width="6.20" height="5.40" fill="#e7298a" stroke="#333" stroke-width="0.6"/>
<text x="233.40" y="712.00" font-size="11.3" text-anchor="start" fill="#1a1a1a" font-weight="normal" stroke="#1a1a1a" stroke-width="0.15">C2_6</text>
<rect x="283.50" y="705.40" width="6.20" height="5.40" fill="#66a61e" stroke="#333" stroke-width="0.6"/>
<text x="294.60" y="712.00" font-size="11.3" text-anchor="start" fill="#1a1a1a" font-weight="normal" stroke="#1a1a1a" stroke-width="0.15">B13_1</text>
<rect x="348.30" y="705.40" width="6.20" height="5.40" fill="#e6ab02" stroke="#333" stroke-width="0.6"/>
<text x="358.20" y="712.00" font-size="11.3" text-anchor="start" fill="#1a1a1a" font-weight="normal" stroke="#1a1a1a" stroke-width="0.15">B7_1</text>
<rect x="222.00" y="722.10" width="6.20" height="5.40" fill="#a6761d" stroke="#333" stroke-width="0.6"/>
<text x="233.40" y="728.70" font-size="11.3" text-anchor="start" fill="#1a1a1a" font-weight="normal" stroke="#1a1a1a" stroke-width="0.15">P190_3</text>
<rect x="283.50" y="722.10" width="6.20" height="5.40" fill="#444444" stroke="#333" stroke-width="0.6"/>
<text x="294.60" y="728.70" font-size="11.3" text-anchor="start" fill="#1a1a1a" font-weight="normal" stroke="#1a1a1a" stroke-width="0.15">Controls</text>
<rect x="488.50" y="428.30" width="152.00" height="134.80" fill="none" stroke="#b3b3b3" stroke-width="1.2"/>
<line x1="485.00" y1="558.30" x2="488.50" y2="558.30" stroke="#777" stroke-width="1"/>
<text x="481.60" y="562.30" font-size="11.2" text-anchor="end" fill="#1a1a1a" font-weight="normal" stroke="#1a1a1a" stroke-width="0.15">0.0</text>
<line x1="485.00" y1="537.36" x2="488.50" y2="537.36" stroke="#777" stroke-width="1"/>
<text x="481.60" y="541.36" font-size="11.2" text-anchor="end" fill="#1a1a1a" font-weight="normal" stroke="#1a1a1a" stroke-width="0.15">0.2</text>
<line x1="485.00" y1="516.42" x2="488.50" y2="516.42" stroke="#777" stroke-width="1"/>
<text x="481.60" y="520.42" font-size="11.2" text-anchor="end" fill="#1a1a1a" font-weight="normal" stroke="#1a1a1a" stroke-width="0.15">0.4</text>
<line x1="485.00" y1="495.48" x2="488.50" y2="495.48" stroke="#777" stroke-width="1"/>
<text x="481.60" y="499.48" font-size="11.2" text-anchor="end" fill="#1a1a1a" font-weight="normal" stroke="#1a1a1a" stroke-width="0.15">0.6</text>
<line x1="485.00" y1="474.54" x2="488.50" y2="474.54" stroke="#777" stroke-width="1"/>
<text x="481.60" y="478.54" font-size="11.2" text-anchor="end" fill="#1a1a1a" font-weight="normal" stroke="#1a1a1a" stroke-width="0.15">0.8</text>
<line x1="485.00" y1="453.60" x2="488.50" y2="453.60" stroke="#777" stroke-width="1"/>
<text x="481.60" y="457.60" font-size="11.2" text-anchor="end" fill="#1a1a1a" font-weight="normal" stroke="#1a1a1a" stroke-width="0.15">1.0</text>
<line x1="485.00" y1="432.66" x2="488.50" y2="432.66" stroke="#777" stroke-width="1"/>
<text x="481.60" y="436.66" font-size="11.2" text-anchor="end" fill="#1a1a1a" font-weight="normal" stroke="#1a1a1a" stroke-width="0.15">1.2</text>
<line x1="506.00" y1="500.30" x2="506.00" y2="533.90" stroke="#888" stroke-width="0.7" stroke-dasharray="1.2,1.2"/>
<line x1="506.00" y1="556.50" x2="506.00" y2="558.40" stroke="#888" stroke-width="0.7" stroke-dasharray="1.2,1.2"/>
<line x1="501.20" y1="500.30" x2="510.80" y2="500.30" stroke="#777" stroke-width="0.9"/>
<line x1="501.20" y1="558.40" x2="510.80" y2="558.40" stroke="#777" stroke-width="0.9"/>
<rect x="496.60" y="533.90" width="18.80" height="22.60" fill="#a6cee3" stroke="#555" stroke-width="0.7"/>
<line x1="496.60" y1="552.10" x2="515.40" y2="552.10" stroke="#111" stroke-width="1.3"/>
<circle cx="506.00" cy="499.30" r="1.15" fill="none" stroke="#111" stroke-width="0.7"/>
<circle cx="506.00" cy="498.40" r="1.15" fill="none" stroke="#111" stroke-width="0.7"/>
<circle cx="506.00" cy="497.50" r="1.15" fill="none" stroke="#111" stroke-width="0.7"/>
<circle cx="506.00" cy="496.60" r="1.15" fill="none" stroke="#111" stroke-width="0.7"/>
<circle cx="506.00" cy="495.70" r="1.15" fill="none" stroke="#111" stroke-width="0.7"/>
<circle cx="506.00" cy="494.80" r="1.15" fill="none" stroke="#111" stroke-width="0.7"/>
<circle cx="506.00" cy="493.90" r="1.15" fill="none" stroke="#111" stroke-width="0.7"/>
<circle cx="506.00" cy="493.00" r="1.15" fill="none" stroke="#111" stroke-width="0.7"/>
<circle cx="506.00" cy="492.10" r="1.15" fill="none" stroke="#111" stroke-width="0.7"/>
<circle cx="506.00" cy="491.20" r="1.15" fill="none" stroke="#111" stroke-width="0.7"/>
<circle cx="506.00" cy="490.30" r="1.15" fill="none" stroke="#111" stroke-width="0.7"/>
<circle cx="506.00" cy="489.40" r="1.15" fill="none" stroke="#111" stroke-width="0.7"/>
<circle cx="506.00" cy="488.50" r="1.15" fill="none" stroke="#111" stroke-width="0.7"/>
<circle cx="506.00" cy="487.60" r="1.15" fill="none" stroke="#111" stroke-width="0.7"/>
<circle cx="506.00" cy="486.70" r="1.15" fill="none" stroke="#111" stroke-width="0.7"/>
<circle cx="506.00" cy="485.80" r="1.15" fill="none" stroke="#111" stroke-width="0.7"/>
<circle cx="506.00" cy="484.90" r="1.15" fill="none" stroke="#111" stroke-width="0.7"/>
<circle cx="506.00" cy="484.00" r="1.15" fill="none" stroke="#111" stroke-width="0.7"/>
<circle cx="506.00" cy="483.10" r="1.15" fill="none" stroke="#111" stroke-width="0.7"/>
<circle cx="506.00" cy="482.20" r="1.15" fill="none" stroke="#111" stroke-width="0.7"/>
<circle cx="506.00" cy="481.30" r="1.15" fill="none" stroke="#111" stroke-width="0.7"/>
<circle cx="506.00" cy="480.40" r="1.15" fill="none" stroke="#111" stroke-width="0.7"/>
<circle cx="506.00" cy="479.50" r="1.15" fill="none" stroke="#111" stroke-width="0.7"/>
<circle cx="506.00" cy="478.60" r="1.15" fill="none" stroke="#111" stroke-width="0.7"/>
<circle cx="506.00" cy="477.70" r="1.15" fill="none" stroke="#111" stroke-width="0.7"/>
<circle cx="506.00" cy="476.80" r="1.15" fill="none" stroke="#111" stroke-width="0.7"/>
<circle cx="506.00" cy="475.90" r="1.15" fill="none" stroke="#111" stroke-width="0.7"/>
<circle cx="506.00" cy="475.00" r="1.15" fill="none" stroke="#111" stroke-width="0.7"/>
<circle cx="506.00" cy="474.10" r="1.15" fill="none" stroke="#111" stroke-width="0.7"/>
<circle cx="506.00" cy="473.20" r="1.15" fill="none" stroke="#111" stroke-width="0.7"/>
<circle cx="506.00" cy="472.30" r="1.15" fill="none" stroke="#111" stroke-width="0.7"/>
<circle cx="506.00" cy="471.40" r="1.15" fill="none" stroke="#111" stroke-width="0.7"/>
<circle cx="506.00" cy="470.50" r="1.15" fill="none" stroke="#111" stroke-width="0.7"/>
<circle cx="506.00" cy="469.60" r="1.15" fill="none" stroke="#111" stroke-width="0.7"/>
<circle cx="506.00" cy="468.70" r="1.15" fill="none" stroke="#111" stroke-width="0.7"/>
<circle cx="506.00" cy="467.80" r="1.15" fill="none" stroke="#111" stroke-width="0.7"/>
<circle cx="506.00" cy="466.90" r="1.15" fill="none" stroke="#111" stroke-width="0.7"/>
<circle cx="506.00" cy="466.00" r="1.15" fill="none" stroke="#111" stroke-width="0.7"/>
<circle cx="506.00" cy="465.10" r="1.15" fill="none" stroke="#111" stroke-width="0.7"/>
<circle cx="506.00" cy="464.20" r="1.15" fill="none" stroke="#111" stroke-width="0.7"/>
<circle cx="506.00" cy="463.30" r="1.15" fill="none" stroke="#111" stroke-width="0.7"/>
<circle cx="506.00" cy="462.40" r="1.15" fill="none" stroke="#111" stroke-width="0.7"/>
<circle cx="506.00" cy="461.50" r="1.15" fill="none" stroke="#222" stroke-width="0.7"/>
<circle cx="506.00" cy="460.79" r="1.15" fill="none" stroke="#222" stroke-width="0.7"/>
<circle cx="506.00" cy="460.00" r="1.15" fill="none" stroke="#222" stroke-width="0.7"/>
<circle cx="506.00" cy="458.06" r="1.15" fill="none" stroke="#222" stroke-width="0.7"/>
<circle cx="506.00" cy="456.04" r="1.15" fill="none" stroke="#222" stroke-width="0.7"/>
<circle cx="506.00" cy="453.40" r="1.3" fill="none" stroke="#333" stroke-width="0.75"/>
<circle cx="506.00" cy="449.30" r="1.3" fill="none" stroke="#333" stroke-width="0.75"/>
<circle cx="506.00" cy="444.20" r="1.3" fill="none" stroke="#333" stroke-width="0.75"/>
<circle cx="506.00" cy="433.30" r="1.3" fill="none" stroke="#333" stroke-width="0.75"/>
<line x1="529.40" y1="482.30" x2="529.40" y2="526.40" stroke="#888" stroke-width="0.7" stroke-dasharray="1.2,1.2"/>
<line x1="529.40" y1="556.10" x2="529.40" y2="558.40" stroke="#888" stroke-width="0.7" stroke-dasharray="1.2,1.2"/>
<line x1="524.60" y1="482.30" x2="534.20" y2="482.30" stroke="#777" stroke-width="0.9"/>
<line x1="524.60" y1="558.40" x2="534.20" y2="558.40" stroke="#777" stroke-width="0.9"/>
<rect x="520.00" y="526.40" width="18.80" height="29.70" fill="#1f78b4" stroke="#555" stroke-width="0.7"/>
<line x1="520.00" y1="549.30" x2="538.80" y2="549.30" stroke="#111" stroke-width="1.3"/>
<circle cx="529.40" cy="481.30" r="1.15" fill="none" stroke="#111" stroke-width="0.7"/>
<circle cx="529.40" cy="480.40" r="1.15" fill="none" stroke="#111" stroke-width="0.7"/>
<circle cx="529.40" cy="479.50" r="1.15" fill="none" stroke="#111" stroke-width="0.7"/>
<circle cx="529.40" cy="478.60" r="1.15" fill="none" stroke="#111" stroke-width="0.7"/>
<circle cx="529.40" cy="477.70" r="1.15" fill="none" stroke="#111" stroke-width="0.7"/>
<circle cx="529.40" cy="476.80" r="1.15" fill="none" stroke="#111" stroke-width="0.7"/>
<circle cx="529.40" cy="475.90" r="1.15" fill="none" stroke="#111" stroke-width="0.7"/>
<circle cx="529.40" cy="475.00" r="1.15" fill="none" stroke="#111" stroke-width="0.7"/>
<circle cx="529.40" cy="474.10" r="1.15" fill="none" stroke="#111" stroke-width="0.7"/>
<circle cx="529.40" cy="473.20" r="1.15" fill="none" stroke="#111" stroke-width="0.7"/>
<circle cx="529.40" cy="472.30" r="1.15" fill="none" stroke="#111" stroke-width="0.7"/>
<circle cx="529.40" cy="471.40" r="1.15" fill="none" stroke="#111" stroke-width="0.7"/>
<circle cx="529.40" cy="470.50" r="1.15" fill="none" stroke="#111" stroke-width="0.7"/>
<circle cx="529.40" cy="469.60" r="1.15" fill="none" stroke="#111" stroke-width="0.7"/>
<circle cx="529.40" cy="468.70" r="1.15" fill="none" stroke="#111" stroke-width="0.7"/>
<circle cx="529.40" cy="467.80" r="1.15" fill="none" stroke="#111" stroke-width="0.7"/>
<circle cx="529.40" cy="466.90" r="1.15" fill="none" stroke="#111" stroke-width="0.7"/>
<circle cx="529.40" cy="466.00" r="1.15" fill="none" stroke="#111" stroke-width="0.7"/>
<circle cx="529.40" cy="465.10" r="1.15" fill="none" stroke="#111" stroke-width="0.7"/>
<circle cx="529.40" cy="464.20" r="1.15" fill="none" stroke="#111" stroke-width="0.7"/>
<circle cx="529.40" cy="463.30" r="1.15" fill="none" stroke="#111" stroke-width="0.7"/>
<circle cx="529.40" cy="462.40" r="1.15" fill="none" stroke="#111" stroke-width="0.7"/>
<circle cx="529.40" cy="461.50" r="1.15" fill="none" stroke="#111" stroke-width="0.7"/>
<circle cx="529.40" cy="460.60" r="1.15" fill="none" stroke="#111" stroke-width="0.7"/>
<circle cx="529.40" cy="459.70" r="1.15" fill="none" stroke="#111" stroke-width="0.7"/>
<circle cx="529.40" cy="458.80" r="1.15" fill="none" stroke="#111" stroke-width="0.7"/>
<circle cx="529.40" cy="454.10" r="1.3" fill="none" stroke="#333" stroke-width="0.75"/>
<circle cx="529.40" cy="449.10" r="1.3" fill="none" stroke="#333" stroke-width="0.75"/>
<line x1="552.80" y1="554.60" x2="552.80" y2="556.00" stroke="#888" stroke-width="0.7" stroke-dasharray="1.2,1.2"/>
<line x1="552.80" y1="558.40" x2="552.80" y2="558.40" stroke="#888" stroke-width="0.7" stroke-dasharray="1.2,1.2"/>
<line x1="548.00" y1="554.60" x2="557.60" y2="554.60" stroke="#777" stroke-width="0.9"/>
<line x1="548.00" y1="558.40" x2="557.60" y2="558.40" stroke="#777" stroke-width="0.9"/>
<rect x="543.40" y="556.00" width="18.80" height="2.40" fill="#b2df8a" stroke="#555" stroke-width="0.7"/>
<line x1="543.40" y1="557.20" x2="562.20" y2="557.20" stroke="#111" stroke-width="1.3"/>
<circle cx="552.80" cy="553.60" r="1.15" fill="none" stroke="#111" stroke-width="0.7"/>
<circle cx="552.80" cy="552.70" r="1.15" fill="none" stroke="#111" stroke-width="0.7"/>
<circle cx="552.80" cy="551.80" r="1.15" fill="none" stroke="#111" stroke-width="0.7"/>
<circle cx="552.80" cy="550.90" r="1.15" fill="none" stroke="#111" stroke-width="0.7"/>
<circle cx="552.80" cy="550.00" r="1.15" fill="none" stroke="#111" stroke-width="0.7"/>
<circle cx="552.80" cy="549.10" r="1.15" fill="none" stroke="#111" stroke-width="0.7"/>
<circle cx="552.80" cy="548.20" r="1.15" fill="none" stroke="#111" stroke-width="0.7"/>
<circle cx="552.80" cy="547.30" r="1.15" fill="none" stroke="#111" stroke-width="0.7"/>
<circle cx="552.80" cy="546.40" r="1.15" fill="none" stroke="#111" stroke-width="0.7"/>
<circle cx="552.80" cy="545.50" r="1.15" fill="none" stroke="#111" stroke-width="0.7"/>
<circle cx="552.80" cy="544.60" r="1.15" fill="none" stroke="#111" stroke-width="0.7"/>
<circle cx="552.80" cy="543.70" r="1.15" fill="none" stroke="#111" stroke-width="0.7"/>
<circle cx="552.80" cy="542.80" r="1.15" fill="none" stroke="#111" stroke-width="0.7"/>
<circle cx="552.80" cy="541.90" r="1.15" fill="none" stroke="#111" stroke-width="0.7"/>
<circle cx="552.80" cy="541.00" r="1.15" fill="none" stroke="#111" stroke-width="0.7"/>
<circle cx="552.80" cy="540.10" r="1.15" fill="none" stroke="#111" stroke-width="0.7"/>
<circle cx="552.80" cy="539.20" r="1.15" fill="none" stroke="#111" stroke-width="0.7"/>
<circle cx="552.80" cy="538.30" r="1.15" fill="none" stroke="#111" stroke-width="0.7"/>
<circle cx="552.80" cy="537.40" r="1.15" fill="none" stroke="#111" stroke-width="0.7"/>
<circle cx="552.80" cy="536.50" r="1.15" fill="none" stroke="#111" stroke-width="0.7"/>
<circle cx="552.80" cy="535.60" r="1.15" fill="none" stroke="#111" stroke-width="0.7"/>
<circle cx="552.80" cy="534.70" r="1.15" fill="none" stroke="#111" stroke-width="0.7"/>
<circle cx="552.80" cy="533.80" r="1.15" fill="none" stroke="#111" stroke-width="0.7"/>
<circle cx="552.80" cy="532.90" r="1.15" fill="none" stroke="#111" stroke-width="0.7"/>
<circle cx="552.80" cy="532.00" r="1.15" fill="none" stroke="#111" stroke-width="0.7"/>
<circle cx="552.80" cy="531.10" r="1.15" fill="none" stroke="#111" stroke-width="0.7"/>
<circle cx="552.80" cy="530.20" r="1.15" fill="none" stroke="#111" stroke-width="0.7"/>
<circle cx="552.80" cy="529.30" r="1.15" fill="none" stroke="#111" stroke-width="0.7"/>
<circle cx="552.80" cy="528.40" r="1.15" fill="none" stroke="#111" stroke-width="0.7"/>
<circle cx="552.80" cy="527.50" r="1.15" fill="none" stroke="#111" stroke-width="0.7"/>
<circle cx="552.80" cy="526.60" r="1.15" fill="none" stroke="#111" stroke-width="0.7"/>
<circle cx="552.80" cy="525.70" r="1.15" fill="none" stroke="#111" stroke-width="0.7"/>
<circle cx="552.80" cy="524.80" r="1.15" fill="none" stroke="#111" stroke-width="0.7"/>
<circle cx="552.80" cy="523.90" r="1.15" fill="none" stroke="#111" stroke-width="0.7"/>
<circle cx="552.80" cy="523.00" r="1.15" fill="none" stroke="#111" stroke-width="0.7"/>
<circle cx="552.80" cy="522.10" r="1.15" fill="none" stroke="#111" stroke-width="0.7"/>
<circle cx="552.80" cy="521.20" r="1.15" fill="none" stroke="#222" stroke-width="0.7"/>
<circle cx="552.80" cy="520.39" r="1.15" fill="none" stroke="#222" stroke-width="0.7"/>
<circle cx="552.80" cy="519.58" r="1.15" fill="none" stroke="#222" stroke-width="0.7"/>
<circle cx="552.80" cy="518.87" r="1.15" fill="none" stroke="#222" stroke-width="0.7"/>
<circle cx="552.80" cy="517.86" r="1.15" fill="none" stroke="#222" stroke-width="0.7"/>
<circle cx="552.80" cy="517.13" r="1.15" fill="none" stroke="#222" stroke-width="0.7"/>
<circle cx="552.80" cy="516.34" r="1.15" fill="none" stroke="#222" stroke-width="0.7"/>
<circle cx="552.80" cy="514.89" r="1.15" fill="none" stroke="#222" stroke-width="0.7"/>
<circle cx="552.80" cy="513.11" r="1.15" fill="none" stroke="#222" stroke-width="0.7"/>
<circle cx="552.80" cy="511.99" r="1.15" fill="none" stroke="#222" stroke-width="0.7"/>
<circle cx="552.80" cy="510.25" r="1.15" fill="none" stroke="#222" stroke-width="0.7"/>
<circle cx="552.80" cy="508.60" r="1.15" fill="none" stroke="#222" stroke-width="0.7"/>
<circle cx="552.80" cy="506.87" r="1.15" fill="none" stroke="#222" stroke-width="0.7"/>
<circle cx="552.80" cy="504.32" r="1.15" fill="none" stroke="#222" stroke-width="0.7"/>
<circle cx="552.80" cy="501.73" r="1.15" fill="none" stroke="#222" stroke-width="0.7"/>
<circle cx="552.80" cy="497.82" r="1.15" fill="none" stroke="#222" stroke-width="0.7"/>
<circle cx="552.80" cy="494.01" r="1.15" fill="none" stroke="#222" stroke-width="0.7"/>
<circle cx="552.80" cy="490.89" r="1.15" fill="none" stroke="#222" stroke-width="0.7"/>
<circle cx="552.80" cy="487.40" r="1.3" fill="none" stroke="#333" stroke-width="0.75"/>
<circle cx="552.80" cy="479.40" r="1.3" fill="none" stroke="#333" stroke-width="0.75"/>
<circle cx="552.80" cy="468.80" r="1.3" fill="none" stroke="#333" stroke-width="0.75"/>
<line x1="576.20" y1="553.10" x2="576.20" y2="555.60" stroke="#888" stroke-width="0.7" stroke-dasharray="1.2,1.2"/>
<line x1="576.20" y1="558.40" x2="576.20" y2="558.40" stroke="#888" stroke-width="0.7" stroke-dasharray="1.2,1.2"/>
<line x1="571.40" y1="553.10" x2="581.00" y2="553.10" stroke="#777" stroke-width="0.9"/>
<line x1="571.40" y1="558.40" x2="581.00" y2="558.40" stroke="#777" stroke-width="0.9"/>
<rect x="566.80" y="555.60" width="18.80" height="2.80" fill="#33a02c" stroke="#555" stroke-width="0.7"/>
<line x1="566.80" y1="557.00" x2="585.60" y2="557.00" stroke="#111" stroke-width="1.3"/>
<circle cx="576.20" cy="552.10" r="1.15" fill="none" stroke="#111" stroke-width="0.7"/>
<circle cx="576.20" cy="551.20" r="1.15" fill="none" stroke="#111" stroke-width="0.7"/>
<circle cx="576.20" cy="550.30" r="1.15" fill="none" stroke="#111" stroke-width="0.7"/>
<circle cx="576.20" cy="549.40" r="1.15" fill="none" stroke="#111" stroke-width="0.7"/>
<circle cx="576.20" cy="548.50" r="1.15" fill="none" stroke="#111" stroke-width="0.7"/>
<circle cx="576.20" cy="547.60" r="1.15" fill="none" stroke="#111" stroke-width="0.7"/>
<circle cx="576.20" cy="546.70" r="1.15" fill="none" stroke="#111" stroke-width="0.7"/>
<circle cx="576.20" cy="545.80" r="1.15" fill="none" stroke="#111" stroke-width="0.7"/>
<circle cx="576.20" cy="544.90" r="1.15" fill="none" stroke="#111" stroke-width="0.7"/>
<circle cx="576.20" cy="544.00" r="1.15" fill="none" stroke="#111" stroke-width="0.7"/>
<circle cx="576.20" cy="543.10" r="1.15" fill="none" stroke="#111" stroke-width="0.7"/>
<circle cx="576.20" cy="542.20" r="1.15" fill="none" stroke="#111" stroke-width="0.7"/>
<circle cx="576.20" cy="541.30" r="1.15" fill="none" stroke="#111" stroke-width="0.7"/>
<circle cx="576.20" cy="540.40" r="1.15" fill="none" stroke="#111" stroke-width="0.7"/>
<circle cx="576.20" cy="539.50" r="1.15" fill="none" stroke="#111" stroke-width="0.7"/>
<circle cx="576.20" cy="538.60" r="1.15" fill="none" stroke="#111" stroke-width="0.7"/>
<circle cx="576.20" cy="537.70" r="1.15" fill="none" stroke="#111" stroke-width="0.7"/>
<circle cx="576.20" cy="536.80" r="1.15" fill="none" stroke="#111" stroke-width="0.7"/>
<circle cx="576.20" cy="535.90" r="1.15" fill="none" stroke="#111" stroke-width="0.7"/>
<circle cx="576.20" cy="535.00" r="1.15" fill="none" stroke="#111" stroke-width="0.7"/>
<circle cx="576.20" cy="534.10" r="1.15" fill="none" stroke="#111" stroke-width="0.7"/>
<circle cx="576.20" cy="533.20" r="1.15" fill="none" stroke="#111" stroke-width="0.7"/>
<circle cx="576.20" cy="532.30" r="1.15" fill="none" stroke="#111" stroke-width="0.7"/>
<circle cx="576.20" cy="531.40" r="1.15" fill="none" stroke="#111" stroke-width="0.7"/>
<circle cx="576.20" cy="530.50" r="1.15" fill="none" stroke="#111" stroke-width="0.7"/>
<circle cx="576.20" cy="529.60" r="1.15" fill="none" stroke="#111" stroke-width="0.7"/>
<circle cx="576.20" cy="528.70" r="1.15" fill="none" stroke="#111" stroke-width="0.7"/>
<circle cx="576.20" cy="527.80" r="1.15" fill="none" stroke="#111" stroke-width="0.7"/>
<circle cx="576.20" cy="526.90" r="1.15" fill="none" stroke="#111" stroke-width="0.7"/>
<circle cx="576.20" cy="526.00" r="1.15" fill="none" stroke="#111" stroke-width="0.7"/>
<circle cx="576.20" cy="525.10" r="1.15" fill="none" stroke="#111" stroke-width="0.7"/>
<circle cx="576.20" cy="524.20" r="1.15" fill="none" stroke="#111" stroke-width="0.7"/>
<circle cx="576.20" cy="523.30" r="1.15" fill="none" stroke="#111" stroke-width="0.7"/>
<circle cx="576.20" cy="522.40" r="1.15" fill="none" stroke="#111" stroke-width="0.7"/>
<circle cx="576.20" cy="521.50" r="1.15" fill="none" stroke="#111" stroke-width="0.7"/>
<circle cx="576.20" cy="520.60" r="1.15" fill="none" stroke="#111" stroke-width="0.7"/>
<circle cx="576.20" cy="519.70" r="1.15" fill="none" stroke="#111" stroke-width="0.7"/>
<circle cx="576.20" cy="518.80" r="1.15" fill="none" stroke="#111" stroke-width="0.7"/>
<circle cx="576.20" cy="517.90" r="1.15" fill="none" stroke="#111" stroke-width="0.7"/>
<circle cx="576.20" cy="517.00" r="1.15" fill="none" stroke="#111" stroke-width="0.7"/>
<circle cx="576.20" cy="516.10" r="1.15" fill="none" stroke="#111" stroke-width="0.7"/>
<circle cx="576.20" cy="515.20" r="1.15" fill="none" stroke="#111" stroke-width="0.7"/>
<circle cx="576.20" cy="514.30" r="1.15" fill="none" stroke="#111" stroke-width="0.7"/>
<circle cx="576.20" cy="513.40" r="1.15" fill="none" stroke="#111" stroke-width="0.7"/>
<circle cx="576.20" cy="512.50" r="1.15" fill="none" stroke="#111" stroke-width="0.7"/>
<circle cx="576.20" cy="511.60" r="1.15" fill="none" stroke="#222" stroke-width="0.7"/>
<circle cx="576.20" cy="510.55" r="1.15" fill="none" stroke="#222" stroke-width="0.7"/>
<circle cx="576.20" cy="508.94" r="1.15" fill="none" stroke="#222" stroke-width="0.7"/>
<circle cx="576.20" cy="507.34" r="1.15" fill="none" stroke="#222" stroke-width="0.7"/>
<circle cx="576.20" cy="504.08" r="1.15" fill="none" stroke="#222" stroke-width="0.7"/>
<circle cx="576.20" cy="501.30" r="1.3" fill="none" stroke="#333" stroke-width="0.75"/>
<circle cx="576.20" cy="496.20" r="1.3" fill="none" stroke="#333" stroke-width="0.75"/>
<circle cx="576.20" cy="491.40" r="1.3" fill="none" stroke="#333" stroke-width="0.75"/>
<circle cx="576.20" cy="483.40" r="1.3" fill="none" stroke="#333" stroke-width="0.75"/>
<circle cx="576.20" cy="477.50" r="1.3" fill="none" stroke="#333" stroke-width="0.75"/>
<line x1="599.50" y1="551.20" x2="599.50" y2="554.80" stroke="#888" stroke-width="0.7" stroke-dasharray="1.2,1.2"/>
<line x1="599.50" y1="558.20" x2="599.50" y2="558.40" stroke="#888" stroke-width="0.7" stroke-dasharray="1.2,1.2"/>
<line x1="594.70" y1="551.20" x2="604.30" y2="551.20" stroke="#777" stroke-width="0.9"/>
<line x1="594.70" y1="558.40" x2="604.30" y2="558.40" stroke="#777" stroke-width="0.9"/>
<rect x="590.10" y="554.80" width="18.80" height="3.40" fill="#fb9a99" stroke="#555" stroke-width="0.7"/>
<line x1="590.10" y1="556.70" x2="608.90" y2="556.70" stroke="#111" stroke-width="1.3"/>
<circle cx="599.50" cy="550.20" r="1.15" fill="none" stroke="#111" stroke-width="0.7"/>
<circle cx="599.50" cy="549.30" r="1.15" fill="none" stroke="#111" stroke-width="0.7"/>
<circle cx="599.50" cy="548.40" r="1.15" fill="none" stroke="#111" stroke-width="0.7"/>
<circle cx="599.50" cy="547.50" r="1.15" fill="none" stroke="#111" stroke-width="0.7"/>
<circle cx="599.50" cy="546.60" r="1.15" fill="none" stroke="#111" stroke-width="0.7"/>
<circle cx="599.50" cy="545.70" r="1.15" fill="none" stroke="#111" stroke-width="0.7"/>
<circle cx="599.50" cy="544.80" r="1.15" fill="none" stroke="#111" stroke-width="0.7"/>
<circle cx="599.50" cy="543.90" r="1.15" fill="none" stroke="#111" stroke-width="0.7"/>
<circle cx="599.50" cy="543.00" r="1.15" fill="none" stroke="#111" stroke-width="0.7"/>
<circle cx="599.50" cy="542.10" r="1.15" fill="none" stroke="#111" stroke-width="0.7"/>
<circle cx="599.50" cy="541.20" r="1.15" fill="none" stroke="#111" stroke-width="0.7"/>
<circle cx="599.50" cy="540.30" r="1.15" fill="none" stroke="#111" stroke-width="0.7"/>
<circle cx="599.50" cy="539.40" r="1.15" fill="none" stroke="#111" stroke-width="0.7"/>
<circle cx="599.50" cy="538.50" r="1.15" fill="none" stroke="#111" stroke-width="0.7"/>
<circle cx="599.50" cy="537.60" r="1.15" fill="none" stroke="#111" stroke-width="0.7"/>
<circle cx="599.50" cy="536.70" r="1.15" fill="none" stroke="#111" stroke-width="0.7"/>
<circle cx="599.50" cy="535.80" r="1.15" fill="none" stroke="#111" stroke-width="0.7"/>
<circle cx="599.50" cy="534.90" r="1.15" fill="none" stroke="#111" stroke-width="0.7"/>
<circle cx="599.50" cy="534.00" r="1.15" fill="none" stroke="#111" stroke-width="0.7"/>
<circle cx="599.50" cy="533.10" r="1.15" fill="none" stroke="#111" stroke-width="0.7"/>
<circle cx="599.50" cy="532.20" r="1.15" fill="none" stroke="#111" stroke-width="0.7"/>
<circle cx="599.50" cy="531.30" r="1.15" fill="none" stroke="#111" stroke-width="0.7"/>
<circle cx="599.50" cy="530.40" r="1.15" fill="none" stroke="#111" stroke-width="0.7"/>
<circle cx="599.50" cy="529.50" r="1.15" fill="none" stroke="#111" stroke-width="0.7"/>
<circle cx="599.50" cy="528.60" r="1.15" fill="none" stroke="#111" stroke-width="0.7"/>
<circle cx="599.50" cy="527.70" r="1.15" fill="none" stroke="#111" stroke-width="0.7"/>
<circle cx="599.50" cy="526.80" r="1.15" fill="none" stroke="#111" stroke-width="0.7"/>
<circle cx="599.50" cy="525.90" r="1.15" fill="none" stroke="#111" stroke-width="0.7"/>
<circle cx="599.50" cy="525.00" r="1.15" fill="none" stroke="#111" stroke-width="0.7"/>
<circle cx="599.50" cy="524.10" r="1.15" fill="none" stroke="#111" stroke-width="0.7"/>
<circle cx="599.50" cy="523.20" r="1.15" fill="none" stroke="#111" stroke-width="0.7"/>
<circle cx="599.50" cy="522.30" r="1.15" fill="none" stroke="#111" stroke-width="0.7"/>
<circle cx="599.50" cy="521.40" r="1.15" fill="none" stroke="#111" stroke-width="0.7"/>
<circle cx="599.50" cy="520.50" r="1.15" fill="none" stroke="#111" stroke-width="0.7"/>
<circle cx="599.50" cy="519.60" r="1.15" fill="none" stroke="#111" stroke-width="0.7"/>
<circle cx="599.50" cy="518.70" r="1.15" fill="none" stroke="#111" stroke-width="0.7"/>
<circle cx="599.50" cy="517.80" r="1.15" fill="none" stroke="#111" stroke-width="0.7"/>
<circle cx="599.50" cy="516.90" r="1.15" fill="none" stroke="#111" stroke-width="0.7"/>
<circle cx="599.50" cy="516.00" r="1.15" fill="none" stroke="#111" stroke-width="0.7"/>
<circle cx="599.50" cy="515.10" r="1.15" fill="none" stroke="#111" stroke-width="0.7"/>
<circle cx="599.50" cy="514.20" r="1.15" fill="none" stroke="#111" stroke-width="0.7"/>
<circle cx="599.50" cy="513.30" r="1.15" fill="none" stroke="#111" stroke-width="0.7"/>
<circle cx="599.50" cy="512.40" r="1.15" fill="none" stroke="#111" stroke-width="0.7"/>
<circle cx="599.50" cy="511.50" r="1.15" fill="none" stroke="#111" stroke-width="0.7"/>
<circle cx="599.50" cy="510.60" r="1.15" fill="none" stroke="#111" stroke-width="0.7"/>
<circle cx="599.50" cy="509.70" r="1.15" fill="none" stroke="#111" stroke-width="0.7"/>
<circle cx="599.50" cy="508.80" r="1.15" fill="none" stroke="#111" stroke-width="0.7"/>
<circle cx="599.50" cy="507.90" r="1.15" fill="none" stroke="#111" stroke-width="0.7"/>
<circle cx="599.50" cy="507.00" r="1.15" fill="none" stroke="#111" stroke-width="0.7"/>
<circle cx="599.50" cy="506.10" r="1.15" fill="none" stroke="#111" stroke-width="0.7"/>
<circle cx="599.50" cy="505.20" r="1.15" fill="none" stroke="#111" stroke-width="0.7"/>
<circle cx="599.50" cy="504.30" r="1.15" fill="none" stroke="#111" stroke-width="0.7"/>
<circle cx="599.50" cy="503.40" r="1.15" fill="none" stroke="#111" stroke-width="0.7"/>
<circle cx="599.50" cy="502.50" r="1.15" fill="none" stroke="#111" stroke-width="0.7"/>
<circle cx="599.50" cy="501.60" r="1.15" fill="none" stroke="#111" stroke-width="0.7"/>
<circle cx="599.50" cy="500.70" r="1.15" fill="none" stroke="#111" stroke-width="0.7"/>
<circle cx="599.50" cy="499.80" r="1.15" fill="none" stroke="#222" stroke-width="0.7"/>
<circle cx="599.50" cy="498.48" r="1.15" fill="none" stroke="#222" stroke-width="0.7"/>
<circle cx="599.50" cy="497.26" r="1.15" fill="none" stroke="#222" stroke-width="0.7"/>
<circle cx="599.50" cy="496.49" r="1.15" fill="none" stroke="#222" stroke-width="0.7"/>
<circle cx="599.50" cy="495.07" r="1.15" fill="none" stroke="#222" stroke-width="0.7"/>
<circle cx="599.50" cy="493.48" r="1.15" fill="none" stroke="#222" stroke-width="0.7"/>
<circle cx="599.50" cy="492.01" r="1.15" fill="none" stroke="#222" stroke-width="0.7"/>
<circle cx="599.50" cy="489.06" r="1.15" fill="none" stroke="#222" stroke-width="0.7"/>
<circle cx="599.50" cy="485.79" r="1.15" fill="none" stroke="#222" stroke-width="0.7"/>
<circle cx="599.50" cy="480.00" r="1.3" fill="none" stroke="#333" stroke-width="0.75"/>
<circle cx="599.50" cy="476.50" r="1.3" fill="none" stroke="#333" stroke-width="0.75"/>
<circle cx="599.50" cy="474.00" r="1.3" fill="none" stroke="#333" stroke-width="0.75"/>
<circle cx="599.50" cy="470.40" r="1.3" fill="none" stroke="#333" stroke-width="0.75"/>
<circle cx="599.50" cy="467.00" r="1.3" fill="none" stroke="#333" stroke-width="0.75"/>
<circle cx="599.50" cy="465.00" r="1.3" fill="none" stroke="#333" stroke-width="0.75"/>
<circle cx="599.50" cy="461.50" r="1.3" fill="none" stroke="#333" stroke-width="0.75"/>
<line x1="622.90" y1="551.70" x2="622.90" y2="554.50" stroke="#888" stroke-width="0.7" stroke-dasharray="1.2,1.2"/>
<line x1="622.90" y1="558.20" x2="622.90" y2="558.40" stroke="#888" stroke-width="0.7" stroke-dasharray="1.2,1.2"/>
<line x1="618.10" y1="551.70" x2="627.70" y2="551.70" stroke="#777" stroke-width="0.9"/>
<line x1="618.10" y1="558.40" x2="627.70" y2="558.40" stroke="#777" stroke-width="0.9"/>
<rect x="613.50" y="554.50" width="18.80" height="3.70" fill="#e31a1c" stroke="#555" stroke-width="0.7"/>
<line x1="613.50" y1="556.60" x2="632.30" y2="556.60" stroke="#111" stroke-width="1.3"/>
<circle cx="622.90" cy="550.70" r="1.15" fill="none" stroke="#111" stroke-width="0.7"/>
<circle cx="622.90" cy="549.80" r="1.15" fill="none" stroke="#111" stroke-width="0.7"/>
<circle cx="622.90" cy="548.90" r="1.15" fill="none" stroke="#111" stroke-width="0.7"/>
<circle cx="622.90" cy="548.00" r="1.15" fill="none" stroke="#111" stroke-width="0.7"/>
<circle cx="622.90" cy="547.10" r="1.15" fill="none" stroke="#111" stroke-width="0.7"/>
<circle cx="622.90" cy="546.20" r="1.15" fill="none" stroke="#111" stroke-width="0.7"/>
<circle cx="622.90" cy="545.30" r="1.15" fill="none" stroke="#111" stroke-width="0.7"/>
<circle cx="622.90" cy="544.40" r="1.15" fill="none" stroke="#111" stroke-width="0.7"/>
<circle cx="622.90" cy="543.50" r="1.15" fill="none" stroke="#111" stroke-width="0.7"/>
<circle cx="622.90" cy="542.60" r="1.15" fill="none" stroke="#111" stroke-width="0.7"/>
<circle cx="622.90" cy="541.70" r="1.15" fill="none" stroke="#111" stroke-width="0.7"/>
<circle cx="622.90" cy="540.80" r="1.15" fill="none" stroke="#111" stroke-width="0.7"/>
<circle cx="622.90" cy="539.90" r="1.15" fill="none" stroke="#111" stroke-width="0.7"/>
<circle cx="622.90" cy="539.00" r="1.15" fill="none" stroke="#111" stroke-width="0.7"/>
<circle cx="622.90" cy="538.10" r="1.15" fill="none" stroke="#111" stroke-width="0.7"/>
<circle cx="622.90" cy="537.20" r="1.15" fill="none" stroke="#111" stroke-width="0.7"/>
<circle cx="622.90" cy="536.30" r="1.15" fill="none" stroke="#111" stroke-width="0.7"/>
<circle cx="622.90" cy="535.40" r="1.15" fill="none" stroke="#111" stroke-width="0.7"/>
<circle cx="622.90" cy="534.50" r="1.15" fill="none" stroke="#111" stroke-width="0.7"/>
<circle cx="622.90" cy="533.60" r="1.15" fill="none" stroke="#111" stroke-width="0.7"/>
<circle cx="622.90" cy="532.70" r="1.15" fill="none" stroke="#111" stroke-width="0.7"/>
<circle cx="622.90" cy="531.80" r="1.15" fill="none" stroke="#111" stroke-width="0.7"/>
<circle cx="622.90" cy="530.90" r="1.15" fill="none" stroke="#111" stroke-width="0.7"/>
<circle cx="622.90" cy="530.00" r="1.15" fill="none" stroke="#111" stroke-width="0.7"/>
<circle cx="622.90" cy="529.10" r="1.15" fill="none" stroke="#111" stroke-width="0.7"/>
<circle cx="622.90" cy="528.20" r="1.15" fill="none" stroke="#111" stroke-width="0.7"/>
<circle cx="622.90" cy="527.30" r="1.15" fill="none" stroke="#111" stroke-width="0.7"/>
<circle cx="622.90" cy="526.40" r="1.15" fill="none" stroke="#111" stroke-width="0.7"/>
<circle cx="622.90" cy="525.50" r="1.15" fill="none" stroke="#111" stroke-width="0.7"/>
<circle cx="622.90" cy="524.60" r="1.15" fill="none" stroke="#111" stroke-width="0.7"/>
<circle cx="622.90" cy="523.70" r="1.15" fill="none" stroke="#111" stroke-width="0.7"/>
<circle cx="622.90" cy="522.80" r="1.15" fill="none" stroke="#111" stroke-width="0.7"/>
<circle cx="622.90" cy="521.90" r="1.15" fill="none" stroke="#111" stroke-width="0.7"/>
<circle cx="622.90" cy="521.00" r="1.15" fill="none" stroke="#111" stroke-width="0.7"/>
<circle cx="622.90" cy="520.10" r="1.15" fill="none" stroke="#111" stroke-width="0.7"/>
<circle cx="622.90" cy="519.20" r="1.15" fill="none" stroke="#111" stroke-width="0.7"/>
<circle cx="622.90" cy="518.30" r="1.15" fill="none" stroke="#111" stroke-width="0.7"/>
<circle cx="622.90" cy="517.40" r="1.15" fill="none" stroke="#111" stroke-width="0.7"/>
<circle cx="622.90" cy="516.50" r="1.15" fill="none" stroke="#111" stroke-width="0.7"/>
<circle cx="622.90" cy="515.60" r="1.15" fill="none" stroke="#111" stroke-width="0.7"/>
<circle cx="622.90" cy="514.70" r="1.15" fill="none" stroke="#222" stroke-width="0.7"/>
<circle cx="622.90" cy="513.67" r="1.15" fill="none" stroke="#222" stroke-width="0.7"/>
<circle cx="622.90" cy="512.27" r="1.15" fill="none" stroke="#222" stroke-width="0.7"/>
<circle cx="622.90" cy="511.19" r="1.15" fill="none" stroke="#222" stroke-width="0.7"/>
<circle cx="622.90" cy="510.13" r="1.15" fill="none" stroke="#222" stroke-width="0.7"/>
<circle cx="622.90" cy="509.00" r="1.15" fill="none" stroke="#222" stroke-width="0.7"/>
<circle cx="622.90" cy="508.15" r="1.15" fill="none" stroke="#222" stroke-width="0.7"/>
<circle cx="622.90" cy="507.02" r="1.15" fill="none" stroke="#222" stroke-width="0.7"/>
<circle cx="622.90" cy="505.51" r="1.15" fill="none" stroke="#222" stroke-width="0.7"/>
<circle cx="622.90" cy="503.23" r="1.15" fill="none" stroke="#222" stroke-width="0.7"/>
<circle cx="622.90" cy="500.47" r="1.15" fill="none" stroke="#222" stroke-width="0.7"/>
<circle cx="622.90" cy="497.23" r="1.15" fill="none" stroke="#222" stroke-width="0.7"/>
<circle cx="622.90" cy="493.89" r="1.15" fill="none" stroke="#222" stroke-width="0.7"/>
<circle cx="622.90" cy="489.28" r="1.15" fill="none" stroke="#222" stroke-width="0.7"/>
<circle cx="622.90" cy="484.00" r="1.3" fill="none" stroke="#333" stroke-width="0.75"/>
<circle cx="622.90" cy="480.00" r="1.3" fill="none" stroke="#333" stroke-width="0.75"/>
<circle cx="622.90" cy="476.00" r="1.3" fill="none" stroke="#333" stroke-width="0.75"/>
<circle cx="622.90" cy="473.00" r="1.3" fill="none" stroke="#333" stroke-width="0.75"/>
<circle cx="622.90" cy="469.00" r="1.3" fill="none" stroke="#333" stroke-width="0.75"/>
<circle cx="622.90" cy="466.00" r="1.3" fill="none" stroke="#333" stroke-width="0.75"/>
<circle cx="622.90" cy="460.90" r="1.3" fill="none" stroke="#333" stroke-width="0.75"/>
<circle cx="622.90" cy="455.30" r="1.3" fill="none" stroke="#333" stroke-width="0.75"/>
<text x="515.40" y="579.50" font-size="11.5" text-anchor="middle" fill="#2747e6" font-weight="normal" stroke="#2747e6" stroke-width="0.15">GM12878</text>
<text x="564.10" y="579.50" font-size="11.5" text-anchor="middle" fill="#22a022" font-weight="normal" stroke="#22a022" stroke-width="0.15">LNCaP</text>
<text x="609.65" y="579.50" font-size="11.5" text-anchor="middle" fill="#e8141c" font-weight="normal" stroke="#e8141c" stroke-width="0.15">HCT116</text>
<text x="441.00" y="495.50" font-size="11.4" text-anchor="middle" fill="#1a1a1a" font-weight="normal" stroke="#1a1a1a" stroke-width="0.15" transform="rotate(-90 441.00 495.50)">DNase hypersensitivity</text>
<text x="455.60" y="495.50" font-size="11.4" text-anchor="middle" fill="#1a1a1a" font-weight="normal" stroke="#1a1a1a" stroke-width="0.15" transform="rotate(-90 455.60 495.50)">coverage</text>
<rect x="488.50" y="607.60" width="152.00" height="135.50" fill="none" stroke="#b3b3b3" stroke-width="1.2"/>
<line x1="485.00" y1="738.00" x2="488.50" y2="738.00" stroke="#777" stroke-width="1"/>
<text x="481.60" y="742.00" font-size="11.2" text-anchor="end" fill="#1a1a1a" font-weight="normal" stroke="#1a1a1a" stroke-width="0.15">0.0</text>
<line x1="485.00" y1="716.52" x2="488.50" y2="716.52" stroke="#777" stroke-width="1"/>
<text x="481.60" y="720.52" font-size="11.2" text-anchor="end" fill="#1a1a1a" font-weight="normal" stroke="#1a1a1a" stroke-width="0.15">0.2</text>
<line x1="485.00" y1="695.04" x2="488.50" y2="695.04" stroke="#777" stroke-width="1"/>
<text x="481.60" y="699.04" font-size="11.2" text-anchor="end" fill="#1a1a1a" font-weight="normal" stroke="#1a1a1a" stroke-width="0.15">0.4</text>
<line x1="485.00" y1="673.56" x2="488.50" y2="673.56" stroke="#777" stroke-width="1"/>
<text x="481.60" y="677.56" font-size="11.2" text-anchor="end" fill="#1a1a1a" font-weight="normal" stroke="#1a1a1a" stroke-width="0.15">0.6</text>
<line x1="485.00" y1="652.08" x2="488.50" y2="652.08" stroke="#777" stroke-width="1"/>
<text x="481.60" y="656.08" font-size="11.2" text-anchor="end" fill="#1a1a1a" font-weight="normal" stroke="#1a1a1a" stroke-width="0.15">0.8</text>
<line x1="485.00" y1="630.60" x2="488.50" y2="630.60" stroke="#777" stroke-width="1"/>
<text x="481.60" y="634.60" font-size="11.2" text-anchor="end" fill="#1a1a1a" font-weight="normal" stroke="#1a1a1a" stroke-width="0.15">1.0</text>
<line x1="485.00" y1="609.12" x2="488.50" y2="609.12" stroke="#777" stroke-width="1"/>
<text x="481.60" y="613.12" font-size="11.2" text-anchor="end" fill="#1a1a1a" font-weight="normal" stroke="#1a1a1a" stroke-width="0.15">1.2</text>
<line x1="505.80" y1="727.60" x2="505.80" y2="734.20" stroke="#888" stroke-width="0.7" stroke-dasharray="1.2,1.2"/>
<line x1="505.80" y1="738.40" x2="505.80" y2="738.40" stroke="#888" stroke-width="0.7" stroke-dasharray="1.2,1.2"/>
<line x1="501.00" y1="727.60" x2="510.60" y2="727.60" stroke="#777" stroke-width="0.9"/>
<line x1="501.00" y1="738.40" x2="510.60" y2="738.40" stroke="#777" stroke-width="0.9"/>
<rect x="496.40" y="734.20" width="18.80" height="4.20" fill="#a6cee3" stroke="#555" stroke-width="0.7"/>
<line x1="496.40" y1="736.50" x2="515.20" y2="736.50" stroke="#111" stroke-width="1.3"/>
<circle cx="505.80" cy="726.60" r="1.15" fill="none" stroke="#111" stroke-width="0.7"/>
<circle cx="505.80" cy="725.70" r="1.15" fill="none" stroke="#111" stroke-width="0.7"/>
<circle cx="505.80" cy="724.80" r="1.15" fill="none" stroke="#111" stroke-width="0.7"/>
<circle cx="505.80" cy="723.90" r="1.15" fill="none" stroke="#111" stroke-width="0.7"/>
<circle cx="505.80" cy="723.00" r="1.15" fill="none" stroke="#111" stroke-width="0.7"/>
<circle cx="505.80" cy="722.10" r="1.15" fill="none" stroke="#111" stroke-width="0.7"/>
<circle cx="505.80" cy="721.20" r="1.15" fill="none" stroke="#111" stroke-width="0.7"/>
<circle cx="505.80" cy="720.30" r="1.15" fill="none" stroke="#111" stroke-width="0.7"/>
<circle cx="505.80" cy="719.40" r="1.15" fill="none" stroke="#111" stroke-width="0.7"/>
<circle cx="505.80" cy="718.50" r="1.15" fill="none" stroke="#111" stroke-width="0.7"/>
<circle cx="505.80" cy="717.60" r="1.15" fill="none" stroke="#111" stroke-width="0.7"/>
<circle cx="505.80" cy="716.70" r="1.15" fill="none" stroke="#111" stroke-width="0.7"/>
<circle cx="505.80" cy="715.80" r="1.15" fill="none" stroke="#111" stroke-width="0.7"/>
<circle cx="505.80" cy="714.90" r="1.15" fill="none" stroke="#111" stroke-width="0.7"/>
<circle cx="505.80" cy="714.00" r="1.15" fill="none" stroke="#111" stroke-width="0.7"/>
<circle cx="505.80" cy="713.10" r="1.15" fill="none" stroke="#111" stroke-width="0.7"/>
<circle cx="505.80" cy="712.20" r="1.15" fill="none" stroke="#111" stroke-width="0.7"/>
<circle cx="505.80" cy="711.30" r="1.15" fill="none" stroke="#111" stroke-width="0.7"/>
<circle cx="505.80" cy="710.40" r="1.15" fill="none" stroke="#111" stroke-width="0.7"/>
<circle cx="505.80" cy="709.50" r="1.15" fill="none" stroke="#111" stroke-width="0.7"/>
<circle cx="505.80" cy="708.60" r="1.15" fill="none" stroke="#111" stroke-width="0.7"/>
<circle cx="505.80" cy="707.70" r="1.15" fill="none" stroke="#111" stroke-width="0.7"/>
<circle cx="505.80" cy="706.80" r="1.15" fill="none" stroke="#111" stroke-width="0.7"/>
<circle cx="505.80" cy="705.90" r="1.15" fill="none" stroke="#111" stroke-width="0.7"/>
<circle cx="505.80" cy="705.00" r="1.15" fill="none" stroke="#111" stroke-width="0.7"/>
<circle cx="505.80" cy="704.10" r="1.15" fill="none" stroke="#111" stroke-width="0.7"/>
<circle cx="505.80" cy="703.20" r="1.15" fill="none" stroke="#111" stroke-width="0.7"/>
<circle cx="505.80" cy="702.30" r="1.15" fill="none" stroke="#111" stroke-width="0.7"/>
<circle cx="505.80" cy="701.40" r="1.15" fill="none" stroke="#111" stroke-width="0.7"/>
<circle cx="505.80" cy="700.50" r="1.15" fill="none" stroke="#111" stroke-width="0.7"/>
<circle cx="505.80" cy="699.60" r="1.15" fill="none" stroke="#111" stroke-width="0.7"/>
<circle cx="505.80" cy="698.70" r="1.15" fill="none" stroke="#111" stroke-width="0.7"/>
<circle cx="505.80" cy="697.80" r="1.15" fill="none" stroke="#111" stroke-width="0.7"/>
<circle cx="505.80" cy="696.90" r="1.15" fill="none" stroke="#111" stroke-width="0.7"/>
<circle cx="505.80" cy="696.00" r="1.15" fill="none" stroke="#111" stroke-width="0.7"/>
<circle cx="505.80" cy="695.10" r="1.15" fill="none" stroke="#111" stroke-width="0.7"/>
<circle cx="505.80" cy="694.20" r="1.15" fill="none" stroke="#111" stroke-width="0.7"/>
<circle cx="505.80" cy="693.30" r="1.15" fill="none" stroke="#111" stroke-width="0.7"/>
<circle cx="505.80" cy="692.40" r="1.15" fill="none" stroke="#111" stroke-width="0.7"/>
<circle cx="505.80" cy="691.50" r="1.15" fill="none" stroke="#111" stroke-width="0.7"/>
<circle cx="505.80" cy="690.60" r="1.15" fill="none" stroke="#111" stroke-width="0.7"/>
<circle cx="505.80" cy="689.70" r="1.15" fill="none" stroke="#111" stroke-width="0.7"/>
<circle cx="505.80" cy="688.80" r="1.15" fill="none" stroke="#111" stroke-width="0.7"/>
<circle cx="505.80" cy="687.90" r="1.15" fill="none" stroke="#111" stroke-width="0.7"/>
<circle cx="505.80" cy="687.00" r="1.15" fill="none" stroke="#111" stroke-width="0.7"/>
<circle cx="505.80" cy="686.10" r="1.15" fill="none" stroke="#111" stroke-width="0.7"/>
<circle cx="505.80" cy="685.20" r="1.15" fill="none" stroke="#111" stroke-width="0.7"/>
<circle cx="505.80" cy="684.30" r="1.15" fill="none" stroke="#111" stroke-width="0.7"/>
<circle cx="505.80" cy="683.40" r="1.15" fill="none" stroke="#111" stroke-width="0.7"/>
<circle cx="505.80" cy="682.50" r="1.15" fill="none" stroke="#111" stroke-width="0.7"/>
<circle cx="505.80" cy="681.60" r="1.15" fill="none" stroke="#111" stroke-width="0.7"/>
<circle cx="505.80" cy="680.70" r="1.15" fill="none" stroke="#111" stroke-width="0.7"/>
<circle cx="505.80" cy="679.80" r="1.15" fill="none" stroke="#111" stroke-width="0.7"/>
<circle cx="505.80" cy="678.90" r="1.15" fill="none" stroke="#111" stroke-width="0.7"/>
<circle cx="505.80" cy="678.00" r="1.15" fill="none" stroke="#111" stroke-width="0.7"/>
<circle cx="505.80" cy="677.10" r="1.15" fill="none" stroke="#111" stroke-width="0.7"/>
<circle cx="505.80" cy="676.20" r="1.15" fill="none" stroke="#111" stroke-width="0.7"/>
<circle cx="505.80" cy="675.30" r="1.15" fill="none" stroke="#111" stroke-width="0.7"/>
<circle cx="505.80" cy="674.40" r="1.15" fill="none" stroke="#111" stroke-width="0.7"/>
<circle cx="505.80" cy="673.50" r="1.15" fill="none" stroke="#111" stroke-width="0.7"/>
<circle cx="505.80" cy="672.60" r="1.15" fill="none" stroke="#111" stroke-width="0.7"/>
<circle cx="505.80" cy="671.70" r="1.15" fill="none" stroke="#111" stroke-width="0.7"/>
<circle cx="505.80" cy="670.80" r="1.15" fill="none" stroke="#111" stroke-width="0.7"/>
<circle cx="505.80" cy="669.90" r="1.15" fill="none" stroke="#111" stroke-width="0.7"/>
<circle cx="505.80" cy="669.00" r="1.15" fill="none" stroke="#111" stroke-width="0.7"/>
<circle cx="505.80" cy="668.10" r="1.15" fill="none" stroke="#111" stroke-width="0.7"/>
<circle cx="505.80" cy="667.20" r="1.15" fill="none" stroke="#111" stroke-width="0.7"/>
<circle cx="505.80" cy="666.30" r="1.15" fill="none" stroke="#111" stroke-width="0.7"/>
<circle cx="505.80" cy="665.40" r="1.15" fill="none" stroke="#111" stroke-width="0.7"/>
<circle cx="505.80" cy="664.50" r="1.15" fill="none" stroke="#111" stroke-width="0.7"/>
<circle cx="505.80" cy="663.60" r="1.15" fill="none" stroke="#111" stroke-width="0.7"/>
<circle cx="505.80" cy="662.70" r="1.15" fill="none" stroke="#111" stroke-width="0.7"/>
<circle cx="505.80" cy="661.80" r="1.15" fill="none" stroke="#222" stroke-width="0.7"/>
<circle cx="505.80" cy="661.10" r="1.15" fill="none" stroke="#222" stroke-width="0.7"/>
<circle cx="505.80" cy="660.07" r="1.15" fill="none" stroke="#222" stroke-width="0.7"/>
<circle cx="505.80" cy="658.77" r="1.15" fill="none" stroke="#222" stroke-width="0.7"/>
<circle cx="505.80" cy="657.79" r="1.15" fill="none" stroke="#222" stroke-width="0.7"/>
<circle cx="505.80" cy="656.57" r="1.15" fill="none" stroke="#222" stroke-width="0.7"/>
<circle cx="505.80" cy="654.36" r="1.15" fill="none" stroke="#222" stroke-width="0.7"/>
<circle cx="505.80" cy="652.38" r="1.15" fill="none" stroke="#222" stroke-width="0.7"/>
<circle cx="505.80" cy="649.51" r="1.15" fill="none" stroke="#222" stroke-width="0.7"/>
<circle cx="505.80" cy="644.00" r="1.3" fill="none" stroke="#333" stroke-width="0.75"/>
<circle cx="505.80" cy="635.70" r="1.3" fill="none" stroke="#333" stroke-width="0.75"/>
<circle cx="505.80" cy="625.10" r="1.3" fill="none" stroke="#333" stroke-width="0.75"/>
<circle cx="505.80" cy="620.30" r="1.3" fill="none" stroke="#333" stroke-width="0.75"/>
<line x1="529.40" y1="729.40" x2="529.40" y2="734.90" stroke="#888" stroke-width="0.7" stroke-dasharray="1.2,1.2"/>
<line x1="529.40" y1="738.40" x2="529.40" y2="738.40" stroke="#888" stroke-width="0.7" stroke-dasharray="1.2,1.2"/>
<line x1="524.60" y1="729.40" x2="534.20" y2="729.40" stroke="#777" stroke-width="0.9"/>
<line x1="524.60" y1="738.40" x2="534.20" y2="738.40" stroke="#777" stroke-width="0.9"/>
<rect x="520.00" y="734.90" width="18.80" height="3.50" fill="#1f78b4" stroke="#555" stroke-width="0.7"/>
<line x1="520.00" y1="736.80" x2="538.80" y2="736.80" stroke="#111" stroke-width="1.3"/>
<circle cx="529.40" cy="728.40" r="1.15" fill="none" stroke="#111" stroke-width="0.7"/>
<circle cx="529.40" cy="727.50" r="1.15" fill="none" stroke="#111" stroke-width="0.7"/>
<circle cx="529.40" cy="726.60" r="1.15" fill="none" stroke="#111" stroke-width="0.7"/>
<circle cx="529.40" cy="725.70" r="1.15" fill="none" stroke="#111" stroke-width="0.7"/>
<circle cx="529.40" cy="724.80" r="1.15" fill="none" stroke="#111" stroke-width="0.7"/>
<circle cx="529.40" cy="723.90" r="1.15" fill="none" stroke="#111" stroke-width="0.7"/>
<circle cx="529.40" cy="723.00" r="1.15" fill="none" stroke="#111" stroke-width="0.7"/>
<circle cx="529.40" cy="722.10" r="1.15" fill="none" stroke="#111" stroke-width="0.7"/>
<circle cx="529.40" cy="721.20" r="1.15" fill="none" stroke="#111" stroke-width="0.7"/>
<circle cx="529.40" cy="720.30" r="1.15" fill="none" stroke="#111" stroke-width="0.7"/>
<circle cx="529.40" cy="719.40" r="1.15" fill="none" stroke="#111" stroke-width="0.7"/>
<circle cx="529.40" cy="718.50" r="1.15" fill="none" stroke="#111" stroke-width="0.7"/>
<circle cx="529.40" cy="717.60" r="1.15" fill="none" stroke="#111" stroke-width="0.7"/>
<circle cx="529.40" cy="716.70" r="1.15" fill="none" stroke="#111" stroke-width="0.7"/>
<circle cx="529.40" cy="715.80" r="1.15" fill="none" stroke="#111" stroke-width="0.7"/>
<circle cx="529.40" cy="714.90" r="1.15" fill="none" stroke="#111" stroke-width="0.7"/>
<circle cx="529.40" cy="714.00" r="1.15" fill="none" stroke="#111" stroke-width="0.7"/>
<circle cx="529.40" cy="713.10" r="1.15" fill="none" stroke="#111" stroke-width="0.7"/>
<circle cx="529.40" cy="712.20" r="1.15" fill="none" stroke="#111" stroke-width="0.7"/>
<circle cx="529.40" cy="711.30" r="1.15" fill="none" stroke="#111" stroke-width="0.7"/>
<circle cx="529.40" cy="710.40" r="1.15" fill="none" stroke="#111" stroke-width="0.7"/>
<circle cx="529.40" cy="709.50" r="1.15" fill="none" stroke="#111" stroke-width="0.7"/>
<circle cx="529.40" cy="708.60" r="1.15" fill="none" stroke="#111" stroke-width="0.7"/>
<circle cx="529.40" cy="707.70" r="1.15" fill="none" stroke="#111" stroke-width="0.7"/>
<circle cx="529.40" cy="706.80" r="1.15" fill="none" stroke="#111" stroke-width="0.7"/>
<circle cx="529.40" cy="705.90" r="1.15" fill="none" stroke="#111" stroke-width="0.7"/>
<circle cx="529.40" cy="705.00" r="1.15" fill="none" stroke="#111" stroke-width="0.7"/>
<circle cx="529.40" cy="704.10" r="1.15" fill="none" stroke="#111" stroke-width="0.7"/>
<circle cx="529.40" cy="703.20" r="1.15" fill="none" stroke="#111" stroke-width="0.7"/>
<circle cx="529.40" cy="702.30" r="1.15" fill="none" stroke="#111" stroke-width="0.7"/>
<circle cx="529.40" cy="701.40" r="1.15" fill="none" stroke="#111" stroke-width="0.7"/>
<circle cx="529.40" cy="700.50" r="1.15" fill="none" stroke="#111" stroke-width="0.7"/>
<circle cx="529.40" cy="699.60" r="1.15" fill="none" stroke="#111" stroke-width="0.7"/>
<circle cx="529.40" cy="698.70" r="1.15" fill="none" stroke="#111" stroke-width="0.7"/>
<circle cx="529.40" cy="697.80" r="1.15" fill="none" stroke="#111" stroke-width="0.7"/>
<circle cx="529.40" cy="696.90" r="1.15" fill="none" stroke="#111" stroke-width="0.7"/>
<circle cx="529.40" cy="696.00" r="1.15" fill="none" stroke="#111" stroke-width="0.7"/>
<circle cx="529.40" cy="695.10" r="1.15" fill="none" stroke="#111" stroke-width="0.7"/>
<circle cx="529.40" cy="694.20" r="1.15" fill="none" stroke="#111" stroke-width="0.7"/>
<circle cx="529.40" cy="693.30" r="1.15" fill="none" stroke="#111" stroke-width="0.7"/>
<circle cx="529.40" cy="692.40" r="1.15" fill="none" stroke="#111" stroke-width="0.7"/>
<circle cx="529.40" cy="691.50" r="1.15" fill="none" stroke="#111" stroke-width="0.7"/>
<circle cx="529.40" cy="690.60" r="1.15" fill="none" stroke="#111" stroke-width="0.7"/>
<circle cx="529.40" cy="689.70" r="1.15" fill="none" stroke="#111" stroke-width="0.7"/>
<circle cx="529.40" cy="688.80" r="1.15" fill="none" stroke="#111" stroke-width="0.7"/>
<circle cx="529.40" cy="687.90" r="1.15" fill="none" stroke="#111" stroke-width="0.7"/>
<circle cx="529.40" cy="687.00" r="1.15" fill="none" stroke="#111" stroke-width="0.7"/>
<circle cx="529.40" cy="686.10" r="1.15" fill="none" stroke="#111" stroke-width="0.7"/>
<circle cx="529.40" cy="685.20" r="1.15" fill="none" stroke="#111" stroke-width="0.7"/>
<circle cx="529.40" cy="684.30" r="1.15" fill="none" stroke="#111" stroke-width="0.7"/>
<circle cx="529.40" cy="683.40" r="1.15" fill="none" stroke="#111" stroke-width="0.7"/>
<circle cx="529.40" cy="682.50" r="1.15" fill="none" stroke="#111" stroke-width="0.7"/>
<circle cx="529.40" cy="681.60" r="1.15" fill="none" stroke="#111" stroke-width="0.7"/>
<circle cx="529.40" cy="680.70" r="1.15" fill="none" stroke="#111" stroke-width="0.7"/>
<circle cx="529.40" cy="679.80" r="1.15" fill="none" stroke="#111" stroke-width="0.7"/>
<circle cx="529.40" cy="678.90" r="1.15" fill="none" stroke="#111" stroke-width="0.7"/>
<circle cx="529.40" cy="678.00" r="1.15" fill="none" stroke="#111" stroke-width="0.7"/>
<circle cx="529.40" cy="677.10" r="1.15" fill="none" stroke="#111" stroke-width="0.7"/>
<circle cx="529.40" cy="676.20" r="1.15" fill="none" stroke="#111" stroke-width="0.7"/>
<circle cx="529.40" cy="675.30" r="1.15" fill="none" stroke="#111" stroke-width="0.7"/>
<circle cx="529.40" cy="674.40" r="1.15" fill="none" stroke="#111" stroke-width="0.7"/>
<circle cx="529.40" cy="673.50" r="1.15" fill="none" stroke="#111" stroke-width="0.7"/>
<circle cx="529.40" cy="672.60" r="1.15" fill="none" stroke="#111" stroke-width="0.7"/>
<circle cx="529.40" cy="671.70" r="1.15" fill="none" stroke="#111" stroke-width="0.7"/>
<circle cx="529.40" cy="670.80" r="1.15" fill="none" stroke="#111" stroke-width="0.7"/>
<circle cx="529.40" cy="669.90" r="1.15" fill="none" stroke="#111" stroke-width="0.7"/>
<circle cx="529.40" cy="669.00" r="1.15" fill="none" stroke="#111" stroke-width="0.7"/>
<circle cx="529.40" cy="668.10" r="1.15" fill="none" stroke="#111" stroke-width="0.7"/>
<circle cx="529.40" cy="667.20" r="1.15" fill="none" stroke="#222" stroke-width="0.7"/>
<circle cx="529.40" cy="666.54" r="1.15" fill="none" stroke="#222" stroke-width="0.7"/>
<circle cx="529.40" cy="665.87" r="1.15" fill="none" stroke="#222" stroke-width="0.7"/>
<circle cx="529.40" cy="665.03" r="1.15" fill="none" stroke="#222" stroke-width="0.7"/>
<circle cx="529.40" cy="664.02" r="1.15" fill="none" stroke="#222" stroke-width="0.7"/>
<circle cx="529.40" cy="662.99" r="1.15" fill="none" stroke="#222" stroke-width="0.7"/>
<circle cx="529.40" cy="661.53" r="1.15" fill="none" stroke="#222" stroke-width="0.7"/>
<circle cx="529.40" cy="659.86" r="1.15" fill="none" stroke="#222" stroke-width="0.7"/>
<circle cx="529.40" cy="657.19" r="1.15" fill="none" stroke="#222" stroke-width="0.7"/>
<circle cx="529.40" cy="653.39" r="1.15" fill="none" stroke="#222" stroke-width="0.7"/>
<circle cx="529.40" cy="649.69" r="1.15" fill="none" stroke="#222" stroke-width="0.7"/>
<circle cx="529.40" cy="645.00" r="1.3" fill="none" stroke="#333" stroke-width="0.75"/>
<circle cx="529.40" cy="640.00" r="1.3" fill="none" stroke="#333" stroke-width="0.75"/>
<circle cx="529.40" cy="636.00" r="1.3" fill="none" stroke="#333" stroke-width="0.75"/>
<circle cx="529.40" cy="630.20" r="1.3" fill="none" stroke="#333" stroke-width="0.75"/>
<circle cx="529.40" cy="612.70" r="1.3" fill="none" stroke="#333" stroke-width="0.75"/>
<line x1="552.80" y1="646.60" x2="552.80" y2="696.50" stroke="#888" stroke-width="0.7" stroke-dasharray="1.2,1.2"/>
<line x1="552.80" y1="730.50" x2="552.80" y2="738.10" stroke="#888" stroke-width="0.7" stroke-dasharray="1.2,1.2"/>
<line x1="548.00" y1="646.60" x2="557.60" y2="646.60" stroke="#777" stroke-width="0.9"/>
<line x1="548.00" y1="738.10" x2="557.60" y2="738.10" stroke="#777" stroke-width="0.9"/>
<rect x="543.40" y="696.50" width="18.80" height="34.00" fill="#b2df8a" stroke="#555" stroke-width="0.7"/>
<line x1="543.40" y1="716.20" x2="562.20" y2="716.20" stroke="#111" stroke-width="1.3"/>
<circle cx="552.80" cy="645.60" r="1.15" fill="none" stroke="#111" stroke-width="0.7"/>
<circle cx="552.80" cy="644.70" r="1.15" fill="none" stroke="#111" stroke-width="0.7"/>
<circle cx="552.80" cy="639.00" r="1.3" fill="none" stroke="#333" stroke-width="0.75"/>
<circle cx="552.80" cy="633.00" r="1.3" fill="none" stroke="#333" stroke-width="0.75"/>
<line x1="576.50" y1="643.30" x2="576.50" y2="694.80" stroke="#888" stroke-width="0.7" stroke-dasharray="1.2,1.2"/>
<line x1="576.50" y1="728.70" x2="576.50" y2="738.10" stroke="#888" stroke-width="0.7" stroke-dasharray="1.2,1.2"/>
<line x1="571.70" y1="643.30" x2="581.30" y2="643.30" stroke="#777" stroke-width="0.9"/>
<line x1="571.70" y1="738.10" x2="581.30" y2="738.10" stroke="#777" stroke-width="0.9"/>
<rect x="567.10" y="694.80" width="18.80" height="33.90" fill="#33a02c" stroke="#555" stroke-width="0.7"/>
<line x1="567.10" y1="713.40" x2="585.90" y2="713.40" stroke="#111" stroke-width="1.3"/>
<circle cx="576.50" cy="640.70" r="1.3" fill="none" stroke="#333" stroke-width="0.75"/>
<line x1="600.10" y1="702.40" x2="600.10" y2="723.20" stroke="#888" stroke-width="0.7" stroke-dasharray="1.2,1.2"/>
<line x1="600.10" y1="737.20" x2="600.10" y2="738.40" stroke="#888" stroke-width="0.7" stroke-dasharray="1.2,1.2"/>
<line x1="595.30" y1="702.40" x2="604.90" y2="702.40" stroke="#777" stroke-width="0.9"/>
<line x1="595.30" y1="738.40" x2="604.90" y2="738.40" stroke="#777" stroke-width="0.9"/>
<rect x="590.70" y="723.20" width="18.80" height="14.00" fill="#fb9a99" stroke="#555" stroke-width="0.7"/>
<line x1="590.70" y1="734.20" x2="609.50" y2="734.20" stroke="#111" stroke-width="1.3"/>
<circle cx="600.10" cy="701.40" r="1.15" fill="none" stroke="#111" stroke-width="0.7"/>
<circle cx="600.10" cy="700.50" r="1.15" fill="none" stroke="#111" stroke-width="0.7"/>
<circle cx="600.10" cy="699.60" r="1.15" fill="none" stroke="#111" stroke-width="0.7"/>
<circle cx="600.10" cy="698.70" r="1.15" fill="none" stroke="#111" stroke-width="0.7"/>
<circle cx="600.10" cy="697.80" r="1.15" fill="none" stroke="#111" stroke-width="0.7"/>
<circle cx="600.10" cy="696.90" r="1.15" fill="none" stroke="#111" stroke-width="0.7"/>
<circle cx="600.10" cy="696.00" r="1.15" fill="none" stroke="#111" stroke-width="0.7"/>
<circle cx="600.10" cy="695.10" r="1.15" fill="none" stroke="#111" stroke-width="0.7"/>
<circle cx="600.10" cy="694.20" r="1.15" fill="none" stroke="#111" stroke-width="0.7"/>
<circle cx="600.10" cy="693.30" r="1.15" fill="none" stroke="#111" stroke-width="0.7"/>
<circle cx="600.10" cy="692.40" r="1.15" fill="none" stroke="#111" stroke-width="0.7"/>
<circle cx="600.10" cy="691.50" r="1.15" fill="none" stroke="#111" stroke-width="0.7"/>
<circle cx="600.10" cy="690.60" r="1.15" fill="none" stroke="#111" stroke-width="0.7"/>
<circle cx="600.10" cy="689.70" r="1.15" fill="none" stroke="#111" stroke-width="0.7"/>
<circle cx="600.10" cy="688.80" r="1.15" fill="none" stroke="#111" stroke-width="0.7"/>
<circle cx="600.10" cy="687.90" r="1.15" fill="none" stroke="#111" stroke-width="0.7"/>
<circle cx="600.10" cy="687.00" r="1.15" fill="none" stroke="#111" stroke-width="0.7"/>
<circle cx="600.10" cy="686.10" r="1.15" fill="none" stroke="#111" stroke-width="0.7"/>
<circle cx="600.10" cy="685.20" r="1.15" fill="none" stroke="#111" stroke-width="0.7"/>
<circle cx="600.10" cy="684.30" r="1.15" fill="none" stroke="#111" stroke-width="0.7"/>
<circle cx="600.10" cy="683.40" r="1.15" fill="none" stroke="#111" stroke-width="0.7"/>
<circle cx="600.10" cy="682.50" r="1.15" fill="none" stroke="#111" stroke-width="0.7"/>
<circle cx="600.10" cy="681.60" r="1.15" fill="none" stroke="#111" stroke-width="0.7"/>
<circle cx="600.10" cy="680.70" r="1.15" fill="none" stroke="#111" stroke-width="0.7"/>
<circle cx="600.10" cy="679.80" r="1.15" fill="none" stroke="#111" stroke-width="0.7"/>
<circle cx="600.10" cy="678.90" r="1.15" fill="none" stroke="#111" stroke-width="0.7"/>
<circle cx="600.10" cy="678.00" r="1.15" fill="none" stroke="#111" stroke-width="0.7"/>
<circle cx="600.10" cy="677.10" r="1.15" fill="none" stroke="#111" stroke-width="0.7"/>
<circle cx="600.10" cy="676.20" r="1.15" fill="none" stroke="#111" stroke-width="0.7"/>
<circle cx="600.10" cy="675.30" r="1.15" fill="none" stroke="#111" stroke-width="0.7"/>
<circle cx="600.10" cy="674.40" r="1.15" fill="none" stroke="#111" stroke-width="0.7"/>
<circle cx="600.10" cy="673.50" r="1.15" fill="none" stroke="#111" stroke-width="0.7"/>
<circle cx="600.10" cy="672.60" r="1.15" fill="none" stroke="#111" stroke-width="0.7"/>
<circle cx="600.10" cy="671.70" r="1.15" fill="none" stroke="#111" stroke-width="0.7"/>
<circle cx="600.10" cy="670.80" r="1.15" fill="none" stroke="#111" stroke-width="0.7"/>
<circle cx="600.10" cy="669.90" r="1.15" fill="none" stroke="#111" stroke-width="0.7"/>
<circle cx="600.10" cy="669.00" r="1.15" fill="none" stroke="#111" stroke-width="0.7"/>
<circle cx="600.10" cy="668.10" r="1.15" fill="none" stroke="#111" stroke-width="0.7"/>
<circle cx="600.10" cy="667.20" r="1.15" fill="none" stroke="#111" stroke-width="0.7"/>
<circle cx="600.10" cy="666.30" r="1.15" fill="none" stroke="#111" stroke-width="0.7"/>
<circle cx="600.10" cy="665.40" r="1.15" fill="none" stroke="#111" stroke-width="0.7"/>
<circle cx="600.10" cy="664.50" r="1.15" fill="none" stroke="#111" stroke-width="0.7"/>
<circle cx="600.10" cy="663.60" r="1.15" fill="none" stroke="#111" stroke-width="0.7"/>
<circle cx="600.10" cy="662.70" r="1.15" fill="none" stroke="#111" stroke-width="0.7"/>
<circle cx="600.10" cy="661.80" r="1.15" fill="none" stroke="#111" stroke-width="0.7"/>
<circle cx="600.10" cy="660.90" r="1.15" fill="none" stroke="#111" stroke-width="0.7"/>
<circle cx="600.10" cy="660.00" r="1.15" fill="none" stroke="#111" stroke-width="0.7"/>
<circle cx="600.10" cy="659.10" r="1.15" fill="none" stroke="#111" stroke-width="0.7"/>
<circle cx="600.10" cy="658.20" r="1.15" fill="none" stroke="#111" stroke-width="0.7"/>
<circle cx="600.10" cy="657.30" r="1.15" fill="none" stroke="#111" stroke-width="0.7"/>
<circle cx="600.10" cy="656.40" r="1.15" fill="none" stroke="#111" stroke-width="0.7"/>
<circle cx="600.10" cy="655.50" r="1.15" fill="none" stroke="#111" stroke-width="0.7"/>
<circle cx="600.10" cy="654.60" r="1.15" fill="none" stroke="#111" stroke-width="0.7"/>
<circle cx="600.10" cy="653.70" r="1.15" fill="none" stroke="#111" stroke-width="0.7"/>
<circle cx="600.10" cy="652.80" r="1.15" fill="none" stroke="#111" stroke-width="0.7"/>
<circle cx="600.10" cy="651.90" r="1.15" fill="none" stroke="#111" stroke-width="0.7"/>
<circle cx="600.10" cy="651.00" r="1.15" fill="none" stroke="#111" stroke-width="0.7"/>
<circle cx="600.10" cy="650.10" r="1.15" fill="none" stroke="#111" stroke-width="0.7"/>
<circle cx="600.10" cy="649.20" r="1.15" fill="none" stroke="#111" stroke-width="0.7"/>
<circle cx="600.10" cy="648.30" r="1.15" fill="none" stroke="#111" stroke-width="0.7"/>
<circle cx="600.10" cy="647.40" r="1.15" fill="none" stroke="#111" stroke-width="0.7"/>
<circle cx="600.10" cy="646.50" r="1.15" fill="none" stroke="#111" stroke-width="0.7"/>
<circle cx="600.10" cy="645.60" r="1.15" fill="none" stroke="#111" stroke-width="0.7"/>
<circle cx="600.10" cy="644.70" r="1.15" fill="none" stroke="#111" stroke-width="0.7"/>
<circle cx="600.10" cy="643.80" r="1.15" fill="none" stroke="#111" stroke-width="0.7"/>
<circle cx="600.10" cy="642.90" r="1.15" fill="none" stroke="#111" stroke-width="0.7"/>
<circle cx="600.10" cy="642.00" r="1.15" fill="none" stroke="#111" stroke-width="0.7"/>
<circle cx="600.10" cy="641.10" r="1.15" fill="none" stroke="#111" stroke-width="0.7"/>
<circle cx="600.10" cy="640.20" r="1.15" fill="none" stroke="#111" stroke-width="0.7"/>
<circle cx="600.10" cy="639.30" r="1.15" fill="none" stroke="#111" stroke-width="0.7"/>
<circle cx="600.10" cy="638.40" r="1.15" fill="none" stroke="#111" stroke-width="0.7"/>
<circle cx="600.10" cy="637.50" r="1.15" fill="none" stroke="#111" stroke-width="0.7"/>
<circle cx="600.10" cy="636.60" r="1.15" fill="none" stroke="#222" stroke-width="0.7"/>
<circle cx="600.10" cy="635.64" r="1.15" fill="none" stroke="#222" stroke-width="0.7"/>
<circle cx="600.10" cy="633.76" r="1.15" fill="none" stroke="#222" stroke-width="0.7"/>
<circle cx="600.10" cy="631.70" r="1.15" fill="none" stroke="#222" stroke-width="0.7"/>
<circle cx="600.10" cy="629.10" r="1.3" fill="none" stroke="#333" stroke-width="0.75"/>
<circle cx="600.10" cy="613.30" r="1.3" fill="none" stroke="#333" stroke-width="0.75"/>
<line x1="623.60" y1="698.50" x2="623.60" y2="721.60" stroke="#888" stroke-width="0.7" stroke-dasharray="1.2,1.2"/>
<line x1="623.60" y1="736.80" x2="623.60" y2="738.40" stroke="#888" stroke-width="0.7" stroke-dasharray="1.2,1.2"/>
<line x1="618.80" y1="698.50" x2="628.40" y2="698.50" stroke="#777" stroke-width="0.9"/>
<line x1="618.80" y1="738.40" x2="628.40" y2="738.40" stroke="#777" stroke-width="0.9"/>
<rect x="614.20" y="721.60" width="18.80" height="15.20" fill="#e31a1c" stroke="#555" stroke-width="0.7"/>
<line x1="614.20" y1="734.20" x2="633.00" y2="734.20" stroke="#111" stroke-width="1.3"/>
<circle cx="623.60" cy="697.50" r="1.15" fill="none" stroke="#111" stroke-width="0.7"/>
<circle cx="623.60" cy="696.60" r="1.15" fill="none" stroke="#111" stroke-width="0.7"/>
<circle cx="623.60" cy="695.70" r="1.15" fill="none" stroke="#111" stroke-width="0.7"/>
<circle cx="623.60" cy="694.80" r="1.15" fill="none" stroke="#111" stroke-width="0.7"/>
<circle cx="623.60" cy="693.90" r="1.15" fill="none" stroke="#111" stroke-width="0.7"/>
<circle cx="623.60" cy="693.00" r="1.15" fill="none" stroke="#111" stroke-width="0.7"/>
<circle cx="623.60" cy="692.10" r="1.15" fill="none" stroke="#111" stroke-width="0.7"/>
<circle cx="623.60" cy="691.20" r="1.15" fill="none" stroke="#111" stroke-width="0.7"/>
<circle cx="623.60" cy="690.30" r="1.15" fill="none" stroke="#111" stroke-width="0.7"/>
<circle cx="623.60" cy="689.40" r="1.15" fill="none" stroke="#111" stroke-width="0.7"/>
<circle cx="623.60" cy="688.50" r="1.15" fill="none" stroke="#111" stroke-width="0.7"/>
<circle cx="623.60" cy="687.60" r="1.15" fill="none" stroke="#111" stroke-width="0.7"/>
<circle cx="623.60" cy="686.70" r="1.15" fill="none" stroke="#111" stroke-width="0.7"/>
<circle cx="623.60" cy="685.80" r="1.15" fill="none" stroke="#111" stroke-width="0.7"/>
<circle cx="623.60" cy="684.90" r="1.15" fill="none" stroke="#111" stroke-width="0.7"/>
<circle cx="623.60" cy="684.00" r="1.15" fill="none" stroke="#111" stroke-width="0.7"/>
<circle cx="623.60" cy="683.10" r="1.15" fill="none" stroke="#111" stroke-width="0.7"/>
<circle cx="623.60" cy="682.20" r="1.15" fill="none" stroke="#111" stroke-width="0.7"/>
<circle cx="623.60" cy="681.30" r="1.15" fill="none" stroke="#111" stroke-width="0.7"/>
<circle cx="623.60" cy="680.40" r="1.15" fill="none" stroke="#111" stroke-width="0.7"/>
<circle cx="623.60" cy="679.50" r="1.15" fill="none" stroke="#111" stroke-width="0.7"/>
<circle cx="623.60" cy="678.60" r="1.15" fill="none" stroke="#111" stroke-width="0.7"/>
<circle cx="623.60" cy="677.70" r="1.15" fill="none" stroke="#111" stroke-width="0.7"/>
<circle cx="623.60" cy="676.80" r="1.15" fill="none" stroke="#111" stroke-width="0.7"/>
<circle cx="623.60" cy="675.90" r="1.15" fill="none" stroke="#111" stroke-width="0.7"/>
<circle cx="623.60" cy="675.00" r="1.15" fill="none" stroke="#111" stroke-width="0.7"/>
<circle cx="623.60" cy="674.10" r="1.15" fill="none" stroke="#111" stroke-width="0.7"/>
<circle cx="623.60" cy="673.20" r="1.15" fill="none" stroke="#111" stroke-width="0.7"/>
<circle cx="623.60" cy="672.30" r="1.15" fill="none" stroke="#111" stroke-width="0.7"/>
<circle cx="623.60" cy="671.40" r="1.15" fill="none" stroke="#111" stroke-width="0.7"/>
<circle cx="623.60" cy="670.50" r="1.15" fill="none" stroke="#111" stroke-width="0.7"/>
<circle cx="623.60" cy="669.60" r="1.15" fill="none" stroke="#111" stroke-width="0.7"/>
<circle cx="623.60" cy="668.70" r="1.15" fill="none" stroke="#111" stroke-width="0.7"/>
<circle cx="623.60" cy="667.80" r="1.15" fill="none" stroke="#111" stroke-width="0.7"/>
<circle cx="623.60" cy="666.90" r="1.15" fill="none" stroke="#111" stroke-width="0.7"/>
<circle cx="623.60" cy="666.00" r="1.15" fill="none" stroke="#111" stroke-width="0.7"/>
<circle cx="623.60" cy="665.10" r="1.15" fill="none" stroke="#111" stroke-width="0.7"/>
<circle cx="623.60" cy="664.20" r="1.15" fill="none" stroke="#111" stroke-width="0.7"/>
<circle cx="623.60" cy="663.30" r="1.15" fill="none" stroke="#111" stroke-width="0.7"/>
<circle cx="623.60" cy="662.40" r="1.15" fill="none" stroke="#111" stroke-width="0.7"/>
<circle cx="623.60" cy="661.50" r="1.15" fill="none" stroke="#111" stroke-width="0.7"/>
<circle cx="623.60" cy="660.60" r="1.15" fill="none" stroke="#111" stroke-width="0.7"/>
<circle cx="623.60" cy="659.70" r="1.15" fill="none" stroke="#111" stroke-width="0.7"/>
<circle cx="623.60" cy="658.80" r="1.15" fill="none" stroke="#111" stroke-width="0.7"/>
<circle cx="623.60" cy="657.90" r="1.15" fill="none" stroke="#111" stroke-width="0.7"/>
<circle cx="623.60" cy="657.00" r="1.15" fill="none" stroke="#111" stroke-width="0.7"/>
<circle cx="623.60" cy="656.10" r="1.15" fill="none" stroke="#111" stroke-width="0.7"/>
<circle cx="623.60" cy="655.20" r="1.15" fill="none" stroke="#111" stroke-width="0.7"/>
<circle cx="623.60" cy="654.30" r="1.15" fill="none" stroke="#111" stroke-width="0.7"/>
<circle cx="623.60" cy="653.40" r="1.15" fill="none" stroke="#111" stroke-width="0.7"/>
<circle cx="623.60" cy="652.50" r="1.15" fill="none" stroke="#111" stroke-width="0.7"/>
<circle cx="623.60" cy="651.60" r="1.15" fill="none" stroke="#111" stroke-width="0.7"/>
<circle cx="623.60" cy="650.70" r="1.15" fill="none" stroke="#111" stroke-width="0.7"/>
<circle cx="623.60" cy="649.80" r="1.15" fill="none" stroke="#111" stroke-width="0.7"/>
<circle cx="623.60" cy="648.90" r="1.15" fill="none" stroke="#111" stroke-width="0.7"/>
<circle cx="623.60" cy="648.00" r="1.15" fill="none" stroke="#111" stroke-width="0.7"/>
<circle cx="623.60" cy="647.10" r="1.15" fill="none" stroke="#111" stroke-width="0.7"/>
<circle cx="623.60" cy="646.20" r="1.15" fill="none" stroke="#111" stroke-width="0.7"/>
<circle cx="623.60" cy="645.30" r="1.15" fill="none" stroke="#111" stroke-width="0.7"/>
<circle cx="623.60" cy="644.40" r="1.15" fill="none" stroke="#111" stroke-width="0.7"/>
<circle cx="623.60" cy="643.50" r="1.15" fill="none" stroke="#111" stroke-width="0.7"/>
<circle cx="623.60" cy="642.60" r="1.15" fill="none" stroke="#111" stroke-width="0.7"/>
<circle cx="623.60" cy="641.70" r="1.15" fill="none" stroke="#111" stroke-width="0.7"/>
<circle cx="623.60" cy="640.80" r="1.15" fill="none" stroke="#111" stroke-width="0.7"/>
<circle cx="623.60" cy="639.90" r="1.15" fill="none" stroke="#111" stroke-width="0.7"/>
<circle cx="623.60" cy="639.00" r="1.15" fill="none" stroke="#111" stroke-width="0.7"/>
<circle cx="623.60" cy="638.10" r="1.15" fill="none" stroke="#111" stroke-width="0.7"/>
<circle cx="623.60" cy="637.20" r="1.15" fill="none" stroke="#111" stroke-width="0.7"/>
<circle cx="623.60" cy="636.30" r="1.15" fill="none" stroke="#111" stroke-width="0.7"/>
<circle cx="623.60" cy="635.40" r="1.15" fill="none" stroke="#111" stroke-width="0.7"/>
<circle cx="623.60" cy="634.50" r="1.15" fill="none" stroke="#222" stroke-width="0.7"/>
<circle cx="623.60" cy="633.10" r="1.15" fill="none" stroke="#222" stroke-width="0.7"/>
<circle cx="623.60" cy="631.75" r="1.15" fill="none" stroke="#222" stroke-width="0.7"/>
<circle cx="623.60" cy="629.12" r="1.15" fill="none" stroke="#222" stroke-width="0.7"/>
<circle cx="623.60" cy="626.90" r="1.3" fill="none" stroke="#333" stroke-width="0.75"/>
<circle cx="623.60" cy="624.30" r="1.3" fill="none" stroke="#333" stroke-width="0.75"/>
<text x="516.80" y="759.50" font-size="11.5" text-anchor="middle" fill="#2747e6" font-weight="normal" stroke="#2747e6" stroke-width="0.15">GM12878</text>
<text x="566.75" y="759.50" font-size="11.5" text-anchor="middle" fill="#22a022" font-weight="normal" stroke="#22a022" stroke-width="0.15">LNCaP</text>
<text x="613.15" y="759.50" font-size="11.5" text-anchor="middle" fill="#e8141c" font-weight="normal" stroke="#e8141c" stroke-width="0.15">HCT116</text>
<text x="441.00" y="675.40" font-size="11.4" text-anchor="middle" fill="#1a1a1a" font-weight="normal" stroke="#1a1a1a" stroke-width="0.15" transform="rotate(-90 441.00 675.40)">DNase hypersensitivity</text>
<text x="455.60" y="675.40" font-size="11.4" text-anchor="middle" fill="#1a1a1a" font-weight="normal" stroke="#1a1a1a" stroke-width="0.15" transform="rotate(-90 455.60 675.40)">coverage</text>
<line x1="77.80" y1="931.00" x2="77.80" y2="809.10" stroke="#111" stroke-width="1.1"/>
<path d="M75.90,810.10 L77.80,806.10 L79.70,810.10 Z" stroke="none" stroke-width="1" fill="#111"/>
<line x1="77.80" y1="931.00" x2="277.00" y2="931.00" stroke="#111" stroke-width="1.1"/>
<path d="M276.00,929.10 L280.00,931.00 L276.00,932.90 Z" stroke="none" stroke-width="1" fill="#111"/>
<path d="M93.70,849.70 C95.17,843.63 99.37,810.17 102.50,813.30 C105.63,816.43 108.78,867.25 112.50,868.50 C116.22,869.75 121.57,820.53 124.80,820.80 C128.03,821.07 128.67,868.63 131.90,870.10 C135.13,871.57 141.10,825.55 144.20,829.60 C147.30,833.65 147.23,890.88 150.50,894.40 C153.77,897.92 159.30,847.70 163.80,850.70 C168.30,853.70 173.03,912.72 177.50,912.40 C181.97,912.08 186.77,852.93 190.60,848.80 C194.43,844.67 197.38,890.62 200.50,887.60 C203.62,884.58 206.53,832.17 209.30,830.70 C212.07,829.23 213.60,880.22 217.10,878.80 C220.60,877.38 227.05,824.68 230.30,822.20 C233.55,819.72 233.07,864.77 236.60,863.90 C240.13,863.03 248.18,820.98 251.50,817.00 C254.82,813.02 254.93,830.92 256.50,840.00 C258.07,849.08 260.17,866.25 260.90,871.50" stroke="#aa00ff" stroke-width="2.1" fill="none" stroke-linejoin="round"/>
<text x="146.00" y="924.30" font-size="10.6" text-anchor="middle" fill="#aa00ff" font-weight="normal" stroke="#aa00ff" stroke-width="0.15">Observed signal</text>
<text x="70.00" y="869.50" font-size="10.6" text-anchor="middle" fill="#1a1a1a" font-weight="normal" stroke="#1a1a1a" stroke-width="0.15" transform="rotate(-90 70.00 869.50)">Read depth</text>
<text x="174.90" y="942.80" font-size="10.6" text-anchor="middle" fill="#1a1a1a" font-weight="normal" stroke="#1a1a1a" stroke-width="0.15">Position relative to TFBS</text>
<line x1="148.40" y1="945.70" x2="105.20" y2="973.40" stroke="#111" stroke-width="1.2"/>
<path d="M105.20,973.40 L109.27,967.70 L112.08,972.08 Z" stroke="none" stroke-width="1" fill="#111"/>
<line x1="192.20" y1="945.70" x2="234.50" y2="973.40" stroke="#111" stroke-width="1.2"/>
<path d="M234.50,973.40 L227.64,972.01 L230.49,967.66 Z" stroke="none" stroke-width="1" fill="#111"/>
<line x1="13.70" y1="1055.90" x2="13.70" y2="984.80" stroke="#111" stroke-width="1.1"/>
<path d="M11.80,985.80 L13.70,981.80 L15.60,985.80 Z" stroke="none" stroke-width="1" fill="#111"/>
<line x1="13.70" y1="1055.90" x2="170.40" y2="1055.90" stroke="#111" stroke-width="1.1"/>
<path d="M169.40,1054.00 L173.40,1055.90 L169.40,1057.80 Z" stroke="none" stroke-width="1" fill="#111"/>
<path d="M17.90,1014.70 C19.08,1010.97 22.82,988.15 25.00,992.30 C27.18,996.45 27.93,1039.60 31.00,1039.60 C34.07,1039.60 40.38,992.30 43.40,992.30 C46.42,992.30 46.17,1039.60 49.10,1039.60 C52.03,1039.60 57.93,992.30 61.00,992.30 C64.07,992.30 64.83,1039.60 67.50,1039.60 C70.17,1039.60 72.92,992.30 77.00,992.30 C81.08,992.30 87.02,1039.60 92.00,1039.60 C96.98,1039.60 103.32,992.30 106.90,992.30 C110.48,992.30 111.27,1039.60 113.50,1039.60 C115.73,1039.60 118.20,992.30 120.30,992.30 C122.40,992.30 123.82,1039.60 126.10,1039.60 C128.38,1039.60 131.02,992.30 134.00,992.30 C136.98,992.30 140.85,1039.60 144.00,1039.60 C147.15,1039.60 149.97,992.30 152.90,992.30 C155.83,992.30 159.58,1032.50 161.60,1039.60 C163.62,1046.70 164.43,1035.68 165.00,1034.90" stroke="#0000ff" stroke-width="2.1" fill="none" stroke-linejoin="round"/>
<text x="72.60" y="1052.80" font-size="10.6" text-anchor="middle" fill="#0000ff" font-weight="normal" stroke="#0000ff" stroke-width="0.15">High-frequency signal</text>
<text x="10.20" y="1025.00" font-size="10.6" text-anchor="middle" fill="#1a1a1a" font-weight="normal" stroke="#1a1a1a" stroke-width="0.15" transform="rotate(-90 10.20 1025.00)">Read depth</text>
<text x="76.50" y="1069.80" font-size="10.6" text-anchor="middle" fill="#1a1a1a" font-weight="normal" stroke="#1a1a1a" stroke-width="0.15">Position relative to TFBS</text>
<line x1="195.00" y1="1055.90" x2="195.00" y2="984.80" stroke="#111" stroke-width="1.1"/>
<path d="M193.10,985.80 L195.00,981.80 L196.90,985.80 Z" stroke="none" stroke-width="1" fill="#111"/>
<line x1="195.00" y1="1055.90" x2="351.30" y2="1055.90" stroke="#111" stroke-width="1.1"/>
<path d="M350.30,1054.00 L354.30,1055.90 L350.30,1057.80 Z" stroke="none" stroke-width="1" fill="#111"/>
<path d="M200.20,1001.00 C202.67,1003.42 209.70,1010.83 215.00,1015.50 C220.30,1020.17 226.17,1025.00 232.00,1029.00 C237.83,1033.00 243.50,1036.85 250.00,1039.50 C256.50,1042.15 264.33,1044.45 271.00,1044.90 C277.67,1045.35 283.50,1044.10 290.00,1042.20 C296.50,1040.30 303.33,1037.20 310.00,1033.50 C316.67,1029.80 322.82,1025.43 330.00,1020.00 C337.18,1014.57 349.25,1004.08 353.10,1000.90" stroke="#ff0000" stroke-width="2.1" fill="none"/>
<text x="250.50" y="1052.80" font-size="10.6" text-anchor="middle" fill="#ff0000" font-weight="normal" stroke="#ff0000" stroke-width="0.15">Low-frequency signal</text>
<text x="189.30" y="1025.00" font-size="10.6" text-anchor="middle" fill="#1a1a1a" font-weight="normal" stroke="#1a1a1a" stroke-width="0.15" transform="rotate(-90 189.30 1025.00)">Read depth</text>
<text x="259.60" y="1069.80" font-size="10.6" text-anchor="middle" fill="#1a1a1a" font-weight="normal" stroke="#1a1a1a" stroke-width="0.15">Position relative to TFBS</text>
<line x1="422.60" y1="821.80" x2="422.60" y2="1038.70" stroke="#555" stroke-width="1"/>
<line x1="418.00" y1="1038.70" x2="422.60" y2="1038.70" stroke="#555" stroke-width="1"/>
<line x1="418.00" y1="1002.55" x2="422.60" y2="1002.55" stroke="#555" stroke-width="1"/>
<line x1="418.00" y1="966.40" x2="422.60" y2="966.40" stroke="#555" stroke-width="1"/>
<line x1="418.00" y1="930.25" x2="422.60" y2="930.25" stroke="#555" stroke-width="1"/>
<line x1="418.00" y1="894.10" x2="422.60" y2="894.10" stroke="#555" stroke-width="1"/>
<line x1="418.00" y1="857.95" x2="422.60" y2="857.95" stroke="#555" stroke-width="1"/>
<line x1="418.00" y1="821.80" x2="422.60" y2="821.80" stroke="#555" stroke-width="1"/>
<text x="410.80" y="1042.60" font-size="11.0" text-anchor="end" fill="#1a1a1a" font-weight="normal" stroke="#1a1a1a" stroke-width="0.15">0.8</text>
<text x="410.80" y="970.30" font-size="11.0" text-anchor="end" fill="#1a1a1a" font-weight="normal" stroke="#1a1a1a" stroke-width="0.15">0.9</text>
<text x="410.80" y="898.00" font-size="11.0" text-anchor="end" fill="#1a1a1a" font-weight="normal" stroke="#1a1a1a" stroke-width="0.15">1.0</text>
<text x="410.80" y="825.70" font-size="11.0" text-anchor="end" fill="#1a1a1a" font-weight="normal" stroke="#1a1a1a" stroke-width="0.15">1.1</text>
<line x1="432.00" y1="1048.30" x2="671.20" y2="1048.30" stroke="#555" stroke-width="1"/>
<line x1="432.00" y1="1048.30" x2="432.00" y2="1052.50" stroke="#555" stroke-width="1"/>
<text x="432.00" y="1066.30" font-size="11.0" text-anchor="middle" fill="#1a1a1a" font-weight="normal" stroke="#1a1a1a" stroke-width="0.15">−1000</text>
<line x1="491.80" y1="1048.30" x2="491.80" y2="1052.50" stroke="#555" stroke-width="1"/>
<text x="491.80" y="1066.30" font-size="11.0" text-anchor="middle" fill="#1a1a1a" font-weight="normal" stroke="#1a1a1a" stroke-width="0.15">−500</text>
<line x1="551.60" y1="1048.30" x2="551.60" y2="1052.50" stroke="#555" stroke-width="1"/>
<text x="551.60" y="1066.30" font-size="11.0" text-anchor="middle" fill="#1a1a1a" font-weight="normal" stroke="#1a1a1a" stroke-width="0.15">0</text>
<line x1="611.40" y1="1048.30" x2="611.40" y2="1052.50" stroke="#555" stroke-width="1"/>
<text x="611.40" y="1066.30" font-size="11.0" text-anchor="middle" fill="#1a1a1a" font-weight="normal" stroke="#1a1a1a" stroke-width="0.15">500</text>
<line x1="671.20" y1="1048.30" x2="671.20" y2="1052.50" stroke="#555" stroke-width="1"/>
<text x="671.20" y="1066.30" font-size="11.0" text-anchor="middle" fill="#1a1a1a" font-weight="normal" stroke="#1a1a1a" stroke-width="0.15">1000</text>
<text x="551.60" y="1087.40" font-size="11.3" text-anchor="middle" fill="#1a1a1a" font-weight="normal" stroke="#1a1a1a" stroke-width="0.15">Position relative to TFBS</text>
<text x="380.10" y="932.00" font-size="11.3" text-anchor="middle" fill="#1a1a1a" font-weight="normal" stroke="#1a1a1a" stroke-width="0.15" transform="rotate(-90 380.10 932.00)">Read depth</text>
<path d="M431.7,856.9 L432.2,854.3 L432.8,851.7 L433.6,850.6 L434.6,850.4 L435.7,850.6 L436.3,854.0 L436.9,855.3 L437.6,857.7 L438.3,860.7 L439.1,862.3 L439.9,864.9 L440.7,866.8 L441.5,868.7 L442.3,869.9 L443.1,872.6 L443.9,873.3 L444.6,873.6 L445.4,875.2 L446.2,874.5 L447.0,872.3 L447.8,872.1 L448.6,870.1 L449.4,867.5 L450.2,864.2 L450.9,860.4 L451.6,860.2 L452.3,857.1 L452.9,856.4 L453.9,856.3 L454.6,857.2 L455.3,857.5 L455.9,861.2 L456.6,862.5 L457.6,863.4 L458.2,868.0 L458.8,871.9 L459.5,871.2 L460.2,876.1 L460.9,876.7 L461.7,878.8 L462.4,881.2 L463.2,883.2 L464.0,884.8 L464.8,886.4 L465.6,887.3 L466.4,887.1 L467.1,884.2 L467.8,885.0 L468.5,882.7 L469.2,880.7 L469.9,874.3 L470.7,874.0 L471.4,866.7 L472.1,866.9 L472.9,863.6 L473.6,859.3 L474.3,855.4 L475.1,856.5 L475.8,854.8 L476.5,853.8 L477.2,855.8 L478.0,857.3 L478.7,860.9 L479.3,867.0 L480.0,872.2 L480.7,878.1 L481.4,880.0 L482.1,885.0 L482.8,892.1 L483.6,895.0 L484.4,899.3 L485.2,901.8 L486.1,903.1 L486.7,903.1 L487.4,902.1 L488.1,899.7 L488.8,899.1 L489.5,897.8 L490.2,893.8 L491.0,893.4 L491.8,889.5 L492.6,887.7 L493.3,888.8 L494.1,886.2 L494.9,883.3 L495.7,881.7 L496.4,877.6 L497.2,877.3 L497.9,877.6 L498.6,875.2 L499.3,875.3 L499.9,877.4 L500.5,876.7 L501.4,878.9 L502.3,882.5 L503.1,884.1 L503.9,887.8 L504.6,892.9 L505.3,898.4 L506.0,905.5 L506.6,910.7 L507.3,914.5 L508.0,918.1 L508.7,920.2 L509.4,922.2 L510.1,921.4 L510.8,920.5 L511.4,915.0 L512.1,911.8 L512.8,907.5 L513.5,899.4 L514.2,894.1 L514.8,889.9 L515.5,886.6 L516.3,883.0 L517.0,878.1 L517.7,875.9 L518.5,876.6 L519.2,877.9 L519.9,882.6 L520.6,887.2 L521.3,893.0 L522.1,901.2 L522.8,908.9 L523.6,915.4 L524.4,923.8 L525.1,933.7 L525.9,941.5 L526.7,946.4 L527.4,952.6 L528.2,958.0 L528.9,959.2 L529.6,960.5 L530.3,961.0 L531.1,955.5 L531.8,949.3 L532.5,941.7 L533.2,931.1 L533.9,921.5 L534.5,911.3 L535.2,902.1 L535.9,892.0 L536.6,883.3 L537.4,875.8 L538.1,872.7 L538.8,869.5 L539.6,870.9 L540.3,876.0 L541.0,882.4 L541.7,891.2 L542.4,901.7 L543.1,915.8 L543.9,930.0 L544.6,943.2 L545.4,959.1 L546.1,976.3 L546.9,987.9 L547.6,1002.7 L548.4,1014.6 L549.2,1026.3 L549.9,1032.7 L550.7,1038.3 L551.5,1039.1 L552.2,1037.5 L552.9,1034.2 L553.6,1026.6 L554.4,1019.1 L555.1,1010.6 L555.9,997.0 L556.7,986.7 L557.4,973.7 L558.2,959.0 L558.9,945.9 L559.7,932.8 L560.4,919.9 L561.2,907.9 L561.9,895.6 L562.6,887.5 L563.3,880.2 L563.9,875.5 L564.6,871.8 L565.4,870.9 L566.2,872.1 L566.9,872.7 L567.7,880.6 L568.4,887.4 L569.1,894.1 L569.8,905.2 L570.5,913.7 L571.2,922.2 L571.8,931.9 L572.5,939.3 L573.2,947.4 L573.9,951.2 L574.6,953.3 L575.3,953.4 L576.0,953.6 L576.7,948.1 L577.4,942.5 L578.1,936.8 L578.8,930.1 L579.6,925.0 L580.3,917.8 L581.0,911.8 L581.7,903.7 L582.4,897.5 L583.1,890.0 L583.9,885.9 L584.6,881.4 L585.3,881.5 L586.0,881.6 L586.7,881.1 L587.4,884.3 L588.2,884.9 L588.9,890.1 L589.6,893.6 L590.4,899.0 L591.1,901.5 L591.8,903.1 L592.5,907.9 L593.2,910.5 L593.9,913.1 L594.6,913.1 L595.3,913.3 L596.1,914.4 L596.8,911.1 L597.5,910.5 L598.2,904.8 L598.9,900.3 L599.6,893.0 L600.3,888.0 L601.0,881.0 L601.7,879.1 L602.4,873.7 L603.1,872.5 L603.8,869.2 L604.5,869.0 L605.2,868.8 L605.9,870.1 L606.7,871.2 L607.4,874.5 L608.1,877.6 L608.8,879.8 L609.5,883.5 L610.3,886.5 L611.0,891.9 L611.7,893.7 L612.5,896.7 L613.2,896.4 L614.0,895.3 L614.7,896.3 L615.4,895.0 L616.1,890.8 L616.8,887.2 L617.5,884.9 L618.3,882.9 L619.0,878.7 L619.7,875.3 L620.5,872.0 L621.2,867.7 L621.9,864.3 L622.6,860.0 L623.2,858.3 L623.9,857.9 L624.5,856.3 L625.4,856.9 L626.2,857.1 L627.0,859.4 L627.8,862.8 L628.5,865.8 L629.2,869.9 L630.0,874.0 L630.7,877.5 L631.4,879.7 L632.1,881.5 L632.9,883.2 L633.7,884.1 L634.5,884.4 L635.2,884.6 L636.0,884.7 L636.7,887.3 L637.5,885.5 L638.3,884.0 L639.0,884.2 L639.8,882.9 L640.5,881.9 L641.3,879.9 L642.0,879.2 L642.7,878.4 L643.5,877.0 L644.2,874.7 L644.9,873.0 L645.6,872.3 L646.3,870.8 L647.1,873.5 L647.8,875.5 L648.4,877.9 L649.1,881.4 L649.8,882.8 L650.5,882.8 L651.3,883.3 L652.0,883.2 L652.7,880.8 L653.5,878.5 L654.2,878.8 L655.0,878.1 L655.8,876.6 L656.6,875.0 L657.4,873.6 L658.2,871.9 L658.9,869.7 L659.7,867.8 L660.5,865.2 L661.3,862.0 L662.1,861.9 L662.8,860.0 L663.6,858.2 L664.4,854.7 L665.1,855.8 L665.8,855.3 L666.7,854.3 L667.5,858.1 L668.4,859.3 L669.2,860.4 L670.0,862.0 L670.7,867.4 L671.3,868.1 L671.7,869.1" stroke="#333" stroke-width="0.7" fill="none" stroke-linejoin="round"/>
<path d="M431.70,902.00 C432.37,900.15 433.67,889.88 435.70,890.90 C437.73,891.92 441.03,909.75 443.90,908.10 C446.77,906.45 450.62,884.80 452.90,881.00 C455.18,877.20 455.35,881.22 457.60,885.30 C459.85,889.38 463.25,908.27 466.40,905.50 C469.55,902.73 473.22,866.82 476.50,868.70 C479.78,870.58 482.10,914.75 486.10,916.80 C490.10,918.85 496.62,881.87 500.50,881.00 C504.38,880.13 506.40,915.70 509.40,911.60 C512.40,907.50 515.13,853.58 518.50,856.40 C521.87,859.22 526.08,933.40 529.60,928.50 C533.12,923.60 535.95,815.13 539.60,827.00 C543.25,838.87 547.33,1000.13 551.50,999.70 C555.67,999.27 560.75,837.33 564.60,824.40 C568.45,811.47 571.27,915.53 574.60,922.10 C577.93,928.67 581.15,865.62 584.60,863.80 C588.05,861.98 591.98,909.18 595.30,911.20 C598.62,913.22 601.38,876.42 604.50,875.90 C607.62,875.38 610.67,909.38 614.00,908.10 C617.33,906.82 621.48,869.98 624.50,868.20 C627.52,866.42 629.68,892.28 632.10,897.40 C634.52,902.52 636.75,900.05 639.00,898.90 C641.25,897.75 643.55,889.73 645.60,890.50 C647.65,891.27 649.20,903.00 651.30,903.50 C653.40,904.00 655.78,896.62 658.20,893.50 C660.62,890.38 663.55,883.13 665.80,884.80 C668.05,886.47 670.72,900.38 671.70,903.50" stroke="#3080bd" stroke-width="2.0" fill="none" stroke-linejoin="round"/>
<path d="M431.70,847.70 C433.08,849.50 437.43,855.30 440.00,858.50 C442.57,861.70 444.60,864.57 447.10,866.90 C449.60,869.23 452.37,870.88 455.00,872.50 C457.63,874.12 458.73,875.40 462.90,876.60 C467.07,877.80 474.67,878.73 480.00,879.70 C485.33,880.67 491.55,881.17 494.90,882.40 C498.25,883.63 497.47,882.97 500.10,887.10 C502.73,891.23 507.92,903.17 510.70,907.20 C513.48,911.23 514.62,909.02 516.80,911.30 C518.98,913.58 521.17,917.40 523.80,920.90 C526.43,924.40 529.97,930.12 532.60,932.30 C535.23,934.48 536.45,932.70 539.60,934.00 C542.75,935.30 547.60,939.68 551.50,940.10 C555.40,940.52 559.73,937.95 563.00,936.50 C566.27,935.05 568.28,933.85 571.10,931.40 C573.92,928.95 577.57,925.38 579.90,921.80 C582.23,918.22 583.55,912.77 585.10,909.90 C586.65,907.03 587.23,906.85 589.20,904.60 C591.17,902.35 594.77,899.17 596.90,896.40 C599.03,893.63 600.22,890.15 602.00,888.00 C603.78,885.85 605.90,884.37 607.60,883.50 C609.30,882.63 609.13,883.30 612.20,882.80 C615.27,882.30 621.15,881.27 626.00,880.50 C630.85,879.73 636.20,879.73 641.30,878.20 C646.40,876.67 651.48,874.28 656.60,871.30 C661.72,868.32 669.43,862.13 672.00,860.30" stroke="#e0191c" stroke-width="2.0" fill="none" stroke-linejoin="round"/>
<rect x="63.80" y="1129.80" width="241.50" height="230.30" fill="none" stroke="#444" stroke-width="1"/>
<line x1="59.20" y1="1352.00" x2="63.80" y2="1352.00" stroke="#444" stroke-width="1"/>
<text x="52.10" y="1356.00" font-size="11.2" text-anchor="end" fill="#1a1a1a" font-weight="normal" stroke="#1a1a1a" stroke-width="0.15">0</text>
<line x1="59.20" y1="1298.52" x2="63.80" y2="1298.52" stroke="#444" stroke-width="1"/>
<text x="52.10" y="1302.52" font-size="11.2" text-anchor="end" fill="#1a1a1a" font-weight="normal" stroke="#1a1a1a" stroke-width="0.15">0.2</text>
<line x1="59.20" y1="1245.04" x2="63.80" y2="1245.04" stroke="#444" stroke-width="1"/>
<text x="52.10" y="1249.04" font-size="11.2" text-anchor="end" fill="#1a1a1a" font-weight="normal" stroke="#1a1a1a" stroke-width="0.15">0.4</text>
<line x1="59.20" y1="1191.56" x2="63.80" y2="1191.56" stroke="#444" stroke-width="1"/>
<text x="52.10" y="1195.56" font-size="11.2" text-anchor="end" fill="#1a1a1a" font-weight="normal" stroke="#1a1a1a" stroke-width="0.15">0.6</text>
<line x1="59.20" y1="1138.08" x2="63.80" y2="1138.08" stroke="#444" stroke-width="1"/>
<text x="52.10" y="1142.08" font-size="11.2" text-anchor="end" fill="#1a1a1a" font-weight="normal" stroke="#1a1a1a" stroke-width="0.15">0.8</text>
<line x1="128.50" y1="1360.10" x2="128.50" y2="1365.10" stroke="#444" stroke-width="1"/>
<text x="127.00" y="1381.50" font-size="11.3" text-anchor="middle" fill="#1a1a1a" font-weight="normal" stroke="#1a1a1a" stroke-width="0.15">Expression</text>
<text x="127.50" y="1394.90" font-size="11.3" text-anchor="middle" fill="#1a1a1a" font-weight="normal" stroke="#1a1a1a" stroke-width="0.15">&lt; 0.1 FPKM</text>
<line x1="240.30" y1="1360.10" x2="240.30" y2="1365.10" stroke="#444" stroke-width="1"/>
<text x="238.80" y="1381.50" font-size="11.3" text-anchor="middle" fill="#1a1a1a" font-weight="normal" stroke="#1a1a1a" stroke-width="0.15">Expression</text>
<text x="239.30" y="1394.90" font-size="11.3" text-anchor="middle" fill="#1a1a1a" font-weight="normal" stroke="#1a1a1a" stroke-width="0.15">&gt; 10 FPKM</text>
<text x="24.00" y="1244.95" font-size="11.3" text-anchor="middle" fill="#1a1a1a" font-weight="normal" stroke="#1a1a1a" stroke-width="0.15" transform="rotate(-90 24.00 1244.95)">Accessibility</text>
<line x1="128.50" y1="1284.80" x2="128.50" y2="1313.40" stroke="#555" stroke-width="0.8" stroke-dasharray="2,1.6"/>
<line x1="128.50" y1="1333.20" x2="128.50" y2="1338.30" stroke="#555" stroke-width="0.8" stroke-dasharray="2,1.6"/>
<line x1="106.40" y1="1284.80" x2="150.60" y2="1284.80" stroke="#666" stroke-width="1.1"/>
<line x1="106.40" y1="1338.30" x2="150.60" y2="1338.30" stroke="#666" stroke-width="1.1"/>
<rect x="83.75" y="1313.40" width="89.50" height="19.80" fill="#2c7bb6" stroke="#333" stroke-width="0.8"/>
<line x1="83.75" y1="1327.70" x2="173.25" y2="1327.70" stroke="#111" stroke-width="1.8"/>
<circle cx="128.50" cy="1221.80" r="1.9" fill="none" stroke="#222" stroke-width="0.9"/>
<circle cx="128.50" cy="1244.70" r="1.9" fill="none" stroke="#222" stroke-width="0.9"/>
<circle cx="128.50" cy="1254.90" r="1.9" fill="none" stroke="#222" stroke-width="0.9"/>
<circle cx="128.50" cy="1267.80" r="1.9" fill="none" stroke="#222" stroke-width="0.9"/>
<circle cx="128.50" cy="1269.90" r="1.9" fill="none" stroke="#222" stroke-width="0.9"/>
<circle cx="128.50" cy="1272.90" r="1.9" fill="none" stroke="#222" stroke-width="0.9"/>
<circle cx="128.50" cy="1277.00" r="1.9" fill="none" stroke="#222" stroke-width="0.9"/>
<circle cx="128.50" cy="1284.20" r="1.9" fill="none" stroke="#222" stroke-width="0.9"/>
<line x1="240.50" y1="1173.30" x2="240.50" y2="1260.20" stroke="#555" stroke-width="0.8" stroke-dasharray="2,1.6"/>
<line x1="240.50" y1="1323.10" x2="240.50" y2="1340.10" stroke="#555" stroke-width="0.8" stroke-dasharray="2,1.6"/>
<line x1="218.00" y1="1173.30" x2="263.00" y2="1173.30" stroke="#666" stroke-width="1.1"/>
<line x1="218.00" y1="1340.10" x2="263.00" y2="1340.10" stroke="#666" stroke-width="1.1"/>
<rect x="195.70" y="1260.20" width="89.60" height="62.90" fill="#d8181c" stroke="#333" stroke-width="0.8"/>
<line x1="195.70" y1="1299.00" x2="285.30" y2="1299.00" stroke="#111" stroke-width="1.8"/>
<circle cx="240.50" cy="1153.10" r="1.9" fill="none" stroke="#222" stroke-width="0.9"/>
<rect x="392.70" y="1129.20" width="240.80" height="230.80" fill="none" stroke="#444" stroke-width="1"/>
<line x1="388.10" y1="1351.80" x2="392.70" y2="1351.80" stroke="#444" stroke-width="1"/>
<text x="381.00" y="1355.80" font-size="11.2" text-anchor="end" fill="#1a1a1a" font-weight="normal" stroke="#1a1a1a" stroke-width="0.15">0</text>
<line x1="388.10" y1="1298.40" x2="392.70" y2="1298.40" stroke="#444" stroke-width="1"/>
<text x="381.00" y="1302.40" font-size="11.2" text-anchor="end" fill="#1a1a1a" font-weight="normal" stroke="#1a1a1a" stroke-width="0.15">0.2</text>
<line x1="388.10" y1="1245.00" x2="392.70" y2="1245.00" stroke="#444" stroke-width="1"/>
<text x="381.00" y="1249.00" font-size="11.2" text-anchor="end" fill="#1a1a1a" font-weight="normal" stroke="#1a1a1a" stroke-width="0.15">0.4</text>
<line x1="388.10" y1="1191.60" x2="392.70" y2="1191.60" stroke="#444" stroke-width="1"/>
<text x="381.00" y="1195.60" font-size="11.2" text-anchor="end" fill="#1a1a1a" font-weight="normal" stroke="#1a1a1a" stroke-width="0.15">0.6</text>
<line x1="388.10" y1="1138.20" x2="392.70" y2="1138.20" stroke="#444" stroke-width="1"/>
<text x="381.00" y="1142.20" font-size="11.2" text-anchor="end" fill="#1a1a1a" font-weight="normal" stroke="#1a1a1a" stroke-width="0.15">0.8</text>
<line x1="457.10" y1="1360.00" x2="457.10" y2="1365.00" stroke="#444" stroke-width="1"/>
<text x="455.60" y="1381.40" font-size="11.3" text-anchor="middle" fill="#1a1a1a" font-weight="normal" stroke="#1a1a1a" stroke-width="0.15">Mean DNase</text>
<text x="456.10" y="1394.80" font-size="11.3" text-anchor="middle" fill="#1a1a1a" font-weight="normal" stroke="#1a1a1a" stroke-width="0.15">coverage &lt; 1</text>
<line x1="568.90" y1="1360.00" x2="568.90" y2="1365.00" stroke="#444" stroke-width="1"/>
<text x="567.40" y="1381.40" font-size="11.3" text-anchor="middle" fill="#1a1a1a" font-weight="normal" stroke="#1a1a1a" stroke-width="0.15">Mean DNase</text>
<text x="567.90" y="1394.80" font-size="11.3" text-anchor="middle" fill="#1a1a1a" font-weight="normal" stroke="#1a1a1a" stroke-width="0.15">coverage &gt; 2</text>
<text x="350.60" y="1244.60" font-size="11.3" text-anchor="middle" fill="#1a1a1a" font-weight="normal" stroke="#1a1a1a" stroke-width="0.15" transform="rotate(-90 350.60 1244.60)">Accessibility</text>
<line x1="457.10" y1="1286.00" x2="457.10" y2="1313.40" stroke="#555" stroke-width="0.8" stroke-dasharray="2,1.6"/>
<line x1="457.10" y1="1332.40" x2="457.10" y2="1340.00" stroke="#555" stroke-width="0.8" stroke-dasharray="2,1.6"/>
<line x1="434.65" y1="1286.00" x2="479.55" y2="1286.00" stroke="#666" stroke-width="1.1"/>
<line x1="434.65" y1="1340.00" x2="479.55" y2="1340.00" stroke="#666" stroke-width="1.1"/>
<rect x="412.45" y="1313.40" width="89.30" height="19.00" fill="#2c7bb6" stroke="#333" stroke-width="0.8"/>
<line x1="412.45" y1="1327.30" x2="501.75" y2="1327.30" stroke="#111" stroke-width="1.8"/>
<circle cx="457.10" cy="1222.00" r="1.9" fill="none" stroke="#222" stroke-width="0.9"/>
<circle cx="457.10" cy="1229.60" r="1.9" fill="none" stroke="#222" stroke-width="0.9"/>
<circle cx="457.10" cy="1242.50" r="1.9" fill="none" stroke="#222" stroke-width="0.9"/>
<circle cx="457.10" cy="1244.10" r="1.9" fill="none" stroke="#222" stroke-width="0.9"/>
<circle cx="457.10" cy="1248.60" r="1.9" fill="none" stroke="#222" stroke-width="0.9"/>
<circle cx="457.10" cy="1254.10" r="1.9" fill="none" stroke="#222" stroke-width="0.9"/>
<circle cx="457.10" cy="1261.90" r="1.9" fill="none" stroke="#222" stroke-width="0.9"/>
<circle cx="457.10" cy="1268.00" r="1.9" fill="none" stroke="#222" stroke-width="0.9"/>
<circle cx="457.10" cy="1270.00" r="1.9" fill="none" stroke="#222" stroke-width="0.9"/>
<circle cx="457.10" cy="1272.00" r="1.9" fill="none" stroke="#222" stroke-width="0.9"/>
<circle cx="457.10" cy="1274.20" r="1.9" fill="none" stroke="#222" stroke-width="0.9"/>
<circle cx="457.10" cy="1276.20" r="1.9" fill="none" stroke="#222" stroke-width="0.9"/>
<circle cx="457.10" cy="1279.30" r="1.9" fill="none" stroke="#222" stroke-width="0.9"/>
<circle cx="457.10" cy="1282.30" r="1.9" fill="none" stroke="#222" stroke-width="0.9"/>
<circle cx="457.10" cy="1284.40" r="1.9" fill="none" stroke="#222" stroke-width="0.9"/>
<line x1="568.90" y1="1156.20" x2="568.90" y2="1250.60" stroke="#555" stroke-width="0.8" stroke-dasharray="2,1.6"/>
<line x1="568.90" y1="1314.50" x2="568.90" y2="1334.80" stroke="#555" stroke-width="0.8" stroke-dasharray="2,1.6"/>
<line x1="546.45" y1="1156.20" x2="591.35" y2="1156.20" stroke="#666" stroke-width="1.1"/>
<line x1="546.45" y1="1334.80" x2="591.35" y2="1334.80" stroke="#666" stroke-width="1.1"/>
<rect x="524.25" y="1250.60" width="89.30" height="63.90" fill="#d8181c" stroke="#333" stroke-width="0.8"/>
<line x1="524.25" y1="1285.80" x2="613.55" y2="1285.80" stroke="#111" stroke-width="1.8"/>
<circle cx="568.90" cy="1152.90" r="1.9" fill="none" stroke="#222" stroke-width="0.9"/>
</svg></body></html>
